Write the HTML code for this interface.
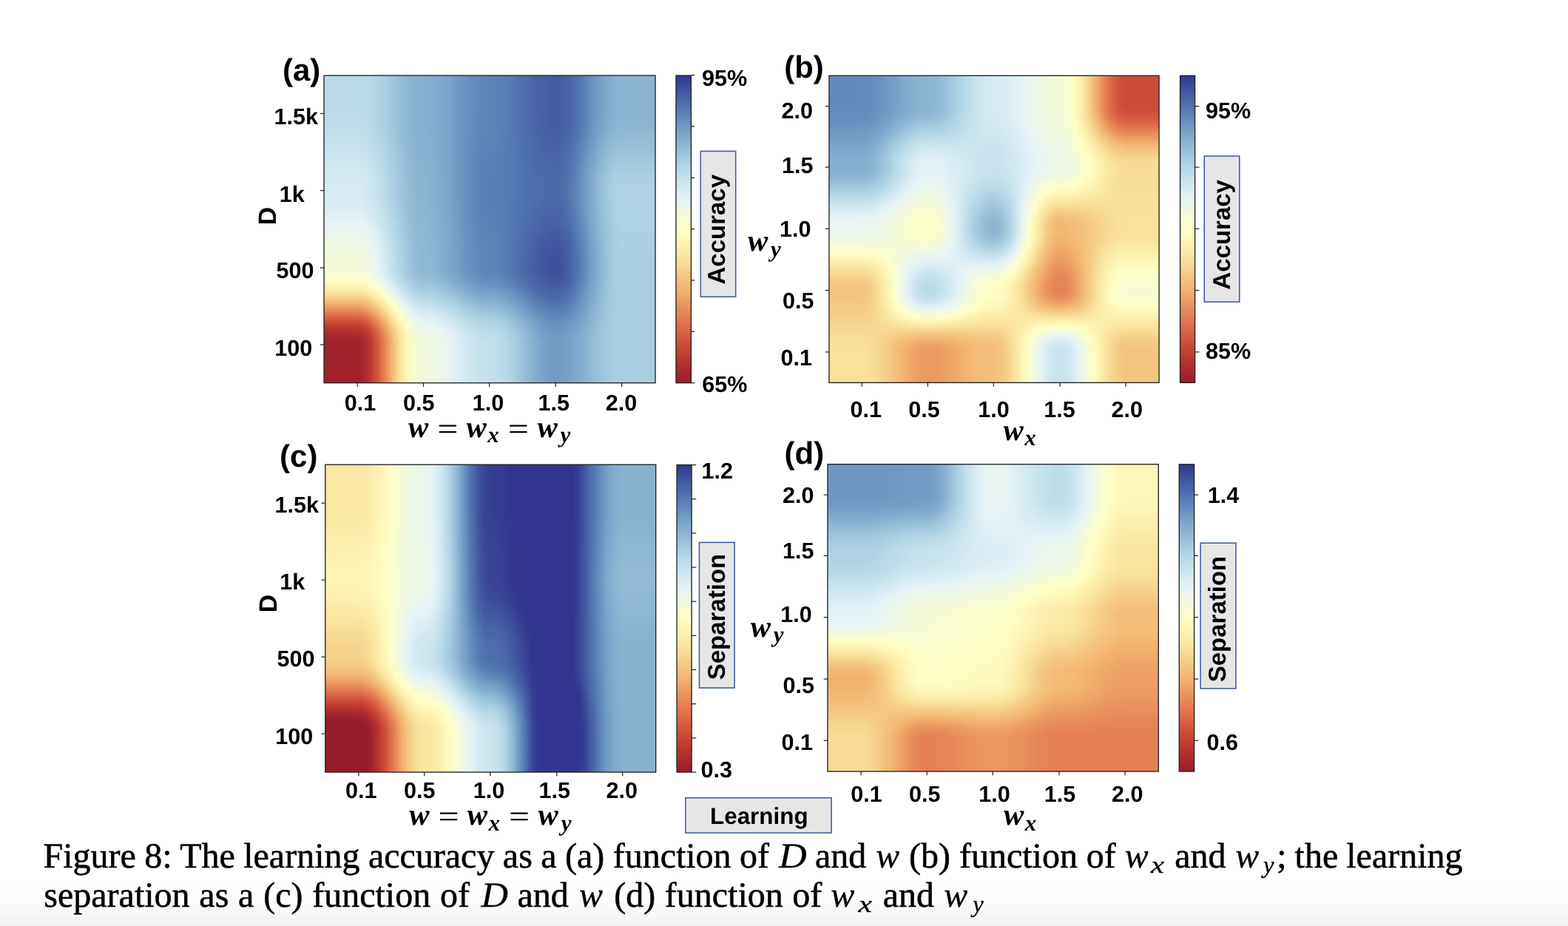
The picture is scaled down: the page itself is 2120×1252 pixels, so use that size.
<!DOCTYPE html>
<html lang="en"><head><meta charset="utf-8"><title>Figure 8</title>
<style>
html,body{margin:0;padding:0;background:#fff;overflow:hidden}
body{width:2120px;height:1252px;position:relative;overflow:hidden;font-family:"Liberation Sans",sans-serif}
.hm,.cb{position:absolute}
.hm{overflow:hidden}
.hs{margin-top:-8px;filter:url(#vb)}
.hm i{display:block;height:4px}
svg{position:absolute;left:0;top:0}
text{text-rendering:geometricPrecision}
.sb{font-family:"Liberation Sans",sans-serif;font-weight:700;fill:#000}
.mi{font-family:"Liberation Serif",serif;font-weight:700;font-style:italic;fill:#000}
.eqs{font-family:"Liberation Serif",serif;font-weight:700;fill:#000}
.cp{font-family:"Liberation Serif",serif;fill:#000}
.ci{font-family:"Liberation Serif",serif;font-style:italic;fill:#000}
.cb2{stroke:#000;stroke-width:.55px}
.cb3{stroke:#000;stroke-width:.3px}
.ft{position:absolute;left:0;top:1190px;width:2120px;height:62px;background:linear-gradient(180deg,#fff,#fefefe 25%,#fbfbfb 50%,#f7f7f7 75%,#f1f1f1)}
</style></head>
<body>
<div class="ft"></div>
<div class="hm" style="left:438px;top:102px;width:448px;height:416px"><div class="hs">
<i style="background:linear-gradient(90deg,#bddcea,#bddcea,#bddcea,#bddcea,#bddcea,#bddcea,#bddcea,#bbdbe9,#b7d9e8,#b1d5e6,#abd0e3,#a3c9de,#9bc2da,#95bdd7,#8fb8d4,#89b2d1,#87b1d1,#85afd0,#85afd0,#81abce,#7da7cb,#79a3c9,#739cc5,#6e96c2,#6a91bf,#648bbc,#6289ba,#5e84b8,#5e84b8,#5c82b7,#5b80b6,#597eb4,#5579b2,#5073af,#4d6eac,#4b69aa,#4762a6,#465fa5,#455da3,#435aa2,#455da3,#4762a6,#4b69aa,#5175b0,#5b80b6,#668dbd,#6f98c3,#79a3c9,#81abce,#87b1d1,#8bb4d2,#8bb4d2,#8bb4d2,#8bb4d2,#8bb4d2,#8bb4d2,#8bb4d2)"></i>
<i style="background:linear-gradient(90deg,#bddcea,#bddcea,#bddcea,#bddcea,#bddcea,#bddcea,#bddcea,#bbdbe9,#b7d9e8,#b1d5e6,#abd0e3,#a3c9de,#9bc2da,#95bdd7,#8fb8d4,#89b2d1,#87b1d1,#85afd0,#85afd0,#81abce,#7da7cb,#79a3c9,#739cc5,#6e96c2,#6a91bf,#648bbc,#6289ba,#5e84b8,#5e84b8,#5c82b7,#5b80b6,#597eb4,#5579b2,#5073af,#4d6eac,#4b69aa,#4762a6,#465fa5,#455da3,#435aa2,#455da3,#4762a6,#4b69aa,#5175b0,#5b80b6,#668dbd,#6f98c3,#79a3c9,#81abce,#87b1d1,#8bb4d2,#8bb4d2,#8bb4d2,#8bb4d2,#8bb4d2,#8bb4d2,#8bb4d2)"></i>
<i style="background:linear-gradient(90deg,#bddcea,#bddcea,#bddcea,#bddcea,#bddcea,#bddcea,#bddcea,#bbdbe9,#b7d9e8,#b1d5e6,#abd0e3,#a3c9de,#9bc2da,#95bdd7,#8fb8d4,#89b2d1,#87b1d1,#85afd0,#85afd0,#81abce,#7da7cb,#79a3c9,#739cc5,#6e96c2,#6a91bf,#648bbc,#6289ba,#5e84b8,#5e84b8,#5c82b7,#5b80b6,#597eb4,#5579b2,#5073af,#4d6eac,#4b69aa,#4762a6,#465fa5,#455da3,#435aa2,#455da3,#4762a6,#4b69aa,#5175b0,#5b80b6,#668dbd,#6f98c3,#79a3c9,#81abce,#87b1d1,#8bb4d2,#8bb4d2,#8bb4d2,#8bb4d2,#8bb4d2,#8bb4d2,#8bb4d2)"></i>
<i style="background:linear-gradient(90deg,#bddcea,#bddcea,#bddcea,#bddcea,#bddcea,#bddcea,#bddcea,#bbdbe9,#b7d9e8,#b1d5e6,#abd0e3,#a3c9de,#9bc2da,#95bdd7,#8fb8d4,#89b2d1,#87b1d1,#85afd0,#85afd0,#81abce,#7da7cb,#79a3c9,#739cc5,#6e96c2,#6a91bf,#648bbc,#6289ba,#5e84b8,#5e84b8,#5c82b7,#5b80b6,#597eb4,#5579b2,#5073af,#4d6eac,#4b69aa,#4762a6,#465fa5,#455da3,#435aa2,#455da3,#4762a6,#4b69aa,#5175b0,#5b80b6,#668dbd,#6f98c3,#79a3c9,#81abce,#87b1d1,#8bb4d2,#8bb4d2,#8bb4d2,#8bb4d2,#8bb4d2,#8bb4d2,#8bb4d2)"></i>
<i style="background:linear-gradient(90deg,#bddcea,#bddcea,#bddcea,#bddcea,#bddcea,#bddcea,#bddcea,#bbdbe9,#b7d9e8,#b1d5e6,#abd0e3,#a3c9de,#9bc2da,#95bdd7,#8fb8d4,#89b2d1,#87b1d1,#85afd0,#85afd0,#81abce,#7da7cb,#79a3c9,#739cc5,#6e96c2,#6a91bf,#648bbc,#6289ba,#5e84b8,#5e84b8,#5c82b7,#5b80b6,#597eb4,#5579b2,#5073af,#4d6eac,#4b69aa,#4762a6,#465fa5,#455da3,#435aa2,#455da3,#4762a6,#4b69aa,#5175b0,#5b80b6,#668dbd,#6f98c3,#79a3c9,#81abce,#87b1d1,#8bb4d2,#8bb4d2,#8bb4d2,#8bb4d2,#8bb4d2,#8bb4d2,#8bb4d2)"></i>
<i style="background:linear-gradient(90deg,#bddcea,#bddcea,#bddcea,#bddcea,#bddcea,#bddcea,#bddcea,#bbdbe9,#b7d9e8,#b1d5e6,#abd0e3,#a3c9de,#9bc2da,#95bdd7,#8fb8d4,#89b2d1,#87b1d1,#85afd0,#85afd0,#81abce,#7da7cb,#79a3c9,#739cc5,#6e96c2,#6a91bf,#648bbc,#6289ba,#5e84b8,#5e84b8,#5c82b7,#5b80b6,#597eb4,#5579b2,#5073af,#4d6eac,#4b69aa,#4762a6,#465fa5,#455da3,#435aa2,#455da3,#4762a6,#4b69aa,#5175b0,#5b80b6,#668dbd,#6f98c3,#79a3c9,#81abce,#87b1d1,#8bb4d2,#8bb4d2,#8bb4d2,#8bb4d2,#8bb4d2,#8bb4d2,#8bb4d2)"></i>
<i style="background:linear-gradient(90deg,#bddcea,#bddcea,#bddcea,#bddcea,#bddcea,#bddcea,#bddcea,#bbdbe9,#b7d9e8,#b1d5e6,#abd0e3,#a3c9de,#9bc2da,#95bdd7,#8fb8d4,#89b2d1,#87b1d1,#85afd0,#85afd0,#81abce,#7da7cb,#79a3c9,#739cc5,#6e96c2,#6a91bf,#648bbc,#6289ba,#5e84b8,#5e84b8,#5c82b7,#5b80b6,#597eb4,#5579b2,#5073af,#4d6eac,#4b69aa,#4762a6,#465fa5,#455da3,#435aa2,#455da3,#4762a6,#4b69aa,#5175b0,#5b80b6,#668dbd,#6f98c3,#79a3c9,#81abce,#87b1d1,#8bb4d2,#8bb4d2,#8bb4d2,#8bb4d2,#8bb4d2,#8bb4d2,#8bb4d2)"></i>
<i style="background:linear-gradient(90deg,#bddcea,#bddcea,#bddcea,#bddcea,#bddcea,#bddcea,#bddcea,#bbdbe9,#b7d9e8,#b1d5e6,#abd0e3,#a3c9de,#9bc2da,#95bdd7,#8fb8d4,#89b2d1,#87b1d1,#85afd0,#85afd0,#81abce,#7da7cb,#79a3c9,#739cc5,#6e96c2,#6a91bf,#648bbc,#6289ba,#5e84b8,#5e84b8,#5c82b7,#5b80b6,#597eb4,#5579b2,#5073af,#4d6eac,#4b69aa,#4762a6,#465fa5,#455da3,#435aa2,#455da3,#4762a6,#4b69aa,#5175b0,#5b80b6,#668dbd,#6f98c3,#79a3c9,#81abce,#87b1d1,#8bb4d2,#8bb4d2,#8bb4d2,#8bb4d2,#8bb4d2,#8bb4d2,#8bb4d2)"></i>
<i style="background:linear-gradient(90deg,#bddcea,#bddcea,#bddcea,#bddcea,#bddcea,#bddcea,#bddcea,#bbdbe9,#b7d9e8,#b1d5e6,#abd0e3,#a3c9de,#9bc2da,#95bdd7,#8fb8d4,#89b2d1,#87b1d1,#85afd0,#85afd0,#81abce,#7da7cb,#79a3c9,#739cc5,#6e96c2,#6a91bf,#648bbc,#6289ba,#5e84b8,#5e84b8,#5c82b7,#5b80b6,#597eb4,#5579b2,#5073af,#4d6eac,#4b69aa,#4762a6,#465fa5,#455da3,#435aa2,#455da3,#4762a6,#4b69aa,#5175b0,#5b80b6,#668dbd,#6f98c3,#79a3c9,#81abce,#87b1d1,#8bb4d2,#8bb4d2,#8bb4d2,#8bb4d2,#8bb4d2,#8bb4d2,#8bb4d2)"></i>
<i style="background:linear-gradient(90deg,#bddcea,#bddcea,#bddcea,#bddcea,#bddcea,#bddcea,#bddcea,#bbdbe9,#b7d9e8,#b1d5e6,#abd0e3,#a3c9de,#9bc2da,#95bdd7,#8fb8d4,#89b2d1,#87b1d1,#85afd0,#85afd0,#81abce,#7da7cb,#79a3c9,#739cc5,#6e96c2,#6a91bf,#648bbc,#6289ba,#5e84b8,#5e84b8,#5c82b7,#5b80b6,#597eb4,#5579b2,#5073af,#4d6eac,#4b69aa,#4762a6,#465fa5,#455da3,#435aa2,#455da3,#4762a6,#4b69aa,#5175b0,#5b80b6,#668dbd,#6f98c3,#79a3c9,#81abce,#87b1d1,#8bb4d2,#8bb4d2,#8bb4d2,#8bb4d2,#8bb4d2,#8bb4d2,#8bb4d2)"></i>
<i style="background:linear-gradient(90deg,#bddcea,#bddcea,#bddcea,#bddcea,#bddcea,#bddcea,#bddcea,#bbdbe9,#b7d9e8,#b1d5e6,#abd0e3,#a3c9de,#9bc2da,#95bdd7,#8fb8d4,#89b2d1,#87b1d1,#85afd0,#85afd0,#81abce,#7da7cb,#79a3c9,#739cc5,#6e96c2,#6a91bf,#648bbc,#6289ba,#5e84b8,#5e84b8,#5c82b7,#5b80b6,#597eb4,#5579b2,#5073af,#4d6eac,#4b69aa,#4762a6,#465fa5,#455da3,#435aa2,#455da3,#4762a6,#4b69aa,#5175b0,#5b80b6,#668dbd,#6f98c3,#79a3c9,#81abce,#87b1d1,#8bb4d2,#8bb4d2,#8bb4d2,#8bb4d2,#8bb4d2,#8bb4d2,#8bb4d2)"></i>
<i style="background:linear-gradient(90deg,#bddcea,#bddcea,#bddcea,#bddcea,#bddcea,#bddcea,#bddcea,#bbdbe9,#b7d9e8,#b1d5e6,#abd0e3,#a3c9de,#9bc2da,#95bdd7,#8fb8d4,#89b2d1,#87b1d1,#85afd0,#85afd0,#81abce,#7da7cb,#79a3c9,#739cc5,#6e96c2,#6a91bf,#648bbc,#6289ba,#5e84b8,#5e84b8,#5c82b7,#5b80b6,#597eb4,#5579b2,#5073af,#4d6eac,#4b69aa,#4762a6,#465fa5,#455da3,#435aa2,#455da3,#4762a6,#4b69aa,#5175b0,#5b80b6,#668dbd,#6f98c3,#79a3c9,#81abce,#87b1d1,#8bb4d2,#8bb4d2,#8bb4d2,#8bb4d2,#8bb4d2,#8bb4d2,#8bb4d2)"></i>
<i style="background:linear-gradient(90deg,#bddcea,#bddcea,#bddcea,#bddcea,#bddcea,#bddcea,#bddcea,#bbdbe9,#b7d9e8,#b1d5e6,#abd0e3,#a3c9de,#9bc2da,#95bdd7,#8fb8d4,#89b2d1,#87b1d1,#85afd0,#85afd0,#81abce,#7da7cb,#79a3c9,#739cc5,#6e96c2,#6a91bf,#648bbc,#6289ba,#5e84b8,#5e84b8,#5c82b7,#5b80b6,#597eb4,#5579b2,#5073af,#4d6eac,#4b69aa,#4762a6,#465fa5,#455da3,#435aa2,#455da3,#4762a6,#4b69aa,#5175b0,#5b80b6,#668dbd,#6f98c3,#79a3c9,#81abce,#87b1d1,#8bb4d2,#8bb4d2,#8bb4d2,#8bb4d2,#8bb4d2,#8bb4d2,#8bb4d2)"></i>
<i style="background:linear-gradient(90deg,#bddcea,#bddcea,#bddcea,#bddcea,#bddcea,#bddcea,#bddcea,#bbdbe9,#b7d9e8,#b1d5e6,#abd0e3,#a3c9de,#9bc2da,#95bdd7,#8fb8d4,#89b2d1,#87b1d1,#85afd0,#85afd0,#81abce,#7da7cb,#79a3c9,#739cc5,#6e96c2,#6a91bf,#648bbc,#6289ba,#5e84b8,#5e84b8,#5c82b7,#5b80b6,#597eb4,#5579b2,#5073af,#4d6eac,#4b69aa,#4762a6,#465fa5,#455da3,#435aa2,#455da3,#4762a6,#4b69aa,#5175b0,#5b80b6,#668dbd,#6f98c3,#79a3c9,#81abce,#87b1d1,#8bb4d2,#8bb4d2,#8bb4d2,#8bb4d2,#8bb4d2,#8bb4d2,#8bb4d2)"></i>
<i style="background:linear-gradient(90deg,#bddcea,#bddcea,#bddcea,#bddcea,#bddcea,#bddcea,#bddcea,#bbdbe9,#b7d9e8,#b1d5e6,#abd0e3,#a3c9de,#9bc2da,#95bdd7,#8fb8d4,#89b2d1,#87b1d1,#85afd0,#85afd0,#81abce,#7da7cb,#79a3c9,#739cc5,#6e96c2,#6a91bf,#648bbc,#6289ba,#5e84b8,#5e84b8,#5c82b7,#5b80b6,#597eb4,#5579b2,#5073af,#4d6eac,#4b69aa,#4762a6,#465fa5,#455da3,#435aa2,#455da3,#4762a6,#4b69aa,#5175b0,#5b80b6,#668dbd,#6f98c3,#79a3c9,#81abce,#87b1d1,#8bb4d2,#8bb4d2,#8bb4d2,#8bb4d2,#8bb4d2,#8bb4d2,#8bb4d2)"></i>
<i style="background:linear-gradient(90deg,#bddcea,#bddcea,#bddcea,#bddcea,#bddcea,#bddcea,#bddcea,#bbdbe9,#b7d9e8,#b1d5e6,#abd0e3,#a3c9de,#9bc2da,#95bdd7,#8fb8d4,#89b2d1,#87b1d1,#85afd0,#85afd0,#81abce,#7da7cb,#79a3c9,#739cc5,#6e96c2,#6a91bf,#648bbc,#6289ba,#5e84b8,#5e84b8,#5c82b7,#5b80b6,#597eb4,#5579b2,#5073af,#4d6eac,#4b69aa,#4762a6,#465fa5,#455da3,#435aa2,#455da3,#4762a6,#4b69aa,#5175b0,#5b80b6,#668dbd,#6f98c3,#79a3c9,#81abce,#87b1d1,#8bb4d2,#8bb4d2,#8bb4d2,#8bb4d2,#8bb4d2,#8bb4d2,#8bb4d2)"></i>
<i style="background:linear-gradient(90deg,#beddeb,#beddeb,#beddeb,#beddeb,#beddeb,#beddeb,#bddcea,#bbdbe9,#b7d9e8,#b1d5e6,#abd0e3,#a3c9de,#9bc2da,#95bdd7,#8fb8d4,#89b2d1,#87b1d1,#85afd0,#85afd0,#81abce,#7da7cb,#79a3c9,#739cc5,#6e96c2,#6a91bf,#648bbc,#6086b9,#5e84b8,#5e84b8,#5c82b7,#5b80b6,#597eb4,#5579b2,#5073af,#4d6eac,#4b69aa,#4864a7,#465fa5,#455da3,#435aa2,#455da3,#4762a6,#4c6bab,#5175b0,#5b80b6,#668dbd,#6f98c3,#79a3c9,#81abce,#87b1d1,#8bb4d2,#8bb4d2,#8bb4d2,#8bb4d2,#8bb4d2,#8bb4d2,#8bb4d2)"></i>
<i style="background:linear-gradient(90deg,#beddeb,#beddeb,#beddeb,#beddeb,#beddeb,#beddeb,#beddeb,#bddcea,#b7d9e8,#b1d5e6,#abd0e3,#a3c9de,#9bc2da,#95bdd7,#8fb8d4,#89b2d1,#87b1d1,#85afd0,#85afd0,#81abce,#7da7cb,#79a3c9,#739cc5,#6e96c2,#6a91bf,#648bbc,#6086b9,#5e84b8,#5e84b8,#5c82b7,#5b80b6,#597eb4,#5579b2,#5073af,#4d6eac,#4b69aa,#4864a7,#465fa5,#455da3,#435aa2,#455da3,#4762a6,#4c6bab,#5175b0,#5c82b7,#668dbd,#719ac4,#7ba5ca,#83adcf,#89b2d1,#8bb4d2,#8bb4d2,#8bb4d2,#8bb4d2,#8bb4d2,#8bb4d2,#8bb4d2)"></i>
<i style="background:linear-gradient(90deg,#beddeb,#beddeb,#beddeb,#beddeb,#beddeb,#beddeb,#beddeb,#bddcea,#b9dae9,#b3d7e7,#abd0e3,#a3c9de,#9dc4db,#95bdd7,#8fb8d4,#89b2d1,#87b1d1,#85afd0,#85afd0,#81abce,#7da7cb,#79a3c9,#739cc5,#6e96c2,#6a91bf,#648bbc,#6086b9,#5e84b8,#5e84b8,#5c82b7,#5b80b6,#597eb4,#5579b2,#5073af,#4d6eac,#4b69aa,#4864a7,#465fa5,#455da3,#435aa2,#455da3,#4762a6,#4c6bab,#5377b1,#5c82b7,#668dbd,#719ac4,#7ba5ca,#83adcf,#89b2d1,#8db6d3,#8db6d3,#8db6d3,#8db6d3,#8db6d3,#8db6d3,#8db6d3)"></i>
<i style="background:linear-gradient(90deg,#c0deeb,#c0deeb,#c0deeb,#c0deeb,#c0deeb,#c0deeb,#beddeb,#bddcea,#b9dae9,#b3d7e7,#abd0e3,#a5cbdf,#9dc4db,#95bdd7,#8fb8d4,#89b2d1,#87b1d1,#87b1d1,#85afd0,#81abce,#7da7cb,#79a3c9,#739cc5,#6e96c2,#6a91bf,#648bbc,#6086b9,#5e84b8,#5e84b8,#5c82b7,#5b80b6,#597eb4,#5579b2,#5073af,#4d6eac,#4b69aa,#4864a7,#465fa5,#455da3,#455da3,#455da3,#4864a7,#4c6bab,#5377b1,#5c82b7,#688fbe,#719ac4,#7ba5ca,#85afd0,#8bb4d2,#8db6d3,#8db6d3,#8db6d3,#8db6d3,#8db6d3,#8db6d3,#8db6d3)"></i>
<i style="background:linear-gradient(90deg,#c0deeb,#c0deeb,#c0deeb,#c0deeb,#c0deeb,#c0deeb,#c0deeb,#beddeb,#b9dae9,#b3d7e7,#add2e4,#a5cbdf,#9dc4db,#95bdd7,#8fb8d4,#8bb4d2,#87b1d1,#87b1d1,#85afd0,#81abce,#7da7cb,#79a3c9,#739cc5,#6e96c2,#6a91bf,#648bbc,#6086b9,#5e84b8,#5e84b8,#5c82b7,#5b80b6,#597eb4,#5579b2,#5073af,#4d6eac,#4b69aa,#4864a7,#465fa5,#455da3,#455da3,#455da3,#4864a7,#4c6bab,#5377b1,#5e84b8,#688fbe,#739cc5,#7da7cb,#85afd0,#8bb4d2,#8fb8d4,#8fb8d4,#8fb8d4,#8fb8d4,#8fb8d4,#8fb8d4,#8fb8d4)"></i>
<i style="background:linear-gradient(90deg,#c2e0ec,#c2e0ec,#c2e0ec,#c2e0ec,#c2e0ec,#c2e0ec,#c0deeb,#beddeb,#bbdbe9,#b5d8e7,#add2e4,#a5cbdf,#9dc4db,#97bfd8,#8fb8d4,#8bb4d2,#87b1d1,#87b1d1,#85afd0,#83adcf,#7da7cb,#79a3c9,#739cc5,#6e96c2,#6a91bf,#648bbc,#6086b9,#5e84b8,#5c82b7,#5c82b7,#5b80b6,#577bb3,#5579b2,#5073af,#4d6eac,#4b69aa,#4864a7,#4762a6,#455da3,#455da3,#465fa5,#4864a7,#4d6eac,#5579b2,#5e84b8,#6a91bf,#739cc5,#7fa9cc,#87b1d1,#8db6d3,#91b9d5,#91b9d5,#91b9d5,#91b9d5,#91b9d5,#91b9d5,#91b9d5)"></i>
<i style="background:linear-gradient(90deg,#c2e0ec,#c2e0ec,#c2e0ec,#c2e0ec,#c2e0ec,#c2e0ec,#c2e0ec,#c0deeb,#bbdbe9,#b5d8e7,#afd3e5,#a7cce0,#9fc5dc,#97bfd8,#91b9d5,#8bb4d2,#87b1d1,#87b1d1,#85afd0,#83adcf,#7fa9cc,#79a3c9,#739cc5,#6e96c2,#6a91bf,#648bbc,#6086b9,#5e84b8,#5c82b7,#5c82b7,#5b80b6,#577bb3,#5579b2,#5073af,#4d6eac,#4b69aa,#4864a7,#4762a6,#465fa5,#455da3,#465fa5,#4864a7,#4d6eac,#5579b2,#6086b9,#6a91bf,#759ec6,#7fa9cc,#89b2d1,#8fb8d4,#91b9d5,#93bbd6,#93bbd6,#93bbd6,#93bbd6,#93bbd6,#93bbd6)"></i>
<i style="background:linear-gradient(90deg,#c4e1ec,#c4e1ec,#c4e1ec,#c4e1ec,#c4e1ec,#c4e1ec,#c4e1ec,#c0deeb,#bddcea,#b7d9e8,#afd3e5,#a7cce0,#9fc5dc,#97bfd8,#91b9d5,#8bb4d2,#87b1d1,#87b1d1,#85afd0,#83adcf,#7fa9cc,#79a3c9,#739cc5,#6e96c2,#688fbe,#648bbc,#6086b9,#5e84b8,#5c82b7,#5c82b7,#5b80b6,#577bb3,#5579b2,#5175b0,#4d6eac,#4c6bab,#4966a8,#4762a6,#465fa5,#465fa5,#465fa5,#4966a8,#4e70ad,#5579b2,#6086b9,#6c93c0,#77a1c8,#81abce,#89b2d1,#91b9d5,#93bbd6,#93bbd6,#93bbd6,#93bbd6,#93bbd6,#93bbd6,#93bbd6)"></i>
<i style="background:linear-gradient(90deg,#c4e1ec,#c4e1ec,#c4e1ec,#c4e1ec,#c4e1ec,#c4e1ec,#c4e1ec,#c2e0ec,#beddeb,#b7d9e8,#b1d5e6,#a7cce0,#9fc5dc,#97bfd8,#91b9d5,#8bb4d2,#89b2d1,#87b1d1,#85afd0,#83adcf,#7fa9cc,#79a3c9,#739cc5,#6e96c2,#688fbe,#648bbc,#6086b9,#5e84b8,#5c82b7,#5c82b7,#5b80b6,#577bb3,#5579b2,#5175b0,#4e70ad,#4c6bab,#4966a8,#4762a6,#465fa5,#465fa5,#4762a6,#4966a8,#4e70ad,#577bb3,#6289ba,#6e96c2,#77a1c8,#83adcf,#8bb4d2,#93bbd6,#95bdd7,#95bdd7,#95bdd7,#95bdd7,#95bdd7,#95bdd7,#95bdd7)"></i>
<i style="background:linear-gradient(90deg,#c6e2ed,#c6e2ed,#c6e2ed,#c6e2ed,#c6e2ed,#c6e2ed,#c6e2ed,#c4e1ec,#beddeb,#b9dae9,#b1d5e6,#a9cee2,#a1c7dd,#99c0d9,#91b9d5,#8bb4d2,#89b2d1,#87b1d1,#85afd0,#83adcf,#7fa9cc,#79a3c9,#739cc5,#6e96c2,#688fbe,#648bbc,#6086b9,#5c82b7,#5c82b7,#5c82b7,#5b80b6,#577bb3,#5579b2,#5175b0,#4e70ad,#4c6bab,#4966a8,#4864a7,#4762a6,#465fa5,#4762a6,#4b69aa,#4e70ad,#597eb4,#6289ba,#6e96c2,#79a3c9,#85afd0,#8db6d3,#95bdd7,#97bfd8,#97bfd8,#97bfd8,#97bfd8,#97bfd8,#97bfd8,#97bfd8)"></i>
<i style="background:linear-gradient(90deg,#c8e3ee,#c8e3ee,#c8e3ee,#c8e3ee,#c8e3ee,#c8e3ee,#c8e3ee,#c4e1ec,#c0deeb,#bbdbe9,#b3d7e7,#a9cee2,#a1c7dd,#99c0d9,#91b9d5,#8db6d3,#89b2d1,#87b1d1,#87b1d1,#83adcf,#7fa9cc,#79a3c9,#739cc5,#6e96c2,#688fbe,#648bbc,#6086b9,#5c82b7,#5c82b7,#5b80b6,#5b80b6,#577bb3,#5579b2,#5175b0,#4e70ad,#4c6bab,#4966a8,#4864a7,#4762a6,#4762a6,#4762a6,#4b69aa,#5073af,#597eb4,#648bbc,#6f98c3,#7ba5ca,#87b1d1,#8fb8d4,#95bdd7,#99c0d9,#99c0d9,#99c0d9,#99c0d9,#99c0d9,#99c0d9,#99c0d9)"></i>
<i style="background:linear-gradient(90deg,#c9e4ee,#c9e4ee,#c9e4ee,#c9e4ee,#c9e4ee,#c9e4ee,#c8e3ee,#c6e2ed,#c2e0ec,#bbdbe9,#b3d7e7,#abd0e3,#a1c7dd,#99c0d9,#93bbd6,#8db6d3,#89b2d1,#89b2d1,#87b1d1,#83adcf,#7fa9cc,#79a3c9,#739cc5,#6e96c2,#688fbe,#648bbc,#5e84b8,#5c82b7,#5c82b7,#5b80b6,#597eb4,#577bb3,#5579b2,#5175b0,#4e70ad,#4c6bab,#4b69aa,#4864a7,#4762a6,#4762a6,#4864a7,#4b69aa,#5073af,#5b80b6,#648bbc,#719ac4,#7da7cb,#87b1d1,#91b9d5,#97bfd8,#9bc2da,#9bc2da,#9bc2da,#9bc2da,#9bc2da,#9bc2da,#9bc2da)"></i>
<i style="background:linear-gradient(90deg,#c9e4ee,#c9e4ee,#c9e4ee,#c9e4ee,#c9e4ee,#c9e4ee,#c9e4ee,#c8e3ee,#c2e0ec,#bddcea,#b5d8e7,#abd0e3,#a3c9de,#9bc2da,#93bbd6,#8db6d3,#89b2d1,#89b2d1,#87b1d1,#83adcf,#7fa9cc,#79a3c9,#739cc5,#6e96c2,#688fbe,#6289ba,#5e84b8,#5c82b7,#5c82b7,#5b80b6,#597eb4,#577bb3,#5579b2,#5175b0,#4e70ad,#4d6eac,#4b69aa,#4966a8,#4864a7,#4762a6,#4864a7,#4c6bab,#5175b0,#5b80b6,#668dbd,#719ac4,#7fa9cc,#89b2d1,#93bbd6,#9bc2da,#9dc4db,#9dc4db,#9dc4db,#9dc4db,#9dc4db,#9dc4db,#9dc4db)"></i>
<i style="background:linear-gradient(90deg,#cbe5ef,#cbe5ef,#cbe5ef,#cbe5ef,#cbe5ef,#cbe5ef,#cbe5ef,#c9e4ee,#c4e1ec,#bddcea,#b5d8e7,#add2e4,#a3c9de,#9bc2da,#93bbd6,#8db6d3,#89b2d1,#89b2d1,#87b1d1,#83adcf,#7fa9cc,#79a3c9,#739cc5,#6e96c2,#688fbe,#6289ba,#5e84b8,#5c82b7,#5b80b6,#5b80b6,#597eb4,#577bb3,#5579b2,#5175b0,#4e70ad,#4d6eac,#4b69aa,#4966a8,#4864a7,#4864a7,#4966a8,#4c6bab,#5175b0,#5c82b7,#688fbe,#739cc5,#7fa9cc,#8bb4d2,#95bdd7,#9bc2da,#9fc5dc,#9fc5dc,#9fc5dc,#9fc5dc,#9fc5dc,#9fc5dc,#9fc5dc)"></i>
<i style="background:linear-gradient(90deg,#cde6f0,#cde6f0,#cde6f0,#cde6f0,#cde6f0,#cde6f0,#cde6f0,#c9e4ee,#c6e2ed,#beddeb,#b7d9e8,#add2e4,#a3c9de,#9bc2da,#93bbd6,#8db6d3,#89b2d1,#89b2d1,#87b1d1,#83adcf,#7fa9cc,#79a3c9,#739cc5,#6e96c2,#688fbe,#6289ba,#5e84b8,#5c82b7,#5b80b6,#5b80b6,#597eb4,#577bb3,#5579b2,#5175b0,#4e70ad,#4d6eac,#4b69aa,#4966a8,#4864a7,#4864a7,#4966a8,#4d6eac,#5377b1,#5c82b7,#688fbe,#759ec6,#81abce,#8db6d3,#97bfd8,#9dc4db,#a1c7dd,#a1c7dd,#a1c7dd,#a1c7dd,#a1c7dd,#a1c7dd,#a1c7dd)"></i>
<i style="background:linear-gradient(90deg,#cde6f0,#cde6f0,#cde6f0,#cde6f0,#cde6f0,#cde6f0,#cde6f0,#cbe5ef,#c6e2ed,#c0deeb,#b7d9e8,#afd3e5,#a5cbdf,#9bc2da,#95bdd7,#8fb8d4,#8bb4d2,#89b2d1,#87b1d1,#85afd0,#7fa9cc,#79a3c9,#739cc5,#6e96c2,#688fbe,#6289ba,#5e84b8,#5c82b7,#5b80b6,#5b80b6,#597eb4,#577bb3,#5579b2,#5175b0,#5073af,#4d6eac,#4c6bab,#4b69aa,#4966a8,#4864a7,#4966a8,#4d6eac,#5377b1,#5e84b8,#6a91bf,#77a1c8,#83adcf,#8fb8d4,#99c0d9,#9fc5dc,#a3c9de,#a3c9de,#a3c9de,#a3c9de,#a3c9de,#a3c9de,#a3c9de)"></i>
<i style="background:linear-gradient(90deg,#cfe7f0,#cfe7f0,#cfe7f0,#cfe7f0,#cfe7f0,#cfe7f0,#cfe7f0,#cde6f0,#c8e3ee,#c0deeb,#b9dae9,#afd3e5,#a5cbdf,#9dc4db,#95bdd7,#8fb8d4,#8bb4d2,#89b2d1,#87b1d1,#85afd0,#7fa9cc,#7ba5ca,#739cc5,#6e96c2,#688fbe,#6289ba,#5e84b8,#5b80b6,#5b80b6,#5b80b6,#597eb4,#577bb3,#5579b2,#5175b0,#5073af,#4d6eac,#4c6bab,#4b69aa,#4966a8,#4966a8,#4b69aa,#4d6eac,#5579b2,#5e84b8,#6c93c0,#77a1c8,#85afd0,#91b9d5,#9bc2da,#a1c7dd,#a5cbdf,#a5cbdf,#a5cbdf,#a5cbdf,#a5cbdf,#a5cbdf,#a5cbdf)"></i>
<i style="background:linear-gradient(90deg,#d1e8f1,#d1e8f1,#d1e8f1,#d1e8f1,#d1e8f1,#d1e8f1,#d1e8f1,#cde6f0,#c8e3ee,#c2e0ec,#b9dae9,#afd3e5,#a5cbdf,#9dc4db,#95bdd7,#8fb8d4,#8bb4d2,#89b2d1,#89b2d1,#85afd0,#7fa9cc,#7ba5ca,#739cc5,#6e96c2,#688fbe,#6289ba,#5e84b8,#5b80b6,#5b80b6,#5b80b6,#597eb4,#577bb3,#5579b2,#5175b0,#5073af,#4d6eac,#4c6bab,#4b69aa,#4966a8,#4966a8,#4b69aa,#4e70ad,#5579b2,#6086b9,#6c93c0,#79a3c9,#85afd0,#91b9d5,#9bc2da,#a3c9de,#a7cce0,#a7cce0,#a7cce0,#a7cce0,#a7cce0,#a7cce0,#a7cce0)"></i>
<i style="background:linear-gradient(90deg,#d1e8f1,#d1e8f1,#d1e8f1,#d1e8f1,#d1e8f1,#d1e8f1,#d1e8f1,#cfe7f0,#c9e4ee,#c2e0ec,#bbdbe9,#b1d5e6,#a7cce0,#9dc4db,#95bdd7,#8fb8d4,#8bb4d2,#89b2d1,#89b2d1,#85afd0,#7fa9cc,#7ba5ca,#739cc5,#6e96c2,#688fbe,#6289ba,#5e84b8,#5b80b6,#5b80b6,#597eb4,#597eb4,#577bb3,#5579b2,#5175b0,#5073af,#4e70ad,#4c6bab,#4b69aa,#4b69aa,#4966a8,#4b69aa,#4e70ad,#5579b2,#6086b9,#6e96c2,#79a3c9,#87b1d1,#93bbd6,#9dc4db,#a5cbdf,#a9cee2,#a9cee2,#a9cee2,#a9cee2,#a9cee2,#a9cee2,#a9cee2)"></i>
<i style="background:linear-gradient(90deg,#d3e9f2,#d3e9f2,#d3e9f2,#d3e9f2,#d3e9f2,#d3e9f2,#d3e9f2,#cfe7f0,#c9e4ee,#c2e0ec,#bbdbe9,#b1d5e6,#a7cce0,#9dc4db,#95bdd7,#8fb8d4,#8bb4d2,#8bb4d2,#89b2d1,#85afd0,#81abce,#7ba5ca,#739cc5,#6e96c2,#688fbe,#6289ba,#5e84b8,#5b80b6,#5b80b6,#597eb4,#597eb4,#577bb3,#5579b2,#5175b0,#5073af,#4e70ad,#4d6eac,#4c6bab,#4b69aa,#4b69aa,#4c6bab,#4e70ad,#577bb3,#6086b9,#6e96c2,#7ba5ca,#89b2d1,#95bdd7,#9fc5dc,#a7cce0,#abd0e3,#abd0e3,#abd0e3,#abd0e3,#abd0e3,#abd0e3,#abd0e3)"></i>
<i style="background:linear-gradient(90deg,#d3e9f2,#d3e9f2,#d3e9f2,#d3e9f2,#d3e9f2,#d3e9f2,#d3e9f2,#d1e8f1,#cbe5ef,#c4e1ec,#bbdbe9,#b1d5e6,#a7cce0,#9fc5dc,#95bdd7,#8fb8d4,#8bb4d2,#8bb4d2,#89b2d1,#85afd0,#81abce,#7ba5ca,#739cc5,#6e96c2,#688fbe,#6289ba,#5e84b8,#5b80b6,#5b80b6,#597eb4,#597eb4,#577bb3,#5579b2,#5175b0,#5073af,#4e70ad,#4d6eac,#4c6bab,#4b69aa,#4b69aa,#4c6bab,#5073af,#577bb3,#6289ba,#6e96c2,#7ba5ca,#89b2d1,#95bdd7,#9fc5dc,#a7cce0,#abd0e3,#abd0e3,#abd0e3,#abd0e3,#abd0e3,#abd0e3,#abd0e3)"></i>
<i style="background:linear-gradient(90deg,#d5eaf2,#d5eaf2,#d5eaf2,#d5eaf2,#d5eaf2,#d5eaf2,#d3e9f2,#d1e8f1,#cbe5ef,#c4e1ec,#bddcea,#b1d5e6,#a7cce0,#9fc5dc,#97bfd8,#8fb8d4,#8bb4d2,#8bb4d2,#89b2d1,#85afd0,#81abce,#7ba5ca,#739cc5,#6e96c2,#688fbe,#6289ba,#5c82b7,#5b80b6,#597eb4,#597eb4,#597eb4,#577bb3,#5579b2,#5175b0,#5073af,#4e70ad,#4d6eac,#4c6bab,#4b69aa,#4b69aa,#4c6bab,#5073af,#577bb3,#6289ba,#6f98c3,#7da7cb,#8bb4d2,#97bfd8,#a1c7dd,#a9cee2,#add2e4,#add2e4,#add2e4,#add2e4,#add2e4,#add2e4,#add2e4)"></i>
<i style="background:linear-gradient(90deg,#d5eaf2,#d5eaf2,#d5eaf2,#d5eaf2,#d5eaf2,#d5eaf2,#d5eaf2,#d1e8f1,#cbe5ef,#c4e1ec,#bddcea,#b3d7e7,#a9cee2,#9fc5dc,#97bfd8,#8fb8d4,#8bb4d2,#8bb4d2,#89b2d1,#85afd0,#81abce,#7ba5ca,#739cc5,#6e96c2,#688fbe,#6289ba,#5c82b7,#5b80b6,#597eb4,#597eb4,#597eb4,#577bb3,#5579b2,#5175b0,#5073af,#4e70ad,#4d6eac,#4c6bab,#4b69aa,#4b69aa,#4c6bab,#5073af,#577bb3,#6289ba,#6f98c3,#7da7cb,#8bb4d2,#97bfd8,#a1c7dd,#a9cee2,#add2e4,#add2e4,#add2e4,#add2e4,#add2e4,#add2e4,#add2e4)"></i>
<i style="background:linear-gradient(90deg,#d5eaf2,#d5eaf2,#d5eaf2,#d5eaf2,#d5eaf2,#d5eaf2,#d5eaf2,#d1e8f1,#cde6f0,#c6e2ed,#bddcea,#b3d7e7,#a9cee2,#9fc5dc,#97bfd8,#8fb8d4,#8bb4d2,#8bb4d2,#89b2d1,#85afd0,#81abce,#7ba5ca,#739cc5,#6e96c2,#688fbe,#6289ba,#5c82b7,#5b80b6,#597eb4,#597eb4,#597eb4,#577bb3,#5579b2,#5175b0,#5073af,#4e70ad,#4d6eac,#4c6bab,#4c6bab,#4b69aa,#4c6bab,#5073af,#597eb4,#6289ba,#6f98c3,#7da7cb,#8bb4d2,#97bfd8,#a3c9de,#a9cee2,#add2e4,#afd3e5,#afd3e5,#afd3e5,#afd3e5,#afd3e5,#afd3e5)"></i>
<i style="background:linear-gradient(90deg,#d5eaf2,#d5eaf2,#d5eaf2,#d5eaf2,#d5eaf2,#d5eaf2,#d5eaf2,#d3e9f2,#cde6f0,#c6e2ed,#bddcea,#b3d7e7,#a9cee2,#9fc5dc,#97bfd8,#8fb8d4,#8bb4d2,#8bb4d2,#89b2d1,#85afd0,#81abce,#7ba5ca,#739cc5,#6e96c2,#688fbe,#6289ba,#5c82b7,#5b80b6,#597eb4,#597eb4,#597eb4,#577bb3,#5579b2,#5175b0,#5073af,#4e70ad,#4d6eac,#4c6bab,#4c6bab,#4b69aa,#4c6bab,#5073af,#597eb4,#648bbc,#6f98c3,#7da7cb,#8bb4d2,#99c0d9,#a3c9de,#abd0e3,#afd3e5,#afd3e5,#afd3e5,#afd3e5,#afd3e5,#afd3e5,#afd3e5)"></i>
<i style="background:linear-gradient(90deg,#d5eaf2,#d5eaf2,#d5eaf2,#d5eaf2,#d5eaf2,#d5eaf2,#d5eaf2,#d3e9f2,#cde6f0,#c6e2ed,#bddcea,#b3d7e7,#a9cee2,#9fc5dc,#97bfd8,#8fb8d4,#8bb4d2,#8bb4d2,#89b2d1,#85afd0,#81abce,#7ba5ca,#739cc5,#6e96c2,#688fbe,#6289ba,#5c82b7,#5b80b6,#597eb4,#597eb4,#597eb4,#577bb3,#5579b2,#5175b0,#5073af,#4e70ad,#4d6eac,#4c6bab,#4c6bab,#4b69aa,#4c6bab,#5073af,#597eb4,#648bbc,#6f98c3,#7da7cb,#8bb4d2,#99c0d9,#a3c9de,#abd0e3,#afd3e5,#afd3e5,#afd3e5,#afd3e5,#afd3e5,#afd3e5,#afd3e5)"></i>
<i style="background:linear-gradient(90deg,#d6ebf3,#d6ebf3,#d6ebf3,#d6ebf3,#d6ebf3,#d6ebf3,#d5eaf2,#d3e9f2,#cde6f0,#c6e2ed,#bddcea,#b3d7e7,#a9cee2,#9fc5dc,#97bfd8,#91b9d5,#8bb4d2,#8bb4d2,#89b2d1,#85afd0,#81abce,#7ba5ca,#739cc5,#6e96c2,#688fbe,#6289ba,#5c82b7,#5b80b6,#597eb4,#597eb4,#597eb4,#577bb3,#5579b2,#5175b0,#5073af,#4e70ad,#4d6eac,#4c6bab,#4c6bab,#4b69aa,#4c6bab,#5073af,#597eb4,#6289ba,#6f98c3,#7da7cb,#8bb4d2,#97bfd8,#a3c9de,#abd0e3,#afd3e5,#afd3e5,#afd3e5,#afd3e5,#afd3e5,#afd3e5,#afd3e5)"></i>
<i style="background:linear-gradient(90deg,#d6ebf3,#d6ebf3,#d6ebf3,#d6ebf3,#d6ebf3,#d6ebf3,#d6ebf3,#d3e9f2,#cde6f0,#c6e2ed,#bddcea,#b3d7e7,#a9cee2,#9fc5dc,#97bfd8,#91b9d5,#8bb4d2,#8bb4d2,#89b2d1,#85afd0,#81abce,#7ba5ca,#739cc5,#6e96c2,#688fbe,#6289ba,#5c82b7,#5b80b6,#597eb4,#597eb4,#597eb4,#577bb3,#5579b2,#5175b0,#5073af,#4e70ad,#4d6eac,#4c6bab,#4b69aa,#4b69aa,#4c6bab,#5073af,#577bb3,#6289ba,#6f98c3,#7da7cb,#8bb4d2,#97bfd8,#a3c9de,#abd0e3,#afd3e5,#afd3e5,#afd3e5,#afd3e5,#afd3e5,#afd3e5,#afd3e5)"></i>
<i style="background:linear-gradient(90deg,#d6ebf3,#d6ebf3,#d6ebf3,#d6ebf3,#d6ebf3,#d6ebf3,#d6ebf3,#d5eaf2,#cfe7f0,#c8e3ee,#beddeb,#b5d8e7,#a9cee2,#9fc5dc,#97bfd8,#91b9d5,#8db6d3,#8bb4d2,#89b2d1,#85afd0,#81abce,#7ba5ca,#759ec6,#6e96c2,#688fbe,#6289ba,#5e84b8,#5b80b6,#597eb4,#597eb4,#597eb4,#577bb3,#5579b2,#5175b0,#5073af,#4e70ad,#4d6eac,#4c6bab,#4b69aa,#4b69aa,#4c6bab,#5073af,#577bb3,#6289ba,#6f98c3,#7da7cb,#8bb4d2,#97bfd8,#a3c9de,#a9cee2,#add2e4,#afd3e5,#afd3e5,#afd3e5,#afd3e5,#afd3e5,#afd3e5)"></i>
<i style="background:linear-gradient(90deg,#d8ecf3,#d8ecf3,#d8ecf3,#d8ecf3,#d8ecf3,#d8ecf3,#d8ecf3,#d5eaf2,#cfe7f0,#c8e3ee,#beddeb,#b5d8e7,#abd0e3,#a1c7dd,#97bfd8,#91b9d5,#8db6d3,#8bb4d2,#89b2d1,#85afd0,#81abce,#7ba5ca,#759ec6,#6e96c2,#688fbe,#6289ba,#5e84b8,#5b80b6,#5b80b6,#597eb4,#597eb4,#577bb3,#5579b2,#5175b0,#5073af,#4e70ad,#4c6bab,#4b69aa,#4b69aa,#4966a8,#4b69aa,#4e70ad,#577bb3,#6289ba,#6f98c3,#7da7cb,#8bb4d2,#97bfd8,#a1c7dd,#a9cee2,#add2e4,#afd3e5,#afd3e5,#afd3e5,#afd3e5,#afd3e5,#afd3e5)"></i>
<i style="background:linear-gradient(90deg,#daedf4,#daedf4,#daedf4,#daedf4,#daedf4,#daedf4,#daedf4,#d6ebf3,#d1e8f1,#c9e4ee,#c0deeb,#b5d8e7,#abd0e3,#a1c7dd,#97bfd8,#91b9d5,#8db6d3,#8bb4d2,#89b2d1,#87b1d1,#81abce,#7ba5ca,#759ec6,#6e96c2,#688fbe,#6289ba,#5e84b8,#5b80b6,#5b80b6,#597eb4,#597eb4,#577bb3,#5377b1,#5175b0,#5073af,#4d6eac,#4c6bab,#4b69aa,#4966a8,#4966a8,#4b69aa,#4e70ad,#577bb3,#6289ba,#6e96c2,#7ba5ca,#8bb4d2,#97bfd8,#a1c7dd,#a9cee2,#add2e4,#add2e4,#add2e4,#add2e4,#add2e4,#add2e4,#add2e4)"></i>
<i style="background:linear-gradient(90deg,#dceef5,#dceef5,#dceef5,#dceef5,#dceef5,#dceef5,#dceef5,#d8ecf3,#d3e9f2,#cbe5ef,#c2e0ec,#b7d9e8,#abd0e3,#a1c7dd,#99c0d9,#91b9d5,#8db6d3,#8bb4d2,#89b2d1,#87b1d1,#81abce,#7ba5ca,#759ec6,#6e96c2,#688fbe,#6289ba,#5e84b8,#5b80b6,#5b80b6,#597eb4,#597eb4,#577bb3,#5377b1,#5175b0,#5073af,#4d6eac,#4c6bab,#4b69aa,#4966a8,#4966a8,#4966a8,#4d6eac,#5579b2,#6086b9,#6e96c2,#7ba5ca,#89b2d1,#97bfd8,#a1c7dd,#a9cee2,#add2e4,#add2e4,#add2e4,#add2e4,#add2e4,#add2e4,#add2e4)"></i>
<i style="background:linear-gradient(90deg,#deeff5,#deeff5,#deeff5,#deeff5,#deeff5,#deeff5,#deeff5,#daedf4,#d5eaf2,#cbe5ef,#c2e0ec,#b9dae9,#add2e4,#a3c9de,#99c0d9,#91b9d5,#8db6d3,#8bb4d2,#8bb4d2,#87b1d1,#81abce,#7ba5ca,#759ec6,#6e96c2,#688fbe,#6289ba,#5e84b8,#5b80b6,#5b80b6,#5b80b6,#597eb4,#577bb3,#5377b1,#5175b0,#4e70ad,#4d6eac,#4b69aa,#4966a8,#4864a7,#4864a7,#4966a8,#4d6eac,#5579b2,#6086b9,#6e96c2,#7ba5ca,#89b2d1,#97bfd8,#a1c7dd,#a9cee2,#add2e4,#add2e4,#add2e4,#add2e4,#add2e4,#add2e4,#add2e4)"></i>
<i style="background:linear-gradient(90deg,#e0f0f6,#e0f0f6,#e0f0f6,#e0f0f6,#e0f0f6,#e0f0f6,#e0f0f6,#dceef5,#d6ebf3,#cde6f0,#c4e1ec,#b9dae9,#add2e4,#a3c9de,#99c0d9,#91b9d5,#8db6d3,#8db6d3,#8bb4d2,#87b1d1,#81abce,#7ba5ca,#759ec6,#6f98c3,#688fbe,#6289ba,#5e84b8,#5c82b7,#5b80b6,#5b80b6,#597eb4,#577bb3,#5377b1,#5175b0,#4e70ad,#4c6bab,#4b69aa,#4966a8,#4864a7,#4864a7,#4864a7,#4c6bab,#5377b1,#5e84b8,#6c93c0,#7ba5ca,#89b2d1,#95bdd7,#a1c7dd,#a9cee2,#add2e4,#add2e4,#add2e4,#add2e4,#add2e4,#add2e4,#add2e4)"></i>
<i style="background:linear-gradient(90deg,#e2f1f7,#e2f1f7,#e2f1f7,#e2f1f7,#e2f1f7,#e2f1f7,#e2f1f7,#deeff5,#d8ecf3,#cfe7f0,#c6e2ed,#bbdbe9,#afd3e5,#a3c9de,#9bc2da,#93bbd6,#8db6d3,#8db6d3,#8bb4d2,#87b1d1,#83adcf,#7da7cb,#759ec6,#6f98c3,#688fbe,#648bbc,#5e84b8,#5c82b7,#5b80b6,#5b80b6,#597eb4,#577bb3,#5377b1,#5073af,#4e70ad,#4c6bab,#4b69aa,#4864a7,#4762a6,#4762a6,#4864a7,#4c6bab,#5377b1,#5e84b8,#6c93c0,#79a3c9,#89b2d1,#95bdd7,#a1c7dd,#a9cee2,#add2e4,#add2e4,#add2e4,#add2e4,#add2e4,#add2e4,#add2e4)"></i>
<i style="background:linear-gradient(90deg,#e5f3f5,#e5f3f5,#e5f3f5,#e5f3f5,#e5f3f5,#e5f3f5,#e4f2f7,#e2f1f7,#daedf4,#d1e8f1,#c8e3ee,#bddcea,#b1d5e6,#a5cbdf,#9bc2da,#93bbd6,#8db6d3,#8db6d3,#8bb4d2,#87b1d1,#83adcf,#7da7cb,#759ec6,#6f98c3,#6a91bf,#648bbc,#5e84b8,#5c82b7,#5b80b6,#5b80b6,#597eb4,#577bb3,#5377b1,#5073af,#4d6eac,#4c6bab,#4966a8,#4864a7,#4762a6,#465fa5,#4762a6,#4b69aa,#5175b0,#5c82b7,#6a91bf,#79a3c9,#87b1d1,#95bdd7,#9fc5dc,#a9cee2,#add2e4,#add2e4,#add2e4,#add2e4,#add2e4,#add2e4,#add2e4)"></i>
<i style="background:linear-gradient(90deg,#e6f3f3,#e6f3f3,#e6f3f3,#e6f3f3,#e6f3f3,#e6f3f3,#e6f3f3,#e4f2f7,#dceef5,#d3e9f2,#c9e4ee,#bddcea,#b1d5e6,#a5cbdf,#9bc2da,#93bbd6,#8fb8d4,#8db6d3,#8bb4d2,#87b1d1,#83adcf,#7da7cb,#759ec6,#6f98c3,#6a91bf,#648bbc,#5e84b8,#5c82b7,#5b80b6,#5b80b6,#597eb4,#577bb3,#5377b1,#5073af,#4d6eac,#4b69aa,#4966a8,#4762a6,#465fa5,#465fa5,#4762a6,#4b69aa,#5175b0,#5c82b7,#6a91bf,#79a3c9,#87b1d1,#95bdd7,#9fc5dc,#a7cce0,#add2e4,#add2e4,#add2e4,#add2e4,#add2e4,#add2e4,#add2e4)"></i>
<i style="background:linear-gradient(90deg,#e7f4f1,#e7f4f1,#e7f4f1,#e7f4f1,#e7f4f1,#e7f4f1,#e7f4f1,#e5f3f5,#deeff5,#d5eaf2,#cbe5ef,#beddeb,#b3d7e7,#a7cce0,#9dc4db,#93bbd6,#8fb8d4,#8db6d3,#8bb4d2,#87b1d1,#83adcf,#7da7cb,#77a1c8,#6f98c3,#6a91bf,#648bbc,#6086b9,#5c82b7,#5c82b7,#5b80b6,#597eb4,#577bb3,#5377b1,#5073af,#4d6eac,#4b69aa,#4864a7,#4762a6,#465fa5,#455da3,#465fa5,#4966a8,#5073af,#5b80b6,#6a91bf,#77a1c8,#87b1d1,#93bbd6,#9fc5dc,#a7cce0,#abd0e3,#add2e4,#add2e4,#add2e4,#add2e4,#add2e4,#add2e4)"></i>
<i style="background:linear-gradient(90deg,#e9f5ed,#e9f5ed,#e9f5ed,#e9f5ed,#e9f5ed,#e9f5ed,#e8f4ef,#e6f3f3,#e2f1f7,#d8ecf3,#cbe5ef,#c0deeb,#b3d7e7,#a7cce0,#9dc4db,#95bdd7,#8fb8d4,#8db6d3,#8bb4d2,#89b2d1,#83adcf,#7da7cb,#77a1c8,#6f98c3,#6a91bf,#648bbc,#6086b9,#5c82b7,#5c82b7,#5b80b6,#597eb4,#577bb3,#5377b1,#5073af,#4d6eac,#4b69aa,#4864a7,#465fa5,#455da3,#435aa2,#455da3,#4966a8,#5073af,#5b80b6,#688fbe,#77a1c8,#85afd0,#93bbd6,#9fc5dc,#a7cce0,#abd0e3,#abd0e3,#abd0e3,#abd0e3,#abd0e3,#abd0e3,#abd0e3)"></i>
<i style="background:linear-gradient(90deg,#eaf5eb,#eaf5eb,#eaf5eb,#eaf5eb,#eaf5eb,#eaf5eb,#eaf5eb,#e8f4ef,#e4f2f7,#daedf4,#cde6f0,#c2e0ec,#b5d8e7,#a9cee2,#9dc4db,#95bdd7,#8fb8d4,#8db6d3,#8db6d3,#89b2d1,#83adcf,#7da7cb,#77a1c8,#6f98c3,#6a91bf,#648bbc,#6086b9,#5c82b7,#5c82b7,#5b80b6,#597eb4,#577bb3,#5377b1,#5073af,#4c6bab,#4966a8,#4762a6,#465fa5,#435aa2,#435aa2,#455da3,#4864a7,#4e70ad,#597eb4,#688fbe,#759ec6,#85afd0,#93bbd6,#9fc5dc,#a7cce0,#abd0e3,#abd0e3,#abd0e3,#abd0e3,#abd0e3,#abd0e3,#abd0e3)"></i>
<i style="background:linear-gradient(90deg,#ebf6e9,#ebf6e9,#ebf6e9,#ebf6e9,#ebf6e9,#ebf6e9,#ebf6e9,#e9f5ed,#e5f3f5,#dceef5,#cfe7f0,#c2e0ec,#b5d8e7,#a9cee2,#9dc4db,#95bdd7,#8fb8d4,#8fb8d4,#8db6d3,#89b2d1,#83adcf,#7da7cb,#77a1c8,#719ac4,#6a91bf,#648bbc,#6086b9,#5e84b8,#5c82b7,#5c82b7,#597eb4,#577bb3,#5377b1,#4e70ad,#4c6bab,#4966a8,#4762a6,#455da3,#435aa2,#4258a1,#435aa2,#4762a6,#4d6eac,#597eb4,#668dbd,#759ec6,#85afd0,#93bbd6,#9dc4db,#a7cce0,#abd0e3,#abd0e3,#abd0e3,#abd0e3,#abd0e3,#abd0e3,#abd0e3)"></i>
<i style="background:linear-gradient(90deg,#ecf6e7,#ecf6e7,#ecf6e7,#ecf6e7,#ecf6e7,#ecf6e7,#ecf6e7,#eaf5eb,#e6f3f3,#deeff5,#d1e8f1,#c4e1ec,#b7d9e8,#abd0e3,#9fc5dc,#95bdd7,#8fb8d4,#8fb8d4,#8db6d3,#89b2d1,#85afd0,#7fa9cc,#77a1c8,#719ac4,#6a91bf,#668dbd,#6086b9,#5e84b8,#5c82b7,#5c82b7,#5b80b6,#577bb3,#5377b1,#4e70ad,#4c6bab,#4864a7,#465fa5,#435aa2,#4258a1,#4258a1,#435aa2,#4762a6,#4d6eac,#577bb3,#668dbd,#759ec6,#83adcf,#91b9d5,#9dc4db,#a7cce0,#abd0e3,#abd0e3,#abd0e3,#abd0e3,#abd0e3,#abd0e3,#abd0e3)"></i>
<i style="background:linear-gradient(90deg,#eef7e4,#eef7e4,#eef7e4,#eef7e4,#eef7e4,#eef7e4,#edf7e6,#ebf6e9,#e7f4f1,#e0f0f6,#d3e9f2,#c6e2ed,#b9dae9,#abd0e3,#9fc5dc,#95bdd7,#91b9d5,#8fb8d4,#8db6d3,#89b2d1,#85afd0,#7fa9cc,#77a1c8,#719ac4,#6c93c0,#668dbd,#6086b9,#5e84b8,#5c82b7,#5c82b7,#5b80b6,#577bb3,#5377b1,#4e70ad,#4c6bab,#4864a7,#465fa5,#435aa2,#4258a1,#4155a0,#4258a1,#465fa5,#4c6bab,#577bb3,#648bbc,#739cc5,#83adcf,#91b9d5,#9dc4db,#a5cbdf,#abd0e3,#abd0e3,#abd0e3,#abd0e3,#abd0e3,#abd0e3,#abd0e3)"></i>
<i style="background:linear-gradient(90deg,#eff8e2,#eff8e2,#eff8e2,#eff8e2,#eff8e2,#eff8e2,#eef7e4,#ecf6e7,#e8f4ef,#e0f0f6,#d5eaf2,#c6e2ed,#b9dae9,#abd0e3,#9fc5dc,#97bfd8,#91b9d5,#8fb8d4,#8db6d3,#89b2d1,#85afd0,#7fa9cc,#77a1c8,#719ac4,#6c93c0,#668dbd,#6086b9,#5e84b8,#5c82b7,#5c82b7,#5b80b6,#577bb3,#5175b0,#4e70ad,#4b69aa,#4864a7,#455da3,#4258a1,#4155a0,#4155a0,#4258a1,#465fa5,#4c6bab,#577bb3,#648bbc,#739cc5,#83adcf,#91b9d5,#9dc4db,#a5cbdf,#abd0e3,#abd0e3,#abd0e3,#abd0e3,#abd0e3,#abd0e3,#abd0e3)"></i>
<i style="background:linear-gradient(90deg,#f0f8e0,#f0f8e0,#f0f8e0,#f0f8e0,#f0f8e0,#f0f8e0,#f0f8e0,#edf7e6,#e9f5ed,#e2f1f7,#d5eaf2,#c8e3ee,#bbdbe9,#add2e4,#a1c7dd,#97bfd8,#91b9d5,#8fb8d4,#8db6d3,#89b2d1,#85afd0,#7fa9cc,#79a3c9,#719ac4,#6c93c0,#668dbd,#6289ba,#5e84b8,#5c82b7,#5c82b7,#5b80b6,#577bb3,#5175b0,#4e70ad,#4b69aa,#4762a6,#455da3,#4258a1,#4155a0,#40539e,#4155a0,#455da3,#4b69aa,#5579b2,#648bbc,#739cc5,#83adcf,#91b9d5,#9dc4db,#a5cbdf,#a9cee2,#abd0e3,#abd0e3,#abd0e3,#abd0e3,#abd0e3,#abd0e3)"></i>
<i style="background:linear-gradient(90deg,#f1f9de,#f1f9de,#f1f9de,#f1f9de,#f1f9de,#f1f9de,#f0f8e0,#eef7e4,#eaf5eb,#e4f2f7,#d6ebf3,#c9e4ee,#bbdbe9,#add2e4,#a1c7dd,#97bfd8,#91b9d5,#8fb8d4,#8db6d3,#89b2d1,#85afd0,#7fa9cc,#79a3c9,#719ac4,#6c93c0,#668dbd,#6289ba,#5e84b8,#5e84b8,#5c82b7,#5b80b6,#577bb3,#5175b0,#4e70ad,#4b69aa,#4762a6,#455da3,#4258a1,#40539e,#40539e,#4155a0,#455da3,#4b69aa,#5579b2,#6289ba,#719ac4,#81abce,#91b9d5,#9dc4db,#a5cbdf,#a9cee2,#abd0e3,#abd0e3,#abd0e3,#abd0e3,#abd0e3,#abd0e3)"></i>
<i style="background:linear-gradient(90deg,#f1f9de,#f1f9de,#f1f9de,#f1f9de,#f1f9de,#f1f9de,#f1f9de,#eff8e2,#ebf6e9,#e5f3f5,#d8ecf3,#c9e4ee,#bbdbe9,#add2e4,#a1c7dd,#97bfd8,#91b9d5,#8fb8d4,#8db6d3,#8bb4d2,#85afd0,#7fa9cc,#79a3c9,#719ac4,#6c93c0,#668dbd,#6289ba,#5e84b8,#5e84b8,#5c82b7,#5b80b6,#577bb3,#5175b0,#4e70ad,#4b69aa,#4762a6,#435aa2,#4155a0,#40539e,#3f519d,#40539e,#455da3,#4b69aa,#5579b2,#6289ba,#719ac4,#81abce,#91b9d5,#9dc4db,#a5cbdf,#a9cee2,#a9cee2,#a9cee2,#a9cee2,#a9cee2,#a9cee2,#a9cee2)"></i>
<i style="background:linear-gradient(90deg,#f3f9dc,#f3f9dc,#f3f9dc,#f3f9dc,#f3f9dc,#f3f9dc,#f3f9dc,#f0f8e0,#ebf6e9,#e5f3f5,#d8ecf3,#c9e4ee,#bddcea,#afd3e5,#a1c7dd,#97bfd8,#91b9d5,#8fb8d4,#8db6d3,#8bb4d2,#85afd0,#7fa9cc,#79a3c9,#719ac4,#6c93c0,#668dbd,#6289ba,#5e84b8,#5e84b8,#5c82b7,#5b80b6,#577bb3,#5175b0,#4d6eac,#4b69aa,#4762a6,#435aa2,#4155a0,#40539e,#3f519d,#40539e,#435aa2,#4966a8,#5377b1,#6289ba,#719ac4,#81abce,#8fb8d4,#9bc2da,#a5cbdf,#a9cee2,#a9cee2,#a9cee2,#a9cee2,#a9cee2,#a9cee2,#a9cee2)"></i>
<i style="background:linear-gradient(90deg,#f4fada,#f4fada,#f4fada,#f4fada,#f4fada,#f4fada,#f3f9dc,#f0f8e0,#ecf6e7,#e6f3f3,#d8ecf3,#cbe5ef,#bddcea,#afd3e5,#a1c7dd,#97bfd8,#91b9d5,#8fb8d4,#8fb8d4,#8bb4d2,#85afd0,#7fa9cc,#79a3c9,#719ac4,#6c93c0,#668dbd,#6289ba,#5e84b8,#5e84b8,#5c82b7,#5b80b6,#577bb3,#5175b0,#4d6eac,#4966a8,#4762a6,#435aa2,#4155a0,#3f519d,#3f519d,#40539e,#435aa2,#4966a8,#5377b1,#6289ba,#719ac4,#81abce,#8fb8d4,#9bc2da,#a5cbdf,#a9cee2,#a9cee2,#a9cee2,#a9cee2,#a9cee2,#a9cee2,#a9cee2)"></i>
<i style="background:linear-gradient(90deg,#f4fada,#f4fada,#f4fada,#f4fada,#f4fada,#f4fada,#f4fada,#f0f8e0,#ecf6e7,#e6f3f3,#daedf4,#cbe5ef,#bddcea,#afd3e5,#a1c7dd,#97bfd8,#91b9d5,#8fb8d4,#8fb8d4,#8bb4d2,#85afd0,#7fa9cc,#79a3c9,#719ac4,#6c93c0,#668dbd,#6289ba,#5e84b8,#5e84b8,#5c82b7,#5b80b6,#577bb3,#5175b0,#4d6eac,#4966a8,#465fa5,#435aa2,#4155a0,#3f519d,#3d4e9c,#3f519d,#435aa2,#4966a8,#5377b1,#6289ba,#719ac4,#81abce,#8fb8d4,#9bc2da,#a5cbdf,#a9cee2,#a9cee2,#a9cee2,#a9cee2,#a9cee2,#a9cee2,#a9cee2)"></i>
<i style="background:linear-gradient(90deg,#f4fada,#f4fada,#f4fada,#f4fada,#f4fada,#f4fada,#f4fada,#f1f9de,#ecf6e7,#e6f3f3,#daedf4,#cbe5ef,#bddcea,#afd3e5,#a3c9de,#97bfd8,#91b9d5,#8fb8d4,#8fb8d4,#8bb4d2,#85afd0,#7fa9cc,#79a3c9,#719ac4,#6c93c0,#668dbd,#6289ba,#5e84b8,#5e84b8,#5c82b7,#5b80b6,#577bb3,#5175b0,#4d6eac,#4966a8,#465fa5,#435aa2,#4155a0,#3f519d,#3d4e9c,#3f519d,#435aa2,#4966a8,#5377b1,#6289ba,#719ac4,#81abce,#8fb8d4,#9bc2da,#a5cbdf,#a9cee2,#a9cee2,#a9cee2,#a9cee2,#a9cee2,#a9cee2,#a9cee2)"></i>
<i style="background:linear-gradient(90deg,#f5fad8,#f5fad8,#f5fad8,#f5fad8,#f5fad8,#f5fad8,#f4fada,#f1f9de,#ecf6e7,#e6f3f3,#daedf4,#cbe5ef,#bddcea,#afd3e5,#a3c9de,#99c0d9,#91b9d5,#91b9d5,#8fb8d4,#8bb4d2,#85afd0,#7fa9cc,#79a3c9,#739cc5,#6c93c0,#668dbd,#6289ba,#6086b9,#5e84b8,#5c82b7,#5b80b6,#577bb3,#5175b0,#4d6eac,#4966a8,#4762a6,#435aa2,#4155a0,#3f519d,#3d4e9c,#3f519d,#435aa2,#4966a8,#5377b1,#6289ba,#719ac4,#81abce,#8fb8d4,#9bc2da,#a5cbdf,#a9cee2,#a9cee2,#a9cee2,#a9cee2,#a9cee2,#a9cee2,#a9cee2)"></i>
<i style="background:linear-gradient(90deg,#f6fbd6,#f6fbd6,#f6fbd6,#f6fbd6,#f6fbd6,#f6fbd6,#f5fad8,#f3f9dc,#eef7e4,#e7f4f1,#dceef5,#cde6f0,#beddeb,#b1d5e6,#a3c9de,#99c0d9,#93bbd6,#91b9d5,#8fb8d4,#8bb4d2,#87b1d1,#81abce,#7ba5ca,#739cc5,#6e96c2,#688fbe,#6289ba,#6086b9,#5e84b8,#5e84b8,#5b80b6,#577bb3,#5377b1,#4e70ad,#4b69aa,#4762a6,#435aa2,#4155a0,#3f519d,#3f519d,#40539e,#435aa2,#4966a8,#5377b1,#6289ba,#719ac4,#81abce,#8fb8d4,#9bc2da,#a5cbdf,#a9cee2,#a9cee2,#a9cee2,#a9cee2,#a9cee2,#a9cee2,#a9cee2)"></i>
<i style="background:linear-gradient(90deg,#f8fcd2,#f8fcd2,#f8fcd2,#f8fcd2,#f8fcd2,#f8fcd2,#f8fcd2,#f5fad8,#f0f8e0,#e9f5ed,#e0f0f6,#d1e8f1,#c2e0ec,#b3d7e7,#a5cbdf,#9bc2da,#95bdd7,#93bbd6,#91b9d5,#8db6d3,#89b2d1,#83adcf,#7ba5ca,#759ec6,#6f98c3,#6a91bf,#648bbc,#6289ba,#6086b9,#6086b9,#5c82b7,#597eb4,#5377b1,#4e70ad,#4b69aa,#4864a7,#455da3,#4258a1,#40539e,#3f519d,#40539e,#455da3,#4b69aa,#5579b2,#6289ba,#719ac4,#81abce,#8fb8d4,#9bc2da,#a5cbdf,#a9cee2,#a9cee2,#a9cee2,#a9cee2,#a9cee2,#a9cee2,#a9cee2)"></i>
<i style="background:linear-gradient(90deg,#fbfdcc,#fbfdcc,#fbfdcc,#fbfdcc,#fbfdcc,#fbfdcc,#fbfdcc,#f8fcd2,#f4fada,#ecf6e7,#e4f2f7,#d5eaf2,#c6e2ed,#b7d9e8,#a9cee2,#9fc5dc,#97bfd8,#95bdd7,#95bdd7,#91b9d5,#8bb4d2,#85afd0,#7fa9cc,#77a1c8,#719ac4,#6c93c0,#688fbe,#648bbc,#648bbc,#6289ba,#6086b9,#5b80b6,#577bb3,#5175b0,#4c6bab,#4864a7,#465fa5,#4258a1,#4155a0,#40539e,#4155a0,#455da3,#4b69aa,#5579b2,#648bbc,#739cc5,#81abce,#91b9d5,#9bc2da,#a5cbdf,#a9cee2,#a9cee2,#a9cee2,#a9cee2,#a9cee2,#a9cee2,#a9cee2)"></i>
<i style="background:linear-gradient(90deg,#fffec5,#fffec5,#fffec5,#fffec5,#fffec5,#fffec5,#fffec5,#fdfec9,#f8fcd2,#f0f8e0,#e8f4ef,#daedf4,#c9e4ee,#bbdbe9,#add2e4,#a3c9de,#9bc2da,#99c0d9,#97bfd8,#93bbd6,#8fb8d4,#89b2d1,#81abce,#7ba5ca,#759ec6,#6f98c3,#6a91bf,#688fbe,#668dbd,#668dbd,#6289ba,#5e84b8,#597eb4,#5377b1,#4e70ad,#4b69aa,#4762a6,#435aa2,#4258a1,#4155a0,#4258a1,#465fa5,#4c6bab,#577bb3,#648bbc,#739cc5,#83adcf,#91b9d5,#9dc4db,#a5cbdf,#a9cee2,#a9cee2,#a9cee2,#a9cee2,#a9cee2,#a9cee2,#a9cee2)"></i>
<i style="background:linear-gradient(90deg,#fef9bc,#fef9bc,#fef9bc,#fef9bc,#fef9bc,#fef9bc,#fef9bc,#fefcc2,#fcfecb,#f5fad8,#ecf6e7,#e2f1f7,#cfe7f0,#c0deeb,#b3d7e7,#a7cce0,#9fc5dc,#9dc4db,#9bc2da,#97bfd8,#93bbd6,#8db6d3,#85afd0,#7fa9cc,#77a1c8,#719ac4,#6e96c2,#6c93c0,#6a91bf,#688fbe,#668dbd,#6086b9,#5c82b7,#5579b2,#5073af,#4c6bab,#4864a7,#465fa5,#435aa2,#4258a1,#435aa2,#4762a6,#4d6eac,#597eb4,#668dbd,#759ec6,#83adcf,#91b9d5,#9dc4db,#a5cbdf,#a9cee2,#a9cee2,#a9cee2,#a9cee2,#a9cee2,#a9cee2,#a9cee2)"></i>
<i style="background:linear-gradient(90deg,#fcf1b2,#fcf1b2,#fcf1b2,#fcf1b2,#fcf1b2,#fcf1b2,#fcf3b4,#fdf5b7,#fefcc2,#fafdce,#f0f8e0,#e7f4f1,#d6ebf3,#c6e2ed,#b7d9e8,#abd0e3,#a3c9de,#a1c7dd,#a1c7dd,#9dc4db,#97bfd8,#91b9d5,#8bb4d2,#83adcf,#7da7cb,#77a1c8,#719ac4,#6f98c3,#6e96c2,#6c93c0,#6a91bf,#648bbc,#6086b9,#597eb4,#5377b1,#4e70ad,#4b69aa,#4762a6,#455da3,#455da3,#465fa5,#4966a8,#4e70ad,#5b80b6,#688fbe,#759ec6,#85afd0,#91b9d5,#9dc4db,#a5cbdf,#a9cee2,#a9cee2,#a9cee2,#a9cee2,#a9cee2,#a9cee2,#a9cee2)"></i>
<i style="background:linear-gradient(90deg,#fbeaa8,#fbeaa8,#fbeaa8,#fbeaa8,#fbeaa8,#fbeaa8,#fbeaa8,#fceead,#fdf5b7,#fffec5,#f6fbd6,#ebf6e9,#deeff5,#cde6f0,#beddeb,#b1d5e6,#a9cee2,#a7cce0,#a5cbdf,#a1c7dd,#9dc4db,#97bfd8,#8fb8d4,#89b2d1,#81abce,#7ba5ca,#77a1c8,#739cc5,#719ac4,#719ac4,#6e96c2,#6a91bf,#648bbc,#5c82b7,#577bb3,#5073af,#4c6bab,#4966a8,#4762a6,#465fa5,#4762a6,#4b69aa,#5175b0,#5c82b7,#6a91bf,#77a1c8,#85afd0,#93bbd6,#9dc4db,#a5cbdf,#a9cee2,#a9cee2,#a9cee2,#a9cee2,#a9cee2,#a9cee2,#a9cee2)"></i>
<i style="background:linear-gradient(90deg,#f9e39e,#f9e39e,#f9e39e,#f9e39e,#f9e39e,#f9e39e,#f9e39e,#fae7a3,#fceead,#fdf7bb,#fbfdcc,#f0f8e0,#e5f3f5,#d3e9f2,#c4e1ec,#b7d9e8,#afd3e5,#add2e4,#abd0e3,#a7cce0,#a1c7dd,#9bc2da,#95bdd7,#8db6d3,#87b1d1,#81abce,#7ba5ca,#77a1c8,#77a1c8,#759ec6,#739cc5,#6e96c2,#688fbe,#6086b9,#5b80b6,#5377b1,#4e70ad,#4b69aa,#4966a8,#4864a7,#4966a8,#4c6bab,#5377b1,#5e84b8,#6c93c0,#79a3c9,#87b1d1,#93bbd6,#9dc4db,#a5cbdf,#a9cee2,#a9cee2,#a9cee2,#a9cee2,#a9cee2,#a9cee2,#a9cee2)"></i>
<i style="background:linear-gradient(90deg,#f7d892,#f7d892,#f7d892,#f7d892,#f7d892,#f7d892,#f7d892,#f8dd97,#fae7a3,#fcf0b0,#fefcc2,#f6fbd6,#eaf5eb,#daedf4,#cbe5ef,#bddcea,#b5d8e7,#b3d7e7,#b1d5e6,#add2e4,#a7cce0,#a1c7dd,#9bc2da,#93bbd6,#8bb4d2,#85afd0,#81abce,#7da7cb,#7da7cb,#7ba5ca,#77a1c8,#739cc5,#6c93c0,#668dbd,#5e84b8,#577bb3,#5175b0,#4d6eac,#4b69aa,#4966a8,#4b69aa,#4e70ad,#577bb3,#6086b9,#6e96c2,#79a3c9,#87b1d1,#93bbd6,#9dc4db,#a5cbdf,#a9cee2,#a9cee2,#a9cee2,#a9cee2,#a9cee2,#a9cee2,#a9cee2)"></i>
<i style="background:linear-gradient(90deg,#f5c984,#f5c984,#f5c984,#f5c984,#f5c984,#f5c984,#f5cb85,#f6d08b,#f8dd97,#fbe9a6,#fdf5b7,#fbfdcc,#eef7e4,#e4f2f7,#d1e8f1,#c4e1ec,#bbdbe9,#b9dae9,#b7d9e8,#b3d7e7,#add2e4,#a7cce0,#a1c7dd,#99c0d9,#91b9d5,#8bb4d2,#87b1d1,#83adcf,#81abce,#81abce,#7da7cb,#77a1c8,#719ac4,#6a91bf,#6289ba,#5b80b6,#5579b2,#5073af,#4d6eac,#4c6bab,#4d6eac,#5175b0,#597eb4,#648bbc,#6f98c3,#7ba5ca,#89b2d1,#95bdd7,#9fc5dc,#a5cbdf,#a9cee2,#a9cee2,#a9cee2,#a9cee2,#a9cee2,#a9cee2,#a9cee2)"></i>
<i style="background:linear-gradient(90deg,#f3bc77,#f3bc77,#f3bc77,#f3bc77,#f3bc77,#f3bc77,#f3bc77,#f4c37e,#f6d08b,#f9e19a,#fceead,#fffdc3,#f4fada,#e8f4ef,#d8ecf3,#c9e4ee,#c0deeb,#beddeb,#bddcea,#b9dae9,#b3d7e7,#add2e4,#a7cce0,#9fc5dc,#97bfd8,#91b9d5,#8db6d3,#89b2d1,#87b1d1,#87b1d1,#83adcf,#7da7cb,#759ec6,#6e96c2,#668dbd,#6086b9,#597eb4,#5377b1,#5073af,#4e70ad,#5073af,#5377b1,#5c82b7,#668dbd,#719ac4,#7da7cb,#89b2d1,#95bdd7,#9fc5dc,#a5cbdf,#a9cee2,#a9cee2,#a9cee2,#a9cee2,#a9cee2,#a9cee2,#a9cee2)"></i>
<i style="background:linear-gradient(90deg,#f0ab6b,#f0ab6b,#f0ab6b,#f0ab6b,#f0ab6b,#f0ab6b,#f1ae6c,#f2b672,#f4c37e,#f7d690,#fae7a3,#fdf6b9,#f9fcd0,#ecf6e7,#e0f0f6,#d1e8f1,#c8e3ee,#c4e1ec,#c2e0ec,#beddeb,#bbdbe9,#b3d7e7,#add2e4,#a5cbdf,#9dc4db,#97bfd8,#91b9d5,#8fb8d4,#8db6d3,#8db6d3,#89b2d1,#83adcf,#7ba5ca,#739cc5,#6c93c0,#648bbc,#5c82b7,#577bb3,#5377b1,#5175b0,#5377b1,#577bb3,#5e84b8,#688fbe,#739cc5,#7fa9cc,#8bb4d2,#97bfd8,#9fc5dc,#a5cbdf,#a9cee2,#a9cee2,#a9cee2,#a9cee2,#a9cee2,#a9cee2,#a9cee2)"></i>
<i style="background:linear-gradient(90deg,#ec9b62,#ec9b62,#ec9b62,#ec9b62,#ec9b62,#ec9b62,#ec9b62,#eea467,#f2b672,#f5c984,#f9df99,#fcefaf,#feffc7,#f1f9de,#e6f3f3,#d6ebf3,#cde6f0,#cbe5ef,#c9e4ee,#c6e2ed,#c0deeb,#bbdbe9,#b3d7e7,#abd0e3,#a3c9de,#9dc4db,#99c0d9,#95bdd7,#93bbd6,#91b9d5,#8db6d3,#87b1d1,#81abce,#77a1c8,#6f98c3,#688fbe,#6086b9,#5b80b6,#577bb3,#5579b2,#577bb3,#5b80b6,#6289ba,#6c93c0,#759ec6,#81abce,#8db6d3,#97bfd8,#9fc5dc,#a5cbdf,#a9cee2,#a9cee2,#a9cee2,#a9cee2,#a9cee2,#a9cee2,#a9cee2)"></i>
<i style="background:linear-gradient(90deg,#e78858,#e78858,#e78858,#e78858,#e78858,#e78858,#e78858,#ea935e,#efa768,#f3bc77,#f7d48e,#fbe9a6,#fefabe,#f6fbd6,#eaf5eb,#deeff5,#d3e9f2,#d1e8f1,#cfe7f0,#cbe5ef,#c6e2ed,#c0deeb,#b9dae9,#b1d5e6,#a9cee2,#a3c9de,#9dc4db,#9bc2da,#99c0d9,#97bfd8,#93bbd6,#8db6d3,#85afd0,#7da7cb,#739cc5,#6c93c0,#648bbc,#5e84b8,#5b80b6,#597eb4,#597eb4,#5e84b8,#648bbc,#6e96c2,#77a1c8,#83adcf,#8db6d3,#97bfd8,#9fc5dc,#a7cce0,#a9cee2,#a9cee2,#a9cee2,#a9cee2,#a9cee2,#a9cee2,#a9cee2)"></i>
<i style="background:linear-gradient(90deg,#e47750,#e47750,#e47750,#e47750,#e47750,#e47750,#e47750,#e68155,#eb9660,#f1b06d,#f5c984,#f9e39e,#fdf4b6,#fafdce,#eef7e4,#e4f2f7,#d8ecf3,#d6ebf3,#d5eaf2,#d1e8f1,#cbe5ef,#c6e2ed,#beddeb,#b7d9e8,#afd3e5,#a9cee2,#a3c9de,#a1c7dd,#9fc5dc,#9dc4db,#99c0d9,#93bbd6,#8bb4d2,#81abce,#79a3c9,#6f98c3,#688fbe,#6289ba,#5e84b8,#5c82b7,#5c82b7,#6086b9,#688fbe,#6f98c3,#79a3c9,#85afd0,#8fb8d4,#99c0d9,#a1c7dd,#a7cce0,#a9cee2,#a9cee2,#a9cee2,#a9cee2,#a9cee2,#a9cee2,#a9cee2)"></i>
<i style="background:linear-gradient(90deg,#db6647,#db6647,#db6647,#db6647,#db6647,#db6647,#dc6848,#e1714c,#e78557,#eea266,#f3bd79,#f8da93,#fceead,#fffec5,#f1f9de,#e8f4ef,#deeff5,#dceef5,#daedf4,#d6ebf3,#d1e8f1,#cbe5ef,#c4e1ec,#bddcea,#b5d8e7,#afd3e5,#a9cee2,#a5cbdf,#a5cbdf,#a3c9de,#9fc5dc,#97bfd8,#8fb8d4,#87b1d1,#7da7cb,#739cc5,#6c93c0,#668dbd,#6086b9,#5e84b8,#6086b9,#648bbc,#6a91bf,#739cc5,#7ba5ca,#87b1d1,#91b9d5,#99c0d9,#a1c7dd,#a7cce0,#a9cee2,#a9cee2,#a9cee2,#a9cee2,#a9cee2,#a9cee2,#a9cee2)"></i>
<i style="background:linear-gradient(90deg,#d3573f,#d3573f,#d3573f,#d3573f,#d3573f,#d3573f,#d45940,#d96144,#e3754f,#ea915d,#f2b471,#f6d08b,#fbe9a6,#fefabe,#f6fbd6,#ebf6e9,#e5f3f5,#e2f1f7,#e0f0f6,#dceef5,#d6ebf3,#d1e8f1,#c9e4ee,#c2e0ec,#bbdbe9,#b5d8e7,#afd3e5,#abd0e3,#abd0e3,#a9cee2,#a3c9de,#9dc4db,#95bdd7,#8bb4d2,#81abce,#79a3c9,#6f98c3,#6a91bf,#648bbc,#6289ba,#648bbc,#688fbe,#6e96c2,#759ec6,#7da7cb,#87b1d1,#91b9d5,#99c0d9,#a1c7dd,#a7cce0,#a9cee2,#a9cee2,#a9cee2,#a9cee2,#a9cee2,#a9cee2,#a9cee2)"></i>
<i style="background:linear-gradient(90deg,#cc4a38,#cc4a38,#cc4a38,#cc4a38,#cc4a38,#cc4a38,#cd4c39,#d2553e,#dd6a49,#e78557,#efa96a,#f5c984,#fae59f,#fdf6b9,#f9fcd0,#eef7e4,#e7f4f1,#e6f3f3,#e5f3f5,#e0f0f6,#dceef5,#d5eaf2,#cde6f0,#c6e2ed,#beddeb,#b9dae9,#b3d7e7,#b1d5e6,#afd3e5,#add2e4,#a9cee2,#a1c7dd,#99c0d9,#8fb8d4,#85afd0,#7ba5ca,#739cc5,#6c93c0,#688fbe,#668dbd,#668dbd,#6a91bf,#6f98c3,#77a1c8,#7fa9cc,#89b2d1,#93bbd6,#9bc2da,#a1c7dd,#a7cce0,#a9cee2,#a9cee2,#a9cee2,#a9cee2,#a9cee2,#a9cee2,#a9cee2)"></i>
<i style="background:linear-gradient(90deg,#c53f32,#c53f32,#c53f32,#c53f32,#c53f32,#c53f32,#c64133,#cb4937,#d65d42,#e47a51,#ec9d63,#f3bf7b,#f9df99,#fcf1b2,#fcfecb,#f0f8e0,#eaf5eb,#e8f4ef,#e7f4f1,#e5f3f5,#e0f0f6,#daedf4,#d3e9f2,#cbe5ef,#c4e1ec,#bddcea,#b9dae9,#b5d8e7,#b3d7e7,#b1d5e6,#add2e4,#a5cbdf,#9dc4db,#93bbd6,#89b2d1,#7fa9cc,#77a1c8,#6f98c3,#6a91bf,#688fbe,#6a91bf,#6e96c2,#719ac4,#79a3c9,#81abce,#8bb4d2,#93bbd6,#9bc2da,#a1c7dd,#a7cce0,#a9cee2,#a9cee2,#a9cee2,#a9cee2,#a9cee2,#a9cee2,#a9cee2)"></i>
<i style="background:linear-gradient(90deg,#bc3730,#bc3730,#bc3730,#bc3730,#bc3730,#bc3730,#bc3730,#c53f32,#d1533d,#e06e4b,#ea935e,#f2b874,#f7d892,#fceead,#fffec5,#f4fada,#ecf6e7,#eaf5eb,#e9f5ed,#e7f4f1,#e4f2f7,#deeff5,#d6ebf3,#cfe7f0,#c8e3ee,#c2e0ec,#bddcea,#b9dae9,#b7d9e8,#b5d8e7,#b1d5e6,#a9cee2,#a1c7dd,#97bfd8,#8db6d3,#83adcf,#79a3c9,#719ac4,#6e96c2,#6a91bf,#6c93c0,#6f98c3,#759ec6,#7ba5ca,#83adcf,#8bb4d2,#95bdd7,#9bc2da,#a3c9de,#a7cce0,#a9cee2,#a9cee2,#a9cee2,#a9cee2,#a9cee2,#a9cee2,#a9cee2)"></i>
<i style="background:linear-gradient(90deg,#b2302f,#b2302f,#b2302f,#b2302f,#b2302f,#b2302f,#b4312f,#be3931,#cc4a38,#db6647,#e88a5a,#f2b26f,#f7d48e,#fbecaa,#fefcc2,#f6fbd6,#eef7e4,#ecf6e7,#ebf6e9,#e9f5ed,#e6f3f3,#e2f1f7,#daedf4,#d3e9f2,#cbe5ef,#c4e1ec,#c0deeb,#bddcea,#bbdbe9,#b9dae9,#b5d8e7,#add2e4,#a3c9de,#99c0d9,#8fb8d4,#85afd0,#7ba5ca,#739cc5,#6f98c3,#6e96c2,#6e96c2,#719ac4,#759ec6,#7da7cb,#85afd0,#8db6d3,#95bdd7,#9dc4db,#a3c9de,#a7cce0,#a9cee2,#a9cee2,#a9cee2,#a9cee2,#a9cee2,#a9cee2,#a9cee2)"></i>
<i style="background:linear-gradient(90deg,#ab2a2e,#ab2a2e,#ab2a2e,#ab2a2e,#ab2a2e,#ab2a2e,#ad2c2e,#b6332f,#c84334,#d85f43,#e68356,#f0ab6b,#f6ce89,#fae8a5,#fefabe,#f8fcd2,#f0f8e0,#eef7e4,#edf7e6,#ebf6e9,#e8f4ef,#e4f2f7,#dceef5,#d5eaf2,#cde6f0,#c8e3ee,#c2e0ec,#beddeb,#beddeb,#bddcea,#b7d9e8,#afd3e5,#a7cce0,#9dc4db,#91b9d5,#87b1d1,#7da7cb,#759ec6,#719ac4,#6f98c3,#6f98c3,#739cc5,#77a1c8,#7fa9cc,#85afd0,#8db6d3,#95bdd7,#9dc4db,#a3c9de,#a7cce0,#a9cee2,#a9cee2,#a9cee2,#a9cee2,#a9cee2,#a9cee2,#a9cee2)"></i>
<i style="background:linear-gradient(90deg,#a6272d,#a6272d,#a6272d,#a6272d,#a6272d,#a6272d,#a7282d,#b12e2f,#c33e32,#d45940,#e57c52,#efa768,#f5cb85,#fae7a3,#fdf7bb,#f9fcd0,#f1f9de,#eff8e2,#eef7e4,#ecf6e7,#e9f5ed,#e6f3f3,#e0f0f6,#d6ebf3,#d1e8f1,#c9e4ee,#c4e1ec,#c0deeb,#c0deeb,#beddeb,#b9dae9,#b1d5e6,#a9cee2,#9fc5dc,#93bbd6,#89b2d1,#7fa9cc,#77a1c8,#739cc5,#6f98c3,#719ac4,#739cc5,#79a3c9,#7fa9cc,#87b1d1,#8fb8d4,#97bfd8,#9dc4db,#a3c9de,#a7cce0,#a9cee2,#a9cee2,#a9cee2,#a9cee2,#a9cee2,#a9cee2,#a9cee2)"></i>
<i style="background:linear-gradient(90deg,#a2242c,#a2242c,#a2242c,#a2242c,#a2242c,#a2242c,#a2242c,#ad2c2e,#bf3a31,#d2553e,#e47a51,#eea467,#f5c984,#fae59f,#fdf6b9,#fafdce,#f3f9dc,#f0f8e0,#eff8e2,#edf7e6,#eaf5eb,#e6f3f3,#e0f0f6,#d8ecf3,#d1e8f1,#cbe5ef,#c6e2ed,#c2e0ec,#c2e0ec,#c0deeb,#bbdbe9,#b3d7e7,#a9cee2,#9fc5dc,#95bdd7,#8bb4d2,#81abce,#79a3c9,#739cc5,#719ac4,#719ac4,#759ec6,#79a3c9,#81abce,#87b1d1,#8fb8d4,#97bfd8,#9dc4db,#a3c9de,#a7cce0,#a9cee2,#a9cee2,#a9cee2,#a9cee2,#a9cee2,#a9cee2,#a9cee2)"></i>
<i style="background:linear-gradient(90deg,#a0232c,#a0232c,#a0232c,#a0232c,#a0232c,#a0232c,#a0232c,#ab2a2e,#be3931,#d1533d,#e47750,#eea266,#f5c782,#fae59f,#fdf5b7,#fbfdcc,#f3f9dc,#f1f9de,#f0f8e0,#edf7e6,#eaf5eb,#e7f4f1,#e2f1f7,#daedf4,#d3e9f2,#cbe5ef,#c6e2ed,#c4e1ec,#c2e0ec,#c0deeb,#bbdbe9,#b5d8e7,#abd0e3,#a1c7dd,#95bdd7,#8bb4d2,#81abce,#79a3c9,#739cc5,#719ac4,#739cc5,#759ec6,#7ba5ca,#81abce,#87b1d1,#8fb8d4,#97bfd8,#9dc4db,#a3c9de,#a7cce0,#a9cee2,#a9cee2,#a9cee2,#a9cee2,#a9cee2,#a9cee2,#a9cee2)"></i>
<i style="background:linear-gradient(90deg,#a0232c,#a0232c,#a0232c,#a0232c,#a0232c,#a0232c,#a0232c,#ab2a2e,#be3931,#d1533d,#e47750,#eea266,#f5c782,#fae59f,#fdf5b7,#fbfdcc,#f4fada,#f1f9de,#f0f8e0,#edf7e6,#ebf6e9,#e7f4f1,#e2f1f7,#daedf4,#d3e9f2,#cbe5ef,#c6e2ed,#c4e1ec,#c2e0ec,#c0deeb,#bbdbe9,#b5d8e7,#abd0e3,#a1c7dd,#95bdd7,#8bb4d2,#81abce,#79a3c9,#739cc5,#719ac4,#739cc5,#759ec6,#7ba5ca,#81abce,#87b1d1,#8fb8d4,#97bfd8,#9dc4db,#a3c9de,#a7cce0,#a9cee2,#a9cee2,#a9cee2,#a9cee2,#a9cee2,#a9cee2,#a9cee2)"></i>
<i style="background:linear-gradient(90deg,#a0232c,#a0232c,#a0232c,#a0232c,#a0232c,#a0232c,#a0232c,#ab2a2e,#be3931,#d1533d,#e47750,#eea266,#f5c782,#fae59f,#fdf5b7,#fbfdcc,#f4fada,#f1f9de,#f0f8e0,#edf7e6,#ebf6e9,#e7f4f1,#e2f1f7,#daedf4,#d3e9f2,#cbe5ef,#c6e2ed,#c4e1ec,#c2e0ec,#c0deeb,#bbdbe9,#b5d8e7,#abd0e3,#a1c7dd,#95bdd7,#8bb4d2,#81abce,#79a3c9,#739cc5,#719ac4,#739cc5,#759ec6,#7ba5ca,#81abce,#87b1d1,#8fb8d4,#97bfd8,#9dc4db,#a3c9de,#a7cce0,#a9cee2,#a9cee2,#a9cee2,#a9cee2,#a9cee2,#a9cee2,#a9cee2)"></i>
<i style="background:linear-gradient(90deg,#a0232c,#a0232c,#a0232c,#a0232c,#a0232c,#a0232c,#a0232c,#ab2a2e,#be3931,#d1533d,#e47750,#eea266,#f5c782,#fae59f,#fdf5b7,#fbfdcc,#f4fada,#f1f9de,#f0f8e0,#edf7e6,#ebf6e9,#e7f4f1,#e2f1f7,#daedf4,#d3e9f2,#cbe5ef,#c6e2ed,#c4e1ec,#c2e0ec,#c0deeb,#bbdbe9,#b5d8e7,#abd0e3,#a1c7dd,#95bdd7,#8bb4d2,#81abce,#79a3c9,#739cc5,#719ac4,#739cc5,#759ec6,#7ba5ca,#81abce,#87b1d1,#8fb8d4,#97bfd8,#9dc4db,#a3c9de,#a7cce0,#a9cee2,#a9cee2,#a9cee2,#a9cee2,#a9cee2,#a9cee2,#a9cee2)"></i>
<i style="background:linear-gradient(90deg,#a0232c,#a0232c,#a0232c,#a0232c,#a0232c,#a0232c,#a0232c,#ab2a2e,#be3931,#d1533d,#e47750,#eea266,#f5c782,#fae59f,#fdf5b7,#fbfdcc,#f4fada,#f1f9de,#f0f8e0,#edf7e6,#ebf6e9,#e7f4f1,#e2f1f7,#daedf4,#d3e9f2,#cbe5ef,#c6e2ed,#c4e1ec,#c2e0ec,#c0deeb,#bbdbe9,#b5d8e7,#abd0e3,#a1c7dd,#95bdd7,#8bb4d2,#81abce,#79a3c9,#739cc5,#719ac4,#739cc5,#759ec6,#7ba5ca,#81abce,#87b1d1,#8fb8d4,#97bfd8,#9dc4db,#a3c9de,#a7cce0,#a9cee2,#a9cee2,#a9cee2,#a9cee2,#a9cee2,#a9cee2,#a9cee2)"></i>
<i style="background:linear-gradient(90deg,#a0232c,#a0232c,#a0232c,#a0232c,#a0232c,#a0232c,#a0232c,#ab2a2e,#be3931,#d1533d,#e47750,#eea266,#f5c782,#fae59f,#fdf5b7,#fbfdcc,#f4fada,#f1f9de,#f0f8e0,#edf7e6,#ebf6e9,#e7f4f1,#e2f1f7,#daedf4,#d3e9f2,#cbe5ef,#c6e2ed,#c4e1ec,#c2e0ec,#c0deeb,#bbdbe9,#b5d8e7,#abd0e3,#a1c7dd,#95bdd7,#8bb4d2,#81abce,#79a3c9,#739cc5,#719ac4,#739cc5,#759ec6,#7ba5ca,#81abce,#87b1d1,#8fb8d4,#97bfd8,#9dc4db,#a3c9de,#a7cce0,#a9cee2,#a9cee2,#a9cee2,#a9cee2,#a9cee2,#a9cee2,#a9cee2)"></i>
<i style="background:linear-gradient(90deg,#a0232c,#a0232c,#a0232c,#a0232c,#a0232c,#a0232c,#a0232c,#ab2a2e,#be3931,#d1533d,#e47750,#eea266,#f5c782,#fae59f,#fdf5b7,#fbfdcc,#f4fada,#f1f9de,#f0f8e0,#edf7e6,#ebf6e9,#e7f4f1,#e2f1f7,#daedf4,#d3e9f2,#cbe5ef,#c6e2ed,#c4e1ec,#c2e0ec,#c0deeb,#bbdbe9,#b5d8e7,#abd0e3,#a1c7dd,#95bdd7,#8bb4d2,#81abce,#79a3c9,#739cc5,#719ac4,#739cc5,#759ec6,#7ba5ca,#81abce,#87b1d1,#8fb8d4,#97bfd8,#9dc4db,#a3c9de,#a7cce0,#a9cee2,#a9cee2,#a9cee2,#a9cee2,#a9cee2,#a9cee2,#a9cee2)"></i>
<i style="background:linear-gradient(90deg,#a0232c,#a0232c,#a0232c,#a0232c,#a0232c,#a0232c,#a0232c,#ab2a2e,#be3931,#d1533d,#e47750,#eea266,#f5c782,#fae59f,#fdf5b7,#fbfdcc,#f4fada,#f1f9de,#f0f8e0,#edf7e6,#ebf6e9,#e7f4f1,#e2f1f7,#daedf4,#d3e9f2,#cbe5ef,#c6e2ed,#c4e1ec,#c2e0ec,#c0deeb,#bbdbe9,#b5d8e7,#abd0e3,#a1c7dd,#95bdd7,#8bb4d2,#81abce,#79a3c9,#739cc5,#719ac4,#739cc5,#759ec6,#7ba5ca,#81abce,#87b1d1,#8fb8d4,#97bfd8,#9dc4db,#a3c9de,#a7cce0,#a9cee2,#a9cee2,#a9cee2,#a9cee2,#a9cee2,#a9cee2,#a9cee2)"></i>
<i style="background:linear-gradient(90deg,#a0232c,#a0232c,#a0232c,#a0232c,#a0232c,#a0232c,#a0232c,#ab2a2e,#be3931,#d1533d,#e47750,#eea266,#f5c782,#fae59f,#fdf5b7,#fbfdcc,#f4fada,#f1f9de,#f0f8e0,#edf7e6,#ebf6e9,#e7f4f1,#e2f1f7,#daedf4,#d3e9f2,#cbe5ef,#c6e2ed,#c4e1ec,#c2e0ec,#c0deeb,#bbdbe9,#b5d8e7,#abd0e3,#a1c7dd,#95bdd7,#8bb4d2,#81abce,#79a3c9,#739cc5,#719ac4,#739cc5,#759ec6,#7ba5ca,#81abce,#87b1d1,#8fb8d4,#97bfd8,#9dc4db,#a3c9de,#a7cce0,#a9cee2,#a9cee2,#a9cee2,#a9cee2,#a9cee2,#a9cee2,#a9cee2)"></i>
<i style="background:linear-gradient(90deg,#a0232c,#a0232c,#a0232c,#a0232c,#a0232c,#a0232c,#a0232c,#ab2a2e,#be3931,#d1533d,#e47750,#eea266,#f5c782,#fae59f,#fdf5b7,#fbfdcc,#f4fada,#f1f9de,#f0f8e0,#edf7e6,#ebf6e9,#e7f4f1,#e2f1f7,#daedf4,#d3e9f2,#cbe5ef,#c6e2ed,#c4e1ec,#c2e0ec,#c0deeb,#bbdbe9,#b5d8e7,#abd0e3,#a1c7dd,#95bdd7,#8bb4d2,#81abce,#79a3c9,#739cc5,#719ac4,#739cc5,#759ec6,#7ba5ca,#81abce,#87b1d1,#8fb8d4,#97bfd8,#9dc4db,#a3c9de,#a7cce0,#a9cee2,#a9cee2,#a9cee2,#a9cee2,#a9cee2,#a9cee2,#a9cee2)"></i>
<i style="background:linear-gradient(90deg,#a0232c,#a0232c,#a0232c,#a0232c,#a0232c,#a0232c,#a0232c,#ab2a2e,#be3931,#d1533d,#e47750,#eea266,#f5c782,#fae59f,#fdf5b7,#fbfdcc,#f4fada,#f1f9de,#f0f8e0,#edf7e6,#ebf6e9,#e7f4f1,#e2f1f7,#daedf4,#d3e9f2,#cbe5ef,#c6e2ed,#c4e1ec,#c2e0ec,#c0deeb,#bbdbe9,#b5d8e7,#abd0e3,#a1c7dd,#95bdd7,#8bb4d2,#81abce,#79a3c9,#739cc5,#719ac4,#739cc5,#759ec6,#7ba5ca,#81abce,#87b1d1,#8fb8d4,#97bfd8,#9dc4db,#a3c9de,#a7cce0,#a9cee2,#a9cee2,#a9cee2,#a9cee2,#a9cee2,#a9cee2,#a9cee2)"></i>
<i style="background:linear-gradient(90deg,#a0232c,#a0232c,#a0232c,#a0232c,#a0232c,#a0232c,#a0232c,#ab2a2e,#be3931,#d1533d,#e47750,#eea266,#f5c782,#fae59f,#fdf5b7,#fbfdcc,#f4fada,#f1f9de,#f0f8e0,#edf7e6,#ebf6e9,#e7f4f1,#e2f1f7,#daedf4,#d3e9f2,#cbe5ef,#c6e2ed,#c4e1ec,#c2e0ec,#c0deeb,#bbdbe9,#b5d8e7,#abd0e3,#a1c7dd,#95bdd7,#8bb4d2,#81abce,#79a3c9,#739cc5,#719ac4,#739cc5,#759ec6,#7ba5ca,#81abce,#87b1d1,#8fb8d4,#97bfd8,#9dc4db,#a3c9de,#a7cce0,#a9cee2,#a9cee2,#a9cee2,#a9cee2,#a9cee2,#a9cee2,#a9cee2)"></i>
<i style="background:linear-gradient(90deg,#a0232c,#a0232c,#a0232c,#a0232c,#a0232c,#a0232c,#a0232c,#ab2a2e,#be3931,#d1533d,#e47750,#eea266,#f5c782,#fae59f,#fdf5b7,#fbfdcc,#f4fada,#f1f9de,#f0f8e0,#edf7e6,#ebf6e9,#e7f4f1,#e2f1f7,#daedf4,#d3e9f2,#cbe5ef,#c6e2ed,#c4e1ec,#c2e0ec,#c0deeb,#bbdbe9,#b5d8e7,#abd0e3,#a1c7dd,#95bdd7,#8bb4d2,#81abce,#79a3c9,#739cc5,#719ac4,#739cc5,#759ec6,#7ba5ca,#81abce,#87b1d1,#8fb8d4,#97bfd8,#9dc4db,#a3c9de,#a7cce0,#a9cee2,#a9cee2,#a9cee2,#a9cee2,#a9cee2,#a9cee2,#a9cee2)"></i>
<i style="background:linear-gradient(90deg,#a0232c,#a0232c,#a0232c,#a0232c,#a0232c,#a0232c,#a0232c,#ab2a2e,#be3931,#d1533d,#e47750,#eea266,#f5c782,#fae59f,#fdf5b7,#fbfdcc,#f4fada,#f1f9de,#f0f8e0,#edf7e6,#ebf6e9,#e7f4f1,#e2f1f7,#daedf4,#d3e9f2,#cbe5ef,#c6e2ed,#c4e1ec,#c2e0ec,#c0deeb,#bbdbe9,#b5d8e7,#abd0e3,#a1c7dd,#95bdd7,#8bb4d2,#81abce,#79a3c9,#739cc5,#719ac4,#739cc5,#759ec6,#7ba5ca,#81abce,#87b1d1,#8fb8d4,#97bfd8,#9dc4db,#a3c9de,#a7cce0,#a9cee2,#a9cee2,#a9cee2,#a9cee2,#a9cee2,#a9cee2,#a9cee2)"></i>
<i style="background:linear-gradient(90deg,#a0232c,#a0232c,#a0232c,#a0232c,#a0232c,#a0232c,#a0232c,#ab2a2e,#be3931,#d1533d,#e47750,#eea266,#f5c782,#fae59f,#fdf5b7,#fbfdcc,#f4fada,#f1f9de,#f0f8e0,#edf7e6,#ebf6e9,#e7f4f1,#e2f1f7,#daedf4,#d3e9f2,#cbe5ef,#c6e2ed,#c4e1ec,#c2e0ec,#c0deeb,#bbdbe9,#b5d8e7,#abd0e3,#a1c7dd,#95bdd7,#8bb4d2,#81abce,#79a3c9,#739cc5,#719ac4,#739cc5,#759ec6,#7ba5ca,#81abce,#87b1d1,#8fb8d4,#97bfd8,#9dc4db,#a3c9de,#a7cce0,#a9cee2,#a9cee2,#a9cee2,#a9cee2,#a9cee2,#a9cee2,#a9cee2)"></i>
<i style="background:linear-gradient(90deg,#a0232c,#a0232c,#a0232c,#a0232c,#a0232c,#a0232c,#a0232c,#ab2a2e,#be3931,#d1533d,#e47750,#eea266,#f5c782,#fae59f,#fdf5b7,#fbfdcc,#f4fada,#f1f9de,#f0f8e0,#edf7e6,#ebf6e9,#e7f4f1,#e2f1f7,#daedf4,#d3e9f2,#cbe5ef,#c6e2ed,#c4e1ec,#c2e0ec,#c0deeb,#bbdbe9,#b5d8e7,#abd0e3,#a1c7dd,#95bdd7,#8bb4d2,#81abce,#79a3c9,#739cc5,#719ac4,#739cc5,#759ec6,#7ba5ca,#81abce,#87b1d1,#8fb8d4,#97bfd8,#9dc4db,#a3c9de,#a7cce0,#a9cee2,#a9cee2,#a9cee2,#a9cee2,#a9cee2,#a9cee2,#a9cee2)"></i>
</div></div>
<div class="cb" style="left:914px;top:102px;width:20px;height:416px;background:linear-gradient(180deg,#323690,#364094,#3b4999,#40539e,#455da3,#4966a8,#4e70ad,#5579b2,#5c82b7,#648bbc,#6c93c0,#739cc5,#7ba5ca,#83adcf,#8bb4d2,#93bbd6,#9bc2da,#a3c9de,#abd0e3,#b3d7e7,#bbdbe9,#c2e0ec,#c9e4ee,#d1e8f1,#d8ecf3,#e0f0f6,#e6f3f3,#eaf5eb,#eef7e4,#f3f9dc,#f7fbd4,#fbfdcc,#feffc7,#fefbc0,#fdf6b9,#fcf1b2,#fbedab,#fae8a5,#f9e39e,#f8dd97,#f7d690,#f6ce89,#f5c782,#f3bf7b,#f2b874,#f1b06d,#efa768,#ec9d63,#ea935e,#e88a5a,#e68155,#e47750,#e06e4b,#db6647,#d65d42,#d2553e,#cd4c39,#c94535,#c33e32,#bc3730,#b4312f,#ad2c2e,#a6272d,#9e222c,#971d2b)"></div>
<div class="hm" style="left:1121px;top:102px;width:446px;height:415px"><div class="hs">
<i style="background:linear-gradient(90deg,#6289ba,#6289ba,#6289ba,#6289ba,#6289ba,#6289ba,#648bbc,#648bbc,#688fbe,#6c93c0,#719ac4,#759ec6,#7ba5ca,#81abce,#85afd0,#89b2d1,#8bb4d2,#8bb4d2,#8db6d3,#93bbd6,#9bc2da,#a3c9de,#add2e4,#b7d9e8,#c0deeb,#c9e4ee,#cfe7f0,#d3e9f2,#d5eaf2,#d6ebf3,#d8ecf3,#dceef5,#e2f1f7,#e6f3f3,#e9f5ed,#ecf6e7,#eff8e2,#f1f9de,#f4fada,#f4fada,#f6fbd6,#fcfecb,#fdf7bb,#fbe9a6,#f7d48e,#f3ba76,#ec9b62,#e57c52,#db6647,#d2553e,#cd4c39,#cd4c39,#cd4c39,#cd4c39,#cd4c39,#cd4c39,#cd4c39)"></i>
<i style="background:linear-gradient(90deg,#6289ba,#6289ba,#6289ba,#6289ba,#6289ba,#6289ba,#648bbc,#648bbc,#688fbe,#6c93c0,#719ac4,#759ec6,#7ba5ca,#81abce,#85afd0,#89b2d1,#8bb4d2,#8bb4d2,#8db6d3,#93bbd6,#9bc2da,#a3c9de,#add2e4,#b7d9e8,#c0deeb,#c9e4ee,#cfe7f0,#d3e9f2,#d5eaf2,#d6ebf3,#d8ecf3,#dceef5,#e2f1f7,#e6f3f3,#e9f5ed,#ecf6e7,#eff8e2,#f1f9de,#f4fada,#f4fada,#f6fbd6,#fcfecb,#fdf7bb,#fbe9a6,#f7d48e,#f3ba76,#ec9b62,#e57c52,#db6647,#d2553e,#cd4c39,#cd4c39,#cd4c39,#cd4c39,#cd4c39,#cd4c39,#cd4c39)"></i>
<i style="background:linear-gradient(90deg,#6289ba,#6289ba,#6289ba,#6289ba,#6289ba,#6289ba,#648bbc,#648bbc,#688fbe,#6c93c0,#719ac4,#759ec6,#7ba5ca,#81abce,#85afd0,#89b2d1,#8bb4d2,#8bb4d2,#8db6d3,#93bbd6,#9bc2da,#a3c9de,#add2e4,#b7d9e8,#c0deeb,#c9e4ee,#cfe7f0,#d3e9f2,#d5eaf2,#d6ebf3,#d8ecf3,#dceef5,#e2f1f7,#e6f3f3,#e9f5ed,#ecf6e7,#eff8e2,#f1f9de,#f4fada,#f4fada,#f6fbd6,#fcfecb,#fdf7bb,#fbe9a6,#f7d48e,#f3ba76,#ec9b62,#e57c52,#db6647,#d2553e,#cd4c39,#cd4c39,#cd4c39,#cd4c39,#cd4c39,#cd4c39,#cd4c39)"></i>
<i style="background:linear-gradient(90deg,#6289ba,#6289ba,#6289ba,#6289ba,#6289ba,#6289ba,#648bbc,#648bbc,#688fbe,#6c93c0,#719ac4,#759ec6,#7ba5ca,#81abce,#85afd0,#89b2d1,#8bb4d2,#8bb4d2,#8db6d3,#93bbd6,#9bc2da,#a3c9de,#add2e4,#b7d9e8,#c0deeb,#c9e4ee,#cfe7f0,#d3e9f2,#d5eaf2,#d6ebf3,#d8ecf3,#dceef5,#e2f1f7,#e6f3f3,#e9f5ed,#ecf6e7,#eff8e2,#f1f9de,#f4fada,#f4fada,#f6fbd6,#fcfecb,#fdf7bb,#fbe9a6,#f7d48e,#f3ba76,#ec9b62,#e57c52,#db6647,#d2553e,#cd4c39,#cd4c39,#cd4c39,#cd4c39,#cd4c39,#cd4c39,#cd4c39)"></i>
<i style="background:linear-gradient(90deg,#6289ba,#6289ba,#6289ba,#6289ba,#6289ba,#6289ba,#648bbc,#648bbc,#688fbe,#6c93c0,#719ac4,#759ec6,#7ba5ca,#81abce,#85afd0,#89b2d1,#8bb4d2,#8bb4d2,#8db6d3,#93bbd6,#9bc2da,#a3c9de,#add2e4,#b7d9e8,#c0deeb,#c9e4ee,#cfe7f0,#d3e9f2,#d5eaf2,#d6ebf3,#d8ecf3,#dceef5,#e2f1f7,#e6f3f3,#e9f5ed,#ecf6e7,#eff8e2,#f1f9de,#f4fada,#f4fada,#f6fbd6,#fcfecb,#fdf7bb,#fbe9a6,#f7d48e,#f3ba76,#ec9b62,#e57c52,#db6647,#d2553e,#cd4c39,#cd4c39,#cd4c39,#cd4c39,#cd4c39,#cd4c39,#cd4c39)"></i>
<i style="background:linear-gradient(90deg,#6289ba,#6289ba,#6289ba,#6289ba,#6289ba,#6289ba,#648bbc,#648bbc,#688fbe,#6c93c0,#719ac4,#759ec6,#7ba5ca,#81abce,#85afd0,#89b2d1,#8bb4d2,#8bb4d2,#8db6d3,#93bbd6,#9bc2da,#a3c9de,#add2e4,#b7d9e8,#c0deeb,#c9e4ee,#cfe7f0,#d3e9f2,#d5eaf2,#d6ebf3,#d8ecf3,#dceef5,#e2f1f7,#e6f3f3,#e9f5ed,#ecf6e7,#eff8e2,#f1f9de,#f4fada,#f4fada,#f6fbd6,#fcfecb,#fdf7bb,#fbe9a6,#f7d48e,#f3ba76,#ec9b62,#e57c52,#db6647,#d2553e,#cd4c39,#cd4c39,#cd4c39,#cd4c39,#cd4c39,#cd4c39,#cd4c39)"></i>
<i style="background:linear-gradient(90deg,#6289ba,#6289ba,#6289ba,#6289ba,#6289ba,#6289ba,#648bbc,#648bbc,#688fbe,#6c93c0,#719ac4,#759ec6,#7ba5ca,#81abce,#85afd0,#89b2d1,#8bb4d2,#8bb4d2,#8db6d3,#93bbd6,#9bc2da,#a3c9de,#add2e4,#b7d9e8,#c0deeb,#c9e4ee,#cfe7f0,#d3e9f2,#d5eaf2,#d6ebf3,#d8ecf3,#dceef5,#e2f1f7,#e6f3f3,#e9f5ed,#ecf6e7,#eff8e2,#f1f9de,#f4fada,#f4fada,#f6fbd6,#fcfecb,#fdf7bb,#fbe9a6,#f7d48e,#f3ba76,#ec9b62,#e57c52,#db6647,#d2553e,#cd4c39,#cd4c39,#cd4c39,#cd4c39,#cd4c39,#cd4c39,#cd4c39)"></i>
<i style="background:linear-gradient(90deg,#6289ba,#6289ba,#6289ba,#6289ba,#6289ba,#6289ba,#648bbc,#648bbc,#688fbe,#6c93c0,#719ac4,#759ec6,#7ba5ca,#81abce,#85afd0,#89b2d1,#8bb4d2,#8bb4d2,#8db6d3,#93bbd6,#9bc2da,#a3c9de,#add2e4,#b7d9e8,#c0deeb,#c9e4ee,#cfe7f0,#d3e9f2,#d5eaf2,#d6ebf3,#d8ecf3,#dceef5,#e2f1f7,#e6f3f3,#e9f5ed,#ecf6e7,#eff8e2,#f1f9de,#f4fada,#f4fada,#f6fbd6,#fcfecb,#fdf7bb,#fbe9a6,#f7d48e,#f3ba76,#ec9b62,#e57c52,#db6647,#d2553e,#cd4c39,#cd4c39,#cd4c39,#cd4c39,#cd4c39,#cd4c39,#cd4c39)"></i>
<i style="background:linear-gradient(90deg,#6289ba,#6289ba,#6289ba,#6289ba,#6289ba,#6289ba,#648bbc,#648bbc,#688fbe,#6c93c0,#719ac4,#759ec6,#7ba5ca,#81abce,#85afd0,#89b2d1,#8bb4d2,#8bb4d2,#8db6d3,#93bbd6,#9bc2da,#a3c9de,#add2e4,#b7d9e8,#c0deeb,#c9e4ee,#cfe7f0,#d3e9f2,#d5eaf2,#d6ebf3,#d8ecf3,#dceef5,#e2f1f7,#e6f3f3,#e9f5ed,#ecf6e7,#eff8e2,#f1f9de,#f4fada,#f4fada,#f6fbd6,#fcfecb,#fdf7bb,#fbe9a6,#f7d48e,#f3ba76,#ec9b62,#e57c52,#db6647,#d2553e,#cd4c39,#cd4c39,#cd4c39,#cd4c39,#cd4c39,#cd4c39,#cd4c39)"></i>
<i style="background:linear-gradient(90deg,#6289ba,#6289ba,#6289ba,#6289ba,#6289ba,#6289ba,#648bbc,#648bbc,#688fbe,#6c93c0,#719ac4,#759ec6,#7ba5ca,#81abce,#85afd0,#89b2d1,#8bb4d2,#8bb4d2,#8db6d3,#93bbd6,#9bc2da,#a3c9de,#add2e4,#b7d9e8,#c0deeb,#c9e4ee,#cfe7f0,#d3e9f2,#d5eaf2,#d6ebf3,#d8ecf3,#dceef5,#e2f1f7,#e6f3f3,#e9f5ed,#ecf6e7,#eff8e2,#f1f9de,#f4fada,#f4fada,#f6fbd6,#fcfecb,#fdf7bb,#fbe9a6,#f7d48e,#f3ba76,#ec9b62,#e57c52,#db6647,#d2553e,#cd4c39,#cd4c39,#cd4c39,#cd4c39,#cd4c39,#cd4c39,#cd4c39)"></i>
<i style="background:linear-gradient(90deg,#6289ba,#6289ba,#6289ba,#6289ba,#6289ba,#6289ba,#648bbc,#648bbc,#688fbe,#6c93c0,#719ac4,#759ec6,#7ba5ca,#81abce,#85afd0,#89b2d1,#8bb4d2,#8bb4d2,#8db6d3,#93bbd6,#9bc2da,#a3c9de,#add2e4,#b7d9e8,#c0deeb,#c9e4ee,#cfe7f0,#d3e9f2,#d5eaf2,#d6ebf3,#d8ecf3,#dceef5,#e2f1f7,#e6f3f3,#e9f5ed,#ecf6e7,#eff8e2,#f1f9de,#f4fada,#f4fada,#f6fbd6,#fcfecb,#fdf7bb,#fbe9a6,#f7d48e,#f3ba76,#ec9b62,#e57c52,#db6647,#d2553e,#cd4c39,#cd4c39,#cd4c39,#cd4c39,#cd4c39,#cd4c39,#cd4c39)"></i>
<i style="background:linear-gradient(90deg,#6289ba,#6289ba,#6289ba,#6289ba,#6289ba,#6289ba,#648bbc,#648bbc,#688fbe,#6c93c0,#719ac4,#759ec6,#7ba5ca,#81abce,#85afd0,#89b2d1,#8bb4d2,#8bb4d2,#8db6d3,#93bbd6,#9bc2da,#a3c9de,#add2e4,#b7d9e8,#c0deeb,#c9e4ee,#cfe7f0,#d3e9f2,#d5eaf2,#d6ebf3,#d8ecf3,#dceef5,#e2f1f7,#e6f3f3,#e9f5ed,#ecf6e7,#eff8e2,#f1f9de,#f4fada,#f4fada,#f6fbd6,#fcfecb,#fdf7bb,#fbe9a6,#f7d48e,#f3ba76,#ec9b62,#e57c52,#db6647,#d2553e,#cd4c39,#cd4c39,#cd4c39,#cd4c39,#cd4c39,#cd4c39,#cd4c39)"></i>
<i style="background:linear-gradient(90deg,#6289ba,#6289ba,#6289ba,#6289ba,#6289ba,#6289ba,#648bbc,#648bbc,#688fbe,#6c93c0,#719ac4,#759ec6,#7ba5ca,#81abce,#85afd0,#89b2d1,#8bb4d2,#8bb4d2,#8db6d3,#93bbd6,#9bc2da,#a3c9de,#add2e4,#b7d9e8,#c0deeb,#c9e4ee,#cfe7f0,#d3e9f2,#d5eaf2,#d6ebf3,#d8ecf3,#dceef5,#e2f1f7,#e6f3f3,#e9f5ed,#ecf6e7,#eff8e2,#f1f9de,#f4fada,#f4fada,#f6fbd6,#fcfecb,#fdf7bb,#fbe9a6,#f7d48e,#f3ba76,#ec9b62,#e57c52,#db6647,#d2553e,#cd4c39,#cd4c39,#cd4c39,#cd4c39,#cd4c39,#cd4c39,#cd4c39)"></i>
<i style="background:linear-gradient(90deg,#648bbc,#648bbc,#648bbc,#648bbc,#648bbc,#648bbc,#648bbc,#668dbd,#688fbe,#6c93c0,#719ac4,#77a1c8,#7ba5ca,#81abce,#85afd0,#89b2d1,#8bb4d2,#8bb4d2,#8fb8d4,#93bbd6,#9bc2da,#a5cbdf,#afd3e5,#b9dae9,#c0deeb,#c9e4ee,#cfe7f0,#d3e9f2,#d5eaf2,#d6ebf3,#d8ecf3,#dceef5,#e2f1f7,#e6f3f3,#e9f5ed,#ecf6e7,#eff8e2,#f1f9de,#f3f9dc,#f4fada,#f6fbd6,#fcfecb,#fdf7bb,#fbe9a6,#f7d690,#f3bc77,#ec9d63,#e57e54,#db6647,#d2553e,#ce4f3a,#cd4c39,#cd4c39,#cd4c39,#cd4c39,#cd4c39,#cd4c39)"></i>
<i style="background:linear-gradient(90deg,#648bbc,#648bbc,#648bbc,#648bbc,#648bbc,#648bbc,#648bbc,#668dbd,#6a91bf,#6e96c2,#719ac4,#77a1c8,#7da7cb,#83adcf,#87b1d1,#8bb4d2,#8db6d3,#8db6d3,#91b9d5,#95bdd7,#9dc4db,#a5cbdf,#afd3e5,#b9dae9,#c2e0ec,#c9e4ee,#cfe7f0,#d3e9f2,#d5eaf2,#d6ebf3,#d8ecf3,#dceef5,#e2f1f7,#e6f3f3,#e9f5ed,#ecf6e7,#eff8e2,#f1f9de,#f3f9dc,#f4fada,#f6fbd6,#fcfecb,#fdf7bb,#fbeaa8,#f7d690,#f3bc77,#ed9f65,#e68155,#dd6a49,#d45940,#d0513b,#d0513b,#d0513b,#d0513b,#d0513b,#d0513b,#d0513b)"></i>
<i style="background:linear-gradient(90deg,#668dbd,#668dbd,#668dbd,#668dbd,#668dbd,#668dbd,#668dbd,#688fbe,#6a91bf,#6f98c3,#739cc5,#79a3c9,#7fa9cc,#85afd0,#89b2d1,#8db6d3,#91b9d5,#91b9d5,#93bbd6,#99c0d9,#9fc5dc,#a7cce0,#b1d5e6,#b9dae9,#c2e0ec,#c9e4ee,#cfe7f0,#d3e9f2,#d5eaf2,#d5eaf2,#d8ecf3,#dceef5,#e2f1f7,#e6f3f3,#e9f5ed,#ecf6e7,#eef7e4,#f1f9de,#f3f9dc,#f4fada,#f5fad8,#fbfdcc,#fef9bc,#fbeaa8,#f7d892,#f3bf7b,#eea266,#e78557,#e06e4b,#d65d42,#d2553e,#d2553e,#d2553e,#d2553e,#d2553e,#d2553e,#d2553e)"></i>
<i style="background:linear-gradient(90deg,#668dbd,#668dbd,#668dbd,#668dbd,#668dbd,#668dbd,#668dbd,#688fbe,#6c93c0,#719ac4,#759ec6,#7da7cb,#83adcf,#89b2d1,#8db6d3,#91b9d5,#93bbd6,#95bdd7,#97bfd8,#9bc2da,#a1c7dd,#a9cee2,#b3d7e7,#bbdbe9,#c2e0ec,#c9e4ee,#cfe7f0,#d3e9f2,#d3e9f2,#d5eaf2,#d6ebf3,#dceef5,#e0f0f6,#e5f3f5,#e8f4ef,#ebf6e9,#eef7e4,#f0f8e0,#f3f9dc,#f3f9dc,#f5fad8,#fbfdcc,#fefabe,#fbecaa,#f8db95,#f4c17d,#efa768,#e88a5a,#e2734e,#da6346,#d55b41,#d55b41,#d55b41,#d55b41,#d55b41,#d55b41,#d55b41)"></i>
<i style="background:linear-gradient(90deg,#688fbe,#688fbe,#688fbe,#688fbe,#688fbe,#688fbe,#688fbe,#6a91bf,#6e96c2,#739cc5,#79a3c9,#7fa9cc,#87b1d1,#8db6d3,#91b9d5,#97bfd8,#99c0d9,#99c0d9,#9bc2da,#9fc5dc,#a5cbdf,#add2e4,#b5d8e7,#bddcea,#c4e1ec,#c9e4ee,#cfe7f0,#d1e8f1,#d3e9f2,#d5eaf2,#d6ebf3,#daedf4,#e0f0f6,#e5f3f5,#e8f4ef,#ebf6e9,#eef7e4,#f0f8e0,#f1f9de,#f3f9dc,#f5fad8,#fafdce,#fefabe,#fceead,#f8dd97,#f4c580,#f1ae6c,#ea915d,#e47a51,#dd6a49,#da6346,#d96144,#d96144,#d96144,#d96144,#d96144,#d96144)"></i>
<i style="background:linear-gradient(90deg,#6a91bf,#6a91bf,#6a91bf,#6a91bf,#6a91bf,#6a91bf,#6a91bf,#6c93c0,#6f98c3,#759ec6,#7ba5ca,#83adcf,#89b2d1,#91b9d5,#97bfd8,#9bc2da,#9dc4db,#9fc5dc,#a1c7dd,#a5cbdf,#a9cee2,#afd3e5,#b7d9e8,#beddeb,#c4e1ec,#c9e4ee,#cde6f0,#d1e8f1,#d3e9f2,#d3e9f2,#d6ebf3,#daedf4,#deeff5,#e4f2f7,#e7f4f1,#eaf5eb,#edf7e6,#eff8e2,#f1f9de,#f3f9dc,#f4fada,#f9fcd0,#fefbc0,#fcefaf,#f9e19a,#f5cb85,#f2b26f,#eb9861,#e68356,#e2734e,#dd6a49,#dd6a49,#dd6a49,#dd6a49,#dd6a49,#dd6a49,#dd6a49)"></i>
<i style="background:linear-gradient(90deg,#6c93c0,#6c93c0,#6c93c0,#6c93c0,#6c93c0,#6c93c0,#6e96c2,#6f98c3,#739cc5,#79a3c9,#7fa9cc,#87b1d1,#8fb8d4,#95bdd7,#9bc2da,#a1c7dd,#a3c9de,#a5cbdf,#a5cbdf,#a9cee2,#add2e4,#b3d7e7,#b9dae9,#beddeb,#c4e1ec,#c9e4ee,#cde6f0,#d1e8f1,#d1e8f1,#d3e9f2,#d5eaf2,#d8ecf3,#deeff5,#e4f2f7,#e7f4f1,#eaf5eb,#edf7e6,#eff8e2,#f0f8e0,#f1f9de,#f4fada,#f9fcd0,#fefcc2,#fcf0b0,#f9e39e,#f6ce89,#f2b874,#eea266,#e98c5b,#e57c52,#e3754f,#e2734e,#e2734e,#e2734e,#e2734e,#e2734e,#e2734e)"></i>
<i style="background:linear-gradient(90deg,#6f98c3,#6f98c3,#6f98c3,#6f98c3,#6f98c3,#6f98c3,#6f98c3,#719ac4,#759ec6,#7ba5ca,#83adcf,#8bb4d2,#93bbd6,#9bc2da,#a1c7dd,#a7cce0,#a9cee2,#abd0e3,#add2e4,#afd3e5,#b3d7e7,#b7d9e8,#bddcea,#c0deeb,#c6e2ed,#c9e4ee,#cde6f0,#cfe7f0,#d1e8f1,#d1e8f1,#d5eaf2,#d8ecf3,#dceef5,#e2f1f7,#e6f3f3,#e9f5ed,#ecf6e7,#eef7e4,#f0f8e0,#f1f9de,#f3f9dc,#f8fcd2,#fffec5,#fcf3b4,#fae6a1,#f7d48e,#f3bf7b,#efa96a,#eb9660,#e78858,#e57e54,#e57e54,#e57e54,#e57e54,#e57e54,#e57e54,#e57e54)"></i>
<i style="background:linear-gradient(90deg,#719ac4,#719ac4,#719ac4,#719ac4,#719ac4,#719ac4,#719ac4,#739cc5,#79a3c9,#7fa9cc,#87b1d1,#8fb8d4,#99c0d9,#a1c7dd,#a7cce0,#add2e4,#b1d5e6,#b1d5e6,#b3d7e7,#b5d8e7,#b7d9e8,#bbdbe9,#beddeb,#c2e0ec,#c8e3ee,#c9e4ee,#cde6f0,#cfe7f0,#cfe7f0,#d1e8f1,#d3e9f2,#d6ebf3,#dceef5,#e2f1f7,#e6f3f3,#e9f5ed,#ecf6e7,#eef7e4,#eff8e2,#f0f8e0,#f1f9de,#f7fbd4,#feffc7,#fdf5b7,#fae8a5,#f8da93,#f4c580,#f2b26f,#ed9f65,#ea915d,#e88a5a,#e88a5a,#e88a5a,#e88a5a,#e88a5a,#e88a5a,#e88a5a)"></i>
<i style="background:linear-gradient(90deg,#739cc5,#739cc5,#739cc5,#739cc5,#739cc5,#739cc5,#739cc5,#77a1c8,#7ba5ca,#83adcf,#8bb4d2,#93bbd6,#9dc4db,#a5cbdf,#add2e4,#b3d7e7,#b7d9e8,#b7d9e8,#b9dae9,#bbdbe9,#bddcea,#beddeb,#c2e0ec,#c4e1ec,#c8e3ee,#c9e4ee,#cde6f0,#cde6f0,#cfe7f0,#cfe7f0,#d3e9f2,#d6ebf3,#daedf4,#e0f0f6,#e5f3f5,#e8f4ef,#ebf6e9,#edf7e6,#eff8e2,#f0f8e0,#f1f9de,#f6fbd6,#fdfec9,#fdf7bb,#fbecaa,#f8dd97,#f5cb85,#f3ba76,#efa96a,#ec9d63,#eb9660,#eb9660,#eb9660,#eb9660,#eb9660,#eb9660,#eb9660)"></i>
<i style="background:linear-gradient(90deg,#759ec6,#759ec6,#759ec6,#759ec6,#759ec6,#759ec6,#77a1c8,#79a3c9,#7fa9cc,#87b1d1,#8fb8d4,#99c0d9,#a3c9de,#abd0e3,#b3d7e7,#b9dae9,#bddcea,#beddeb,#beddeb,#c0deeb,#c0deeb,#c2e0ec,#c4e1ec,#c8e3ee,#c9e4ee,#cbe5ef,#cbe5ef,#cde6f0,#cde6f0,#cde6f0,#d1e8f1,#d5eaf2,#daedf4,#e0f0f6,#e5f3f5,#e8f4ef,#eaf5eb,#edf7e6,#eef7e4,#eff8e2,#f0f8e0,#f5fad8,#fcfecb,#fef9bc,#fceead,#f9e29c,#f6d28c,#f4c17d,#f2b471,#efa96a,#eea266,#eea266,#eea266,#eea266,#eea266,#eea266,#eea266)"></i>
<i style="background:linear-gradient(90deg,#79a3c9,#79a3c9,#79a3c9,#79a3c9,#79a3c9,#79a3c9,#79a3c9,#7ba5ca,#81abce,#89b2d1,#93bbd6,#9dc4db,#a7cce0,#b1d5e6,#b9dae9,#beddeb,#c2e0ec,#c4e1ec,#c4e1ec,#c4e1ec,#c6e2ed,#c6e2ed,#c8e3ee,#c9e4ee,#c9e4ee,#cbe5ef,#cbe5ef,#cbe5ef,#cbe5ef,#cde6f0,#cfe7f0,#d5eaf2,#d8ecf3,#deeff5,#e4f2f7,#e7f4f1,#eaf5eb,#ecf6e7,#eef7e4,#eef7e4,#f0f8e0,#f4fada,#fafdce,#fefbc0,#fcf0b0,#fae6a1,#f7d892,#f5c984,#f3bc77,#f2b26f,#f1ae6c,#f0ab6b,#f0ab6b,#f0ab6b,#f0ab6b,#f0ab6b,#f0ab6b)"></i>
<i style="background:linear-gradient(90deg,#7ba5ca,#7ba5ca,#7ba5ca,#7ba5ca,#7ba5ca,#7ba5ca,#7ba5ca,#7fa9cc,#85afd0,#8db6d3,#97bfd8,#a1c7dd,#abd0e3,#b7d9e8,#beddeb,#c4e1ec,#c9e4ee,#c9e4ee,#c9e4ee,#c9e4ee,#c9e4ee,#c9e4ee,#c9e4ee,#cbe5ef,#cbe5ef,#cbe5ef,#cbe5ef,#cbe5ef,#cbe5ef,#cbe5ef,#cfe7f0,#d3e9f2,#d8ecf3,#deeff5,#e4f2f7,#e7f4f1,#e9f5ed,#ecf6e7,#edf7e6,#eef7e4,#eff8e2,#f4fada,#f9fcd0,#fffdc3,#fcf3b4,#fbe9a6,#f8dd97,#f6d08b,#f4c37e,#f3ba76,#f2b672,#f2b672,#f2b672,#f2b672,#f2b672,#f2b672,#f2b672)"></i>
<i style="background:linear-gradient(90deg,#7da7cb,#7da7cb,#7da7cb,#7da7cb,#7da7cb,#7da7cb,#7da7cb,#81abce,#87b1d1,#91b9d5,#9bc2da,#a5cbdf,#b1d5e6,#bbdbe9,#c4e1ec,#c9e4ee,#cfe7f0,#cfe7f0,#cfe7f0,#cfe7f0,#cfe7f0,#cde6f0,#cde6f0,#cde6f0,#cbe5ef,#cbe5ef,#cbe5ef,#c9e4ee,#c9e4ee,#cbe5ef,#cde6f0,#d3e9f2,#d6ebf3,#dceef5,#e2f1f7,#e6f3f3,#e9f5ed,#ebf6e9,#edf7e6,#edf7e6,#eef7e4,#f3f9dc,#f8fcd2,#fffec5,#fdf6b9,#fbedab,#f9e39e,#f7d690,#f5cb85,#f4c37e,#f3bf7b,#f3bd79,#f3bd79,#f3bd79,#f3bd79,#f3bd79,#f3bd79)"></i>
<i style="background:linear-gradient(90deg,#7fa9cc,#7fa9cc,#7fa9cc,#7fa9cc,#7fa9cc,#7fa9cc,#7fa9cc,#83adcf,#89b2d1,#93bbd6,#9dc4db,#a9cee2,#b5d8e7,#beddeb,#c8e3ee,#cfe7f0,#d3e9f2,#d5eaf2,#d5eaf2,#d3e9f2,#d3e9f2,#d1e8f1,#cfe7f0,#cde6f0,#cde6f0,#cbe5ef,#c9e4ee,#c9e4ee,#c9e4ee,#c9e4ee,#cde6f0,#d1e8f1,#d6ebf3,#dceef5,#e2f1f7,#e6f3f3,#e8f4ef,#ebf6e9,#ecf6e7,#edf7e6,#eef7e4,#f1f9de,#f7fbd4,#fdfec9,#fdf7bb,#fcefaf,#fae6a1,#f8dd97,#f6d28c,#f5cb85,#f5c782,#f4c580,#f4c580,#f4c580,#f4c580,#f4c580,#f4c580)"></i>
<i style="background:linear-gradient(90deg,#81abce,#81abce,#81abce,#81abce,#81abce,#81abce,#81abce,#85afd0,#8db6d3,#95bdd7,#a1c7dd,#add2e4,#b9dae9,#c2e0ec,#cbe5ef,#d3e9f2,#d8ecf3,#d8ecf3,#d8ecf3,#d6ebf3,#d5eaf2,#d3e9f2,#d1e8f1,#cfe7f0,#cde6f0,#cbe5ef,#c9e4ee,#c9e4ee,#c9e4ee,#c9e4ee,#cde6f0,#d1e8f1,#d5eaf2,#daedf4,#e0f0f6,#e5f3f5,#e8f4ef,#eaf5eb,#ecf6e7,#edf7e6,#edf7e6,#f0f8e0,#f6fbd6,#fcfecb,#fefabe,#fcf1b2,#fbe9a6,#f9e19a,#f7d892,#f6d08b,#f5cc87,#f5cc87,#f5cc87,#f5cc87,#f5cc87,#f5cc87,#f5cc87)"></i>
<i style="background:linear-gradient(90deg,#83adcf,#83adcf,#83adcf,#83adcf,#83adcf,#83adcf,#83adcf,#87b1d1,#8fb8d4,#97bfd8,#a3c9de,#afd3e5,#bbdbe9,#c6e2ed,#cfe7f0,#d6ebf3,#dceef5,#dceef5,#dceef5,#daedf4,#d8ecf3,#d6ebf3,#d3e9f2,#d1e8f1,#cde6f0,#cbe5ef,#c9e4ee,#c8e3ee,#c8e3ee,#c9e4ee,#cbe5ef,#cfe7f0,#d5eaf2,#daedf4,#e0f0f6,#e5f3f5,#e8f4ef,#eaf5eb,#ebf6e9,#ecf6e7,#edf7e6,#f0f8e0,#f5fad8,#fbfdcc,#fefcc2,#fdf4b6,#fbecaa,#fae59f,#f8dd97,#f7d690,#f6d28c,#f6d28c,#f6d28c,#f6d28c,#f6d28c,#f6d28c,#f6d28c)"></i>
<i style="background:linear-gradient(90deg,#85afd0,#85afd0,#85afd0,#85afd0,#85afd0,#85afd0,#85afd0,#89b2d1,#8fb8d4,#99c0d9,#a5cbdf,#b1d5e6,#beddeb,#c9e4ee,#d3e9f2,#daedf4,#deeff5,#e0f0f6,#e0f0f6,#deeff5,#daedf4,#d8ecf3,#d5eaf2,#d1e8f1,#cfe7f0,#cbe5ef,#c9e4ee,#c8e3ee,#c8e3ee,#c8e3ee,#cbe5ef,#cfe7f0,#d5eaf2,#daedf4,#e0f0f6,#e5f3f5,#e7f4f1,#eaf5eb,#ebf6e9,#ecf6e7,#edf7e6,#eff8e2,#f5fad8,#fafdce,#fffdc3,#fdf5b7,#fceead,#fae7a3,#f9e19a,#f8da93,#f7d892,#f7d892,#f7d892,#f7d892,#f7d892,#f7d892,#f7d892)"></i>
<i style="background:linear-gradient(90deg,#85afd0,#85afd0,#85afd0,#85afd0,#85afd0,#85afd0,#85afd0,#89b2d1,#91b9d5,#9bc2da,#a7cce0,#b3d7e7,#beddeb,#cbe5ef,#d5eaf2,#dceef5,#e2f1f7,#e2f1f7,#e2f1f7,#e0f0f6,#dceef5,#d8ecf3,#d6ebf3,#d3e9f2,#cfe7f0,#cbe5ef,#c9e4ee,#c8e3ee,#c8e3ee,#c8e3ee,#cbe5ef,#cfe7f0,#d3e9f2,#d8ecf3,#e0f0f6,#e5f3f5,#e7f4f1,#e9f5ed,#ebf6e9,#ecf6e7,#ecf6e7,#eff8e2,#f4fada,#fafdce,#fffdc3,#fdf6b9,#fcefaf,#fae8a5,#f9e39e,#f8dd97,#f8da93,#f8da93,#f8da93,#f8da93,#f8da93,#f8da93,#f8da93)"></i>
<i style="background:linear-gradient(90deg,#85afd0,#85afd0,#85afd0,#85afd0,#85afd0,#85afd0,#87b1d1,#89b2d1,#91b9d5,#9bc2da,#a7cce0,#b5d8e7,#c0deeb,#cbe5ef,#d5eaf2,#deeff5,#e2f1f7,#e4f2f7,#e2f1f7,#e0f0f6,#deeff5,#daedf4,#d6ebf3,#d3e9f2,#cfe7f0,#cbe5ef,#c9e4ee,#c8e3ee,#c8e3ee,#c8e3ee,#cbe5ef,#cfe7f0,#d3e9f2,#d8ecf3,#deeff5,#e4f2f7,#e7f4f1,#e9f5ed,#ebf6e9,#ecf6e7,#ecf6e7,#eff8e2,#f4fada,#f9fcd0,#fffec5,#fdf7bb,#fcf0b0,#fbe9a6,#f9e39e,#f9df99,#f8db95,#f8db95,#f8db95,#f8db95,#f8db95,#f8db95,#f8db95)"></i>
<i style="background:linear-gradient(90deg,#85afd0,#85afd0,#85afd0,#85afd0,#85afd0,#85afd0,#87b1d1,#8bb4d2,#91b9d5,#9bc2da,#a7cce0,#b5d8e7,#c0deeb,#cbe5ef,#d6ebf3,#deeff5,#e2f1f7,#e4f2f7,#e2f1f7,#e0f0f6,#deeff5,#daedf4,#d6ebf3,#d3e9f2,#cfe7f0,#cbe5ef,#c9e4ee,#c8e3ee,#c8e3ee,#c8e3ee,#cbe5ef,#cfe7f0,#d3e9f2,#d8ecf3,#deeff5,#e4f2f7,#e7f4f1,#e9f5ed,#ebf6e9,#ecf6e7,#ecf6e7,#eff8e2,#f4fada,#f9fcd0,#fffec5,#fdf7bb,#fcf0b0,#fbe9a6,#fae59f,#f9df99,#f8dd97,#f8db95,#f8db95,#f8db95,#f8db95,#f8db95,#f8db95)"></i>
<i style="background:linear-gradient(90deg,#87b1d1,#87b1d1,#87b1d1,#87b1d1,#87b1d1,#87b1d1,#87b1d1,#8bb4d2,#93bbd6,#9dc4db,#a9cee2,#b5d8e7,#c2e0ec,#cde6f0,#d6ebf3,#deeff5,#e4f2f7,#e4f2f7,#e4f2f7,#e2f1f7,#deeff5,#daedf4,#d6ebf3,#d3e9f2,#cfe7f0,#cbe5ef,#c8e3ee,#c6e2ed,#c6e2ed,#c8e3ee,#c9e4ee,#cfe7f0,#d3e9f2,#d8ecf3,#e0f0f6,#e5f3f5,#e8f4ef,#eaf5eb,#ecf6e7,#edf7e6,#edf7e6,#f0f8e0,#f5fad8,#fafdce,#fffdc3,#fdf6b9,#fcf0b0,#fbe9a6,#fae59f,#f9df99,#f8dd97,#f8db95,#f8db95,#f8db95,#f8db95,#f8db95,#f8db95)"></i>
<i style="background:linear-gradient(90deg,#89b2d1,#89b2d1,#89b2d1,#89b2d1,#89b2d1,#89b2d1,#8bb4d2,#8fb8d4,#95bdd7,#9fc5dc,#abd0e3,#b7d9e8,#c4e1ec,#cde6f0,#d8ecf3,#e0f0f6,#e4f2f7,#e5f3f5,#e4f2f7,#e2f1f7,#deeff5,#daedf4,#d6ebf3,#d3e9f2,#cde6f0,#c9e4ee,#c8e3ee,#c6e2ed,#c4e1ec,#c6e2ed,#c9e4ee,#cde6f0,#d3e9f2,#daedf4,#e0f0f6,#e6f3f3,#e9f5ed,#ecf6e7,#edf7e6,#eef7e4,#eff8e2,#f1f9de,#f6fbd6,#fbfdcc,#fefcc2,#fdf6b9,#fcefaf,#fbe9a6,#f9e39e,#f9df99,#f8dd97,#f8db95,#f8db95,#f8db95,#f8db95,#f8db95,#f8db95)"></i>
<i style="background:linear-gradient(90deg,#8db6d3,#8db6d3,#8db6d3,#8db6d3,#8db6d3,#8db6d3,#8fb8d4,#91b9d5,#99c0d9,#a3c9de,#add2e4,#bbdbe9,#c6e2ed,#d1e8f1,#daedf4,#e2f1f7,#e5f3f5,#e6f3f3,#e5f3f5,#e4f2f7,#e0f0f6,#dceef5,#d6ebf3,#d1e8f1,#cde6f0,#c9e4ee,#c6e2ed,#c4e1ec,#c2e0ec,#c4e1ec,#c8e3ee,#cde6f0,#d3e9f2,#daedf4,#e2f1f7,#e7f4f1,#ebf6e9,#eef7e4,#f0f8e0,#f0f8e0,#f1f9de,#f4fada,#f8fcd2,#fdfec9,#fefbc0,#fdf5b7,#fceead,#fae8a5,#f9e39e,#f9df99,#f8dd97,#f8dd97,#f8dd97,#f8dd97,#f8dd97,#f8dd97,#f8dd97)"></i>
<i style="background:linear-gradient(90deg,#93bbd6,#93bbd6,#93bbd6,#93bbd6,#93bbd6,#93bbd6,#93bbd6,#97bfd8,#9dc4db,#a7cce0,#b1d5e6,#bddcea,#c8e3ee,#d3e9f2,#dceef5,#e4f2f7,#e6f3f3,#e7f4f1,#e6f3f3,#e5f3f5,#e0f0f6,#dceef5,#d6ebf3,#d1e8f1,#cbe5ef,#c8e3ee,#c4e1ec,#c0deeb,#c0deeb,#c2e0ec,#c6e2ed,#cbe5ef,#d3e9f2,#dceef5,#e4f2f7,#e9f5ed,#edf7e6,#f0f8e0,#f3f9dc,#f4fada,#f5fad8,#f7fbd4,#fbfdcc,#fffec5,#fef9bc,#fcf3b4,#fbedab,#fae8a5,#f9e39e,#f9df99,#f8dd97,#f8dd97,#f8dd97,#f8dd97,#f8dd97,#f8dd97,#f8dd97)"></i>
<i style="background:linear-gradient(90deg,#99c0d9,#99c0d9,#99c0d9,#99c0d9,#99c0d9,#99c0d9,#99c0d9,#9dc4db,#a3c9de,#abd0e3,#b7d9e8,#c2e0ec,#cbe5ef,#d6ebf3,#e0f0f6,#e5f3f5,#e8f4ef,#e8f4ef,#e7f4f1,#e6f3f3,#e2f1f7,#dceef5,#d6ebf3,#d1e8f1,#c9e4ee,#c6e2ed,#c0deeb,#beddeb,#bddcea,#beddeb,#c4e1ec,#c9e4ee,#d3e9f2,#dceef5,#e5f3f5,#ebf6e9,#eff8e2,#f4fada,#f7fbd4,#f8fcd2,#f9fcd0,#fbfdcc,#feffc7,#fefcc2,#fdf6b9,#fcf1b2,#fbecaa,#fae7a3,#f9e39e,#f9df99,#f8dd97,#f8dd97,#f8dd97,#f8dd97,#f8dd97,#f8dd97,#f8dd97)"></i>
<i style="background:linear-gradient(90deg,#9fc5dc,#9fc5dc,#9fc5dc,#9fc5dc,#9fc5dc,#9fc5dc,#9fc5dc,#a3c9de,#a9cee2,#b1d5e6,#bbdbe9,#c6e2ed,#cfe7f0,#daedf4,#e2f1f7,#e7f4f1,#e9f5ed,#eaf5eb,#e9f5ed,#e7f4f1,#e4f2f7,#deeff5,#d6ebf3,#cfe7f0,#c9e4ee,#c2e0ec,#beddeb,#bbdbe9,#bbdbe9,#bddcea,#c0deeb,#c9e4ee,#d3e9f2,#deeff5,#e7f4f1,#edf7e6,#f3f9dc,#f7fbd4,#fbfdcc,#fcfecb,#fcfecb,#feffc7,#fefcc2,#fef9bc,#fdf4b6,#fcefaf,#fbeaa8,#fae6a1,#f9e29c,#f9df99,#f8dd97,#f8dd97,#f8dd97,#f8dd97,#f8dd97,#f8dd97,#f8dd97)"></i>
<i style="background:linear-gradient(90deg,#a5cbdf,#a5cbdf,#a5cbdf,#a5cbdf,#a5cbdf,#a5cbdf,#a5cbdf,#a9cee2,#afd3e5,#b7d9e8,#c0deeb,#c9e4ee,#d5eaf2,#deeff5,#e5f3f5,#e9f5ed,#ebf6e9,#ebf6e9,#eaf5eb,#e8f4ef,#e5f3f5,#deeff5,#d6ebf3,#cfe7f0,#c8e3ee,#c0deeb,#bbdbe9,#b7d9e8,#b7d9e8,#b9dae9,#beddeb,#c8e3ee,#d3e9f2,#deeff5,#e8f4ef,#eff8e2,#f6fbd6,#fbfdcc,#fffec5,#fffdc3,#fefcc2,#fefbc0,#fef9bc,#fdf5b7,#fcf1b2,#fbedab,#fbe9a6,#fae6a1,#f9e29c,#f9df99,#f8dd97,#f8dd97,#f8dd97,#f8dd97,#f8dd97,#f8dd97,#f8dd97)"></i>
<i style="background:linear-gradient(90deg,#add2e4,#add2e4,#add2e4,#add2e4,#add2e4,#add2e4,#add2e4,#b1d5e6,#b7d9e8,#bddcea,#c6e2ed,#cfe7f0,#d8ecf3,#e2f1f7,#e7f4f1,#ebf6e9,#edf7e6,#edf7e6,#ecf6e7,#e9f5ed,#e6f3f3,#e0f0f6,#d6ebf3,#cde6f0,#c6e2ed,#beddeb,#b7d9e8,#b3d7e7,#b1d5e6,#b5d8e7,#bbdbe9,#c6e2ed,#d3e9f2,#e0f0f6,#eaf5eb,#f3f9dc,#f9fcd0,#fffec5,#fefabe,#fdf7bb,#fdf7bb,#fdf6b9,#fdf4b6,#fcf1b2,#fceead,#fbeaa8,#fae7a3,#fae59f,#f9e29c,#f9df99,#f8dd97,#f8dd97,#f8dd97,#f8dd97,#f8dd97,#f8dd97,#f8dd97)"></i>
<i style="background:linear-gradient(90deg,#b5d8e7,#b5d8e7,#b5d8e7,#b5d8e7,#b5d8e7,#b5d8e7,#b5d8e7,#b7d9e8,#bddcea,#c4e1ec,#cbe5ef,#d5eaf2,#deeff5,#e5f3f5,#e9f5ed,#edf7e6,#eff8e2,#eff8e2,#eef7e4,#ebf6e9,#e7f4f1,#e0f0f6,#d6ebf3,#cde6f0,#c4e1ec,#bbdbe9,#b5d8e7,#afd3e5,#add2e4,#b1d5e6,#b9dae9,#c4e1ec,#d1e8f1,#e2f1f7,#ecf6e7,#f5fad8,#fdfec9,#fefabe,#fdf5b7,#fcf3b4,#fcf1b2,#fcf0b0,#fcefaf,#fbedab,#fbeaa8,#fae8a5,#fae6a1,#f9e39e,#f9e19a,#f9df99,#f9df99,#f8dd97,#f8dd97,#f8dd97,#f8dd97,#f8dd97,#f8dd97)"></i>
<i style="background:linear-gradient(90deg,#bddcea,#bddcea,#bddcea,#bddcea,#bddcea,#bddcea,#bddcea,#beddeb,#c4e1ec,#c9e4ee,#d1e8f1,#daedf4,#e4f2f7,#e8f4ef,#ecf6e7,#eff8e2,#f0f8e0,#f1f9de,#eff8e2,#ecf6e7,#e8f4ef,#e2f1f7,#d6ebf3,#cbe5ef,#c2e0ec,#b9dae9,#b1d5e6,#abd0e3,#a9cee2,#add2e4,#b5d8e7,#c2e0ec,#d1e8f1,#e4f2f7,#edf7e6,#f8fcd2,#fffdc3,#fdf5b7,#fcefaf,#fbedab,#fbedab,#fbecaa,#fbeaa8,#fbe9a6,#fae7a3,#fae6a1,#f9e39e,#f9e29c,#f9e19a,#f9df99,#f9df99,#f9df99,#f9df99,#f9df99,#f9df99,#f9df99,#f9df99)"></i>
<i style="background:linear-gradient(90deg,#c2e0ec,#c2e0ec,#c2e0ec,#c2e0ec,#c2e0ec,#c2e0ec,#c4e1ec,#c6e2ed,#c9e4ee,#d1e8f1,#d8ecf3,#e0f0f6,#e6f3f3,#eaf5eb,#eef7e4,#f1f9de,#f3f9dc,#f4fada,#f1f9de,#eef7e4,#e9f5ed,#e2f1f7,#d6ebf3,#cbe5ef,#beddeb,#b5d8e7,#add2e4,#a7cce0,#a5cbdf,#a9cee2,#b3d7e7,#c0deeb,#d1e8f1,#e4f2f7,#eff8e2,#fafdce,#fef9bc,#fcf0b0,#fbe9a6,#fae7a3,#fae7a3,#fae6a1,#fae6a1,#fae59f,#f9e39e,#f9e39e,#f9e29c,#f9e19a,#f9e19a,#f9df99,#f9df99,#f9df99,#f9df99,#f9df99,#f9df99,#f9df99,#f9df99)"></i>
<i style="background:linear-gradient(90deg,#c9e4ee,#c9e4ee,#c9e4ee,#c9e4ee,#c9e4ee,#c9e4ee,#c9e4ee,#cbe5ef,#d1e8f1,#d6ebf3,#deeff5,#e5f3f5,#e9f5ed,#edf7e6,#f0f8e0,#f3f9dc,#f5fad8,#f5fad8,#f4fada,#eff8e2,#eaf5eb,#e4f2f7,#d6ebf3,#c9e4ee,#bddcea,#b3d7e7,#a9cee2,#a3c9de,#a1c7dd,#a5cbdf,#afd3e5,#beddeb,#d1e8f1,#e5f3f5,#f1f9de,#fdfec9,#fdf5b7,#fbecaa,#fae59f,#f9e19a,#f9e19a,#f9e19a,#f9e19a,#f9e19a,#f9e19a,#f9e19a,#f9df99,#f9df99,#f9df99,#f9df99,#f9df99,#f9df99,#f9df99,#f9df99,#f9df99,#f9df99,#f9df99)"></i>
<i style="background:linear-gradient(90deg,#d1e8f1,#d1e8f1,#d1e8f1,#d1e8f1,#d1e8f1,#d1e8f1,#d1e8f1,#d3e9f2,#d6ebf3,#dceef5,#e4f2f7,#e7f4f1,#ebf6e9,#eff8e2,#f3f9dc,#f5fad8,#f7fbd4,#f7fbd4,#f5fad8,#f0f8e0,#ebf6e9,#e4f2f7,#d6ebf3,#c9e4ee,#bbdbe9,#afd3e5,#a5cbdf,#9fc5dc,#9dc4db,#a1c7dd,#add2e4,#bddcea,#d1e8f1,#e6f3f3,#f3f9dc,#fffec5,#fcf1b2,#fae7a3,#f9df99,#f8da93,#f8da93,#f8da93,#f8da93,#f8db95,#f8db95,#f8dd97,#f8dd97,#f8dd97,#f9df99,#f9df99,#f9df99,#f9df99,#f9df99,#f9df99,#f9df99,#f9df99,#f9df99)"></i>
<i style="background:linear-gradient(90deg,#d6ebf3,#d6ebf3,#d6ebf3,#d6ebf3,#d6ebf3,#d6ebf3,#d6ebf3,#d8ecf3,#dceef5,#e2f1f7,#e6f3f3,#eaf5eb,#eef7e4,#f1f9de,#f5fad8,#f7fbd4,#f9fcd0,#f9fcd0,#f7fbd4,#f3f9dc,#ecf6e7,#e5f3f5,#d6ebf3,#c8e3ee,#b9dae9,#add2e4,#a1c7dd,#9bc2da,#99c0d9,#9dc4db,#a9cee2,#bbdbe9,#d1e8f1,#e7f4f1,#f5fad8,#fefbc0,#fceead,#f9e29c,#f7d690,#f6d28c,#f6d28c,#f6d28c,#f7d48e,#f7d690,#f7d892,#f8da93,#f8db95,#f8dd97,#f8dd97,#f9df99,#f9df99,#f9df99,#f9df99,#f9df99,#f9df99,#f9df99,#f9df99)"></i>
<i style="background:linear-gradient(90deg,#dceef5,#dceef5,#dceef5,#dceef5,#dceef5,#dceef5,#dceef5,#deeff5,#e2f1f7,#e6f3f3,#e9f5ed,#ecf6e7,#f0f8e0,#f4fada,#f7fbd4,#f9fcd0,#fafdce,#fafdce,#f8fcd2,#f4fada,#edf7e6,#e5f3f5,#d6ebf3,#c8e3ee,#b9dae9,#abd0e3,#9fc5dc,#97bfd8,#95bdd7,#99c0d9,#a7cce0,#bbdbe9,#d1e8f1,#e7f4f1,#f6fbd6,#fef9bc,#fbeaa8,#f8dd97,#f6d08b,#f5cb85,#f5cb85,#f5cc87,#f6ce89,#f6d08b,#f6d28c,#f7d690,#f8da93,#f8db95,#f8dd97,#f9df99,#f9df99,#f9e19a,#f9e19a,#f9e19a,#f9e19a,#f9e19a,#f9e19a)"></i>
<i style="background:linear-gradient(90deg,#e2f1f7,#e2f1f7,#e2f1f7,#e2f1f7,#e2f1f7,#e2f1f7,#e2f1f7,#e4f2f7,#e6f3f3,#e8f4ef,#ebf6e9,#eef7e4,#f1f9de,#f5fad8,#f8fcd2,#fafdce,#fbfdcc,#fcfecb,#f9fcd0,#f5fad8,#edf7e6,#e6f3f3,#d6ebf3,#c6e2ed,#b7d9e8,#a9cee2,#9dc4db,#95bdd7,#91b9d5,#97bfd8,#a5cbdf,#b9dae9,#d1e8f1,#e8f4ef,#f7fbd4,#fdf6b9,#fae8a5,#f7d892,#f5cb85,#f4c37e,#f4c580,#f4c580,#f5c984,#f5cb85,#f6ce89,#f6d28c,#f7d690,#f8da93,#f8dd97,#f9df99,#f9e19a,#f9e19a,#f9e19a,#f9e19a,#f9e19a,#f9e19a,#f9e19a)"></i>
<i style="background:linear-gradient(90deg,#e5f3f5,#e5f3f5,#e5f3f5,#e5f3f5,#e5f3f5,#e5f3f5,#e6f3f3,#e6f3f3,#e8f4ef,#eaf5eb,#edf7e6,#f0f8e0,#f4fada,#f7fbd4,#f9fcd0,#fbfdcc,#fcfecb,#fdfec9,#fafdce,#f6fbd6,#eef7e4,#e6f3f3,#d6ebf3,#c6e2ed,#b5d8e7,#a7cce0,#99c0d9,#91b9d5,#8fb8d4,#95bdd7,#a3c9de,#b7d9e8,#cfe7f0,#e8f4ef,#f8fcd2,#fdf5b7,#fae6a1,#f6d28c,#f4c580,#f3bd79,#f3bf7b,#f4c17d,#f4c37e,#f5c782,#f5cc87,#f6d08b,#f7d690,#f8da93,#f8dd97,#f9df99,#f9e19a,#f9e19a,#f9e19a,#f9e19a,#f9e19a,#f9e19a,#f9e19a)"></i>
<i style="background:linear-gradient(90deg,#e7f4f1,#e7f4f1,#e7f4f1,#e7f4f1,#e7f4f1,#e7f4f1,#e7f4f1,#e8f4ef,#eaf5eb,#ecf6e7,#eff8e2,#f1f9de,#f5fad8,#f8fcd2,#fafdce,#fcfecb,#fdfec9,#feffc7,#fbfdcc,#f6fbd6,#eef7e4,#e6f3f3,#d6ebf3,#c6e2ed,#b5d8e7,#a5cbdf,#99c0d9,#8fb8d4,#8db6d3,#93bbd6,#a1c7dd,#b7d9e8,#cfe7f0,#e8f4ef,#f9fcd0,#fdf4b6,#f9e39e,#f6d08b,#f4c17d,#f3ba76,#f3bc77,#f3bd79,#f4c17d,#f4c580,#f5c984,#f6ce89,#f7d48e,#f7d892,#f8db95,#f9df99,#f9e19a,#f9e19a,#f9e19a,#f9e19a,#f9e19a,#f9e19a,#f9e19a)"></i>
<i style="background:linear-gradient(90deg,#e8f4ef,#e8f4ef,#e8f4ef,#e8f4ef,#e8f4ef,#e8f4ef,#e8f4ef,#e9f5ed,#ebf6e9,#edf7e6,#f0f8e0,#f3f9dc,#f6fbd6,#f9fcd0,#fbfdcc,#fdfec9,#feffc7,#feffc7,#fcfecb,#f7fbd4,#eff8e2,#e6f3f3,#d6ebf3,#c6e2ed,#b3d7e7,#a5cbdf,#97bfd8,#8fb8d4,#8bb4d2,#91b9d5,#a1c7dd,#b7d9e8,#cfe7f0,#e9f5ed,#fafdce,#fcf3b4,#f9e29c,#f5cc87,#f3bd79,#f2b874,#f2b874,#f3ba76,#f3bd79,#f4c37e,#f5c984,#f6ce89,#f6d28c,#f7d892,#f8db95,#f9df99,#f9e19a,#f9e19a,#f9e19a,#f9e19a,#f9e19a,#f9e19a,#f9e19a)"></i>
<i style="background:linear-gradient(90deg,#e9f5ed,#e9f5ed,#e9f5ed,#e9f5ed,#e9f5ed,#e9f5ed,#e9f5ed,#eaf5eb,#ebf6e9,#eef7e4,#f0f8e0,#f4fada,#f7fbd4,#f9fcd0,#fbfdcc,#fdfec9,#feffc7,#feffc7,#fcfecb,#f7fbd4,#eff8e2,#e6f3f3,#d6ebf3,#c4e1ec,#b3d7e7,#a3c9de,#97bfd8,#8db6d3,#8bb4d2,#91b9d5,#9fc5dc,#b7d9e8,#cfe7f0,#e9f5ed,#fafdce,#fcf1b2,#f9e19a,#f5cc87,#f3bd79,#f2b672,#f2b672,#f3ba76,#f3bd79,#f4c17d,#f5c782,#f5cc87,#f6d28c,#f7d892,#f8db95,#f9df99,#f9e19a,#f9e19a,#f9e19a,#f9e19a,#f9e19a,#f9e19a,#f9e19a)"></i>
<i style="background:linear-gradient(90deg,#e9f5ed,#e9f5ed,#e9f5ed,#e9f5ed,#e9f5ed,#e9f5ed,#e9f5ed,#eaf5eb,#ecf6e7,#eef7e4,#f0f8e0,#f4fada,#f7fbd4,#f9fcd0,#fbfdcc,#fdfec9,#feffc7,#feffc7,#fcfecb,#f7fbd4,#eff8e2,#e6f3f3,#d6ebf3,#c4e1ec,#b3d7e7,#a3c9de,#97bfd8,#8fb8d4,#8bb4d2,#91b9d5,#a1c7dd,#b7d9e8,#d1e8f1,#e9f5ed,#fafdce,#fcf1b2,#f9e19a,#f5cc87,#f3bc77,#f2b672,#f2b672,#f3ba76,#f3bd79,#f4c17d,#f5c782,#f5cc87,#f6d28c,#f7d892,#f8db95,#f9df99,#f9e19a,#f9e19a,#f9e19a,#f9e19a,#f9e19a,#f9e19a,#f9e19a)"></i>
<i style="background:linear-gradient(90deg,#eaf5eb,#eaf5eb,#eaf5eb,#eaf5eb,#eaf5eb,#eaf5eb,#eaf5eb,#ebf6e9,#ecf6e7,#eef7e4,#f1f9de,#f4fada,#f6fbd6,#f9fcd0,#fbfdcc,#fcfecb,#fdfec9,#fdfec9,#fbfdcc,#f6fbd6,#eef7e4,#e6f3f3,#d6ebf3,#c6e2ed,#b5d8e7,#a5cbdf,#99c0d9,#91b9d5,#8db6d3,#93bbd6,#a3c9de,#b9dae9,#d3e9f2,#eaf5eb,#fbfdcc,#fcf1b2,#f9e19a,#f5cb85,#f3bc77,#f2b672,#f2b672,#f2b874,#f3bc77,#f4c17d,#f5c782,#f5cc87,#f6d28c,#f7d892,#f8dd97,#f9e19a,#f9e29c,#f9e29c,#f9e29c,#f9e29c,#f9e29c,#f9e29c,#f9e29c)"></i>
<i style="background:linear-gradient(90deg,#ecf6e7,#ecf6e7,#ecf6e7,#ecf6e7,#ecf6e7,#ecf6e7,#ecf6e7,#edf7e6,#eef7e4,#eff8e2,#f1f9de,#f4fada,#f6fbd6,#f8fcd2,#fafdce,#fbfdcc,#fcfecb,#fcfecb,#fafdce,#f5fad8,#eef7e4,#e6f3f3,#d6ebf3,#c6e2ed,#b7d9e8,#a9cee2,#9dc4db,#95bdd7,#91b9d5,#97bfd8,#a5cbdf,#bbdbe9,#d5eaf2,#ebf6e9,#fcfecb,#fcf0b0,#f9df99,#f5c984,#f3ba76,#f2b471,#f2b471,#f2b874,#f3bc77,#f4c17d,#f5c782,#f6ce89,#f7d48e,#f8da93,#f9df99,#f9e19a,#f9e29c,#f9e29c,#f9e29c,#f9e29c,#f9e29c,#f9e29c,#f9e29c)"></i>
<i style="background:linear-gradient(90deg,#eef7e4,#eef7e4,#eef7e4,#eef7e4,#eef7e4,#eef7e4,#eef7e4,#eff8e2,#f0f8e0,#f1f9de,#f3f9dc,#f5fad8,#f6fbd6,#f7fbd4,#f9fcd0,#fafdce,#fafdce,#fafdce,#f8fcd2,#f4fada,#edf7e6,#e6f3f3,#d6ebf3,#c8e3ee,#b9dae9,#add2e4,#a1c7dd,#99c0d9,#97bfd8,#9dc4db,#abd0e3,#c0deeb,#d8ecf3,#edf7e6,#feffc7,#fceead,#f8dd97,#f5c782,#f2b874,#f2b26f,#f2b26f,#f2b672,#f3ba76,#f4c17d,#f5c782,#f6ce89,#f7d48e,#f8db95,#f9e19a,#f9e39e,#fae59f,#fae59f,#fae59f,#fae59f,#fae59f,#fae59f,#fae59f)"></i>
<i style="background:linear-gradient(90deg,#f1f9de,#f1f9de,#f1f9de,#f1f9de,#f1f9de,#f1f9de,#f1f9de,#f1f9de,#f3f9dc,#f3f9dc,#f4fada,#f5fad8,#f6fbd6,#f7fbd4,#f7fbd4,#f8fcd2,#f8fcd2,#f8fcd2,#f6fbd6,#f1f9de,#ecf6e7,#e5f3f5,#d8ecf3,#c9e4ee,#bddcea,#b1d5e6,#a7cce0,#a1c7dd,#9dc4db,#a3c9de,#b1d5e6,#c6e2ed,#deeff5,#f0f8e0,#fffdc3,#fbecaa,#f8da93,#f4c580,#f2b672,#f1b06d,#f1b06d,#f2b471,#f3ba76,#f3bf7b,#f5c782,#f6ce89,#f7d690,#f8dd97,#f9e29c,#fae59f,#fae6a1,#fae6a1,#fae6a1,#fae6a1,#fae6a1,#fae6a1,#fae6a1)"></i>
<i style="background:linear-gradient(90deg,#f5fad8,#f5fad8,#f5fad8,#f5fad8,#f5fad8,#f5fad8,#f5fad8,#f5fad8,#f5fad8,#f5fad8,#f5fad8,#f5fad8,#f5fad8,#f5fad8,#f5fad8,#f5fad8,#f5fad8,#f5fad8,#f4fada,#eff8e2,#eaf5eb,#e5f3f5,#d8ecf3,#cde6f0,#c0deeb,#b7d9e8,#add2e4,#a7cce0,#a5cbdf,#abd0e3,#b9dae9,#cbe5ef,#e4f2f7,#f3f9dc,#fefbc0,#fbe9a6,#f7d690,#f4c17d,#f2b471,#f1ae6c,#f1ae6c,#f2b26f,#f2b874,#f3bf7b,#f5c782,#f6ce89,#f7d892,#f9df99,#f9e39e,#fae7a3,#fae8a5,#fae8a5,#fae8a5,#fae8a5,#fae8a5,#fae8a5,#fae8a5)"></i>
<i style="background:linear-gradient(90deg,#f9fcd0,#f9fcd0,#f9fcd0,#f9fcd0,#f9fcd0,#f9fcd0,#f9fcd0,#f9fcd0,#f8fcd2,#f8fcd2,#f7fbd4,#f6fbd6,#f5fad8,#f4fada,#f4fada,#f3f9dc,#f3f9dc,#f3f9dc,#f0f8e0,#edf7e6,#e9f5ed,#e4f2f7,#d8ecf3,#cfe7f0,#c4e1ec,#bddcea,#b5d8e7,#afd3e5,#add2e4,#b3d7e7,#c0deeb,#d3e9f2,#e7f4f1,#f6fbd6,#fdf7bb,#fae7a3,#f6d28c,#f3bf7b,#f2b26f,#efa96a,#f0ab6b,#f1b06d,#f2b672,#f3bd79,#f5c782,#f6d08b,#f8da93,#f9e19a,#fae6a1,#fbe9a6,#fbeaa8,#fbeaa8,#fbeaa8,#fbeaa8,#fbeaa8,#fbeaa8,#fbeaa8)"></i>
<i style="background:linear-gradient(90deg,#fdfec9,#fdfec9,#fdfec9,#fdfec9,#fdfec9,#fdfec9,#fdfec9,#fdfec9,#fcfecb,#fafdce,#f8fcd2,#f7fbd4,#f5fad8,#f3f9dc,#f0f8e0,#eff8e2,#eef7e4,#eef7e4,#edf7e6,#ebf6e9,#e7f4f1,#e2f1f7,#daedf4,#d1e8f1,#c9e4ee,#c2e0ec,#bddcea,#b9dae9,#b7d9e8,#bddcea,#c8e3ee,#daedf4,#ebf6e9,#fafdce,#fdf4b6,#fae59f,#f6ce89,#f3bc77,#f1ae6c,#efa768,#efa768,#f1ae6c,#f2b471,#f3bd79,#f5c782,#f6d08b,#f8db95,#f9e39e,#fae8a5,#fbecaa,#fbedab,#fbedab,#fbedab,#fbedab,#fbedab,#fbedab,#fbedab)"></i>
<i style="background:linear-gradient(90deg,#fefcc2,#fefcc2,#fefcc2,#fefcc2,#fefcc2,#fefcc2,#fefcc2,#fffdc3,#fffec5,#fdfec9,#fafdce,#f7fbd4,#f4fada,#f1f9de,#eef7e4,#ecf6e7,#ebf6e9,#ebf6e9,#eaf5eb,#e8f4ef,#e6f3f3,#e2f1f7,#daedf4,#d5eaf2,#cfe7f0,#c9e4ee,#c4e1ec,#c2e0ec,#c0deeb,#c6e2ed,#d1e8f1,#e2f1f7,#eff8e2,#fdfec9,#fcf0b0,#f9e19a,#f5cb85,#f2b874,#efa96a,#eea266,#eea467,#efa96a,#f2b26f,#f3bc77,#f5c782,#f6d28c,#f8dd97,#fae59f,#fbeaa8,#fceead,#fcefaf,#fcf0b0,#fcf0b0,#fcf0b0,#fcf0b0,#fcf0b0,#fcf0b0)"></i>
<i style="background:linear-gradient(90deg,#fdf6b9,#fdf6b9,#fdf6b9,#fdf6b9,#fdf6b9,#fdf6b9,#fdf6b9,#fef9bc,#fefbc0,#fffec5,#fcfecb,#f8fcd2,#f4fada,#eff8e2,#ecf6e7,#eaf5eb,#e8f4ef,#e8f4ef,#e7f4f1,#e6f3f3,#e4f2f7,#e0f0f6,#dceef5,#d6ebf3,#d3e9f2,#cfe7f0,#cde6f0,#c9e4ee,#c9e4ee,#cde6f0,#daedf4,#e8f4ef,#f4fada,#fefcc2,#fbedab,#f8db95,#f5c782,#f2b471,#efa768,#ed9f65,#ed9f65,#efa768,#f1b06d,#f3bc77,#f5c782,#f6d28c,#f9df99,#fae7a3,#fbecaa,#fcf0b0,#fcf3b4,#fcf3b4,#fcf3b4,#fcf3b4,#fcf3b4,#fcf3b4,#fcf3b4)"></i>
<i style="background:linear-gradient(90deg,#fcf1b2,#fcf1b2,#fcf1b2,#fcf1b2,#fcf1b2,#fcf1b2,#fcf1b2,#fcf3b4,#fdf6b9,#fefbc0,#fdfec9,#f8fcd2,#f3f9dc,#eef7e4,#eaf5eb,#e6f3f3,#e4f2f7,#e4f2f7,#e4f2f7,#e2f1f7,#e0f0f6,#deeff5,#dceef5,#daedf4,#d8ecf3,#d6ebf3,#d5eaf2,#d5eaf2,#d3e9f2,#d8ecf3,#e4f2f7,#ecf6e7,#f8fcd2,#fdf7bb,#fbe9a6,#f7d690,#f4c17d,#f1b06d,#eea266,#ec9b62,#ec9d63,#eea467,#f1ae6c,#f3ba76,#f5c782,#f7d48e,#f9e19a,#fae8a5,#fceead,#fcf3b4,#fdf5b7,#fdf5b7,#fdf5b7,#fdf5b7,#fdf5b7,#fdf5b7,#fdf5b7)"></i>
<i style="background:linear-gradient(90deg,#fbecaa,#fbecaa,#fbecaa,#fbecaa,#fbecaa,#fbecaa,#fbedab,#fceead,#fcf3b4,#fef9bc,#fffec5,#f9fcd0,#f3f9dc,#ecf6e7,#e7f4f1,#e4f2f7,#deeff5,#deeff5,#deeff5,#deeff5,#deeff5,#deeff5,#deeff5,#deeff5,#deeff5,#deeff5,#deeff5,#deeff5,#deeff5,#e2f1f7,#e8f4ef,#f1f9de,#fcfecb,#fdf4b6,#fae6a1,#f6d28c,#f3bd79,#f0ab6b,#ec9d63,#eb9660,#eb9861,#ed9f65,#f0ab6b,#f3ba76,#f5c782,#f7d48e,#f9e29c,#fbeaa8,#fcf0b0,#fdf5b7,#fef9bc,#fef9bc,#fef9bc,#fef9bc,#fef9bc,#fef9bc,#fef9bc)"></i>
<i style="background:linear-gradient(90deg,#fae7a3,#fae7a3,#fae7a3,#fae7a3,#fae7a3,#fae7a3,#fae7a3,#fbeaa8,#fcefaf,#fdf5b7,#fefcc2,#fafdce,#f3f9dc,#ebf6e9,#e5f3f5,#deeff5,#d8ecf3,#d6ebf3,#d8ecf3,#d8ecf3,#daedf4,#dceef5,#deeff5,#e0f0f6,#e2f1f7,#e4f2f7,#e5f3f5,#e5f3f5,#e5f3f5,#e8f4ef,#edf7e6,#f6fbd6,#fffdc3,#fcefaf,#f9e29c,#f5cc87,#f3ba76,#efa768,#eb9861,#ea935e,#eb9660,#ec9d63,#efa96a,#f2b874,#f5c782,#f7d690,#f9e39e,#fbecaa,#fcf3b4,#fef9bc,#fefbc0,#fefbc0,#fefbc0,#fefbc0,#fefbc0,#fefbc0,#fefbc0)"></i>
<i style="background:linear-gradient(90deg,#f9e29c,#f9e29c,#f9e29c,#f9e29c,#f9e29c,#f9e29c,#f9e29c,#fae6a1,#fbeaa8,#fcf1b2,#fefbc0,#fafdce,#f1f9de,#eaf5eb,#e2f1f7,#d8ecf3,#d3e9f2,#d1e8f1,#d1e8f1,#d5eaf2,#d6ebf3,#daedf4,#deeff5,#e4f2f7,#e6f3f3,#e8f4ef,#e9f5ed,#eaf5eb,#eaf5eb,#ecf6e7,#f3f9dc,#fbfdcc,#fef9bc,#fbecaa,#f8db95,#f5c782,#f2b471,#eea266,#eb9660,#e98f5c,#ea915d,#ec9b62,#efa768,#f2b874,#f5c782,#f7d690,#fae59f,#fbedab,#fdf5b7,#fefbc0,#fffdc3,#fffdc3,#fffdc3,#fffdc3,#fffdc3,#fffdc3,#fffdc3)"></i>
<i style="background:linear-gradient(90deg,#f8db95,#f8db95,#f8db95,#f8db95,#f8db95,#f8db95,#f8db95,#f9e19a,#fae7a3,#fcefaf,#fef9bc,#fbfdcc,#f1f9de,#e8f4ef,#deeff5,#d3e9f2,#cde6f0,#cbe5ef,#cde6f0,#cfe7f0,#d5eaf2,#daedf4,#e0f0f6,#e5f3f5,#e8f4ef,#ebf6e9,#edf7e6,#eef7e4,#eff8e2,#f1f9de,#f7fbd4,#feffc7,#fdf4b6,#fae8a5,#f7d892,#f4c37e,#f1b06d,#ed9f65,#ea915d,#e98c5b,#e98f5c,#eb9861,#eea467,#f2b672,#f5c782,#f7d892,#fae6a1,#fcefaf,#fdf7bb,#fffdc3,#feffc7,#feffc7,#feffc7,#feffc7,#feffc7,#feffc7,#feffc7)"></i>
<i style="background:linear-gradient(90deg,#f7d690,#f7d690,#f7d690,#f7d690,#f7d690,#f7d690,#f7d690,#f8db95,#fae59f,#fbedab,#fdf7bb,#fbfdcc,#f1f9de,#e7f4f1,#daedf4,#cfe7f0,#c8e3ee,#c6e2ed,#c8e3ee,#cbe5ef,#d1e8f1,#d8ecf3,#e0f0f6,#e6f3f3,#eaf5eb,#edf7e6,#f0f8e0,#f3f9dc,#f4fada,#f6fbd6,#fbfdcc,#fefbc0,#fcf0b0,#fae59f,#f6d28c,#f3bf7b,#f1ae6c,#ec9b62,#e98f5c,#e78858,#e88a5a,#ea935e,#eea467,#f2b672,#f5c782,#f7d892,#fae6a1,#fcf0b0,#fef9bc,#fffec5,#fcfecb,#fcfecb,#fcfecb,#fcfecb,#fcfecb,#fcfecb,#fcfecb)"></i>
<i style="background:linear-gradient(90deg,#f6d08b,#f6d08b,#f6d08b,#f6d08b,#f6d08b,#f6d08b,#f6d08b,#f7d690,#f9e19a,#fbeaa8,#fdf6b9,#fcfecb,#f0f8e0,#e6f3f3,#d8ecf3,#cbe5ef,#c4e1ec,#c2e0ec,#c4e1ec,#c9e4ee,#cfe7f0,#d8ecf3,#e0f0f6,#e7f4f1,#ecf6e7,#f0f8e0,#f4fada,#f7fbd4,#f7fbd4,#f9fcd0,#feffc7,#fdf7bb,#fbedab,#f9e19a,#f6ce89,#f3bc77,#efa96a,#eb9861,#e88a5a,#e78557,#e78858,#ea915d,#eea266,#f2b471,#f5c782,#f7d892,#fae7a3,#fcf1b2,#fefbc0,#fdfec9,#fafdce,#fafdce,#fafdce,#fafdce,#fafdce,#fafdce,#fafdce)"></i>
<i style="background:linear-gradient(90deg,#f5cb85,#f5cb85,#f5cb85,#f5cb85,#f5cb85,#f5cb85,#f5cc87,#f6d28c,#f8dd97,#fbe9a6,#fdf5b7,#fcfecb,#f0f8e0,#e6f3f3,#d5eaf2,#c8e3ee,#c0deeb,#beddeb,#c0deeb,#c6e2ed,#cde6f0,#d6ebf3,#e2f1f7,#e8f4ef,#edf7e6,#f3f9dc,#f7fbd4,#f9fcd0,#fafdce,#fcfecb,#fefcc2,#fdf4b6,#fbeaa8,#f8dd97,#f5cb85,#f2b874,#efa768,#eb9660,#e78858,#e68356,#e78557,#ea915d,#ed9f65,#f2b471,#f5c782,#f8da93,#fae8a5,#fcf3b4,#fefcc2,#fcfecb,#f9fcd0,#f9fcd0,#f9fcd0,#f9fcd0,#f9fcd0,#f9fcd0,#f9fcd0)"></i>
<i style="background:linear-gradient(90deg,#f5c782,#f5c782,#f5c782,#f5c782,#f5c782,#f5c782,#f5c984,#f6ce89,#f8db95,#fae8a5,#fdf4b6,#fcfecb,#f0f8e0,#e5f3f5,#d3e9f2,#c6e2ed,#bddcea,#bbdbe9,#beddeb,#c4e1ec,#cde6f0,#d6ebf3,#e2f1f7,#e9f5ed,#eff8e2,#f5fad8,#f9fcd0,#fcfecb,#fcfecb,#feffc7,#fefabe,#fcf1b2,#fae8a5,#f8db95,#f5c984,#f2b672,#eea467,#ea935e,#e78858,#e68356,#e78557,#e98f5c,#ed9f65,#f2b471,#f5c782,#f8da93,#fae8a5,#fdf4b6,#fefcc2,#fbfdcc,#f8fcd2,#f8fcd2,#f8fcd2,#f8fcd2,#f8fcd2,#f8fcd2,#f8fcd2)"></i>
<i style="background:linear-gradient(90deg,#f4c580,#f4c580,#f4c580,#f4c580,#f4c580,#f4c580,#f4c580,#f5cc87,#f8da93,#fae7a3,#fdf4b6,#fdfec9,#f0f8e0,#e5f3f5,#d3e9f2,#c4e1ec,#bbdbe9,#b9dae9,#bddcea,#c2e0ec,#cbe5ef,#d6ebf3,#e2f1f7,#e9f5ed,#eff8e2,#f6fbd6,#fafdce,#fdfec9,#feffc7,#fffdc3,#fef9bc,#fcf0b0,#fae7a3,#f8da93,#f5c782,#f2b672,#eea266,#ea915d,#e78557,#e68155,#e68356,#e98f5c,#ed9f65,#f2b471,#f5c782,#f8da93,#fae8a5,#fdf4b6,#fffdc3,#fafdce,#f7fbd4,#f7fbd4,#f7fbd4,#f7fbd4,#f7fbd4,#f7fbd4,#f7fbd4)"></i>
<i style="background:linear-gradient(90deg,#f4c580,#f4c580,#f4c580,#f4c580,#f4c580,#f4c580,#f4c580,#f5cc87,#f7d892,#fae7a3,#fdf4b6,#fdfec9,#f0f8e0,#e4f2f7,#d3e9f2,#c4e1ec,#bbdbe9,#b9dae9,#bddcea,#c2e0ec,#cbe5ef,#d6ebf3,#e2f1f7,#e9f5ed,#f0f8e0,#f6fbd6,#fbfdcc,#fdfec9,#feffc7,#fffdc3,#fdf7bb,#fcf0b0,#fae6a1,#f7d892,#f5c782,#f2b471,#eea266,#ea915d,#e78557,#e68155,#e68356,#e98f5c,#ed9f65,#f2b471,#f5c782,#f8da93,#fbe9a6,#fdf4b6,#fffdc3,#fafdce,#f7fbd4,#f7fbd4,#f7fbd4,#f7fbd4,#f7fbd4,#f7fbd4,#f7fbd4)"></i>
<i style="background:linear-gradient(90deg,#f4c580,#f4c580,#f4c580,#f4c580,#f4c580,#f4c580,#f4c580,#f5cc87,#f7d892,#fae7a3,#fcf3b4,#fdfec9,#f0f8e0,#e5f3f5,#d3e9f2,#c4e1ec,#bddcea,#bbdbe9,#bddcea,#c4e1ec,#cbe5ef,#d6ebf3,#e2f1f7,#eaf5eb,#f0f8e0,#f6fbd6,#fbfdcc,#feffc7,#fffec5,#fffdc3,#fdf7bb,#fcf0b0,#fae6a1,#f7d892,#f5c782,#f2b672,#eea266,#ea915d,#e78858,#e68356,#e78557,#e98f5c,#ed9f65,#f2b471,#f5c782,#f8da93,#fbe9a6,#fdf4b6,#fffdc3,#fafdce,#f7fbd4,#f7fbd4,#f7fbd4,#f7fbd4,#f7fbd4,#f7fbd4,#f7fbd4)"></i>
<i style="background:linear-gradient(90deg,#f4c580,#f4c580,#f4c580,#f4c580,#f4c580,#f4c580,#f4c580,#f5cc87,#f7d892,#fae6a1,#fcf3b4,#feffc7,#f1f9de,#e6f3f3,#d6ebf3,#c8e3ee,#c0deeb,#beddeb,#c0deeb,#c8e3ee,#cfe7f0,#daedf4,#e5f3f5,#ebf6e9,#f1f9de,#f8fcd2,#fcfecb,#fffec5,#fffdc3,#fefcc2,#fdf7bb,#fcefaf,#fae6a1,#f8da93,#f5c984,#f2b874,#efa768,#eb9660,#e98c5b,#e78858,#e88a5a,#ea935e,#eea467,#f2b672,#f5c984,#f8db95,#fbe9a6,#fdf4b6,#fefcc2,#fbfdcc,#f8fcd2,#f8fcd2,#f8fcd2,#f8fcd2,#f8fcd2,#f8fcd2,#f8fcd2)"></i>
<i style="background:linear-gradient(90deg,#f4c580,#f4c580,#f4c580,#f4c580,#f4c580,#f4c580,#f5c782,#f5cc87,#f7d892,#fae6a1,#fcf1b2,#fffec5,#f4fada,#e9f5ed,#dceef5,#cde6f0,#c6e2ed,#c4e1ec,#c8e3ee,#cde6f0,#d5eaf2,#e0f0f6,#e7f4f1,#edf7e6,#f4fada,#f9fcd0,#fdfec9,#fffdc3,#fefcc2,#fefbc0,#fdf6b9,#fcefaf,#fae7a3,#f8da93,#f5cb85,#f3bc77,#f0ab6b,#ec9d63,#ea935e,#e98f5c,#ea915d,#ec9b62,#efa96a,#f3ba76,#f5cb85,#f8dd97,#fbe9a6,#fcf3b4,#fefcc2,#fcfecb,#fafdce,#fafdce,#fafdce,#fafdce,#fafdce,#fafdce,#fafdce)"></i>
<i style="background:linear-gradient(90deg,#f5c782,#f5c782,#f5c782,#f5c782,#f5c782,#f5c782,#f5c782,#f6ce89,#f7d892,#fae59f,#fcf0b0,#fefcc2,#f6fbd6,#ecf6e7,#e2f1f7,#d5eaf2,#cde6f0,#cbe5ef,#cfe7f0,#d5eaf2,#dceef5,#e5f3f5,#ebf6e9,#f0f8e0,#f7fbd4,#fbfdcc,#fffec5,#fefbc0,#fefabe,#fef9bc,#fdf4b6,#fceead,#fae7a3,#f8db95,#f6ce89,#f3bf7b,#f2b471,#efa768,#ec9d63,#ec9b62,#ec9d63,#eea467,#f2b26f,#f3bf7b,#f6ce89,#f9df99,#fbe9a6,#fcf3b4,#fefabe,#feffc7,#fcfecb,#fbfdcc,#fbfdcc,#fbfdcc,#fbfdcc,#fbfdcc,#fbfdcc)"></i>
<i style="background:linear-gradient(90deg,#f5c984,#f5c984,#f5c984,#f5c984,#f5c984,#f5c984,#f5c984,#f6ce89,#f7d892,#fae59f,#fcefaf,#fefabe,#fafdce,#f0f8e0,#e8f4ef,#e0f0f6,#d8ecf3,#d6ebf3,#d8ecf3,#deeff5,#e5f3f5,#eaf5eb,#eff8e2,#f5fad8,#fafdce,#feffc7,#fefbc0,#fef9bc,#fdf7bb,#fdf6b9,#fcf3b4,#fbedab,#fae7a3,#f8dd97,#f6d28c,#f5c782,#f3bc77,#f2b26f,#f0ab6b,#efa768,#efa96a,#f1b06d,#f3ba76,#f5c782,#f7d48e,#f9e19a,#fbe9a6,#fcf1b2,#fef9bc,#fffdc3,#feffc7,#feffc7,#feffc7,#feffc7,#feffc7,#feffc7,#feffc7)"></i>
<i style="background:linear-gradient(90deg,#f5cb85,#f5cb85,#f5cb85,#f5cb85,#f5cb85,#f5cb85,#f5cb85,#f6d08b,#f7d892,#f9e39e,#fbedab,#fdf6b9,#fdfec9,#f5fad8,#edf7e6,#e7f4f1,#e4f2f7,#e2f1f7,#e4f2f7,#e7f4f1,#eaf5eb,#eef7e4,#f4fada,#f9fcd0,#fdfec9,#fefcc2,#fef9bc,#fdf6b9,#fdf5b7,#fdf4b6,#fcf0b0,#fbedab,#fae7a3,#f9e19a,#f7d690,#f5cc87,#f4c37e,#f3bc77,#f2b874,#f2b471,#f2b672,#f3bc77,#f4c37e,#f5cc87,#f7d892,#f9e29c,#fbeaa8,#fcf0b0,#fdf6b9,#fefbc0,#fefcc2,#fefcc2,#fefcc2,#fefcc2,#fefcc2,#fefcc2,#fefcc2)"></i>
<i style="background:linear-gradient(90deg,#f5cc87,#f5cc87,#f5cc87,#f5cc87,#f5cc87,#f5cc87,#f5cc87,#f6d08b,#f7d892,#f9e29c,#fbeaa8,#fdf4b6,#fefcc2,#f9fcd0,#f3f9dc,#edf7e6,#eaf5eb,#eaf5eb,#ebf6e9,#edf7e6,#f0f8e0,#f5fad8,#f9fcd0,#fdfec9,#fefcc2,#fef9bc,#fdf5b7,#fcf3b4,#fcf1b2,#fcf0b0,#fcefaf,#fbecaa,#fae7a3,#f9e29c,#f8db95,#f7d48e,#f5cc87,#f5c782,#f4c37e,#f4c17d,#f4c37e,#f5c782,#f5cc87,#f7d48e,#f8dd97,#fae59f,#fbeaa8,#fcf0b0,#fdf4b6,#fdf7bb,#fef9bc,#fefabe,#fefabe,#fefabe,#fefabe,#fefabe,#fefabe)"></i>
<i style="background:linear-gradient(90deg,#f6ce89,#f6ce89,#f6ce89,#f6ce89,#f6ce89,#f6ce89,#f6ce89,#f6d28c,#f7d892,#f9e19a,#fae8a5,#fcf0b0,#fdf7bb,#fffec5,#fafdce,#f5fad8,#f3f9dc,#f1f9de,#f3f9dc,#f5fad8,#f8fcd2,#fbfdcc,#feffc7,#fefbc0,#fdf7bb,#fdf4b6,#fcf0b0,#fcefaf,#fceead,#fceead,#fbecaa,#fbeaa8,#fae7a3,#fae59f,#f9e19a,#f8db95,#f7d892,#f7d48e,#f6d28c,#f6d08b,#f6d08b,#f7d48e,#f7d892,#f8dd97,#f9e29c,#fae7a3,#fbeaa8,#fcefaf,#fcf1b2,#fdf4b6,#fdf5b7,#fdf5b7,#fdf5b7,#fdf5b7,#fdf5b7,#fdf5b7,#fdf5b7)"></i>
<i style="background:linear-gradient(90deg,#f6d08b,#f6d08b,#f6d08b,#f6d08b,#f6d08b,#f6d08b,#f6d08b,#f6d28c,#f7d892,#f9e19a,#fae6a1,#fbedab,#fcf3b4,#fef9bc,#fffdc3,#fcfecb,#fafdce,#fafdce,#fafdce,#fcfecb,#feffc7,#fefcc2,#fef9bc,#fdf5b7,#fcf1b2,#fcefaf,#fbedab,#fbecaa,#fbeaa8,#fbeaa8,#fbe9a6,#fae8a5,#fae7a3,#fae6a1,#fae59f,#f9e39e,#f9e29c,#f9e19a,#f9df99,#f9df99,#f9df99,#f9e19a,#f9e29c,#fae59f,#fae7a3,#fbe9a6,#fbecaa,#fceead,#fcefaf,#fcf0b0,#fcf1b2,#fcf1b2,#fcf1b2,#fcf1b2,#fcf1b2,#fcf1b2,#fcf1b2)"></i>
<i style="background:linear-gradient(90deg,#f6d28c,#f6d28c,#f6d28c,#f6d28c,#f6d28c,#f6d28c,#f6d28c,#f7d48e,#f8da93,#f9df99,#f9e39e,#fbe9a6,#fceead,#fcf3b4,#fdf6b9,#fefabe,#fefbc0,#fefcc2,#fefbc0,#fefabe,#fdf7bb,#fdf5b7,#fcf3b4,#fcefaf,#fbedab,#fbeaa8,#fbe9a6,#fae8a5,#fae7a3,#fae7a3,#fae7a3,#fae7a3,#fae8a5,#fae8a5,#fae8a5,#fae8a5,#fae8a5,#fae8a5,#fae8a5,#fbe9a6,#fbe9a6,#fbe9a6,#fbe9a6,#fbeaa8,#fbeaa8,#fbecaa,#fbecaa,#fbedab,#fbedab,#fbedab,#fbedab,#fbedab,#fbedab,#fbedab,#fbedab,#fbedab,#fbedab)"></i>
<i style="background:linear-gradient(90deg,#f7d48e,#f7d48e,#f7d48e,#f7d48e,#f7d48e,#f7d48e,#f7d48e,#f7d690,#f8da93,#f8dd97,#f9e19a,#fae59f,#fae8a5,#fbecaa,#fceead,#fcf0b0,#fcf1b2,#fcf1b2,#fcf1b2,#fcf0b0,#fcefaf,#fbedab,#fbecaa,#fbe9a6,#fae7a3,#fae6a1,#fae59f,#f9e39e,#f9e39e,#f9e39e,#fae59f,#fae6a1,#fae8a5,#fbe9a6,#fbecaa,#fceead,#fcf0b0,#fcf1b2,#fcf3b4,#fcf3b4,#fcf3b4,#fcf1b2,#fcf1b2,#fcf0b0,#fcefaf,#fceead,#fbedab,#fbecaa,#fbeaa8,#fbe9a6,#fbe9a6,#fbe9a6,#fbe9a6,#fbe9a6,#fbe9a6,#fbe9a6,#fbe9a6)"></i>
<i style="background:linear-gradient(90deg,#f7d690,#f7d690,#f7d690,#f7d690,#f7d690,#f7d690,#f7d690,#f7d892,#f8da93,#f8db95,#f8dd97,#f9e19a,#f9e39e,#fae59f,#fae7a3,#fae8a5,#fae8a5,#fbe9a6,#fae8a5,#fae8a5,#fae7a3,#fae6a1,#fae59f,#f9e39e,#f9e29c,#f9e19a,#f9df99,#f9df99,#f9df99,#f9df99,#f9e29c,#fae59f,#fae8a5,#fbecaa,#fcefaf,#fcf3b4,#fdf6b9,#fefabe,#fefbc0,#fefcc2,#fefcc2,#fefabe,#fef9bc,#fdf6b9,#fcf3b4,#fcefaf,#fbedab,#fbeaa8,#fae8a5,#fae6a1,#fae59f,#fae59f,#fae59f,#fae59f,#fae59f,#fae59f,#fae59f)"></i>
<i style="background:linear-gradient(90deg,#f7d892,#f7d892,#f7d892,#f7d892,#f7d892,#f7d892,#f7d892,#f7d892,#f8da93,#f8da93,#f8da93,#f8db95,#f8dd97,#f8dd97,#f9df99,#f9df99,#f9df99,#f9df99,#f9df99,#f9df99,#f9df99,#f8dd97,#f8dd97,#f8db95,#f8db95,#f8da93,#f8da93,#f8da93,#f8da93,#f8db95,#f9df99,#f9e39e,#fae8a5,#fceead,#fcf3b4,#fef9bc,#fffdc3,#fdfec9,#fbfdcc,#fafdce,#fafdce,#fcfecb,#feffc7,#fefbc0,#fdf6b9,#fcf1b2,#fbedab,#fbe9a6,#fae6a1,#f9e29c,#f9e19a,#f9e19a,#f9e19a,#f9e19a,#f9e19a,#f9e19a,#f9e19a)"></i>
<i style="background:linear-gradient(90deg,#f8da93,#f8da93,#f8da93,#f8da93,#f8da93,#f8da93,#f8da93,#f8da93,#f8da93,#f7d892,#f7d892,#f7d690,#f7d48e,#f7d48e,#f6d28c,#f6d28c,#f6d28c,#f6d28c,#f6d28c,#f6d28c,#f6d28c,#f6d28c,#f6d28c,#f6d28c,#f7d48e,#f7d48e,#f7d48e,#f7d48e,#f7d48e,#f7d690,#f8db95,#f9e29c,#fae8a5,#fcefaf,#fdf6b9,#fffdc3,#fbfdcc,#f6fbd6,#f3f9dc,#f1f9de,#f1f9de,#f5fad8,#f8fcd2,#fdfec9,#fefbc0,#fdf4b6,#fceead,#fae8a5,#f9e29c,#f8dd97,#f8db95,#f8db95,#f8db95,#f8db95,#f8db95,#f8db95,#f8db95)"></i>
<i style="background:linear-gradient(90deg,#f8db95,#f8db95,#f8db95,#f8db95,#f8db95,#f8db95,#f8db95,#f8da93,#f8da93,#f7d690,#f7d48e,#f6d08b,#f6ce89,#f5cb85,#f5c984,#f5c782,#f4c580,#f4c580,#f4c580,#f5c782,#f5c782,#f5c984,#f5c984,#f5cb85,#f5cc87,#f5cc87,#f6ce89,#f6ce89,#f6ce89,#f6d28c,#f7d892,#f9e19a,#fae8a5,#fcf0b0,#fefabe,#fcfecb,#f6fbd6,#eff8e2,#ecf6e7,#eaf5eb,#ebf6e9,#eef7e4,#f3f9dc,#f9fcd0,#fffec5,#fdf6b9,#fceead,#fae7a3,#f9e19a,#f8da93,#f7d690,#f7d690,#f7d690,#f7d690,#f7d690,#f7d690,#f7d690)"></i>
<i style="background:linear-gradient(90deg,#f8dd97,#f8dd97,#f8dd97,#f8dd97,#f8dd97,#f8dd97,#f8dd97,#f8db95,#f8da93,#f7d690,#f6d08b,#f5cc87,#f5c782,#f4c37e,#f3bf7b,#f3bc77,#f3ba76,#f3ba76,#f3bc77,#f3bc77,#f3bd79,#f3bf7b,#f4c17d,#f4c37e,#f4c580,#f5c782,#f5c984,#f5cb85,#f5cb85,#f5cc87,#f7d48e,#f9df99,#fbe9a6,#fcf3b4,#fefcc2,#f9fcd0,#f0f8e0,#eaf5eb,#e6f3f3,#e4f2f7,#e5f3f5,#e8f4ef,#eef7e4,#f5fad8,#fdfec9,#fdf7bb,#fceead,#fae6a1,#f8dd97,#f7d690,#f6d08b,#f6d08b,#f6d08b,#f6d08b,#f6d08b,#f6d08b,#f6d08b)"></i>
<i style="background:linear-gradient(90deg,#f9df99,#f9df99,#f9df99,#f9df99,#f9df99,#f9df99,#f8dd97,#f8db95,#f8da93,#f7d48e,#f6ce89,#f5c984,#f4c17d,#f3bc77,#f2b672,#f2b26f,#f1b06d,#f1b06d,#f1b06d,#f2b26f,#f2b471,#f2b874,#f3ba76,#f3bd79,#f3bf7b,#f4c37e,#f4c580,#f5c782,#f5c782,#f5c984,#f6d28c,#f9df99,#fbe9a6,#fdf4b6,#fffec5,#f6fbd6,#ecf6e7,#e5f3f5,#deeff5,#d8ecf3,#daedf4,#e2f1f7,#e9f5ed,#f1f9de,#fbfdcc,#fef9bc,#fcefaf,#fae59f,#f8db95,#f6d28c,#f5cc87,#f5cc87,#f5cc87,#f5cc87,#f5cc87,#f5cc87,#f5cc87)"></i>
<i style="background:linear-gradient(90deg,#f9df99,#f9df99,#f9df99,#f9df99,#f9df99,#f9df99,#f9df99,#f8dd97,#f8da93,#f7d48e,#f5cc87,#f4c580,#f3bd79,#f2b672,#f1b06d,#f0ab6b,#efa768,#efa768,#efa768,#efa96a,#f1ae6c,#f1b06d,#f2b471,#f2b874,#f3bc77,#f3bf7b,#f4c17d,#f4c37e,#f4c37e,#f5c782,#f6d08b,#f8dd97,#fbe9a6,#fdf5b7,#fdfec9,#f3f9dc,#e9f5ed,#e0f0f6,#d6ebf3,#d1e8f1,#d3e9f2,#dceef5,#e6f3f3,#eef7e4,#f9fcd0,#fefabe,#fcefaf,#fae59f,#f7d892,#f6ce89,#f5c984,#f5c984,#f5c984,#f5c984,#f5c984,#f5c984,#f5c984)"></i>
<i style="background:linear-gradient(90deg,#f9e19a,#f9e19a,#f9e19a,#f9e19a,#f9e19a,#f9e19a,#f9df99,#f8dd97,#f8da93,#f6d28c,#f5cb85,#f4c37e,#f3ba76,#f2b26f,#f0ab6b,#eea467,#ed9f65,#ed9f65,#ed9f65,#eea266,#efa768,#f0ab6b,#f1b06d,#f2b471,#f2b874,#f3bc77,#f3bf7b,#f4c17d,#f4c17d,#f4c580,#f6ce89,#f8dd97,#fbe9a6,#fdf5b7,#fcfecb,#f0f8e0,#e7f4f1,#daedf4,#d1e8f1,#cbe5ef,#cde6f0,#d6ebf3,#e4f2f7,#ecf6e7,#f7fbd4,#fefbc0,#fcefaf,#f9e39e,#f7d892,#f5cc87,#f5c782,#f5c782,#f5c782,#f5c782,#f5c782,#f5c782,#f5c782)"></i>
<i style="background:linear-gradient(90deg,#f9e19a,#f9e19a,#f9e19a,#f9e19a,#f9e19a,#f9e19a,#f9e19a,#f8dd97,#f8da93,#f6d28c,#f5cb85,#f4c17d,#f2b874,#f1b06d,#efa768,#ed9f65,#ec9b62,#ec9b62,#ec9b62,#ec9d63,#eea266,#efa768,#f1ae6c,#f2b26f,#f2b672,#f3ba76,#f3bd79,#f3bf7b,#f3bf7b,#f4c37e,#f5cc87,#f8db95,#fbe9a6,#fdf6b9,#fbfdcc,#eff8e2,#e5f3f5,#d6ebf3,#cde6f0,#c8e3ee,#c9e4ee,#d3e9f2,#e0f0f6,#ebf6e9,#f7fbd4,#fefcc2,#fcefaf,#f9e39e,#f7d690,#f5cb85,#f4c580,#f4c580,#f4c580,#f4c580,#f4c580,#f4c580,#f4c580)"></i>
<i style="background:linear-gradient(90deg,#f9e19a,#f9e19a,#f9e19a,#f9e19a,#f9e19a,#f9e19a,#f9e19a,#f8dd97,#f8da93,#f6d28c,#f5cb85,#f4c17d,#f2b874,#f1b06d,#efa768,#ec9d63,#ec9b62,#eb9861,#ec9b62,#ec9d63,#eea266,#efa768,#f0ab6b,#f2b26f,#f2b672,#f3ba76,#f3bd79,#f3bf7b,#f3bf7b,#f4c37e,#f5cc87,#f8db95,#fbe9a6,#fdf6b9,#fbfdcc,#eff8e2,#e5f3f5,#d6ebf3,#cbe5ef,#c8e3ee,#c9e4ee,#d1e8f1,#e0f0f6,#ebf6e9,#f6fbd6,#fefcc2,#fcefaf,#f9e39e,#f7d690,#f5cb85,#f4c580,#f4c580,#f4c580,#f4c580,#f4c580,#f4c580,#f4c580)"></i>
<i style="background:linear-gradient(90deg,#f9e19a,#f9e19a,#f9e19a,#f9e19a,#f9e19a,#f9e19a,#f9e19a,#f8dd97,#f8da93,#f6d28c,#f5cb85,#f4c17d,#f2b874,#f1b06d,#efa768,#ec9d63,#ec9b62,#eb9861,#ec9b62,#ec9d63,#eea266,#efa768,#f0ab6b,#f2b26f,#f2b672,#f3ba76,#f3bd79,#f3bf7b,#f3bf7b,#f4c37e,#f5cc87,#f8db95,#fbe9a6,#fdf6b9,#fbfdcc,#eff8e2,#e5f3f5,#d6ebf3,#cbe5ef,#c8e3ee,#c9e4ee,#d1e8f1,#e0f0f6,#ebf6e9,#f6fbd6,#fefcc2,#fcefaf,#f9e39e,#f7d690,#f5cb85,#f4c580,#f4c580,#f4c580,#f4c580,#f4c580,#f4c580,#f4c580)"></i>
<i style="background:linear-gradient(90deg,#f9e19a,#f9e19a,#f9e19a,#f9e19a,#f9e19a,#f9e19a,#f9e19a,#f8dd97,#f8da93,#f6d28c,#f5cb85,#f4c17d,#f2b874,#f1b06d,#efa768,#ec9d63,#ec9b62,#eb9861,#ec9b62,#ec9d63,#eea266,#efa768,#f0ab6b,#f2b26f,#f2b672,#f3ba76,#f3bd79,#f3bf7b,#f3bf7b,#f4c37e,#f5cc87,#f8db95,#fbe9a6,#fdf6b9,#fbfdcc,#eff8e2,#e5f3f5,#d6ebf3,#cbe5ef,#c8e3ee,#c9e4ee,#d1e8f1,#e0f0f6,#ebf6e9,#f6fbd6,#fefcc2,#fcefaf,#f9e39e,#f7d690,#f5cb85,#f4c580,#f4c580,#f4c580,#f4c580,#f4c580,#f4c580,#f4c580)"></i>
<i style="background:linear-gradient(90deg,#f9e19a,#f9e19a,#f9e19a,#f9e19a,#f9e19a,#f9e19a,#f9e19a,#f8dd97,#f8da93,#f6d28c,#f5cb85,#f4c17d,#f2b874,#f1b06d,#efa768,#ec9d63,#ec9b62,#eb9861,#ec9b62,#ec9d63,#eea266,#efa768,#f0ab6b,#f2b26f,#f2b672,#f3ba76,#f3bd79,#f3bf7b,#f3bf7b,#f4c37e,#f5cc87,#f8db95,#fbe9a6,#fdf6b9,#fbfdcc,#eff8e2,#e5f3f5,#d6ebf3,#cbe5ef,#c8e3ee,#c9e4ee,#d1e8f1,#e0f0f6,#ebf6e9,#f6fbd6,#fefcc2,#fcefaf,#f9e39e,#f7d690,#f5cb85,#f4c580,#f4c580,#f4c580,#f4c580,#f4c580,#f4c580,#f4c580)"></i>
<i style="background:linear-gradient(90deg,#f9e19a,#f9e19a,#f9e19a,#f9e19a,#f9e19a,#f9e19a,#f9e19a,#f8dd97,#f8da93,#f6d28c,#f5cb85,#f4c17d,#f2b874,#f1b06d,#efa768,#ec9d63,#ec9b62,#eb9861,#ec9b62,#ec9d63,#eea266,#efa768,#f0ab6b,#f2b26f,#f2b672,#f3ba76,#f3bd79,#f3bf7b,#f3bf7b,#f4c37e,#f5cc87,#f8db95,#fbe9a6,#fdf6b9,#fbfdcc,#eff8e2,#e5f3f5,#d6ebf3,#cbe5ef,#c8e3ee,#c9e4ee,#d1e8f1,#e0f0f6,#ebf6e9,#f6fbd6,#fefcc2,#fcefaf,#f9e39e,#f7d690,#f5cb85,#f4c580,#f4c580,#f4c580,#f4c580,#f4c580,#f4c580,#f4c580)"></i>
<i style="background:linear-gradient(90deg,#f9e19a,#f9e19a,#f9e19a,#f9e19a,#f9e19a,#f9e19a,#f9e19a,#f8dd97,#f8da93,#f6d28c,#f5cb85,#f4c17d,#f2b874,#f1b06d,#efa768,#ec9d63,#ec9b62,#eb9861,#ec9b62,#ec9d63,#eea266,#efa768,#f0ab6b,#f2b26f,#f2b672,#f3ba76,#f3bd79,#f3bf7b,#f3bf7b,#f4c37e,#f5cc87,#f8db95,#fbe9a6,#fdf6b9,#fbfdcc,#eff8e2,#e5f3f5,#d6ebf3,#cbe5ef,#c8e3ee,#c9e4ee,#d1e8f1,#e0f0f6,#ebf6e9,#f6fbd6,#fefcc2,#fcefaf,#f9e39e,#f7d690,#f5cb85,#f4c580,#f4c580,#f4c580,#f4c580,#f4c580,#f4c580,#f4c580)"></i>
<i style="background:linear-gradient(90deg,#f9e19a,#f9e19a,#f9e19a,#f9e19a,#f9e19a,#f9e19a,#f9e19a,#f8dd97,#f8da93,#f6d28c,#f5cb85,#f4c17d,#f2b874,#f1b06d,#efa768,#ec9d63,#ec9b62,#eb9861,#ec9b62,#ec9d63,#eea266,#efa768,#f0ab6b,#f2b26f,#f2b672,#f3ba76,#f3bd79,#f3bf7b,#f3bf7b,#f4c37e,#f5cc87,#f8db95,#fbe9a6,#fdf6b9,#fbfdcc,#eff8e2,#e5f3f5,#d6ebf3,#cbe5ef,#c8e3ee,#c9e4ee,#d1e8f1,#e0f0f6,#ebf6e9,#f6fbd6,#fefcc2,#fcefaf,#f9e39e,#f7d690,#f5cb85,#f4c580,#f4c580,#f4c580,#f4c580,#f4c580,#f4c580,#f4c580)"></i>
<i style="background:linear-gradient(90deg,#f9e19a,#f9e19a,#f9e19a,#f9e19a,#f9e19a,#f9e19a,#f9e19a,#f8dd97,#f8da93,#f6d28c,#f5cb85,#f4c17d,#f2b874,#f1b06d,#efa768,#ec9d63,#ec9b62,#eb9861,#ec9b62,#ec9d63,#eea266,#efa768,#f0ab6b,#f2b26f,#f2b672,#f3ba76,#f3bd79,#f3bf7b,#f3bf7b,#f4c37e,#f5cc87,#f8db95,#fbe9a6,#fdf6b9,#fbfdcc,#eff8e2,#e5f3f5,#d6ebf3,#cbe5ef,#c8e3ee,#c9e4ee,#d1e8f1,#e0f0f6,#ebf6e9,#f6fbd6,#fefcc2,#fcefaf,#f9e39e,#f7d690,#f5cb85,#f4c580,#f4c580,#f4c580,#f4c580,#f4c580,#f4c580,#f4c580)"></i>
<i style="background:linear-gradient(90deg,#f9e19a,#f9e19a,#f9e19a,#f9e19a,#f9e19a,#f9e19a,#f9e19a,#f8dd97,#f8da93,#f6d28c,#f5cb85,#f4c17d,#f2b874,#f1b06d,#efa768,#ec9d63,#ec9b62,#eb9861,#ec9b62,#ec9d63,#eea266,#efa768,#f0ab6b,#f2b26f,#f2b672,#f3ba76,#f3bd79,#f3bf7b,#f3bf7b,#f4c37e,#f5cc87,#f8db95,#fbe9a6,#fdf6b9,#fbfdcc,#eff8e2,#e5f3f5,#d6ebf3,#cbe5ef,#c8e3ee,#c9e4ee,#d1e8f1,#e0f0f6,#ebf6e9,#f6fbd6,#fefcc2,#fcefaf,#f9e39e,#f7d690,#f5cb85,#f4c580,#f4c580,#f4c580,#f4c580,#f4c580,#f4c580,#f4c580)"></i>
<i style="background:linear-gradient(90deg,#f9e19a,#f9e19a,#f9e19a,#f9e19a,#f9e19a,#f9e19a,#f9e19a,#f8dd97,#f8da93,#f6d28c,#f5cb85,#f4c17d,#f2b874,#f1b06d,#efa768,#ec9d63,#ec9b62,#eb9861,#ec9b62,#ec9d63,#eea266,#efa768,#f0ab6b,#f2b26f,#f2b672,#f3ba76,#f3bd79,#f3bf7b,#f3bf7b,#f4c37e,#f5cc87,#f8db95,#fbe9a6,#fdf6b9,#fbfdcc,#eff8e2,#e5f3f5,#d6ebf3,#cbe5ef,#c8e3ee,#c9e4ee,#d1e8f1,#e0f0f6,#ebf6e9,#f6fbd6,#fefcc2,#fcefaf,#f9e39e,#f7d690,#f5cb85,#f4c580,#f4c580,#f4c580,#f4c580,#f4c580,#f4c580,#f4c580)"></i>
<i style="background:linear-gradient(90deg,#f9e19a,#f9e19a,#f9e19a,#f9e19a,#f9e19a,#f9e19a,#f9e19a,#f8dd97,#f8da93,#f6d28c,#f5cb85,#f4c17d,#f2b874,#f1b06d,#efa768,#ec9d63,#ec9b62,#eb9861,#ec9b62,#ec9d63,#eea266,#efa768,#f0ab6b,#f2b26f,#f2b672,#f3ba76,#f3bd79,#f3bf7b,#f3bf7b,#f4c37e,#f5cc87,#f8db95,#fbe9a6,#fdf6b9,#fbfdcc,#eff8e2,#e5f3f5,#d6ebf3,#cbe5ef,#c8e3ee,#c9e4ee,#d1e8f1,#e0f0f6,#ebf6e9,#f6fbd6,#fefcc2,#fcefaf,#f9e39e,#f7d690,#f5cb85,#f4c580,#f4c580,#f4c580,#f4c580,#f4c580,#f4c580,#f4c580)"></i>
<i style="background:linear-gradient(90deg,#f9e19a,#f9e19a,#f9e19a,#f9e19a,#f9e19a,#f9e19a,#f9e19a,#f8dd97,#f8da93,#f6d28c,#f5cb85,#f4c17d,#f2b874,#f1b06d,#efa768,#ec9d63,#ec9b62,#eb9861,#ec9b62,#ec9d63,#eea266,#efa768,#f0ab6b,#f2b26f,#f2b672,#f3ba76,#f3bd79,#f3bf7b,#f3bf7b,#f4c37e,#f5cc87,#f8db95,#fbe9a6,#fdf6b9,#fbfdcc,#eff8e2,#e5f3f5,#d6ebf3,#cbe5ef,#c8e3ee,#c9e4ee,#d1e8f1,#e0f0f6,#ebf6e9,#f6fbd6,#fefcc2,#fcefaf,#f9e39e,#f7d690,#f5cb85,#f4c580,#f4c580,#f4c580,#f4c580,#f4c580,#f4c580,#f4c580)"></i>
<i style="background:linear-gradient(90deg,#f9e19a,#f9e19a,#f9e19a,#f9e19a,#f9e19a,#f9e19a,#f9e19a,#f8dd97,#f8da93,#f6d28c,#f5cb85,#f4c17d,#f2b874,#f1b06d,#efa768,#ec9d63,#ec9b62,#eb9861,#ec9b62,#ec9d63,#eea266,#efa768,#f0ab6b,#f2b26f,#f2b672,#f3ba76,#f3bd79,#f3bf7b,#f3bf7b,#f4c37e,#f5cc87,#f8db95,#fbe9a6,#fdf6b9,#fbfdcc,#eff8e2,#e5f3f5,#d6ebf3,#cbe5ef,#c8e3ee,#c9e4ee,#d1e8f1,#e0f0f6,#ebf6e9,#f6fbd6,#fefcc2,#fcefaf,#f9e39e,#f7d690,#f5cb85,#f4c580,#f4c580,#f4c580,#f4c580,#f4c580,#f4c580,#f4c580)"></i>
</div></div>
<div class="cb" style="left:1596px;top:102px;width:20px;height:415px;background:linear-gradient(180deg,#323690,#364094,#3b4999,#40539e,#455da3,#4966a8,#4e70ad,#5579b2,#5c82b7,#648bbc,#6c93c0,#739cc5,#7ba5ca,#83adcf,#8bb4d2,#93bbd6,#9bc2da,#a3c9de,#abd0e3,#b3d7e7,#bbdbe9,#c2e0ec,#c9e4ee,#d1e8f1,#d8ecf3,#e0f0f6,#e6f3f3,#eaf5eb,#eef7e4,#f3f9dc,#f7fbd4,#fbfdcc,#feffc7,#fefbc0,#fdf6b9,#fcf1b2,#fbedab,#fae8a5,#f9e39e,#f8dd97,#f7d690,#f6ce89,#f5c782,#f3bf7b,#f2b874,#f1b06d,#efa768,#ec9d63,#ea935e,#e88a5a,#e68155,#e47750,#e06e4b,#db6647,#d65d42,#d2553e,#cd4c39,#c94535,#c33e32,#bc3730,#b4312f,#ad2c2e,#a6272d,#9e222c,#971d2b)"></div>
<div class="hm" style="left:440px;top:628px;width:447px;height:416px"><div class="hs">
<i style="background:linear-gradient(90deg,#fae7a3,#fae7a3,#fae7a3,#fae7a3,#fae7a3,#fae7a3,#fae7a3,#fbe9a6,#fbedab,#fcf1b2,#fdf7bb,#fffec5,#fafdce,#f5fad8,#eff8e2,#ecf6e7,#eaf5eb,#e9f5ed,#e5f3f5,#d8ecf3,#c6e2ed,#afd3e5,#95bdd7,#79a3c9,#5e84b8,#4b69aa,#40539e,#394497,#353d93,#353d93,#343b92,#323690,#323690,#323690,#323690,#323690,#323690,#323690,#323690,#323690,#323690,#323690,#323690,#384296,#4258a1,#4d6eac,#5c82b7,#6c93c0,#79a3c9,#83adcf,#87b1d1,#89b2d1,#89b2d1,#89b2d1,#89b2d1,#89b2d1,#89b2d1)"></i>
<i style="background:linear-gradient(90deg,#fae7a3,#fae7a3,#fae7a3,#fae7a3,#fae7a3,#fae7a3,#fae7a3,#fbe9a6,#fbedab,#fcf1b2,#fdf7bb,#fffec5,#fafdce,#f5fad8,#eff8e2,#ecf6e7,#eaf5eb,#e9f5ed,#e5f3f5,#d8ecf3,#c6e2ed,#afd3e5,#95bdd7,#79a3c9,#5e84b8,#4b69aa,#40539e,#394497,#353d93,#353d93,#343b92,#323690,#323690,#323690,#323690,#323690,#323690,#323690,#323690,#323690,#323690,#323690,#323690,#384296,#4258a1,#4d6eac,#5c82b7,#6c93c0,#79a3c9,#83adcf,#87b1d1,#89b2d1,#89b2d1,#89b2d1,#89b2d1,#89b2d1,#89b2d1)"></i>
<i style="background:linear-gradient(90deg,#fae7a3,#fae7a3,#fae7a3,#fae7a3,#fae7a3,#fae7a3,#fae7a3,#fbe9a6,#fbedab,#fcf1b2,#fdf7bb,#fffec5,#fafdce,#f5fad8,#eff8e2,#ecf6e7,#eaf5eb,#e9f5ed,#e5f3f5,#d8ecf3,#c6e2ed,#afd3e5,#95bdd7,#79a3c9,#5e84b8,#4b69aa,#40539e,#394497,#353d93,#353d93,#343b92,#323690,#323690,#323690,#323690,#323690,#323690,#323690,#323690,#323690,#323690,#323690,#323690,#384296,#4258a1,#4d6eac,#5c82b7,#6c93c0,#79a3c9,#83adcf,#87b1d1,#89b2d1,#89b2d1,#89b2d1,#89b2d1,#89b2d1,#89b2d1)"></i>
<i style="background:linear-gradient(90deg,#fae7a3,#fae7a3,#fae7a3,#fae7a3,#fae7a3,#fae7a3,#fae7a3,#fbe9a6,#fbedab,#fcf1b2,#fdf7bb,#fffec5,#fafdce,#f5fad8,#eff8e2,#ecf6e7,#eaf5eb,#e9f5ed,#e5f3f5,#d8ecf3,#c6e2ed,#afd3e5,#95bdd7,#79a3c9,#5e84b8,#4b69aa,#40539e,#394497,#353d93,#353d93,#343b92,#323690,#323690,#323690,#323690,#323690,#323690,#323690,#323690,#323690,#323690,#323690,#323690,#384296,#4258a1,#4d6eac,#5c82b7,#6c93c0,#79a3c9,#83adcf,#87b1d1,#89b2d1,#89b2d1,#89b2d1,#89b2d1,#89b2d1,#89b2d1)"></i>
<i style="background:linear-gradient(90deg,#fae7a3,#fae7a3,#fae7a3,#fae7a3,#fae7a3,#fae7a3,#fae7a3,#fbe9a6,#fbedab,#fcf1b2,#fdf7bb,#fffec5,#fafdce,#f5fad8,#eff8e2,#ecf6e7,#eaf5eb,#e9f5ed,#e5f3f5,#d8ecf3,#c6e2ed,#afd3e5,#95bdd7,#79a3c9,#5e84b8,#4b69aa,#40539e,#394497,#353d93,#353d93,#343b92,#323690,#323690,#323690,#323690,#323690,#323690,#323690,#323690,#323690,#323690,#323690,#323690,#384296,#4258a1,#4d6eac,#5c82b7,#6c93c0,#79a3c9,#83adcf,#87b1d1,#89b2d1,#89b2d1,#89b2d1,#89b2d1,#89b2d1,#89b2d1)"></i>
<i style="background:linear-gradient(90deg,#fae7a3,#fae7a3,#fae7a3,#fae7a3,#fae7a3,#fae7a3,#fae7a3,#fbe9a6,#fbedab,#fcf1b2,#fdf7bb,#fffec5,#fafdce,#f5fad8,#eff8e2,#ecf6e7,#eaf5eb,#e9f5ed,#e5f3f5,#d8ecf3,#c6e2ed,#afd3e5,#95bdd7,#79a3c9,#5e84b8,#4b69aa,#40539e,#394497,#353d93,#353d93,#343b92,#323690,#323690,#323690,#323690,#323690,#323690,#323690,#323690,#323690,#323690,#323690,#323690,#384296,#4258a1,#4d6eac,#5c82b7,#6c93c0,#79a3c9,#83adcf,#87b1d1,#89b2d1,#89b2d1,#89b2d1,#89b2d1,#89b2d1,#89b2d1)"></i>
<i style="background:linear-gradient(90deg,#fae7a3,#fae7a3,#fae7a3,#fae7a3,#fae7a3,#fae7a3,#fae7a3,#fbe9a6,#fbedab,#fcf1b2,#fdf7bb,#fffec5,#fafdce,#f5fad8,#eff8e2,#ecf6e7,#eaf5eb,#e9f5ed,#e5f3f5,#d8ecf3,#c6e2ed,#afd3e5,#95bdd7,#79a3c9,#5e84b8,#4b69aa,#40539e,#394497,#353d93,#353d93,#343b92,#323690,#323690,#323690,#323690,#323690,#323690,#323690,#323690,#323690,#323690,#323690,#323690,#384296,#4258a1,#4d6eac,#5c82b7,#6c93c0,#79a3c9,#83adcf,#87b1d1,#89b2d1,#89b2d1,#89b2d1,#89b2d1,#89b2d1,#89b2d1)"></i>
<i style="background:linear-gradient(90deg,#fae7a3,#fae7a3,#fae7a3,#fae7a3,#fae7a3,#fae7a3,#fae7a3,#fbe9a6,#fbedab,#fcf1b2,#fdf7bb,#fffec5,#fafdce,#f5fad8,#eff8e2,#ecf6e7,#eaf5eb,#e9f5ed,#e5f3f5,#d8ecf3,#c6e2ed,#afd3e5,#95bdd7,#79a3c9,#5e84b8,#4b69aa,#40539e,#394497,#353d93,#353d93,#343b92,#323690,#323690,#323690,#323690,#323690,#323690,#323690,#323690,#323690,#323690,#323690,#323690,#384296,#4258a1,#4d6eac,#5c82b7,#6c93c0,#79a3c9,#83adcf,#87b1d1,#89b2d1,#89b2d1,#89b2d1,#89b2d1,#89b2d1,#89b2d1)"></i>
<i style="background:linear-gradient(90deg,#fae7a3,#fae7a3,#fae7a3,#fae7a3,#fae7a3,#fae7a3,#fae7a3,#fbe9a6,#fbedab,#fcf1b2,#fdf7bb,#fffec5,#fafdce,#f5fad8,#eff8e2,#ecf6e7,#eaf5eb,#e9f5ed,#e5f3f5,#d8ecf3,#c6e2ed,#afd3e5,#95bdd7,#79a3c9,#5e84b8,#4b69aa,#40539e,#394497,#353d93,#353d93,#343b92,#323690,#323690,#323690,#323690,#323690,#323690,#323690,#323690,#323690,#323690,#323690,#323690,#384296,#4258a1,#4d6eac,#5c82b7,#6c93c0,#79a3c9,#83adcf,#87b1d1,#89b2d1,#89b2d1,#89b2d1,#89b2d1,#89b2d1,#89b2d1)"></i>
<i style="background:linear-gradient(90deg,#fae7a3,#fae7a3,#fae7a3,#fae7a3,#fae7a3,#fae7a3,#fae7a3,#fbe9a6,#fbedab,#fcf1b2,#fdf7bb,#fffec5,#fafdce,#f5fad8,#eff8e2,#ecf6e7,#eaf5eb,#e9f5ed,#e5f3f5,#d8ecf3,#c6e2ed,#afd3e5,#95bdd7,#79a3c9,#5e84b8,#4b69aa,#40539e,#394497,#353d93,#353d93,#343b92,#323690,#323690,#323690,#323690,#323690,#323690,#323690,#323690,#323690,#323690,#323690,#323690,#384296,#4258a1,#4d6eac,#5c82b7,#6c93c0,#79a3c9,#83adcf,#87b1d1,#89b2d1,#89b2d1,#89b2d1,#89b2d1,#89b2d1,#89b2d1)"></i>
<i style="background:linear-gradient(90deg,#fae7a3,#fae7a3,#fae7a3,#fae7a3,#fae7a3,#fae7a3,#fae7a3,#fbe9a6,#fbedab,#fcf1b2,#fdf7bb,#fffec5,#fafdce,#f5fad8,#eff8e2,#ecf6e7,#eaf5eb,#e9f5ed,#e5f3f5,#d8ecf3,#c6e2ed,#afd3e5,#95bdd7,#79a3c9,#5e84b8,#4b69aa,#40539e,#394497,#353d93,#353d93,#343b92,#323690,#323690,#323690,#323690,#323690,#323690,#323690,#323690,#323690,#323690,#323690,#323690,#384296,#4258a1,#4d6eac,#5c82b7,#6c93c0,#79a3c9,#83adcf,#87b1d1,#89b2d1,#89b2d1,#89b2d1,#89b2d1,#89b2d1,#89b2d1)"></i>
<i style="background:linear-gradient(90deg,#fae7a3,#fae7a3,#fae7a3,#fae7a3,#fae7a3,#fae7a3,#fae7a3,#fbe9a6,#fbedab,#fcf1b2,#fdf7bb,#fffec5,#fafdce,#f5fad8,#eff8e2,#ecf6e7,#eaf5eb,#e9f5ed,#e5f3f5,#d8ecf3,#c6e2ed,#afd3e5,#95bdd7,#79a3c9,#5e84b8,#4b69aa,#40539e,#394497,#353d93,#353d93,#343b92,#323690,#323690,#323690,#323690,#323690,#323690,#323690,#323690,#323690,#323690,#323690,#323690,#384296,#4258a1,#4d6eac,#5c82b7,#6c93c0,#79a3c9,#83adcf,#87b1d1,#89b2d1,#89b2d1,#89b2d1,#89b2d1,#89b2d1,#89b2d1)"></i>
<i style="background:linear-gradient(90deg,#fae7a3,#fae7a3,#fae7a3,#fae7a3,#fae7a3,#fae7a3,#fae7a3,#fbe9a6,#fbedab,#fcf1b2,#fdf7bb,#fffec5,#fafdce,#f5fad8,#eff8e2,#ecf6e7,#eaf5eb,#e9f5ed,#e5f3f5,#d8ecf3,#c6e2ed,#afd3e5,#95bdd7,#79a3c9,#5e84b8,#4b69aa,#40539e,#394497,#353d93,#353d93,#343b92,#323690,#323690,#323690,#323690,#323690,#323690,#323690,#323690,#323690,#323690,#323690,#323690,#384296,#4258a1,#4d6eac,#5c82b7,#6c93c0,#79a3c9,#83adcf,#87b1d1,#89b2d1,#89b2d1,#89b2d1,#89b2d1,#89b2d1,#89b2d1)"></i>
<i style="background:linear-gradient(90deg,#fae7a3,#fae7a3,#fae7a3,#fae7a3,#fae7a3,#fae7a3,#fae7a3,#fbe9a6,#fbedab,#fcf1b2,#fdf7bb,#fffec5,#fafdce,#f5fad8,#eff8e2,#ecf6e7,#eaf5eb,#e9f5ed,#e5f3f5,#d8ecf3,#c6e2ed,#afd3e5,#95bdd7,#79a3c9,#5e84b8,#4b69aa,#40539e,#394497,#353d93,#353d93,#343b92,#323690,#323690,#323690,#323690,#323690,#323690,#323690,#323690,#323690,#323690,#323690,#323690,#384296,#4258a1,#4d6eac,#5c82b7,#6c93c0,#79a3c9,#83adcf,#87b1d1,#89b2d1,#89b2d1,#89b2d1,#89b2d1,#89b2d1,#89b2d1)"></i>
<i style="background:linear-gradient(90deg,#fae7a3,#fae7a3,#fae7a3,#fae7a3,#fae7a3,#fae7a3,#fae7a3,#fbe9a6,#fbedab,#fcf1b2,#fdf7bb,#fffec5,#fafdce,#f5fad8,#eff8e2,#ecf6e7,#eaf5eb,#e9f5ed,#e5f3f5,#d8ecf3,#c6e2ed,#afd3e5,#95bdd7,#79a3c9,#5e84b8,#4b69aa,#40539e,#394497,#353d93,#353d93,#343b92,#323690,#323690,#323690,#323690,#323690,#323690,#323690,#323690,#323690,#323690,#323690,#323690,#384296,#4258a1,#4d6eac,#5c82b7,#6c93c0,#79a3c9,#83adcf,#87b1d1,#89b2d1,#89b2d1,#89b2d1,#89b2d1,#89b2d1,#89b2d1)"></i>
<i style="background:linear-gradient(90deg,#fae7a3,#fae7a3,#fae7a3,#fae7a3,#fae7a3,#fae7a3,#fae7a3,#fbe9a6,#fbedab,#fcf1b2,#fdf7bb,#fffec5,#fafdce,#f5fad8,#eff8e2,#ecf6e7,#eaf5eb,#e9f5ed,#e5f3f5,#d8ecf3,#c6e2ed,#afd3e5,#95bdd7,#79a3c9,#5e84b8,#4b69aa,#40539e,#394497,#353d93,#353d93,#343b92,#323690,#323690,#323690,#323690,#323690,#323690,#323690,#323690,#323690,#323690,#323690,#323690,#384296,#4258a1,#4d6eac,#5c82b7,#6c93c0,#79a3c9,#83adcf,#87b1d1,#89b2d1,#89b2d1,#89b2d1,#89b2d1,#89b2d1,#89b2d1)"></i>
<i style="background:linear-gradient(90deg,#fae7a3,#fae7a3,#fae7a3,#fae7a3,#fae7a3,#fae7a3,#fae7a3,#fbe9a6,#fbedab,#fcf1b2,#fdf7bb,#fffec5,#fafdce,#f5fad8,#eff8e2,#ecf6e7,#eaf5eb,#e9f5ed,#e5f3f5,#d8ecf3,#c6e2ed,#afd3e5,#95bdd7,#79a3c9,#5e84b8,#4b69aa,#40539e,#394497,#353d93,#353d93,#343b92,#323690,#323690,#323690,#323690,#323690,#323690,#323690,#323690,#323690,#323690,#323690,#323690,#384296,#4258a1,#4d6eac,#5c82b7,#6c93c0,#79a3c9,#83adcf,#87b1d1,#89b2d1,#89b2d1,#89b2d1,#89b2d1,#89b2d1,#89b2d1)"></i>
<i style="background:linear-gradient(90deg,#fae7a3,#fae7a3,#fae7a3,#fae7a3,#fae7a3,#fae7a3,#fae8a5,#fbe9a6,#fbedab,#fcf3b4,#fdf7bb,#fffec5,#fafdce,#f5fad8,#eff8e2,#ecf6e7,#eaf5eb,#e9f5ed,#e6f3f3,#d8ecf3,#c6e2ed,#afd3e5,#95bdd7,#79a3c9,#5e84b8,#4c6bab,#40539e,#394497,#364094,#353d93,#343b92,#323690,#323690,#323690,#323690,#323690,#323690,#323690,#323690,#323690,#323690,#323690,#323690,#384296,#4258a1,#4d6eac,#5c82b7,#6c93c0,#79a3c9,#83adcf,#89b2d1,#89b2d1,#89b2d1,#89b2d1,#89b2d1,#89b2d1,#89b2d1)"></i>
<i style="background:linear-gradient(90deg,#fae8a5,#fae8a5,#fae8a5,#fae8a5,#fae8a5,#fae8a5,#fae8a5,#fbe9a6,#fceead,#fcf3b4,#fef9bc,#fffec5,#fafdce,#f5fad8,#eff8e2,#ecf6e7,#eaf5eb,#e9f5ed,#e6f3f3,#d8ecf3,#c6e2ed,#afd3e5,#95bdd7,#79a3c9,#5e84b8,#4c6bab,#40539e,#394497,#364094,#353d93,#343b92,#333891,#323690,#323690,#323690,#323690,#323690,#323690,#323690,#323690,#323690,#323690,#323690,#384296,#4258a1,#4d6eac,#5c82b7,#6c93c0,#79a3c9,#83adcf,#89b2d1,#89b2d1,#89b2d1,#89b2d1,#89b2d1,#89b2d1,#89b2d1)"></i>
<i style="background:linear-gradient(90deg,#fae8a5,#fae8a5,#fae8a5,#fae8a5,#fae8a5,#fae8a5,#fae8a5,#fbeaa8,#fceead,#fcf3b4,#fef9bc,#fffec5,#fafdce,#f5fad8,#eff8e2,#ecf6e7,#eaf5eb,#e9f5ed,#e6f3f3,#d8ecf3,#c6e2ed,#afd3e5,#95bdd7,#79a3c9,#6086b9,#4c6bab,#40539e,#394497,#364094,#353d93,#343b92,#333891,#323690,#323690,#323690,#323690,#323690,#323690,#323690,#323690,#323690,#323690,#323690,#384296,#4258a1,#4d6eac,#5c82b7,#6c93c0,#79a3c9,#83adcf,#89b2d1,#89b2d1,#89b2d1,#89b2d1,#89b2d1,#89b2d1,#89b2d1)"></i>
<i style="background:linear-gradient(90deg,#fae8a5,#fae8a5,#fae8a5,#fae8a5,#fae8a5,#fae8a5,#fae8a5,#fbeaa8,#fceead,#fcf3b4,#fef9bc,#fffec5,#fafdce,#f5fad8,#eff8e2,#ecf6e7,#eaf5eb,#e9f5ed,#e6f3f3,#d8ecf3,#c6e2ed,#afd3e5,#95bdd7,#79a3c9,#6086b9,#4c6bab,#40539e,#394497,#364094,#353d93,#343b92,#333891,#323690,#323690,#323690,#323690,#323690,#323690,#323690,#323690,#323690,#323690,#323690,#384296,#4258a1,#4d6eac,#5c82b7,#6c93c0,#79a3c9,#83adcf,#89b2d1,#89b2d1,#89b2d1,#89b2d1,#89b2d1,#89b2d1,#89b2d1)"></i>
<i style="background:linear-gradient(90deg,#fbe9a6,#fbe9a6,#fbe9a6,#fbe9a6,#fbe9a6,#fbe9a6,#fbe9a6,#fbeaa8,#fceead,#fdf4b6,#fef9bc,#fffec5,#fafdce,#f5fad8,#eff8e2,#ecf6e7,#eaf5eb,#e9f5ed,#e6f3f3,#daedf4,#c6e2ed,#afd3e5,#95bdd7,#79a3c9,#6086b9,#4c6bab,#40539e,#394497,#364094,#353d93,#343b92,#333891,#323690,#323690,#323690,#323690,#323690,#323690,#323690,#323690,#323690,#323690,#323690,#394497,#4258a1,#4d6eac,#5c82b7,#6c93c0,#7ba5ca,#85afd0,#89b2d1,#89b2d1,#89b2d1,#89b2d1,#89b2d1,#89b2d1,#89b2d1)"></i>
<i style="background:linear-gradient(90deg,#fbe9a6,#fbe9a6,#fbe9a6,#fbe9a6,#fbe9a6,#fbe9a6,#fbe9a6,#fbecaa,#fcefaf,#fdf4b6,#fef9bc,#fffec5,#fafdce,#f5fad8,#eff8e2,#ecf6e7,#eaf5eb,#e9f5ed,#e6f3f3,#daedf4,#c6e2ed,#afd3e5,#95bdd7,#79a3c9,#6086b9,#4c6bab,#40539e,#394497,#364094,#364094,#343b92,#333891,#323690,#323690,#323690,#323690,#323690,#323690,#323690,#323690,#323690,#323690,#323690,#394497,#4258a1,#4d6eac,#5c82b7,#6e96c2,#7ba5ca,#85afd0,#89b2d1,#8bb4d2,#8bb4d2,#8bb4d2,#8bb4d2,#8bb4d2,#8bb4d2)"></i>
<i style="background:linear-gradient(90deg,#fbeaa8,#fbeaa8,#fbeaa8,#fbeaa8,#fbeaa8,#fbeaa8,#fbeaa8,#fbecaa,#fcefaf,#fdf4b6,#fefabe,#feffc7,#f9fcd0,#f5fad8,#eff8e2,#ecf6e7,#eaf5eb,#eaf5eb,#e6f3f3,#daedf4,#c8e3ee,#afd3e5,#95bdd7,#79a3c9,#6086b9,#4c6bab,#4155a0,#394497,#364094,#364094,#353d93,#333891,#323690,#323690,#323690,#323690,#323690,#323690,#323690,#323690,#323690,#323690,#323690,#394497,#4258a1,#4d6eac,#5c82b7,#6e96c2,#7ba5ca,#85afd0,#8bb4d2,#8bb4d2,#8bb4d2,#8bb4d2,#8bb4d2,#8bb4d2,#8bb4d2)"></i>
<i style="background:linear-gradient(90deg,#fbeaa8,#fbeaa8,#fbeaa8,#fbeaa8,#fbeaa8,#fbeaa8,#fbeaa8,#fbedab,#fcf0b0,#fdf5b7,#fefabe,#feffc7,#f9fcd0,#f5fad8,#eff8e2,#ecf6e7,#eaf5eb,#eaf5eb,#e6f3f3,#daedf4,#c8e3ee,#afd3e5,#95bdd7,#79a3c9,#6086b9,#4c6bab,#4155a0,#394497,#364094,#364094,#353d93,#333891,#323690,#323690,#323690,#323690,#323690,#323690,#323690,#323690,#323690,#323690,#323690,#394497,#4258a1,#4e70ad,#5e84b8,#6e96c2,#7ba5ca,#85afd0,#8bb4d2,#8bb4d2,#8bb4d2,#8bb4d2,#8bb4d2,#8bb4d2,#8bb4d2)"></i>
<i style="background:linear-gradient(90deg,#fbecaa,#fbecaa,#fbecaa,#fbecaa,#fbecaa,#fbecaa,#fbecaa,#fbedab,#fcf0b0,#fdf5b7,#fefabe,#feffc7,#f9fcd0,#f5fad8,#f0f8e0,#ecf6e7,#eaf5eb,#eaf5eb,#e6f3f3,#daedf4,#c8e3ee,#afd3e5,#95bdd7,#7ba5ca,#6086b9,#4c6bab,#4155a0,#3a4798,#364094,#364094,#353d93,#333891,#323690,#323690,#323690,#323690,#323690,#323690,#323690,#323690,#323690,#323690,#323690,#394497,#4258a1,#4e70ad,#5e84b8,#6e96c2,#7ba5ca,#87b1d1,#8bb4d2,#8bb4d2,#8bb4d2,#8bb4d2,#8bb4d2,#8bb4d2,#8bb4d2)"></i>
<i style="background:linear-gradient(90deg,#fbecaa,#fbecaa,#fbecaa,#fbecaa,#fbecaa,#fbecaa,#fbedab,#fceead,#fcf1b2,#fdf5b7,#fefbc0,#feffc7,#f9fcd0,#f4fada,#f0f8e0,#ecf6e7,#ebf6e9,#eaf5eb,#e7f4f1,#daedf4,#c8e3ee,#b1d5e6,#97bfd8,#7ba5ca,#6086b9,#4d6eac,#4155a0,#3a4798,#384296,#364094,#353d93,#333891,#323690,#323690,#323690,#323690,#323690,#323690,#323690,#323690,#323690,#323690,#323690,#394497,#4258a1,#4e70ad,#5e84b8,#6e96c2,#7da7cb,#87b1d1,#8db6d3,#8db6d3,#8db6d3,#8db6d3,#8db6d3,#8db6d3,#8db6d3)"></i>
<i style="background:linear-gradient(90deg,#fbedab,#fbedab,#fbedab,#fbedab,#fbedab,#fbedab,#fbedab,#fcefaf,#fcf1b2,#fdf6b9,#fefbc0,#feffc7,#f9fcd0,#f4fada,#f0f8e0,#edf7e6,#ebf6e9,#eaf5eb,#e7f4f1,#daedf4,#c8e3ee,#b1d5e6,#97bfd8,#7ba5ca,#6289ba,#4d6eac,#4155a0,#3a4798,#384296,#364094,#353d93,#333891,#323690,#323690,#323690,#323690,#323690,#323690,#323690,#323690,#323690,#323690,#323690,#394497,#4258a1,#4e70ad,#5e84b8,#6f98c3,#7da7cb,#87b1d1,#8db6d3,#8db6d3,#8db6d3,#8db6d3,#8db6d3,#8db6d3,#8db6d3)"></i>
<i style="background:linear-gradient(90deg,#fceead,#fceead,#fceead,#fceead,#fceead,#fceead,#fceead,#fcefaf,#fcf3b4,#fdf6b9,#fefbc0,#fdfec9,#f9fcd0,#f4fada,#f0f8e0,#edf7e6,#ebf6e9,#eaf5eb,#e7f4f1,#dceef5,#c8e3ee,#b1d5e6,#97bfd8,#7ba5ca,#6289ba,#4d6eac,#4155a0,#3a4798,#384296,#364094,#353d93,#333891,#323690,#323690,#323690,#323690,#323690,#323690,#323690,#323690,#323690,#323690,#323690,#394497,#4258a1,#4e70ad,#5e84b8,#6f98c3,#7da7cb,#87b1d1,#8db6d3,#8db6d3,#8db6d3,#8db6d3,#8db6d3,#8db6d3,#8db6d3)"></i>
<i style="background:linear-gradient(90deg,#fceead,#fceead,#fceead,#fceead,#fceead,#fceead,#fceead,#fcf0b0,#fcf3b4,#fdf7bb,#fefcc2,#fdfec9,#f9fcd0,#f4fada,#f0f8e0,#edf7e6,#ebf6e9,#eaf5eb,#e7f4f1,#dceef5,#c8e3ee,#b1d5e6,#97bfd8,#7ba5ca,#6289ba,#4d6eac,#4155a0,#3a4798,#384296,#384296,#353d93,#343b92,#323690,#323690,#323690,#323690,#323690,#323690,#323690,#323690,#323690,#323690,#323690,#394497,#435aa2,#4e70ad,#5e84b8,#6f98c3,#7da7cb,#89b2d1,#8db6d3,#8fb8d4,#8fb8d4,#8fb8d4,#8fb8d4,#8fb8d4,#8fb8d4)"></i>
<i style="background:linear-gradient(90deg,#fcefaf,#fcefaf,#fcefaf,#fcefaf,#fcefaf,#fcefaf,#fcefaf,#fcf0b0,#fdf4b6,#fdf7bb,#fefcc2,#fdfec9,#f8fcd2,#f4fada,#f0f8e0,#edf7e6,#ebf6e9,#ebf6e9,#e7f4f1,#dceef5,#c9e4ee,#b1d5e6,#97bfd8,#7ba5ca,#6289ba,#4d6eac,#4258a1,#3a4798,#384296,#384296,#353d93,#343b92,#323690,#323690,#323690,#323690,#323690,#323690,#323690,#323690,#323690,#323690,#323690,#394497,#435aa2,#4e70ad,#6086b9,#6f98c3,#7fa9cc,#89b2d1,#8fb8d4,#8fb8d4,#8fb8d4,#8fb8d4,#8fb8d4,#8fb8d4,#8fb8d4)"></i>
<i style="background:linear-gradient(90deg,#fcefaf,#fcefaf,#fcefaf,#fcefaf,#fcefaf,#fcefaf,#fcefaf,#fcf1b2,#fdf4b6,#fdf7bb,#fefcc2,#fdfec9,#f8fcd2,#f4fada,#f0f8e0,#edf7e6,#ebf6e9,#ebf6e9,#e7f4f1,#dceef5,#c9e4ee,#b1d5e6,#97bfd8,#7ba5ca,#6289ba,#4d6eac,#4258a1,#3a4798,#384296,#384296,#364094,#343b92,#323690,#323690,#323690,#323690,#323690,#323690,#323690,#323690,#323690,#323690,#323690,#394497,#435aa2,#4e70ad,#6086b9,#719ac4,#7fa9cc,#89b2d1,#8fb8d4,#8fb8d4,#8fb8d4,#8fb8d4,#8fb8d4,#8fb8d4,#8fb8d4)"></i>
<i style="background:linear-gradient(90deg,#fcf0b0,#fcf0b0,#fcf0b0,#fcf0b0,#fcf0b0,#fcf0b0,#fcf0b0,#fcf1b2,#fdf5b7,#fef9bc,#fffdc3,#fcfecb,#f8fcd2,#f4fada,#f0f8e0,#edf7e6,#ebf6e9,#ebf6e9,#e7f4f1,#dceef5,#c9e4ee,#b1d5e6,#97bfd8,#7da7cb,#6289ba,#4d6eac,#4258a1,#3b4999,#384296,#384296,#364094,#343b92,#323690,#323690,#323690,#323690,#323690,#323690,#323690,#323690,#323690,#323690,#323690,#394497,#435aa2,#4e70ad,#6086b9,#719ac4,#7fa9cc,#8bb4d2,#8fb8d4,#8fb8d4,#8fb8d4,#8fb8d4,#8fb8d4,#8fb8d4,#8fb8d4)"></i>
<i style="background:linear-gradient(90deg,#fcf0b0,#fcf0b0,#fcf0b0,#fcf0b0,#fcf0b0,#fcf0b0,#fcf0b0,#fcf3b4,#fdf5b7,#fef9bc,#fffdc3,#fcfecb,#f8fcd2,#f4fada,#f0f8e0,#edf7e6,#ebf6e9,#ebf6e9,#e8f4ef,#dceef5,#c9e4ee,#b3d7e7,#99c0d9,#7da7cb,#6289ba,#4d6eac,#4258a1,#3b4999,#394497,#384296,#364094,#343b92,#323690,#323690,#323690,#323690,#323690,#323690,#323690,#323690,#323690,#323690,#323690,#394497,#435aa2,#5073af,#6086b9,#719ac4,#7fa9cc,#8bb4d2,#8fb8d4,#91b9d5,#91b9d5,#91b9d5,#91b9d5,#91b9d5,#91b9d5)"></i>
<i style="background:linear-gradient(90deg,#fcf1b2,#fcf1b2,#fcf1b2,#fcf1b2,#fcf1b2,#fcf1b2,#fcf1b2,#fcf3b4,#fdf5b7,#fefabe,#fffdc3,#fcfecb,#f8fcd2,#f4fada,#f0f8e0,#edf7e6,#ecf6e7,#ebf6e9,#e8f4ef,#dceef5,#c9e4ee,#b3d7e7,#99c0d9,#7da7cb,#6289ba,#4e70ad,#4258a1,#3b4999,#394497,#384296,#364094,#343b92,#323690,#323690,#323690,#323690,#323690,#323690,#323690,#323690,#323690,#323690,#323690,#394497,#435aa2,#5073af,#6086b9,#719ac4,#81abce,#8bb4d2,#91b9d5,#91b9d5,#91b9d5,#91b9d5,#91b9d5,#91b9d5,#91b9d5)"></i>
<i style="background:linear-gradient(90deg,#fcf1b2,#fcf1b2,#fcf1b2,#fcf1b2,#fcf1b2,#fcf1b2,#fcf1b2,#fcf3b4,#fdf6b9,#fefabe,#fffdc3,#fcfecb,#f8fcd2,#f4fada,#f0f8e0,#edf7e6,#ecf6e7,#ebf6e9,#e8f4ef,#dceef5,#c9e4ee,#b3d7e7,#99c0d9,#7da7cb,#648bbc,#4e70ad,#4258a1,#3b4999,#394497,#384296,#364094,#343b92,#323690,#323690,#323690,#323690,#323690,#323690,#323690,#323690,#323690,#323690,#323690,#394497,#435aa2,#5073af,#6086b9,#719ac4,#81abce,#8bb4d2,#91b9d5,#91b9d5,#91b9d5,#91b9d5,#91b9d5,#91b9d5,#91b9d5)"></i>
<i style="background:linear-gradient(90deg,#fcf1b2,#fcf1b2,#fcf1b2,#fcf1b2,#fcf1b2,#fcf1b2,#fcf3b4,#fdf4b6,#fdf6b9,#fefabe,#fffec5,#fcfecb,#f8fcd2,#f4fada,#f0f8e0,#edf7e6,#ecf6e7,#ebf6e9,#e8f4ef,#deeff5,#c9e4ee,#b3d7e7,#99c0d9,#7da7cb,#648bbc,#4e70ad,#4258a1,#3b4999,#394497,#384296,#364094,#343b92,#323690,#323690,#323690,#323690,#323690,#323690,#323690,#323690,#323690,#323690,#323690,#394497,#435aa2,#5073af,#6086b9,#719ac4,#81abce,#8bb4d2,#91b9d5,#91b9d5,#91b9d5,#91b9d5,#91b9d5,#91b9d5,#91b9d5)"></i>
<i style="background:linear-gradient(90deg,#fcf3b4,#fcf3b4,#fcf3b4,#fcf3b4,#fcf3b4,#fcf3b4,#fcf3b4,#fdf4b6,#fdf6b9,#fefabe,#fffec5,#fcfecb,#f8fcd2,#f4fada,#f0f8e0,#edf7e6,#ecf6e7,#ebf6e9,#e8f4ef,#deeff5,#c9e4ee,#b3d7e7,#99c0d9,#7da7cb,#648bbc,#4e70ad,#4258a1,#3b4999,#394497,#384296,#364094,#343b92,#323690,#323690,#323690,#323690,#323690,#323690,#323690,#323690,#323690,#323690,#323690,#394497,#435aa2,#5073af,#6086b9,#719ac4,#81abce,#8bb4d2,#91b9d5,#91b9d5,#91b9d5,#91b9d5,#91b9d5,#91b9d5,#91b9d5)"></i>
<i style="background:linear-gradient(90deg,#fcf3b4,#fcf3b4,#fcf3b4,#fcf3b4,#fcf3b4,#fcf3b4,#fcf3b4,#fdf4b6,#fdf7bb,#fefabe,#fffec5,#fbfdcc,#f8fcd2,#f4fada,#f0f8e0,#edf7e6,#ecf6e7,#ebf6e9,#e8f4ef,#deeff5,#c9e4ee,#b3d7e7,#99c0d9,#7da7cb,#648bbc,#4e70ad,#4258a1,#3b4999,#394497,#384296,#364094,#343b92,#323690,#323690,#323690,#323690,#323690,#323690,#323690,#323690,#323690,#323690,#323690,#394497,#435aa2,#5073af,#6289ba,#739cc5,#81abce,#8db6d3,#91b9d5,#93bbd6,#93bbd6,#93bbd6,#93bbd6,#93bbd6,#93bbd6)"></i>
<i style="background:linear-gradient(90deg,#fcf3b4,#fcf3b4,#fcf3b4,#fcf3b4,#fcf3b4,#fcf3b4,#fcf3b4,#fdf4b6,#fdf7bb,#fefbc0,#fffec5,#fbfdcc,#f8fcd2,#f4fada,#f0f8e0,#edf7e6,#ecf6e7,#ebf6e9,#e8f4ef,#deeff5,#c9e4ee,#b3d7e7,#99c0d9,#7da7cb,#648bbc,#4e70ad,#4258a1,#3b4999,#394497,#384296,#364094,#343b92,#323690,#323690,#323690,#323690,#323690,#323690,#323690,#323690,#323690,#323690,#323690,#394497,#435aa2,#5073af,#6289ba,#739cc5,#81abce,#8db6d3,#91b9d5,#93bbd6,#93bbd6,#93bbd6,#93bbd6,#93bbd6,#93bbd6)"></i>
<i style="background:linear-gradient(90deg,#fcf3b4,#fcf3b4,#fcf3b4,#fcf3b4,#fcf3b4,#fcf3b4,#fcf3b4,#fdf5b7,#fdf7bb,#fefbc0,#fffec5,#fbfdcc,#f8fcd2,#f4fada,#f0f8e0,#edf7e6,#ecf6e7,#ebf6e9,#e8f4ef,#deeff5,#c9e4ee,#b3d7e7,#99c0d9,#7da7cb,#648bbc,#4e70ad,#4258a1,#3b4999,#394497,#394497,#364094,#343b92,#323690,#323690,#323690,#323690,#323690,#323690,#323690,#323690,#323690,#323690,#323690,#394497,#435aa2,#5073af,#6289ba,#739cc5,#81abce,#8db6d3,#91b9d5,#93bbd6,#93bbd6,#93bbd6,#93bbd6,#93bbd6,#93bbd6)"></i>
<i style="background:linear-gradient(90deg,#fcf3b4,#fcf3b4,#fcf3b4,#fcf3b4,#fcf3b4,#fcf3b4,#fcf3b4,#fdf5b7,#fdf7bb,#fefbc0,#fffec5,#fbfdcc,#f8fcd2,#f4fada,#f0f8e0,#edf7e6,#ecf6e7,#ebf6e9,#e8f4ef,#deeff5,#c9e4ee,#b3d7e7,#99c0d9,#7da7cb,#648bbc,#4e70ad,#4258a1,#3b4999,#394497,#394497,#364094,#343b92,#323690,#323690,#323690,#323690,#323690,#323690,#323690,#323690,#323690,#323690,#323690,#394497,#435aa2,#5073af,#6289ba,#739cc5,#81abce,#8db6d3,#91b9d5,#93bbd6,#93bbd6,#93bbd6,#93bbd6,#93bbd6,#93bbd6)"></i>
<i style="background:linear-gradient(90deg,#fcf3b4,#fcf3b4,#fcf3b4,#fcf3b4,#fcf3b4,#fcf3b4,#fcf3b4,#fdf4b6,#fdf7bb,#fefbc0,#fffec5,#fbfdcc,#f8fcd2,#f4fada,#f0f8e0,#edf7e6,#ecf6e7,#ebf6e9,#e8f4ef,#deeff5,#c9e4ee,#b3d7e7,#99c0d9,#7da7cb,#648bbc,#4e70ad,#435aa2,#3b4999,#394497,#394497,#364094,#343b92,#323690,#323690,#323690,#323690,#323690,#323690,#323690,#323690,#323690,#323690,#323690,#394497,#435aa2,#5073af,#6289ba,#739cc5,#81abce,#8db6d3,#91b9d5,#93bbd6,#93bbd6,#93bbd6,#93bbd6,#93bbd6,#93bbd6)"></i>
<i style="background:linear-gradient(90deg,#fcf3b4,#fcf3b4,#fcf3b4,#fcf3b4,#fcf3b4,#fcf3b4,#fcf3b4,#fdf4b6,#fdf6b9,#fefabe,#fffec5,#fbfdcc,#f7fbd4,#f4fada,#f0f8e0,#edf7e6,#ebf6e9,#ebf6e9,#e7f4f1,#dceef5,#c9e4ee,#b3d7e7,#99c0d9,#7da7cb,#648bbc,#4e70ad,#435aa2,#3c4c9b,#3a4798,#394497,#384296,#353d93,#323690,#323690,#323690,#323690,#323690,#323690,#323690,#323690,#323690,#323690,#323690,#394497,#435aa2,#5073af,#6289ba,#739cc5,#81abce,#8db6d3,#91b9d5,#93bbd6,#93bbd6,#93bbd6,#93bbd6,#93bbd6,#93bbd6)"></i>
<i style="background:linear-gradient(90deg,#fcf1b2,#fcf1b2,#fcf1b2,#fcf1b2,#fcf1b2,#fcf1b2,#fcf1b2,#fcf3b4,#fdf6b9,#fefabe,#fffec5,#fbfdcc,#f7fbd4,#f4fada,#eff8e2,#edf7e6,#ebf6e9,#eaf5eb,#e7f4f1,#dceef5,#c9e4ee,#b3d7e7,#99c0d9,#7da7cb,#648bbc,#5073af,#435aa2,#3c4c9b,#3a4798,#394497,#384296,#353d93,#333891,#323690,#323690,#323690,#323690,#323690,#323690,#323690,#323690,#323690,#323690,#394497,#435aa2,#5073af,#6289ba,#719ac4,#81abce,#8bb4d2,#91b9d5,#91b9d5,#91b9d5,#91b9d5,#91b9d5,#91b9d5,#91b9d5)"></i>
<i style="background:linear-gradient(90deg,#fcf0b0,#fcf0b0,#fcf0b0,#fcf0b0,#fcf0b0,#fcf0b0,#fcf0b0,#fcf3b4,#fdf5b7,#fefabe,#fffdc3,#fcfecb,#f7fbd4,#f3f9dc,#eff8e2,#ecf6e7,#eaf5eb,#eaf5eb,#e6f3f3,#daedf4,#c8e3ee,#b1d5e6,#99c0d9,#7da7cb,#648bbc,#5073af,#455da3,#3d4e9c,#3b4999,#3a4798,#394497,#364094,#333891,#323690,#323690,#323690,#323690,#323690,#323690,#323690,#323690,#323690,#323690,#394497,#435aa2,#5073af,#6086b9,#719ac4,#81abce,#8bb4d2,#91b9d5,#91b9d5,#91b9d5,#91b9d5,#91b9d5,#91b9d5,#91b9d5)"></i>
<i style="background:linear-gradient(90deg,#fcf0b0,#fcf0b0,#fcf0b0,#fcf0b0,#fcf0b0,#fcf0b0,#fcf0b0,#fcf1b2,#fdf5b7,#fef9bc,#fffdc3,#fcfecb,#f7fbd4,#f3f9dc,#eef7e4,#ebf6e9,#eaf5eb,#e9f5ed,#e6f3f3,#daedf4,#c8e3ee,#b1d5e6,#99c0d9,#7da7cb,#668dbd,#5073af,#455da3,#3d4e9c,#3b4999,#3b4999,#394497,#364094,#343b92,#323690,#323690,#323690,#323690,#323690,#323690,#323690,#323690,#323690,#323690,#394497,#435aa2,#5073af,#6086b9,#719ac4,#81abce,#8bb4d2,#91b9d5,#91b9d5,#91b9d5,#91b9d5,#91b9d5,#91b9d5,#91b9d5)"></i>
<i style="background:linear-gradient(90deg,#fcefaf,#fcefaf,#fcefaf,#fcefaf,#fcefaf,#fcefaf,#fcefaf,#fcf0b0,#fdf4b6,#fef9bc,#fffdc3,#fcfecb,#f7fbd4,#f3f9dc,#eef7e4,#ebf6e9,#e9f5ed,#e8f4ef,#e5f3f5,#d8ecf3,#c6e2ed,#b1d5e6,#99c0d9,#7da7cb,#668dbd,#5175b0,#465fa5,#3f519d,#3c4c9b,#3b4999,#3a4798,#384296,#343b92,#323690,#323690,#323690,#323690,#323690,#323690,#323690,#323690,#323690,#323690,#394497,#435aa2,#5073af,#6086b9,#719ac4,#81abce,#8bb4d2,#91b9d5,#91b9d5,#91b9d5,#91b9d5,#91b9d5,#91b9d5,#91b9d5)"></i>
<i style="background:linear-gradient(90deg,#fbedab,#fbedab,#fbedab,#fbedab,#fbedab,#fbedab,#fceead,#fcefaf,#fcf3b4,#fdf7bb,#fefcc2,#fcfecb,#f7fbd4,#f1f9de,#edf7e6,#eaf5eb,#e8f4ef,#e7f4f1,#e4f2f7,#d6ebf3,#c6e2ed,#afd3e5,#97bfd8,#7fa9cc,#668dbd,#5175b0,#4762a6,#40539e,#3d4e9c,#3c4c9b,#3b4999,#384296,#353d93,#323690,#323690,#323690,#323690,#323690,#323690,#323690,#323690,#323690,#323690,#394497,#435aa2,#5073af,#6086b9,#719ac4,#7fa9cc,#8bb4d2,#8fb8d4,#91b9d5,#91b9d5,#91b9d5,#91b9d5,#91b9d5,#91b9d5)"></i>
<i style="background:linear-gradient(90deg,#fbecaa,#fbecaa,#fbecaa,#fbecaa,#fbecaa,#fbecaa,#fbedab,#fceead,#fcf1b2,#fdf6b9,#fefcc2,#fcfecb,#f7fbd4,#f1f9de,#ecf6e7,#e9f5ed,#e7f4f1,#e6f3f3,#e2f1f7,#d6ebf3,#c4e1ec,#afd3e5,#97bfd8,#7fa9cc,#688fbe,#5377b1,#4762a6,#4155a0,#3f519d,#3d4e9c,#3b4999,#394497,#353d93,#323690,#323690,#323690,#323690,#323690,#323690,#323690,#323690,#323690,#323690,#394497,#435aa2,#5073af,#6086b9,#719ac4,#7fa9cc,#89b2d1,#8fb8d4,#8fb8d4,#8fb8d4,#8fb8d4,#8fb8d4,#8fb8d4,#8fb8d4)"></i>
<i style="background:linear-gradient(90deg,#fbeaa8,#fbeaa8,#fbeaa8,#fbeaa8,#fbeaa8,#fbeaa8,#fbeaa8,#fbedab,#fcf0b0,#fdf6b9,#fefcc2,#fcfecb,#f7fbd4,#f0f8e0,#ecf6e7,#e8f4ef,#e6f3f3,#e5f3f5,#e0f0f6,#d5eaf2,#c4e1ec,#afd3e5,#97bfd8,#7fa9cc,#688fbe,#5377b1,#4864a7,#4155a0,#40539e,#3f519d,#3c4c9b,#3a4798,#364094,#333891,#323690,#323690,#323690,#323690,#323690,#323690,#323690,#323690,#323690,#394497,#435aa2,#5073af,#6086b9,#719ac4,#7fa9cc,#89b2d1,#8fb8d4,#8fb8d4,#8fb8d4,#8fb8d4,#8fb8d4,#8fb8d4,#8fb8d4)"></i>
<i style="background:linear-gradient(90deg,#fbe9a6,#fbe9a6,#fbe9a6,#fbe9a6,#fbe9a6,#fbe9a6,#fbe9a6,#fbecaa,#fcefaf,#fdf5b7,#fefbc0,#fcfecb,#f6fbd6,#f0f8e0,#ebf6e9,#e7f4f1,#e5f3f5,#e4f2f7,#deeff5,#d3e9f2,#c2e0ec,#add2e4,#97bfd8,#7fa9cc,#688fbe,#5579b2,#4966a8,#4258a1,#4155a0,#40539e,#3d4e9c,#3b4999,#384296,#343b92,#323690,#323690,#323690,#323690,#323690,#323690,#323690,#323690,#323690,#394497,#435aa2,#5073af,#6086b9,#6f98c3,#7fa9cc,#89b2d1,#8fb8d4,#8fb8d4,#8fb8d4,#8fb8d4,#8fb8d4,#8fb8d4,#8fb8d4)"></i>
<i style="background:linear-gradient(90deg,#fae8a5,#fae8a5,#fae8a5,#fae8a5,#fae8a5,#fae8a5,#fae8a5,#fbeaa8,#fceead,#fdf4b6,#fefbc0,#fcfecb,#f6fbd6,#eff8e2,#eaf5eb,#e6f3f3,#e4f2f7,#e2f1f7,#dceef5,#d1e8f1,#c0deeb,#add2e4,#97bfd8,#7fa9cc,#6a91bf,#577bb3,#4b69aa,#435aa2,#4258a1,#4155a0,#3f519d,#3c4c9b,#394497,#343b92,#323690,#323690,#323690,#323690,#323690,#323690,#323690,#323690,#323690,#394497,#435aa2,#5073af,#6086b9,#6f98c3,#7da7cb,#89b2d1,#8db6d3,#8fb8d4,#8fb8d4,#8fb8d4,#8fb8d4,#8fb8d4,#8fb8d4)"></i>
<i style="background:linear-gradient(90deg,#fae6a1,#fae6a1,#fae6a1,#fae6a1,#fae6a1,#fae6a1,#fae7a3,#fbe9a6,#fbedab,#fcf3b4,#fefabe,#fcfecb,#f6fbd6,#eff8e2,#e9f5ed,#e5f3f5,#e0f0f6,#e0f0f6,#daedf4,#cfe7f0,#beddeb,#abd0e3,#97bfd8,#7fa9cc,#6a91bf,#577bb3,#4c6bab,#455da3,#435aa2,#4258a1,#40539e,#3d4e9c,#394497,#353d93,#323690,#323690,#323690,#323690,#323690,#323690,#323690,#323690,#323690,#3a4798,#435aa2,#5073af,#6086b9,#6f98c3,#7da7cb,#87b1d1,#8db6d3,#8db6d3,#8db6d3,#8db6d3,#8db6d3,#8db6d3,#8db6d3)"></i>
<i style="background:linear-gradient(90deg,#fae59f,#fae59f,#fae59f,#fae59f,#fae59f,#fae59f,#fae59f,#fae7a3,#fbecaa,#fcf3b4,#fefabe,#fdfec9,#f6fbd6,#eef7e4,#e9f5ed,#e4f2f7,#deeff5,#deeff5,#d8ecf3,#cde6f0,#beddeb,#abd0e3,#95bdd7,#7fa9cc,#6c93c0,#597eb4,#4c6bab,#465fa5,#455da3,#435aa2,#4155a0,#3d4e9c,#3a4798,#364094,#323690,#323690,#323690,#323690,#323690,#323690,#323690,#323690,#323690,#3a4798,#435aa2,#4e70ad,#6086b9,#6f98c3,#7da7cb,#87b1d1,#8db6d3,#8db6d3,#8db6d3,#8db6d3,#8db6d3,#8db6d3,#8db6d3)"></i>
<i style="background:linear-gradient(90deg,#f9e39e,#f9e39e,#f9e39e,#f9e39e,#f9e39e,#f9e39e,#f9e39e,#fae6a1,#fbeaa8,#fcf1b2,#fef9bc,#fdfec9,#f6fbd6,#eef7e4,#e8f4ef,#e2f1f7,#dceef5,#daedf4,#d6ebf3,#cbe5ef,#bddcea,#a9cee2,#95bdd7,#7fa9cc,#6c93c0,#5b80b6,#4d6eac,#4762a6,#465fa5,#455da3,#4258a1,#3f519d,#3b4999,#364094,#333891,#323690,#323690,#323690,#323690,#323690,#323690,#323690,#323690,#3a4798,#435aa2,#4e70ad,#5e84b8,#6f98c3,#7da7cb,#87b1d1,#8bb4d2,#8db6d3,#8db6d3,#8db6d3,#8db6d3,#8db6d3,#8db6d3)"></i>
<i style="background:linear-gradient(90deg,#f9e19a,#f9e19a,#f9e19a,#f9e19a,#f9e19a,#f9e19a,#f9e29c,#fae59f,#fbe9a6,#fcf0b0,#fef9bc,#fdfec9,#f5fad8,#edf7e6,#e7f4f1,#e0f0f6,#daedf4,#d8ecf3,#d5eaf2,#c9e4ee,#bbdbe9,#a9cee2,#95bdd7,#7fa9cc,#6c93c0,#5b80b6,#4e70ad,#4864a7,#4762a6,#465fa5,#435aa2,#40539e,#3c4c9b,#384296,#333891,#323690,#323690,#323690,#323690,#323690,#323690,#323690,#323690,#3a4798,#435aa2,#4e70ad,#5e84b8,#6f98c3,#7da7cb,#87b1d1,#8bb4d2,#8bb4d2,#8bb4d2,#8bb4d2,#8bb4d2,#8bb4d2,#8bb4d2)"></i>
<i style="background:linear-gradient(90deg,#f9df99,#f9df99,#f9df99,#f9df99,#f9df99,#f9df99,#f9df99,#f9e39e,#fae8a5,#fcefaf,#fef9bc,#fdfec9,#f5fad8,#edf7e6,#e6f3f3,#deeff5,#d8ecf3,#d6ebf3,#d3e9f2,#c8e3ee,#bbdbe9,#a7cce0,#95bdd7,#81abce,#6e96c2,#5c82b7,#5073af,#4966a8,#4864a7,#4762a6,#455da3,#4155a0,#3d4e9c,#394497,#343b92,#323690,#323690,#323690,#323690,#323690,#323690,#323690,#323690,#3a4798,#435aa2,#4e70ad,#5e84b8,#6e96c2,#7ba5ca,#85afd0,#8bb4d2,#8bb4d2,#8bb4d2,#8bb4d2,#8bb4d2,#8bb4d2,#8bb4d2)"></i>
<i style="background:linear-gradient(90deg,#f8dd97,#f8dd97,#f8dd97,#f8dd97,#f8dd97,#f8dd97,#f8dd97,#f9e29c,#fae7a3,#fcefaf,#fdf7bb,#fdfec9,#f5fad8,#ecf6e7,#e5f3f5,#dceef5,#d6ebf3,#d5eaf2,#d1e8f1,#c6e2ed,#b9dae9,#a7cce0,#95bdd7,#81abce,#6e96c2,#5c82b7,#5175b0,#4b69aa,#4966a8,#4864a7,#465fa5,#4258a1,#3d4e9c,#394497,#343b92,#323690,#323690,#323690,#323690,#323690,#323690,#323690,#323690,#3a4798,#435aa2,#4e70ad,#5e84b8,#6e96c2,#7ba5ca,#85afd0,#8bb4d2,#8bb4d2,#8bb4d2,#8bb4d2,#8bb4d2,#8bb4d2,#8bb4d2)"></i>
<i style="background:linear-gradient(90deg,#f8db95,#f8db95,#f8db95,#f8db95,#f8db95,#f8db95,#f8db95,#f9e19a,#fae7a3,#fceead,#fdf7bb,#fdfec9,#f5fad8,#ecf6e7,#e5f3f5,#daedf4,#d5eaf2,#d3e9f2,#cfe7f0,#c6e2ed,#b7d9e8,#a7cce0,#93bbd6,#81abce,#6e96c2,#5e84b8,#5175b0,#4c6bab,#4966a8,#4966a8,#4762a6,#435aa2,#3f519d,#3a4798,#353d93,#323690,#323690,#323690,#323690,#323690,#323690,#323690,#323690,#3a4798,#435aa2,#4e70ad,#5e84b8,#6e96c2,#7ba5ca,#85afd0,#89b2d1,#8bb4d2,#8bb4d2,#8bb4d2,#8bb4d2,#8bb4d2,#8bb4d2)"></i>
<i style="background:linear-gradient(90deg,#f8da93,#f8da93,#f8da93,#f8da93,#f8da93,#f8da93,#f8da93,#f9df99,#fae6a1,#fceead,#fdf6b9,#fdfec9,#f5fad8,#ebf6e9,#e4f2f7,#daedf4,#d3e9f2,#d1e8f1,#cde6f0,#c4e1ec,#b7d9e8,#a5cbdf,#93bbd6,#81abce,#6f98c3,#6086b9,#5377b1,#4d6eac,#4b69aa,#4966a8,#4762a6,#435aa2,#40539e,#3a4798,#353d93,#323690,#323690,#323690,#323690,#323690,#323690,#323690,#323690,#3a4798,#435aa2,#4e70ad,#5e84b8,#6e96c2,#7ba5ca,#85afd0,#89b2d1,#89b2d1,#89b2d1,#89b2d1,#89b2d1,#89b2d1,#89b2d1)"></i>
<i style="background:linear-gradient(90deg,#f7d892,#f7d892,#f7d892,#f7d892,#f7d892,#f7d892,#f7d892,#f8dd97,#fae59f,#fbedab,#fdf6b9,#fdfec9,#f4fada,#ebf6e9,#e4f2f7,#d8ecf3,#d1e8f1,#cfe7f0,#cbe5ef,#c2e0ec,#b5d8e7,#a5cbdf,#93bbd6,#81abce,#6f98c3,#6086b9,#5579b2,#4d6eac,#4c6bab,#4b69aa,#4864a7,#455da3,#40539e,#3b4999,#364094,#323690,#323690,#323690,#323690,#323690,#323690,#323690,#323690,#3a4798,#435aa2,#4e70ad,#5e84b8,#6e96c2,#7ba5ca,#83adcf,#89b2d1,#89b2d1,#89b2d1,#89b2d1,#89b2d1,#89b2d1,#89b2d1)"></i>
<i style="background:linear-gradient(90deg,#f7d690,#f7d690,#f7d690,#f7d690,#f7d690,#f7d690,#f7d690,#f8db95,#f9e39e,#fbedab,#fdf6b9,#fdfec9,#f4fada,#ebf6e9,#e2f1f7,#d6ebf3,#d1e8f1,#cfe7f0,#c9e4ee,#c2e0ec,#b5d8e7,#a5cbdf,#93bbd6,#81abce,#6f98c3,#6086b9,#5579b2,#4e70ad,#4d6eac,#4c6bab,#4966a8,#455da3,#4155a0,#3b4999,#364094,#323690,#323690,#323690,#323690,#323690,#323690,#323690,#323690,#3a4798,#435aa2,#4e70ad,#5e84b8,#6e96c2,#79a3c9,#83adcf,#89b2d1,#89b2d1,#89b2d1,#89b2d1,#89b2d1,#89b2d1,#89b2d1)"></i>
<i style="background:linear-gradient(90deg,#f7d48e,#f7d48e,#f7d48e,#f7d48e,#f7d48e,#f7d48e,#f7d690,#f8db95,#f9e39e,#fbecaa,#fdf6b9,#feffc7,#f4fada,#eaf5eb,#e2f1f7,#d6ebf3,#cfe7f0,#cde6f0,#c9e4ee,#c0deeb,#b3d7e7,#a3c9de,#93bbd6,#81abce,#6f98c3,#6289ba,#577bb3,#4e70ad,#4d6eac,#4c6bab,#4966a8,#465fa5,#4155a0,#3c4c9b,#364094,#323690,#323690,#323690,#323690,#323690,#323690,#323690,#323690,#3a4798,#435aa2,#4e70ad,#5e84b8,#6e96c2,#79a3c9,#83adcf,#89b2d1,#89b2d1,#89b2d1,#89b2d1,#89b2d1,#89b2d1,#89b2d1)"></i>
<i style="background:linear-gradient(90deg,#f7d48e,#f7d48e,#f7d48e,#f7d48e,#f7d48e,#f7d48e,#f7d48e,#f8da93,#f9e29c,#fbecaa,#fdf5b7,#feffc7,#f4fada,#eaf5eb,#e0f0f6,#d5eaf2,#cfe7f0,#cde6f0,#c8e3ee,#c0deeb,#b3d7e7,#a3c9de,#93bbd6,#81abce,#719ac4,#6289ba,#577bb3,#5073af,#4d6eac,#4d6eac,#4966a8,#465fa5,#4155a0,#3c4c9b,#364094,#323690,#323690,#323690,#323690,#323690,#323690,#323690,#323690,#3a4798,#435aa2,#4e70ad,#5e84b8,#6e96c2,#79a3c9,#83adcf,#89b2d1,#89b2d1,#89b2d1,#89b2d1,#89b2d1,#89b2d1,#89b2d1)"></i>
<i style="background:linear-gradient(90deg,#f6d28c,#f6d28c,#f6d28c,#f6d28c,#f6d28c,#f6d28c,#f7d48e,#f8da93,#f9e29c,#fbecaa,#fdf5b7,#feffc7,#f4fada,#eaf5eb,#e0f0f6,#d5eaf2,#cde6f0,#cbe5ef,#c8e3ee,#beddeb,#b3d7e7,#a3c9de,#93bbd6,#81abce,#719ac4,#6289ba,#577bb3,#5073af,#4e70ad,#4d6eac,#4b69aa,#465fa5,#4155a0,#3c4c9b,#384296,#323690,#323690,#323690,#323690,#323690,#323690,#323690,#323690,#3a4798,#435aa2,#4e70ad,#5e84b8,#6c93c0,#79a3c9,#83adcf,#87b1d1,#89b2d1,#89b2d1,#89b2d1,#89b2d1,#89b2d1,#89b2d1)"></i>
<i style="background:linear-gradient(90deg,#f6d28c,#f6d28c,#f6d28c,#f6d28c,#f6d28c,#f6d28c,#f7d48e,#f8da93,#f9e29c,#fbecaa,#fdf5b7,#feffc7,#f4fada,#eaf5eb,#e0f0f6,#d5eaf2,#cde6f0,#cbe5ef,#c8e3ee,#beddeb,#b3d7e7,#a3c9de,#93bbd6,#81abce,#719ac4,#6289ba,#577bb3,#5073af,#4e70ad,#4d6eac,#4b69aa,#4762a6,#4258a1,#3c4c9b,#384296,#323690,#323690,#323690,#323690,#323690,#323690,#323690,#323690,#3a4798,#435aa2,#4e70ad,#5e84b8,#6c93c0,#79a3c9,#83adcf,#87b1d1,#89b2d1,#89b2d1,#89b2d1,#89b2d1,#89b2d1,#89b2d1)"></i>
<i style="background:linear-gradient(90deg,#f6d28c,#f6d28c,#f6d28c,#f6d28c,#f6d28c,#f6d28c,#f6d28c,#f7d892,#f9e29c,#fbeaa8,#fdf5b7,#feffc7,#f4fada,#eaf5eb,#e0f0f6,#d5eaf2,#cde6f0,#cbe5ef,#c8e3ee,#beddeb,#b3d7e7,#a3c9de,#93bbd6,#81abce,#719ac4,#6289ba,#577bb3,#5073af,#4e70ad,#4d6eac,#4b69aa,#4762a6,#4258a1,#3c4c9b,#384296,#323690,#323690,#323690,#323690,#323690,#323690,#323690,#323690,#3a4798,#435aa2,#4e70ad,#5e84b8,#6c93c0,#79a3c9,#83adcf,#87b1d1,#89b2d1,#89b2d1,#89b2d1,#89b2d1,#89b2d1,#89b2d1)"></i>
<i style="background:linear-gradient(90deg,#f6d08b,#f6d08b,#f6d08b,#f6d08b,#f6d08b,#f6d08b,#f6d08b,#f7d690,#f9e19a,#fbe9a6,#fdf4b6,#fffec5,#f5fad8,#ebf6e9,#e2f1f7,#d6ebf3,#cfe7f0,#cde6f0,#c9e4ee,#c0deeb,#b3d7e7,#a5cbdf,#95bdd7,#83adcf,#719ac4,#648bbc,#597eb4,#5175b0,#5073af,#4e70ad,#4c6bab,#4762a6,#4258a1,#3d4e9c,#384296,#323690,#323690,#323690,#323690,#323690,#323690,#323690,#323690,#3a4798,#435aa2,#4e70ad,#5c82b7,#6c93c0,#79a3c9,#83adcf,#87b1d1,#89b2d1,#89b2d1,#89b2d1,#89b2d1,#89b2d1,#89b2d1)"></i>
<i style="background:linear-gradient(90deg,#f5cc87,#f5cc87,#f5cc87,#f5cc87,#f5cc87,#f5cc87,#f6ce89,#f7d48e,#f8dd97,#fae8a5,#fcf3b4,#fffdc3,#f6fbd6,#ecf6e7,#e4f2f7,#d8ecf3,#d1e8f1,#cfe7f0,#cbe5ef,#c2e0ec,#b7d9e8,#a7cce0,#97bfd8,#85afd0,#759ec6,#668dbd,#5b80b6,#5377b1,#5175b0,#5073af,#4c6bab,#4864a7,#435aa2,#3d4e9c,#384296,#323690,#323690,#323690,#323690,#323690,#323690,#323690,#323690,#3a4798,#435aa2,#4e70ad,#5c82b7,#6c93c0,#79a3c9,#83adcf,#87b1d1,#89b2d1,#89b2d1,#89b2d1,#89b2d1,#89b2d1,#89b2d1)"></i>
<i style="background:linear-gradient(90deg,#f5c984,#f5c984,#f5c984,#f5c984,#f5c984,#f5c984,#f5c984,#f6ce89,#f8da93,#fae6a1,#fcf0b0,#fefbc0,#f8fcd2,#eef7e4,#e6f3f3,#daedf4,#d3e9f2,#d1e8f1,#cde6f0,#c6e2ed,#b9dae9,#a9cee2,#99c0d9,#87b1d1,#77a1c8,#6a91bf,#5e84b8,#577bb3,#5377b1,#5175b0,#4e70ad,#4966a8,#455da3,#3f519d,#394497,#333891,#323690,#323690,#323690,#323690,#323690,#323690,#323690,#3a4798,#435aa2,#4e70ad,#5c82b7,#6c93c0,#79a3c9,#83adcf,#87b1d1,#89b2d1,#89b2d1,#89b2d1,#89b2d1,#89b2d1,#89b2d1)"></i>
<i style="background:linear-gradient(90deg,#f4c37e,#f4c37e,#f4c37e,#f4c37e,#f4c37e,#f4c37e,#f4c37e,#f5c984,#f7d48e,#f9e29c,#fbedab,#fdf7bb,#fbfdcc,#f0f8e0,#e8f4ef,#deeff5,#d6ebf3,#d5eaf2,#d1e8f1,#c8e3ee,#bddcea,#add2e4,#9dc4db,#8bb4d2,#7ba5ca,#6e96c2,#6289ba,#5b80b6,#577bb3,#5579b2,#5175b0,#4c6bab,#465fa5,#40539e,#394497,#333891,#323690,#323690,#323690,#323690,#323690,#323690,#323690,#394497,#4258a1,#4d6eac,#5c82b7,#6c93c0,#79a3c9,#83adcf,#87b1d1,#89b2d1,#89b2d1,#89b2d1,#89b2d1,#89b2d1,#89b2d1)"></i>
<i style="background:linear-gradient(90deg,#f3bc77,#f3bc77,#f3bc77,#f3bc77,#f3bc77,#f3bc77,#f3bc77,#f4c37e,#f5cc87,#f8db95,#fbe9a6,#fdf4b6,#fdfec9,#f4fada,#eaf5eb,#e4f2f7,#daedf4,#d8ecf3,#d5eaf2,#cde6f0,#c0deeb,#b1d5e6,#a1c7dd,#91b9d5,#7fa9cc,#719ac4,#668dbd,#5e84b8,#5c82b7,#5b80b6,#5579b2,#4e70ad,#4762a6,#4155a0,#3a4798,#333891,#323690,#323690,#323690,#323690,#323690,#323690,#323690,#394497,#4258a1,#4d6eac,#5c82b7,#6c93c0,#79a3c9,#83adcf,#87b1d1,#89b2d1,#89b2d1,#89b2d1,#89b2d1,#89b2d1,#89b2d1)"></i>
<i style="background:linear-gradient(90deg,#f2b471,#f2b471,#f2b471,#f2b471,#f2b471,#f2b471,#f2b471,#f3ba76,#f4c580,#f7d690,#fae59f,#fcf0b0,#fefcc2,#f7fbd4,#edf7e6,#e6f3f3,#e0f0f6,#deeff5,#daedf4,#d1e8f1,#c6e2ed,#b7d9e8,#a7cce0,#95bdd7,#85afd0,#77a1c8,#6c93c0,#648bbc,#6086b9,#5e84b8,#597eb4,#5175b0,#4966a8,#4258a1,#3b4999,#343b92,#323690,#323690,#323690,#323690,#323690,#323690,#323690,#384296,#4258a1,#4d6eac,#5c82b7,#6c93c0,#79a3c9,#83adcf,#87b1d1,#89b2d1,#89b2d1,#89b2d1,#89b2d1,#89b2d1,#89b2d1)"></i>
<i style="background:linear-gradient(90deg,#efa96a,#efa96a,#efa96a,#efa96a,#efa96a,#efa96a,#efa96a,#f2b26f,#f3bd79,#f5cc87,#f9df99,#fbecaa,#fef9bc,#fafdce,#f0f8e0,#e9f5ed,#e5f3f5,#e4f2f7,#e0f0f6,#d6ebf3,#cbe5ef,#bddcea,#add2e4,#9bc2da,#8bb4d2,#7da7cb,#719ac4,#6a91bf,#668dbd,#648bbc,#5e84b8,#5579b2,#4c6bab,#455da3,#3c4c9b,#343b92,#323690,#323690,#323690,#323690,#323690,#323690,#323690,#384296,#4155a0,#4c6bab,#5b80b6,#6c93c0,#79a3c9,#83adcf,#87b1d1,#89b2d1,#89b2d1,#89b2d1,#89b2d1,#89b2d1,#89b2d1)"></i>
<i style="background:linear-gradient(90deg,#ec9d63,#ec9d63,#ec9d63,#ec9d63,#ec9d63,#ec9d63,#ed9f65,#efa768,#f2b471,#f4c580,#f7d892,#fae7a3,#fdf4b6,#fdfec9,#f4fada,#ecf6e7,#e8f4ef,#e7f4f1,#e5f3f5,#dceef5,#d1e8f1,#c2e0ec,#b3d7e7,#a1c7dd,#91b9d5,#83adcf,#77a1c8,#6f98c3,#6e96c2,#6a91bf,#648bbc,#597eb4,#4e70ad,#465fa5,#3d4e9c,#343b92,#323690,#323690,#323690,#323690,#323690,#323690,#323690,#364094,#4155a0,#4c6bab,#5b80b6,#6a91bf,#79a3c9,#83adcf,#87b1d1,#89b2d1,#89b2d1,#89b2d1,#89b2d1,#89b2d1,#89b2d1)"></i>
<i style="background:linear-gradient(90deg,#ea915d,#ea915d,#ea915d,#ea915d,#ea915d,#ea915d,#ea915d,#ec9b62,#efa96a,#f3bc77,#f6ce89,#f9e29c,#fcefaf,#fefcc2,#f8fcd2,#f0f8e0,#ebf6e9,#eaf5eb,#e8f4ef,#e2f1f7,#d6ebf3,#c8e3ee,#b9dae9,#a9cee2,#97bfd8,#89b2d1,#7da7cb,#759ec6,#739cc5,#719ac4,#6a91bf,#5e84b8,#5175b0,#4864a7,#3f519d,#353d93,#323690,#323690,#323690,#323690,#323690,#323690,#323690,#353d93,#40539e,#4b69aa,#5b80b6,#6a91bf,#77a1c8,#83adcf,#87b1d1,#89b2d1,#89b2d1,#89b2d1,#89b2d1,#89b2d1,#89b2d1)"></i>
<i style="background:linear-gradient(90deg,#e68356,#e68356,#e68356,#e68356,#e68356,#e68356,#e68356,#e98c5b,#ec9d63,#f2b26f,#f4c580,#f8da93,#fbeaa8,#fdf7bb,#fcfecb,#f4fada,#eff8e2,#edf7e6,#ebf6e9,#e7f4f1,#dceef5,#cfe7f0,#c0deeb,#afd3e5,#9fc5dc,#91b9d5,#85afd0,#7da7cb,#7ba5ca,#77a1c8,#6f98c3,#648bbc,#5579b2,#4966a8,#40539e,#353d93,#323690,#323690,#323690,#323690,#323690,#323690,#323690,#353d93,#3f519d,#4b69aa,#597eb4,#6a91bf,#77a1c8,#83adcf,#87b1d1,#89b2d1,#89b2d1,#89b2d1,#89b2d1,#89b2d1,#89b2d1)"></i>
<i style="background:linear-gradient(90deg,#e3754f,#e3754f,#e3754f,#e3754f,#e3754f,#e3754f,#e47750,#e57e54,#e98f5c,#eea467,#f3bc77,#f6d28c,#fae59f,#fcf3b4,#fffec5,#f8fcd2,#f3f9dc,#f1f9de,#eff8e2,#eaf5eb,#e4f2f7,#d5eaf2,#c6e2ed,#b7d9e8,#a7cce0,#97bfd8,#8bb4d2,#85afd0,#81abce,#7fa9cc,#759ec6,#6a91bf,#5b80b6,#4c6bab,#4155a0,#364094,#323690,#323690,#323690,#323690,#323690,#323690,#323690,#343b92,#3f519d,#4b69aa,#597eb4,#6a91bf,#77a1c8,#83adcf,#87b1d1,#89b2d1,#89b2d1,#89b2d1,#89b2d1,#89b2d1,#89b2d1)"></i>
<i style="background:linear-gradient(90deg,#dc6848,#dc6848,#dc6848,#dc6848,#dc6848,#dc6848,#dd6a49,#e2734e,#e68356,#eb9861,#f2b26f,#f5c984,#f9df99,#fceead,#fefabe,#fbfdcc,#f7fbd4,#f5fad8,#f3f9dc,#eef7e4,#e7f4f1,#dceef5,#cde6f0,#bddcea,#add2e4,#9fc5dc,#93bbd6,#8bb4d2,#89b2d1,#85afd0,#7ba5ca,#6e96c2,#5e84b8,#4e70ad,#4258a1,#364094,#323690,#323690,#323690,#323690,#323690,#323690,#323690,#333891,#3d4e9c,#4966a8,#597eb4,#6a91bf,#77a1c8,#83adcf,#87b1d1,#89b2d1,#89b2d1,#89b2d1,#89b2d1,#89b2d1,#89b2d1)"></i>
<i style="background:linear-gradient(90deg,#d65d42,#d65d42,#d65d42,#d65d42,#d65d42,#d65d42,#d65d42,#db6647,#e3754f,#e98c5b,#efa768,#f3bf7b,#f7d892,#fae8a5,#fdf5b7,#fffec5,#fafdce,#f9fcd0,#f7fbd4,#f1f9de,#ebf6e9,#e4f2f7,#d5eaf2,#c4e1ec,#b5d8e7,#a7cce0,#9bc2da,#93bbd6,#91b9d5,#8db6d3,#83adcf,#739cc5,#6289ba,#5073af,#435aa2,#384296,#323690,#323690,#323690,#323690,#323690,#323690,#323690,#323690,#3d4e9c,#4966a8,#577bb3,#688fbe,#77a1c8,#83adcf,#87b1d1,#89b2d1,#89b2d1,#89b2d1,#89b2d1,#89b2d1,#89b2d1)"></i>
<i style="background:linear-gradient(90deg,#d0513b,#d0513b,#d0513b,#d0513b,#d0513b,#d0513b,#d0513b,#d45940,#dc6848,#e57e54,#ec9b62,#f2b672,#f6ce89,#f9e39e,#fcf0b0,#fefabe,#feffc7,#fcfecb,#fafdce,#f6fbd6,#eff8e2,#e7f4f1,#daedf4,#cbe5ef,#bddcea,#add2e4,#a3c9de,#9bc2da,#99c0d9,#93bbd6,#89b2d1,#79a3c9,#668dbd,#5377b1,#455da3,#384296,#323690,#323690,#323690,#323690,#323690,#323690,#323690,#323690,#3c4c9b,#4864a7,#577bb3,#688fbe,#77a1c8,#83adcf,#87b1d1,#89b2d1,#89b2d1,#89b2d1,#89b2d1,#89b2d1,#89b2d1)"></i>
<i style="background:linear-gradient(90deg,#c94535,#c94535,#c94535,#c94535,#c94535,#c94535,#c94535,#ce4f3a,#d65d42,#e2734e,#e98f5c,#f1ae6c,#f5c782,#f8dd97,#fbecaa,#fdf6b9,#fefcc2,#fffdc3,#feffc7,#f9fcd0,#f3f9dc,#ebf6e9,#e2f1f7,#d1e8f1,#c2e0ec,#b5d8e7,#a9cee2,#a1c7dd,#9fc5dc,#9bc2da,#8fb8d4,#7fa9cc,#6c93c0,#577bb3,#465fa5,#384296,#323690,#323690,#323690,#323690,#323690,#323690,#323690,#323690,#3b4999,#4864a7,#577bb3,#688fbe,#77a1c8,#81abce,#87b1d1,#89b2d1,#89b2d1,#89b2d1,#89b2d1,#89b2d1,#89b2d1)"></i>
<i style="background:linear-gradient(90deg,#bf3a31,#bf3a31,#bf3a31,#bf3a31,#bf3a31,#bf3a31,#c13c31,#c84334,#d1533d,#dc6848,#e68356,#eea266,#f3bf7b,#f7d690,#fae7a3,#fcf1b2,#fdf7bb,#fefabe,#fefcc2,#fdfec9,#f6fbd6,#eef7e4,#e6f3f3,#d8ecf3,#c9e4ee,#bddcea,#b1d5e6,#a9cee2,#a7cce0,#a1c7dd,#97bfd8,#85afd0,#6f98c3,#597eb4,#4762a6,#394497,#323690,#323690,#323690,#323690,#323690,#323690,#323690,#323690,#3b4999,#4762a6,#5579b2,#688fbe,#77a1c8,#81abce,#87b1d1,#89b2d1,#89b2d1,#89b2d1,#89b2d1,#89b2d1,#89b2d1)"></i>
<i style="background:linear-gradient(90deg,#b6332f,#b6332f,#b6332f,#b6332f,#b6332f,#b6332f,#b6332f,#bf3a31,#cb4937,#d65d42,#e47a51,#eb9861,#f2b672,#f6ce89,#f9e39e,#fceead,#fdf4b6,#fdf6b9,#fef9bc,#fffdc3,#fafdce,#f1f9de,#eaf5eb,#deeff5,#cfe7f0,#c2e0ec,#b7d9e8,#afd3e5,#add2e4,#a9cee2,#9dc4db,#89b2d1,#739cc5,#5c82b7,#4864a7,#394497,#323690,#323690,#323690,#323690,#323690,#323690,#323690,#323690,#3a4798,#4762a6,#5579b2,#688fbe,#77a1c8,#81abce,#87b1d1,#89b2d1,#89b2d1,#89b2d1,#89b2d1,#89b2d1,#89b2d1)"></i>
<i style="background:linear-gradient(90deg,#ad2c2e,#ad2c2e,#ad2c2e,#ad2c2e,#ad2c2e,#ad2c2e,#af2d2e,#b6332f,#c53f32,#d2553e,#e06e4b,#e98f5c,#f1b06d,#f5c984,#f9df99,#fbeaa8,#fcf0b0,#fcf3b4,#fdf5b7,#fefabe,#fdfec9,#f5fad8,#ecf6e7,#e4f2f7,#d5eaf2,#c8e3ee,#bddcea,#b7d9e8,#b3d7e7,#afd3e5,#a1c7dd,#8fb8d4,#77a1c8,#5e84b8,#4966a8,#3a4798,#323690,#323690,#323690,#323690,#323690,#323690,#323690,#323690,#3a4798,#465fa5,#5579b2,#668dbd,#759ec6,#81abce,#87b1d1,#89b2d1,#89b2d1,#89b2d1,#89b2d1,#89b2d1,#89b2d1)"></i>
<i style="background:linear-gradient(90deg,#a6272d,#a6272d,#a6272d,#a6272d,#a6272d,#a6272d,#a6272d,#ad2c2e,#be3931,#cd4c39,#db6647,#e78557,#efa768,#f4c37e,#f8da93,#fae7a3,#fbedab,#fcefaf,#fcf1b2,#fdf6b9,#fffdc3,#f8fcd2,#eff8e2,#e7f4f1,#daedf4,#cde6f0,#c2e0ec,#bddcea,#b9dae9,#b5d8e7,#a7cce0,#93bbd6,#7ba5ca,#6289ba,#4b69aa,#3a4798,#323690,#323690,#323690,#323690,#323690,#323690,#323690,#323690,#394497,#465fa5,#5377b1,#668dbd,#759ec6,#81abce,#87b1d1,#89b2d1,#89b2d1,#89b2d1,#89b2d1,#89b2d1,#89b2d1)"></i>
<i style="background:linear-gradient(90deg,#9c212c,#9c212c,#9c212c,#9c212c,#9c212c,#9c212c,#9e222c,#a6272d,#b6332f,#c94535,#d85f43,#e57e54,#ed9f65,#f3bd79,#f7d48e,#f9e39e,#fbeaa8,#fbecaa,#fceead,#fdf4b6,#fefbc0,#fbfdcc,#f3f9dc,#eaf5eb,#e0f0f6,#d3e9f2,#c8e3ee,#c0deeb,#beddeb,#b9dae9,#abd0e3,#97bfd8,#7da7cb,#648bbc,#4b69aa,#3a4798,#323690,#323690,#323690,#323690,#323690,#323690,#323690,#323690,#394497,#465fa5,#5377b1,#668dbd,#759ec6,#81abce,#87b1d1,#89b2d1,#89b2d1,#89b2d1,#89b2d1,#89b2d1,#89b2d1)"></i>
<i style="background:linear-gradient(90deg,#971d2b,#971d2b,#971d2b,#971d2b,#971d2b,#971d2b,#971d2b,#a0232c,#af2d2e,#c53f32,#d45940,#e47750,#ec9b62,#f2b874,#f6ce89,#f9e19a,#fae8a5,#fbe9a6,#fbecaa,#fcf1b2,#fef9bc,#fdfec9,#f5fad8,#ecf6e7,#e4f2f7,#d6ebf3,#cbe5ef,#c4e1ec,#c2e0ec,#bddcea,#afd3e5,#9bc2da,#81abce,#668dbd,#4c6bab,#3b4999,#323690,#323690,#323690,#323690,#323690,#323690,#323690,#323690,#384296,#455da3,#5377b1,#668dbd,#759ec6,#81abce,#87b1d1,#89b2d1,#89b2d1,#89b2d1,#89b2d1,#89b2d1,#89b2d1)"></i>
<i style="background:linear-gradient(90deg,#971d2b,#971d2b,#971d2b,#971d2b,#971d2b,#971d2b,#971d2b,#9b202b,#a9292d,#bf3a31,#d1533d,#e1714c,#ea935e,#f2b471,#f5cb85,#f8dd97,#fae6a1,#fae7a3,#fbeaa8,#fcefaf,#fdf6b9,#fffec5,#f7fbd4,#eef7e4,#e6f3f3,#daedf4,#cfe7f0,#c8e3ee,#c6e2ed,#c0deeb,#b3d7e7,#9dc4db,#83adcf,#688fbe,#4d6eac,#3b4999,#323690,#323690,#323690,#323690,#323690,#323690,#323690,#323690,#384296,#455da3,#5377b1,#668dbd,#759ec6,#81abce,#87b1d1,#89b2d1,#89b2d1,#89b2d1,#89b2d1,#89b2d1,#89b2d1)"></i>
<i style="background:linear-gradient(90deg,#971d2b,#971d2b,#971d2b,#971d2b,#971d2b,#971d2b,#971d2b,#971d2b,#a6272d,#bc3730,#ce4f3a,#e06e4b,#e98f5c,#f2b26f,#f5c984,#f8db95,#f9e39e,#fae6a1,#fae8a5,#fbedab,#fdf5b7,#fffdc3,#f8fcd2,#eff8e2,#e7f4f1,#dceef5,#d3e9f2,#cbe5ef,#c9e4ee,#c4e1ec,#b5d8e7,#9fc5dc,#85afd0,#6a91bf,#4d6eac,#3b4999,#323690,#323690,#323690,#323690,#323690,#323690,#323690,#323690,#384296,#455da3,#5377b1,#668dbd,#759ec6,#81abce,#87b1d1,#89b2d1,#89b2d1,#89b2d1,#89b2d1,#89b2d1,#89b2d1)"></i>
<i style="background:linear-gradient(90deg,#971d2b,#971d2b,#971d2b,#971d2b,#971d2b,#971d2b,#971d2b,#971d2b,#a4252d,#b83430,#cd4c39,#dd6a49,#e98c5b,#f1ae6c,#f5c782,#f8da93,#f9e39e,#fae59f,#fae7a3,#fbecaa,#fdf4b6,#fefcc2,#f9fcd0,#f0f8e0,#e8f4ef,#deeff5,#d5eaf2,#cde6f0,#cbe5ef,#c6e2ed,#b7d9e8,#a1c7dd,#87b1d1,#6a91bf,#4d6eac,#3b4999,#323690,#323690,#323690,#323690,#323690,#323690,#323690,#323690,#384296,#455da3,#5377b1,#668dbd,#759ec6,#81abce,#87b1d1,#89b2d1,#89b2d1,#89b2d1,#89b2d1,#89b2d1,#89b2d1)"></i>
<i style="background:linear-gradient(90deg,#971d2b,#971d2b,#971d2b,#971d2b,#971d2b,#971d2b,#971d2b,#971d2b,#a2242c,#b83430,#cc4a38,#dd6a49,#e98c5b,#f1ae6c,#f4c580,#f7d892,#f9e29c,#fae59f,#fae7a3,#fbecaa,#fcf3b4,#fefbc0,#fafdce,#f1f9de,#e9f5ed,#e0f0f6,#d5eaf2,#cde6f0,#cbe5ef,#c6e2ed,#b9dae9,#a3c9de,#87b1d1,#6a91bf,#4e70ad,#3b4999,#323690,#323690,#323690,#323690,#323690,#323690,#323690,#323690,#384296,#455da3,#5175b0,#668dbd,#759ec6,#81abce,#87b1d1,#89b2d1,#89b2d1,#89b2d1,#89b2d1,#89b2d1,#89b2d1)"></i>
<i style="background:linear-gradient(90deg,#971d2b,#971d2b,#971d2b,#971d2b,#971d2b,#971d2b,#971d2b,#971d2b,#a2242c,#b83430,#cc4a38,#dd6a49,#e98c5b,#f1ae6c,#f4c580,#f7d892,#f9e29c,#fae59f,#fae7a3,#fbecaa,#fcf3b4,#fefbc0,#fafdce,#f1f9de,#e9f5ed,#e0f0f6,#d5eaf2,#cde6f0,#cbe5ef,#c6e2ed,#b9dae9,#a3c9de,#87b1d1,#6a91bf,#4e70ad,#3b4999,#323690,#323690,#323690,#323690,#323690,#323690,#323690,#323690,#384296,#455da3,#5175b0,#668dbd,#759ec6,#81abce,#87b1d1,#89b2d1,#89b2d1,#89b2d1,#89b2d1,#89b2d1,#89b2d1)"></i>
<i style="background:linear-gradient(90deg,#971d2b,#971d2b,#971d2b,#971d2b,#971d2b,#971d2b,#971d2b,#971d2b,#a2242c,#b83430,#cc4a38,#dd6a49,#e98c5b,#f1ae6c,#f4c580,#f7d892,#f9e29c,#fae59f,#fae7a3,#fbecaa,#fcf3b4,#fefbc0,#fafdce,#f1f9de,#e9f5ed,#e0f0f6,#d5eaf2,#cde6f0,#cbe5ef,#c6e2ed,#b9dae9,#a3c9de,#87b1d1,#6a91bf,#4e70ad,#3b4999,#323690,#323690,#323690,#323690,#323690,#323690,#323690,#323690,#384296,#455da3,#5175b0,#668dbd,#759ec6,#81abce,#87b1d1,#89b2d1,#89b2d1,#89b2d1,#89b2d1,#89b2d1,#89b2d1)"></i>
<i style="background:linear-gradient(90deg,#971d2b,#971d2b,#971d2b,#971d2b,#971d2b,#971d2b,#971d2b,#971d2b,#a2242c,#b83430,#cc4a38,#dd6a49,#e98c5b,#f1ae6c,#f4c580,#f7d892,#f9e29c,#fae59f,#fae7a3,#fbecaa,#fcf3b4,#fefbc0,#fafdce,#f1f9de,#e9f5ed,#e0f0f6,#d5eaf2,#cde6f0,#cbe5ef,#c6e2ed,#b9dae9,#a3c9de,#87b1d1,#6a91bf,#4e70ad,#3b4999,#323690,#323690,#323690,#323690,#323690,#323690,#323690,#323690,#384296,#455da3,#5175b0,#668dbd,#759ec6,#81abce,#87b1d1,#89b2d1,#89b2d1,#89b2d1,#89b2d1,#89b2d1,#89b2d1)"></i>
<i style="background:linear-gradient(90deg,#971d2b,#971d2b,#971d2b,#971d2b,#971d2b,#971d2b,#971d2b,#971d2b,#a2242c,#b83430,#cc4a38,#dd6a49,#e98c5b,#f1ae6c,#f4c580,#f7d892,#f9e29c,#fae59f,#fae7a3,#fbecaa,#fcf3b4,#fefbc0,#fafdce,#f1f9de,#e9f5ed,#e0f0f6,#d5eaf2,#cde6f0,#cbe5ef,#c6e2ed,#b9dae9,#a3c9de,#87b1d1,#6a91bf,#4e70ad,#3b4999,#323690,#323690,#323690,#323690,#323690,#323690,#323690,#323690,#384296,#455da3,#5175b0,#668dbd,#759ec6,#81abce,#87b1d1,#89b2d1,#89b2d1,#89b2d1,#89b2d1,#89b2d1,#89b2d1)"></i>
<i style="background:linear-gradient(90deg,#971d2b,#971d2b,#971d2b,#971d2b,#971d2b,#971d2b,#971d2b,#971d2b,#a2242c,#b83430,#cc4a38,#dd6a49,#e98c5b,#f1ae6c,#f4c580,#f7d892,#f9e29c,#fae59f,#fae7a3,#fbecaa,#fcf3b4,#fefbc0,#fafdce,#f1f9de,#e9f5ed,#e0f0f6,#d5eaf2,#cde6f0,#cbe5ef,#c6e2ed,#b9dae9,#a3c9de,#87b1d1,#6a91bf,#4e70ad,#3b4999,#323690,#323690,#323690,#323690,#323690,#323690,#323690,#323690,#384296,#455da3,#5175b0,#668dbd,#759ec6,#81abce,#87b1d1,#89b2d1,#89b2d1,#89b2d1,#89b2d1,#89b2d1,#89b2d1)"></i>
<i style="background:linear-gradient(90deg,#971d2b,#971d2b,#971d2b,#971d2b,#971d2b,#971d2b,#971d2b,#971d2b,#a2242c,#b83430,#cc4a38,#dd6a49,#e98c5b,#f1ae6c,#f4c580,#f7d892,#f9e29c,#fae59f,#fae7a3,#fbecaa,#fcf3b4,#fefbc0,#fafdce,#f1f9de,#e9f5ed,#e0f0f6,#d5eaf2,#cde6f0,#cbe5ef,#c6e2ed,#b9dae9,#a3c9de,#87b1d1,#6a91bf,#4e70ad,#3b4999,#323690,#323690,#323690,#323690,#323690,#323690,#323690,#323690,#384296,#455da3,#5175b0,#668dbd,#759ec6,#81abce,#87b1d1,#89b2d1,#89b2d1,#89b2d1,#89b2d1,#89b2d1,#89b2d1)"></i>
<i style="background:linear-gradient(90deg,#971d2b,#971d2b,#971d2b,#971d2b,#971d2b,#971d2b,#971d2b,#971d2b,#a2242c,#b83430,#cc4a38,#dd6a49,#e98c5b,#f1ae6c,#f4c580,#f7d892,#f9e29c,#fae59f,#fae7a3,#fbecaa,#fcf3b4,#fefbc0,#fafdce,#f1f9de,#e9f5ed,#e0f0f6,#d5eaf2,#cde6f0,#cbe5ef,#c6e2ed,#b9dae9,#a3c9de,#87b1d1,#6a91bf,#4e70ad,#3b4999,#323690,#323690,#323690,#323690,#323690,#323690,#323690,#323690,#384296,#455da3,#5175b0,#668dbd,#759ec6,#81abce,#87b1d1,#89b2d1,#89b2d1,#89b2d1,#89b2d1,#89b2d1,#89b2d1)"></i>
<i style="background:linear-gradient(90deg,#971d2b,#971d2b,#971d2b,#971d2b,#971d2b,#971d2b,#971d2b,#971d2b,#a2242c,#b83430,#cc4a38,#dd6a49,#e98c5b,#f1ae6c,#f4c580,#f7d892,#f9e29c,#fae59f,#fae7a3,#fbecaa,#fcf3b4,#fefbc0,#fafdce,#f1f9de,#e9f5ed,#e0f0f6,#d5eaf2,#cde6f0,#cbe5ef,#c6e2ed,#b9dae9,#a3c9de,#87b1d1,#6a91bf,#4e70ad,#3b4999,#323690,#323690,#323690,#323690,#323690,#323690,#323690,#323690,#384296,#455da3,#5175b0,#668dbd,#759ec6,#81abce,#87b1d1,#89b2d1,#89b2d1,#89b2d1,#89b2d1,#89b2d1,#89b2d1)"></i>
<i style="background:linear-gradient(90deg,#971d2b,#971d2b,#971d2b,#971d2b,#971d2b,#971d2b,#971d2b,#971d2b,#a2242c,#b83430,#cc4a38,#dd6a49,#e98c5b,#f1ae6c,#f4c580,#f7d892,#f9e29c,#fae59f,#fae7a3,#fbecaa,#fcf3b4,#fefbc0,#fafdce,#f1f9de,#e9f5ed,#e0f0f6,#d5eaf2,#cde6f0,#cbe5ef,#c6e2ed,#b9dae9,#a3c9de,#87b1d1,#6a91bf,#4e70ad,#3b4999,#323690,#323690,#323690,#323690,#323690,#323690,#323690,#323690,#384296,#455da3,#5175b0,#668dbd,#759ec6,#81abce,#87b1d1,#89b2d1,#89b2d1,#89b2d1,#89b2d1,#89b2d1,#89b2d1)"></i>
<i style="background:linear-gradient(90deg,#971d2b,#971d2b,#971d2b,#971d2b,#971d2b,#971d2b,#971d2b,#971d2b,#a2242c,#b83430,#cc4a38,#dd6a49,#e98c5b,#f1ae6c,#f4c580,#f7d892,#f9e29c,#fae59f,#fae7a3,#fbecaa,#fcf3b4,#fefbc0,#fafdce,#f1f9de,#e9f5ed,#e0f0f6,#d5eaf2,#cde6f0,#cbe5ef,#c6e2ed,#b9dae9,#a3c9de,#87b1d1,#6a91bf,#4e70ad,#3b4999,#323690,#323690,#323690,#323690,#323690,#323690,#323690,#323690,#384296,#455da3,#5175b0,#668dbd,#759ec6,#81abce,#87b1d1,#89b2d1,#89b2d1,#89b2d1,#89b2d1,#89b2d1,#89b2d1)"></i>
<i style="background:linear-gradient(90deg,#971d2b,#971d2b,#971d2b,#971d2b,#971d2b,#971d2b,#971d2b,#971d2b,#a2242c,#b83430,#cc4a38,#dd6a49,#e98c5b,#f1ae6c,#f4c580,#f7d892,#f9e29c,#fae59f,#fae7a3,#fbecaa,#fcf3b4,#fefbc0,#fafdce,#f1f9de,#e9f5ed,#e0f0f6,#d5eaf2,#cde6f0,#cbe5ef,#c6e2ed,#b9dae9,#a3c9de,#87b1d1,#6a91bf,#4e70ad,#3b4999,#323690,#323690,#323690,#323690,#323690,#323690,#323690,#323690,#384296,#455da3,#5175b0,#668dbd,#759ec6,#81abce,#87b1d1,#89b2d1,#89b2d1,#89b2d1,#89b2d1,#89b2d1,#89b2d1)"></i>
<i style="background:linear-gradient(90deg,#971d2b,#971d2b,#971d2b,#971d2b,#971d2b,#971d2b,#971d2b,#971d2b,#a2242c,#b83430,#cc4a38,#dd6a49,#e98c5b,#f1ae6c,#f4c580,#f7d892,#f9e29c,#fae59f,#fae7a3,#fbecaa,#fcf3b4,#fefbc0,#fafdce,#f1f9de,#e9f5ed,#e0f0f6,#d5eaf2,#cde6f0,#cbe5ef,#c6e2ed,#b9dae9,#a3c9de,#87b1d1,#6a91bf,#4e70ad,#3b4999,#323690,#323690,#323690,#323690,#323690,#323690,#323690,#323690,#384296,#455da3,#5175b0,#668dbd,#759ec6,#81abce,#87b1d1,#89b2d1,#89b2d1,#89b2d1,#89b2d1,#89b2d1,#89b2d1)"></i>
<i style="background:linear-gradient(90deg,#971d2b,#971d2b,#971d2b,#971d2b,#971d2b,#971d2b,#971d2b,#971d2b,#a2242c,#b83430,#cc4a38,#dd6a49,#e98c5b,#f1ae6c,#f4c580,#f7d892,#f9e29c,#fae59f,#fae7a3,#fbecaa,#fcf3b4,#fefbc0,#fafdce,#f1f9de,#e9f5ed,#e0f0f6,#d5eaf2,#cde6f0,#cbe5ef,#c6e2ed,#b9dae9,#a3c9de,#87b1d1,#6a91bf,#4e70ad,#3b4999,#323690,#323690,#323690,#323690,#323690,#323690,#323690,#323690,#384296,#455da3,#5175b0,#668dbd,#759ec6,#81abce,#87b1d1,#89b2d1,#89b2d1,#89b2d1,#89b2d1,#89b2d1,#89b2d1)"></i>
<i style="background:linear-gradient(90deg,#971d2b,#971d2b,#971d2b,#971d2b,#971d2b,#971d2b,#971d2b,#971d2b,#a2242c,#b83430,#cc4a38,#dd6a49,#e98c5b,#f1ae6c,#f4c580,#f7d892,#f9e29c,#fae59f,#fae7a3,#fbecaa,#fcf3b4,#fefbc0,#fafdce,#f1f9de,#e9f5ed,#e0f0f6,#d5eaf2,#cde6f0,#cbe5ef,#c6e2ed,#b9dae9,#a3c9de,#87b1d1,#6a91bf,#4e70ad,#3b4999,#323690,#323690,#323690,#323690,#323690,#323690,#323690,#323690,#384296,#455da3,#5175b0,#668dbd,#759ec6,#81abce,#87b1d1,#89b2d1,#89b2d1,#89b2d1,#89b2d1,#89b2d1,#89b2d1)"></i>
<i style="background:linear-gradient(90deg,#971d2b,#971d2b,#971d2b,#971d2b,#971d2b,#971d2b,#971d2b,#971d2b,#a2242c,#b83430,#cc4a38,#dd6a49,#e98c5b,#f1ae6c,#f4c580,#f7d892,#f9e29c,#fae59f,#fae7a3,#fbecaa,#fcf3b4,#fefbc0,#fafdce,#f1f9de,#e9f5ed,#e0f0f6,#d5eaf2,#cde6f0,#cbe5ef,#c6e2ed,#b9dae9,#a3c9de,#87b1d1,#6a91bf,#4e70ad,#3b4999,#323690,#323690,#323690,#323690,#323690,#323690,#323690,#323690,#384296,#455da3,#5175b0,#668dbd,#759ec6,#81abce,#87b1d1,#89b2d1,#89b2d1,#89b2d1,#89b2d1,#89b2d1,#89b2d1)"></i>
</div></div>
<div class="cb" style="left:915px;top:628px;width:20px;height:416px;background:linear-gradient(180deg,#323690,#364094,#3b4999,#40539e,#455da3,#4966a8,#4e70ad,#5579b2,#5c82b7,#648bbc,#6c93c0,#739cc5,#7ba5ca,#83adcf,#8bb4d2,#93bbd6,#9bc2da,#a3c9de,#abd0e3,#b3d7e7,#bbdbe9,#c2e0ec,#c9e4ee,#d1e8f1,#d8ecf3,#e0f0f6,#e6f3f3,#eaf5eb,#eef7e4,#f3f9dc,#f7fbd4,#fbfdcc,#feffc7,#fefbc0,#fdf6b9,#fcf1b2,#fbedab,#fae8a5,#f9e39e,#f8dd97,#f7d690,#f6ce89,#f5c782,#f3bf7b,#f2b874,#f1b06d,#efa768,#ec9d63,#ea935e,#e88a5a,#e68155,#e47750,#e06e4b,#db6647,#d65d42,#d2553e,#cd4c39,#c94535,#c33e32,#bc3730,#b4312f,#ad2c2e,#a6272d,#9e222c,#971d2b)"></div>
<div class="hm" style="left:1119px;top:628px;width:447px;height:415px"><div class="hs">
<i style="background:linear-gradient(90deg,#6e96c2,#6e96c2,#6e96c2,#6e96c2,#6e96c2,#6e96c2,#6e96c2,#6e96c2,#6e96c2,#6e96c2,#6e96c2,#6f98c3,#6f98c3,#6f98c3,#719ac4,#719ac4,#719ac4,#719ac4,#759ec6,#7fa9cc,#8bb4d2,#99c0d9,#a9cee2,#bbdbe9,#c9e4ee,#d6ebf3,#e2f1f7,#e6f3f3,#e8f4ef,#e7f4f1,#e6f3f3,#e2f1f7,#dceef5,#d6ebf3,#d1e8f1,#cbe5ef,#c6e2ed,#c2e0ec,#beddeb,#bddcea,#beddeb,#c4e1ec,#cde6f0,#d8ecf3,#e5f3f5,#ecf6e7,#f4fada,#fbfdcc,#fffdc3,#fef9bc,#fdf6b9,#fdf6b9,#fdf6b9,#fdf6b9,#fdf6b9,#fdf6b9,#fdf6b9)"></i>
<i style="background:linear-gradient(90deg,#6e96c2,#6e96c2,#6e96c2,#6e96c2,#6e96c2,#6e96c2,#6e96c2,#6e96c2,#6e96c2,#6e96c2,#6e96c2,#6f98c3,#6f98c3,#6f98c3,#719ac4,#719ac4,#719ac4,#719ac4,#759ec6,#7fa9cc,#8bb4d2,#99c0d9,#a9cee2,#bbdbe9,#c9e4ee,#d6ebf3,#e2f1f7,#e6f3f3,#e8f4ef,#e7f4f1,#e6f3f3,#e2f1f7,#dceef5,#d6ebf3,#d1e8f1,#cbe5ef,#c6e2ed,#c2e0ec,#beddeb,#bddcea,#beddeb,#c4e1ec,#cde6f0,#d8ecf3,#e5f3f5,#ecf6e7,#f4fada,#fbfdcc,#fffdc3,#fef9bc,#fdf6b9,#fdf6b9,#fdf6b9,#fdf6b9,#fdf6b9,#fdf6b9,#fdf6b9)"></i>
<i style="background:linear-gradient(90deg,#6e96c2,#6e96c2,#6e96c2,#6e96c2,#6e96c2,#6e96c2,#6e96c2,#6e96c2,#6e96c2,#6e96c2,#6e96c2,#6f98c3,#6f98c3,#6f98c3,#719ac4,#719ac4,#719ac4,#719ac4,#759ec6,#7fa9cc,#8bb4d2,#99c0d9,#a9cee2,#bbdbe9,#c9e4ee,#d6ebf3,#e2f1f7,#e6f3f3,#e8f4ef,#e7f4f1,#e6f3f3,#e2f1f7,#dceef5,#d6ebf3,#d1e8f1,#cbe5ef,#c6e2ed,#c2e0ec,#beddeb,#bddcea,#beddeb,#c4e1ec,#cde6f0,#d8ecf3,#e5f3f5,#ecf6e7,#f4fada,#fbfdcc,#fffdc3,#fef9bc,#fdf6b9,#fdf6b9,#fdf6b9,#fdf6b9,#fdf6b9,#fdf6b9,#fdf6b9)"></i>
<i style="background:linear-gradient(90deg,#6e96c2,#6e96c2,#6e96c2,#6e96c2,#6e96c2,#6e96c2,#6e96c2,#6e96c2,#6e96c2,#6e96c2,#6e96c2,#6f98c3,#6f98c3,#6f98c3,#719ac4,#719ac4,#719ac4,#719ac4,#759ec6,#7fa9cc,#8bb4d2,#99c0d9,#a9cee2,#bbdbe9,#c9e4ee,#d6ebf3,#e2f1f7,#e6f3f3,#e8f4ef,#e7f4f1,#e6f3f3,#e2f1f7,#dceef5,#d6ebf3,#d1e8f1,#cbe5ef,#c6e2ed,#c2e0ec,#beddeb,#bddcea,#beddeb,#c4e1ec,#cde6f0,#d8ecf3,#e5f3f5,#ecf6e7,#f4fada,#fbfdcc,#fffdc3,#fef9bc,#fdf6b9,#fdf6b9,#fdf6b9,#fdf6b9,#fdf6b9,#fdf6b9,#fdf6b9)"></i>
<i style="background:linear-gradient(90deg,#6e96c2,#6e96c2,#6e96c2,#6e96c2,#6e96c2,#6e96c2,#6e96c2,#6e96c2,#6e96c2,#6e96c2,#6e96c2,#6f98c3,#6f98c3,#6f98c3,#719ac4,#719ac4,#719ac4,#719ac4,#759ec6,#7fa9cc,#8bb4d2,#99c0d9,#a9cee2,#bbdbe9,#c9e4ee,#d6ebf3,#e2f1f7,#e6f3f3,#e8f4ef,#e7f4f1,#e6f3f3,#e2f1f7,#dceef5,#d6ebf3,#d1e8f1,#cbe5ef,#c6e2ed,#c2e0ec,#beddeb,#bddcea,#beddeb,#c4e1ec,#cde6f0,#d8ecf3,#e5f3f5,#ecf6e7,#f4fada,#fbfdcc,#fffdc3,#fef9bc,#fdf6b9,#fdf6b9,#fdf6b9,#fdf6b9,#fdf6b9,#fdf6b9,#fdf6b9)"></i>
<i style="background:linear-gradient(90deg,#6e96c2,#6e96c2,#6e96c2,#6e96c2,#6e96c2,#6e96c2,#6e96c2,#6e96c2,#6e96c2,#6e96c2,#6e96c2,#6f98c3,#6f98c3,#6f98c3,#719ac4,#719ac4,#719ac4,#719ac4,#759ec6,#7fa9cc,#8bb4d2,#99c0d9,#a9cee2,#bbdbe9,#c9e4ee,#d6ebf3,#e2f1f7,#e6f3f3,#e8f4ef,#e7f4f1,#e6f3f3,#e2f1f7,#dceef5,#d6ebf3,#d1e8f1,#cbe5ef,#c6e2ed,#c2e0ec,#beddeb,#bddcea,#beddeb,#c4e1ec,#cde6f0,#d8ecf3,#e5f3f5,#ecf6e7,#f4fada,#fbfdcc,#fffdc3,#fef9bc,#fdf6b9,#fdf6b9,#fdf6b9,#fdf6b9,#fdf6b9,#fdf6b9,#fdf6b9)"></i>
<i style="background:linear-gradient(90deg,#6e96c2,#6e96c2,#6e96c2,#6e96c2,#6e96c2,#6e96c2,#6e96c2,#6e96c2,#6e96c2,#6e96c2,#6e96c2,#6f98c3,#6f98c3,#6f98c3,#719ac4,#719ac4,#719ac4,#719ac4,#759ec6,#7fa9cc,#8bb4d2,#99c0d9,#a9cee2,#bbdbe9,#c9e4ee,#d6ebf3,#e2f1f7,#e6f3f3,#e8f4ef,#e7f4f1,#e6f3f3,#e2f1f7,#dceef5,#d6ebf3,#d1e8f1,#cbe5ef,#c6e2ed,#c2e0ec,#beddeb,#bddcea,#beddeb,#c4e1ec,#cde6f0,#d8ecf3,#e5f3f5,#ecf6e7,#f4fada,#fbfdcc,#fffdc3,#fef9bc,#fdf6b9,#fdf6b9,#fdf6b9,#fdf6b9,#fdf6b9,#fdf6b9,#fdf6b9)"></i>
<i style="background:linear-gradient(90deg,#6e96c2,#6e96c2,#6e96c2,#6e96c2,#6e96c2,#6e96c2,#6e96c2,#6e96c2,#6e96c2,#6e96c2,#6e96c2,#6f98c3,#6f98c3,#6f98c3,#719ac4,#719ac4,#719ac4,#719ac4,#759ec6,#7fa9cc,#8bb4d2,#99c0d9,#a9cee2,#bbdbe9,#c9e4ee,#d6ebf3,#e2f1f7,#e6f3f3,#e8f4ef,#e7f4f1,#e6f3f3,#e2f1f7,#dceef5,#d6ebf3,#d1e8f1,#cbe5ef,#c6e2ed,#c2e0ec,#beddeb,#bddcea,#beddeb,#c4e1ec,#cde6f0,#d8ecf3,#e5f3f5,#ecf6e7,#f4fada,#fbfdcc,#fffdc3,#fef9bc,#fdf6b9,#fdf6b9,#fdf6b9,#fdf6b9,#fdf6b9,#fdf6b9,#fdf6b9)"></i>
<i style="background:linear-gradient(90deg,#6e96c2,#6e96c2,#6e96c2,#6e96c2,#6e96c2,#6e96c2,#6e96c2,#6e96c2,#6e96c2,#6e96c2,#6e96c2,#6f98c3,#6f98c3,#6f98c3,#719ac4,#719ac4,#719ac4,#719ac4,#759ec6,#7fa9cc,#8bb4d2,#99c0d9,#a9cee2,#bbdbe9,#c9e4ee,#d6ebf3,#e2f1f7,#e6f3f3,#e8f4ef,#e7f4f1,#e6f3f3,#e2f1f7,#dceef5,#d6ebf3,#d1e8f1,#cbe5ef,#c6e2ed,#c2e0ec,#beddeb,#bddcea,#beddeb,#c4e1ec,#cde6f0,#d8ecf3,#e5f3f5,#ecf6e7,#f4fada,#fbfdcc,#fffdc3,#fef9bc,#fdf6b9,#fdf6b9,#fdf6b9,#fdf6b9,#fdf6b9,#fdf6b9,#fdf6b9)"></i>
<i style="background:linear-gradient(90deg,#6e96c2,#6e96c2,#6e96c2,#6e96c2,#6e96c2,#6e96c2,#6e96c2,#6e96c2,#6e96c2,#6e96c2,#6e96c2,#6f98c3,#6f98c3,#6f98c3,#719ac4,#719ac4,#719ac4,#719ac4,#759ec6,#7fa9cc,#8bb4d2,#99c0d9,#a9cee2,#bbdbe9,#c9e4ee,#d6ebf3,#e2f1f7,#e6f3f3,#e8f4ef,#e7f4f1,#e6f3f3,#e2f1f7,#dceef5,#d6ebf3,#d1e8f1,#cbe5ef,#c6e2ed,#c2e0ec,#beddeb,#bddcea,#beddeb,#c4e1ec,#cde6f0,#d8ecf3,#e5f3f5,#ecf6e7,#f4fada,#fbfdcc,#fffdc3,#fef9bc,#fdf6b9,#fdf6b9,#fdf6b9,#fdf6b9,#fdf6b9,#fdf6b9,#fdf6b9)"></i>
<i style="background:linear-gradient(90deg,#6e96c2,#6e96c2,#6e96c2,#6e96c2,#6e96c2,#6e96c2,#6e96c2,#6e96c2,#6e96c2,#6e96c2,#6e96c2,#6f98c3,#6f98c3,#6f98c3,#719ac4,#719ac4,#719ac4,#719ac4,#759ec6,#7fa9cc,#8bb4d2,#99c0d9,#a9cee2,#bbdbe9,#c9e4ee,#d6ebf3,#e2f1f7,#e6f3f3,#e8f4ef,#e7f4f1,#e6f3f3,#e2f1f7,#dceef5,#d6ebf3,#d1e8f1,#cbe5ef,#c6e2ed,#c2e0ec,#beddeb,#bddcea,#beddeb,#c4e1ec,#cde6f0,#d8ecf3,#e5f3f5,#ecf6e7,#f4fada,#fbfdcc,#fffdc3,#fef9bc,#fdf6b9,#fdf6b9,#fdf6b9,#fdf6b9,#fdf6b9,#fdf6b9,#fdf6b9)"></i>
<i style="background:linear-gradient(90deg,#6e96c2,#6e96c2,#6e96c2,#6e96c2,#6e96c2,#6e96c2,#6e96c2,#6e96c2,#6e96c2,#6e96c2,#6e96c2,#6f98c3,#6f98c3,#6f98c3,#719ac4,#719ac4,#719ac4,#719ac4,#759ec6,#7fa9cc,#8bb4d2,#99c0d9,#a9cee2,#bbdbe9,#c9e4ee,#d6ebf3,#e2f1f7,#e6f3f3,#e8f4ef,#e7f4f1,#e6f3f3,#e2f1f7,#dceef5,#d6ebf3,#d1e8f1,#cbe5ef,#c6e2ed,#c2e0ec,#beddeb,#bddcea,#beddeb,#c4e1ec,#cde6f0,#d8ecf3,#e5f3f5,#ecf6e7,#f4fada,#fbfdcc,#fffdc3,#fef9bc,#fdf6b9,#fdf6b9,#fdf6b9,#fdf6b9,#fdf6b9,#fdf6b9,#fdf6b9)"></i>
<i style="background:linear-gradient(90deg,#6e96c2,#6e96c2,#6e96c2,#6e96c2,#6e96c2,#6e96c2,#6e96c2,#6e96c2,#6e96c2,#6e96c2,#6e96c2,#6f98c3,#6f98c3,#6f98c3,#719ac4,#719ac4,#719ac4,#719ac4,#759ec6,#7fa9cc,#8bb4d2,#99c0d9,#a9cee2,#bbdbe9,#c9e4ee,#d6ebf3,#e2f1f7,#e6f3f3,#e8f4ef,#e7f4f1,#e6f3f3,#e2f1f7,#deeff5,#d6ebf3,#d1e8f1,#cbe5ef,#c6e2ed,#c2e0ec,#beddeb,#beddeb,#beddeb,#c4e1ec,#cde6f0,#d8ecf3,#e5f3f5,#ecf6e7,#f4fada,#fbfdcc,#fffdc3,#fef9bc,#fdf6b9,#fdf6b9,#fdf6b9,#fdf6b9,#fdf6b9,#fdf6b9,#fdf6b9)"></i>
<i style="background:linear-gradient(90deg,#6e96c2,#6e96c2,#6e96c2,#6e96c2,#6e96c2,#6e96c2,#6e96c2,#6e96c2,#6e96c2,#6e96c2,#6f98c3,#6f98c3,#719ac4,#719ac4,#719ac4,#719ac4,#739cc5,#739cc5,#77a1c8,#7fa9cc,#8bb4d2,#9bc2da,#a9cee2,#bbdbe9,#c9e4ee,#d6ebf3,#e2f1f7,#e6f3f3,#e8f4ef,#e7f4f1,#e6f3f3,#e2f1f7,#deeff5,#d8ecf3,#d1e8f1,#cbe5ef,#c6e2ed,#c2e0ec,#beddeb,#beddeb,#c0deeb,#c6e2ed,#cde6f0,#d8ecf3,#e5f3f5,#ecf6e7,#f4fada,#fbfdcc,#fffdc3,#fef9bc,#fdf6b9,#fdf6b9,#fdf6b9,#fdf6b9,#fdf6b9,#fdf6b9,#fdf6b9)"></i>
<i style="background:linear-gradient(90deg,#6f98c3,#6f98c3,#6f98c3,#6f98c3,#6f98c3,#6f98c3,#6f98c3,#6f98c3,#6f98c3,#6f98c3,#719ac4,#719ac4,#719ac4,#739cc5,#739cc5,#739cc5,#739cc5,#759ec6,#79a3c9,#81abce,#8db6d3,#9bc2da,#abd0e3,#bbdbe9,#c9e4ee,#d6ebf3,#e2f1f7,#e6f3f3,#e7f4f1,#e7f4f1,#e5f3f5,#e2f1f7,#deeff5,#d8ecf3,#d3e9f2,#cde6f0,#c8e3ee,#c4e1ec,#c0deeb,#beddeb,#c0deeb,#c6e2ed,#cfe7f0,#daedf4,#e6f3f3,#edf7e6,#f5fad8,#fbfdcc,#fefcc2,#fef9bc,#fdf6b9,#fdf5b7,#fdf5b7,#fdf5b7,#fdf5b7,#fdf5b7,#fdf5b7)"></i>
<i style="background:linear-gradient(90deg,#719ac4,#719ac4,#719ac4,#719ac4,#719ac4,#719ac4,#719ac4,#719ac4,#719ac4,#719ac4,#739cc5,#739cc5,#759ec6,#759ec6,#759ec6,#77a1c8,#77a1c8,#77a1c8,#7ba5ca,#83adcf,#8fb8d4,#9dc4db,#add2e4,#bbdbe9,#c9e4ee,#d6ebf3,#e0f0f6,#e6f3f3,#e7f4f1,#e7f4f1,#e5f3f5,#e2f1f7,#deeff5,#d8ecf3,#d3e9f2,#cde6f0,#c9e4ee,#c4e1ec,#c2e0ec,#c0deeb,#c2e0ec,#c8e3ee,#d1e8f1,#dceef5,#e6f3f3,#edf7e6,#f5fad8,#fcfecb,#fefcc2,#fdf7bb,#fdf5b7,#fdf5b7,#fdf5b7,#fdf5b7,#fdf5b7,#fdf5b7,#fdf5b7)"></i>
<i style="background:linear-gradient(90deg,#739cc5,#739cc5,#739cc5,#739cc5,#739cc5,#739cc5,#739cc5,#739cc5,#759ec6,#759ec6,#759ec6,#77a1c8,#77a1c8,#79a3c9,#79a3c9,#79a3c9,#7ba5ca,#7ba5ca,#7fa9cc,#87b1d1,#91b9d5,#9fc5dc,#add2e4,#bddcea,#c9e4ee,#d6ebf3,#e0f0f6,#e6f3f3,#e7f4f1,#e6f3f3,#e5f3f5,#e2f1f7,#deeff5,#d8ecf3,#d3e9f2,#cfe7f0,#c9e4ee,#c6e2ed,#c4e1ec,#c2e0ec,#c4e1ec,#c9e4ee,#d3e9f2,#deeff5,#e7f4f1,#eef7e4,#f6fbd6,#fcfecb,#fefbc0,#fdf6b9,#fdf4b6,#fdf4b6,#fdf4b6,#fdf4b6,#fdf4b6,#fdf4b6,#fdf4b6)"></i>
<i style="background:linear-gradient(90deg,#77a1c8,#77a1c8,#77a1c8,#77a1c8,#77a1c8,#77a1c8,#77a1c8,#77a1c8,#77a1c8,#79a3c9,#79a3c9,#7ba5ca,#7ba5ca,#7da7cb,#7da7cb,#7fa9cc,#7fa9cc,#7fa9cc,#83adcf,#8bb4d2,#95bdd7,#a3c9de,#afd3e5,#beddeb,#cbe5ef,#d6ebf3,#e0f0f6,#e5f3f5,#e6f3f3,#e6f3f3,#e5f3f5,#e2f1f7,#deeff5,#daedf4,#d5eaf2,#d1e8f1,#cde6f0,#c9e4ee,#c6e2ed,#c6e2ed,#c8e3ee,#cde6f0,#d5eaf2,#e0f0f6,#e8f4ef,#eff8e2,#f7fbd4,#fdfec9,#fefbc0,#fdf6b9,#fdf4b6,#fdf4b6,#fdf4b6,#fdf4b6,#fdf4b6,#fdf4b6,#fdf4b6)"></i>
<i style="background:linear-gradient(90deg,#7ba5ca,#7ba5ca,#7ba5ca,#7ba5ca,#7ba5ca,#7ba5ca,#7ba5ca,#7ba5ca,#7ba5ca,#7da7cb,#7da7cb,#7fa9cc,#81abce,#81abce,#83adcf,#83adcf,#83adcf,#85afd0,#87b1d1,#8fb8d4,#99c0d9,#a5cbdf,#b3d7e7,#beddeb,#cbe5ef,#d6ebf3,#e0f0f6,#e5f3f5,#e6f3f3,#e5f3f5,#e4f2f7,#e2f1f7,#deeff5,#daedf4,#d6ebf3,#d3e9f2,#cfe7f0,#cbe5ef,#c9e4ee,#c9e4ee,#c9e4ee,#cfe7f0,#d8ecf3,#e2f1f7,#eaf5eb,#f0f8e0,#f8fcd2,#feffc7,#fefabe,#fdf5b7,#fcf3b4,#fcf3b4,#fcf3b4,#fcf3b4,#fcf3b4,#fcf3b4,#fcf3b4)"></i>
<i style="background:linear-gradient(90deg,#7fa9cc,#7fa9cc,#7fa9cc,#7fa9cc,#7fa9cc,#7fa9cc,#7fa9cc,#7fa9cc,#7fa9cc,#81abce,#83adcf,#83adcf,#85afd0,#87b1d1,#87b1d1,#89b2d1,#89b2d1,#89b2d1,#8db6d3,#93bbd6,#9dc4db,#a9cee2,#b5d8e7,#c0deeb,#cbe5ef,#d6ebf3,#deeff5,#e4f2f7,#e5f3f5,#e5f3f5,#e4f2f7,#e2f1f7,#deeff5,#daedf4,#d6ebf3,#d5eaf2,#d1e8f1,#cfe7f0,#cde6f0,#cbe5ef,#cde6f0,#d3e9f2,#daedf4,#e5f3f5,#ebf6e9,#f3f9dc,#f9fcd0,#fffec5,#fef9bc,#fdf4b6,#fcf1b2,#fcf1b2,#fcf1b2,#fcf1b2,#fcf1b2,#fcf1b2,#fcf1b2)"></i>
<i style="background:linear-gradient(90deg,#83adcf,#83adcf,#83adcf,#83adcf,#83adcf,#83adcf,#83adcf,#83adcf,#85afd0,#85afd0,#87b1d1,#89b2d1,#8bb4d2,#8db6d3,#8db6d3,#8fb8d4,#8fb8d4,#8fb8d4,#93bbd6,#99c0d9,#a1c7dd,#add2e4,#b7d9e8,#c2e0ec,#cde6f0,#d6ebf3,#deeff5,#e4f2f7,#e5f3f5,#e4f2f7,#e4f2f7,#e2f1f7,#deeff5,#dceef5,#d8ecf3,#d6ebf3,#d3e9f2,#d1e8f1,#d1e8f1,#cfe7f0,#d1e8f1,#d6ebf3,#deeff5,#e7f4f1,#edf7e6,#f4fada,#fbfdcc,#fffdc3,#fdf7bb,#fcf3b4,#fcf0b0,#fcf0b0,#fcf0b0,#fcf0b0,#fcf0b0,#fcf0b0,#fcf0b0)"></i>
<i style="background:linear-gradient(90deg,#87b1d1,#87b1d1,#87b1d1,#87b1d1,#87b1d1,#87b1d1,#87b1d1,#89b2d1,#89b2d1,#8bb4d2,#8db6d3,#8fb8d4,#91b9d5,#91b9d5,#93bbd6,#95bdd7,#95bdd7,#95bdd7,#99c0d9,#9dc4db,#a7cce0,#afd3e5,#bbdbe9,#c4e1ec,#cde6f0,#d6ebf3,#deeff5,#e2f1f7,#e4f2f7,#e4f2f7,#e2f1f7,#e0f0f6,#deeff5,#dceef5,#daedf4,#d8ecf3,#d6ebf3,#d5eaf2,#d3e9f2,#d3e9f2,#d5eaf2,#daedf4,#e2f1f7,#e8f4ef,#eef7e4,#f6fbd6,#fcfecb,#fefbc0,#fdf5b7,#fcf1b2,#fcefaf,#fcefaf,#fcefaf,#fcefaf,#fcefaf,#fcefaf,#fcefaf)"></i>
<i style="background:linear-gradient(90deg,#8db6d3,#8db6d3,#8db6d3,#8db6d3,#8db6d3,#8db6d3,#8db6d3,#8db6d3,#8fb8d4,#8fb8d4,#91b9d5,#93bbd6,#95bdd7,#97bfd8,#99c0d9,#9bc2da,#9bc2da,#9bc2da,#9fc5dc,#a3c9de,#abd0e3,#b3d7e7,#bddcea,#c6e2ed,#cfe7f0,#d6ebf3,#dceef5,#e2f1f7,#e2f1f7,#e2f1f7,#e2f1f7,#e0f0f6,#e0f0f6,#deeff5,#dceef5,#daedf4,#d8ecf3,#d8ecf3,#d6ebf3,#d6ebf3,#d8ecf3,#deeff5,#e5f3f5,#eaf5eb,#f0f8e0,#f7fbd4,#fdfec9,#fefabe,#fdf4b6,#fcf0b0,#fceead,#fceead,#fceead,#fceead,#fceead,#fceead,#fceead)"></i>
<i style="background:linear-gradient(90deg,#91b9d5,#91b9d5,#91b9d5,#91b9d5,#91b9d5,#91b9d5,#91b9d5,#93bbd6,#93bbd6,#95bdd7,#97bfd8,#99c0d9,#9bc2da,#9dc4db,#9fc5dc,#a1c7dd,#a1c7dd,#a3c9de,#a5cbdf,#a9cee2,#afd3e5,#b7d9e8,#beddeb,#c8e3ee,#cfe7f0,#d6ebf3,#dceef5,#e0f0f6,#e2f1f7,#e2f1f7,#e0f0f6,#e0f0f6,#e0f0f6,#deeff5,#deeff5,#dceef5,#dceef5,#dceef5,#daedf4,#daedf4,#dceef5,#e2f1f7,#e7f4f1,#ecf6e7,#f1f9de,#f9fcd0,#fffec5,#fef9bc,#fcf3b4,#fcefaf,#fbedab,#fbedab,#fbedab,#fbedab,#fbedab,#fbedab,#fbedab)"></i>
<i style="background:linear-gradient(90deg,#97bfd8,#97bfd8,#97bfd8,#97bfd8,#97bfd8,#97bfd8,#97bfd8,#97bfd8,#99c0d9,#9bc2da,#9dc4db,#9fc5dc,#a1c7dd,#a3c9de,#a5cbdf,#a7cce0,#a7cce0,#a9cee2,#abd0e3,#afd3e5,#b5d8e7,#bbdbe9,#c2e0ec,#c9e4ee,#d1e8f1,#d6ebf3,#dceef5,#e0f0f6,#e0f0f6,#e0f0f6,#e0f0f6,#e0f0f6,#e0f0f6,#e0f0f6,#e0f0f6,#deeff5,#deeff5,#deeff5,#deeff5,#deeff5,#e0f0f6,#e4f2f7,#e8f4ef,#eef7e4,#f4fada,#fafdce,#fffdc3,#fdf7bb,#fcf1b2,#fceead,#fbecaa,#fbecaa,#fbecaa,#fbecaa,#fbecaa,#fbecaa,#fbecaa)"></i>
<i style="background:linear-gradient(90deg,#9bc2da,#9bc2da,#9bc2da,#9bc2da,#9bc2da,#9bc2da,#9bc2da,#9bc2da,#9dc4db,#9fc5dc,#a1c7dd,#a3c9de,#a7cce0,#a9cee2,#abd0e3,#add2e4,#add2e4,#afd3e5,#afd3e5,#b3d7e7,#b9dae9,#beddeb,#c4e1ec,#cbe5ef,#d1e8f1,#d6ebf3,#daedf4,#deeff5,#e0f0f6,#e0f0f6,#e0f0f6,#e0f0f6,#e0f0f6,#e0f0f6,#e0f0f6,#e2f1f7,#e2f1f7,#e2f1f7,#e2f1f7,#e2f1f7,#e4f2f7,#e6f3f3,#eaf5eb,#eff8e2,#f6fbd6,#fbfdcc,#fefcc2,#fdf6b9,#fcf0b0,#fbedab,#fbeaa8,#fbeaa8,#fbeaa8,#fbeaa8,#fbeaa8,#fbeaa8,#fbeaa8)"></i>
<i style="background:linear-gradient(90deg,#9fc5dc,#9fc5dc,#9fc5dc,#9fc5dc,#9fc5dc,#9fc5dc,#9fc5dc,#9fc5dc,#a1c7dd,#a3c9de,#a7cce0,#a9cee2,#abd0e3,#afd3e5,#b1d5e6,#b3d7e7,#b3d7e7,#b3d7e7,#b5d8e7,#b9dae9,#bddcea,#c2e0ec,#c6e2ed,#cde6f0,#d1e8f1,#d6ebf3,#daedf4,#dceef5,#deeff5,#deeff5,#deeff5,#e0f0f6,#e0f0f6,#e2f1f7,#e2f1f7,#e4f2f7,#e4f2f7,#e5f3f5,#e5f3f5,#e5f3f5,#e6f3f3,#e8f4ef,#ecf6e7,#f1f9de,#f7fbd4,#fdfec9,#fefbc0,#fdf4b6,#fcefaf,#fbecaa,#fbe9a6,#fbe9a6,#fbe9a6,#fbe9a6,#fbe9a6,#fbe9a6,#fbe9a6)"></i>
<i style="background:linear-gradient(90deg,#a3c9de,#a3c9de,#a3c9de,#a3c9de,#a3c9de,#a3c9de,#a3c9de,#a3c9de,#a5cbdf,#a7cce0,#abd0e3,#add2e4,#b1d5e6,#b3d7e7,#b5d8e7,#b7d9e8,#b9dae9,#b9dae9,#bbdbe9,#bddcea,#c0deeb,#c4e1ec,#c9e4ee,#cde6f0,#d3e9f2,#d6ebf3,#daedf4,#dceef5,#dceef5,#deeff5,#deeff5,#e0f0f6,#e0f0f6,#e2f1f7,#e4f2f7,#e5f3f5,#e5f3f5,#e6f3f3,#e6f3f3,#e7f4f1,#e7f4f1,#eaf5eb,#edf7e6,#f3f9dc,#f8fcd2,#feffc7,#fefabe,#fcf3b4,#fceead,#fbeaa8,#fae8a5,#fae8a5,#fae8a5,#fae8a5,#fae8a5,#fae8a5,#fae8a5)"></i>
<i style="background:linear-gradient(90deg,#a7cce0,#a7cce0,#a7cce0,#a7cce0,#a7cce0,#a7cce0,#a7cce0,#a7cce0,#a9cee2,#abd0e3,#afd3e5,#b1d5e6,#b5d8e7,#b7d9e8,#b9dae9,#bbdbe9,#bddcea,#bddcea,#beddeb,#c0deeb,#c4e1ec,#c8e3ee,#cbe5ef,#cfe7f0,#d3e9f2,#d6ebf3,#daedf4,#dceef5,#dceef5,#dceef5,#deeff5,#deeff5,#e0f0f6,#e2f1f7,#e4f2f7,#e6f3f3,#e7f4f1,#e7f4f1,#e8f4ef,#e8f4ef,#e9f5ed,#ebf6e9,#eff8e2,#f4fada,#fafdce,#fffec5,#fef9bc,#fcf1b2,#fbedab,#fbe9a6,#fae8a5,#fae8a5,#fae8a5,#fae8a5,#fae8a5,#fae8a5,#fae8a5)"></i>
<i style="background:linear-gradient(90deg,#a9cee2,#a9cee2,#a9cee2,#a9cee2,#a9cee2,#a9cee2,#a9cee2,#abd0e3,#add2e4,#afd3e5,#b1d5e6,#b5d8e7,#b9dae9,#bbdbe9,#bddcea,#beddeb,#c0deeb,#c0deeb,#c2e0ec,#c4e1ec,#c6e2ed,#c9e4ee,#cde6f0,#d1e8f1,#d3e9f2,#d6ebf3,#d8ecf3,#daedf4,#dceef5,#dceef5,#dceef5,#deeff5,#e0f0f6,#e4f2f7,#e5f3f5,#e6f3f3,#e7f4f1,#e8f4ef,#e9f5ed,#e9f5ed,#eaf5eb,#ecf6e7,#f0f8e0,#f6fbd6,#fbfdcc,#fffdc3,#fdf7bb,#fcf1b2,#fbedab,#fbe9a6,#fae7a3,#fae7a3,#fae7a3,#fae7a3,#fae7a3,#fae7a3,#fae7a3)"></i>
<i style="background:linear-gradient(90deg,#abd0e3,#abd0e3,#abd0e3,#abd0e3,#abd0e3,#abd0e3,#abd0e3,#add2e4,#afd3e5,#b1d5e6,#b5d8e7,#b7d9e8,#bbdbe9,#bddcea,#c0deeb,#c2e0ec,#c4e1ec,#c4e1ec,#c4e1ec,#c6e2ed,#c8e3ee,#cbe5ef,#cde6f0,#d1e8f1,#d5eaf2,#d6ebf3,#d8ecf3,#daedf4,#daedf4,#daedf4,#dceef5,#deeff5,#e2f1f7,#e4f2f7,#e5f3f5,#e7f4f1,#e8f4ef,#e9f5ed,#eaf5eb,#eaf5eb,#ebf6e9,#edf7e6,#f1f9de,#f6fbd6,#fbfdcc,#fefcc2,#fdf6b9,#fcf0b0,#fbecaa,#fae8a5,#fae6a1,#fae6a1,#fae6a1,#fae6a1,#fae6a1,#fae6a1,#fae6a1)"></i>
<i style="background:linear-gradient(90deg,#add2e4,#add2e4,#add2e4,#add2e4,#add2e4,#add2e4,#add2e4,#afd3e5,#b1d5e6,#b3d7e7,#b7d9e8,#b9dae9,#bddcea,#c0deeb,#c2e0ec,#c4e1ec,#c6e2ed,#c6e2ed,#c6e2ed,#c8e3ee,#c9e4ee,#cbe5ef,#cfe7f0,#d1e8f1,#d5eaf2,#d6ebf3,#d8ecf3,#daedf4,#daedf4,#daedf4,#dceef5,#deeff5,#e2f1f7,#e4f2f7,#e6f3f3,#e7f4f1,#e9f5ed,#eaf5eb,#ebf6e9,#ebf6e9,#ecf6e7,#eef7e4,#f3f9dc,#f7fbd4,#fcfecb,#fefcc2,#fdf5b7,#fcf0b0,#fbecaa,#fae8a5,#fae6a1,#fae6a1,#fae6a1,#fae6a1,#fae6a1,#fae6a1,#fae6a1)"></i>
<i style="background:linear-gradient(90deg,#afd3e5,#afd3e5,#afd3e5,#afd3e5,#afd3e5,#afd3e5,#afd3e5,#afd3e5,#b1d5e6,#b5d8e7,#b7d9e8,#bbdbe9,#bddcea,#c0deeb,#c4e1ec,#c6e2ed,#c6e2ed,#c6e2ed,#c8e3ee,#c9e4ee,#cbe5ef,#cde6f0,#cfe7f0,#d3e9f2,#d5eaf2,#d6ebf3,#d8ecf3,#daedf4,#daedf4,#daedf4,#dceef5,#deeff5,#e2f1f7,#e4f2f7,#e6f3f3,#e8f4ef,#e9f5ed,#eaf5eb,#ebf6e9,#ecf6e7,#ecf6e7,#eef7e4,#f3f9dc,#f7fbd4,#fcfecb,#fefbc0,#fdf5b7,#fcefaf,#fbeaa8,#fae7a3,#fae6a1,#fae6a1,#fae6a1,#fae6a1,#fae6a1,#fae6a1,#fae6a1)"></i>
<i style="background:linear-gradient(90deg,#afd3e5,#afd3e5,#afd3e5,#afd3e5,#afd3e5,#afd3e5,#afd3e5,#afd3e5,#b1d5e6,#b5d8e7,#b7d9e8,#bbdbe9,#beddeb,#c0deeb,#c4e1ec,#c6e2ed,#c6e2ed,#c8e3ee,#c8e3ee,#c9e4ee,#cbe5ef,#cde6f0,#cfe7f0,#d3e9f2,#d5eaf2,#d6ebf3,#d8ecf3,#daedf4,#daedf4,#daedf4,#dceef5,#deeff5,#e2f1f7,#e4f2f7,#e6f3f3,#e8f4ef,#e9f5ed,#eaf5eb,#ebf6e9,#ecf6e7,#ecf6e7,#eff8e2,#f3f9dc,#f8fcd2,#fcfecb,#fefbc0,#fdf5b7,#fcefaf,#fbeaa8,#fae7a3,#fae6a1,#fae6a1,#fae6a1,#fae6a1,#fae6a1,#fae6a1,#fae6a1)"></i>
<i style="background:linear-gradient(90deg,#afd3e5,#afd3e5,#afd3e5,#afd3e5,#afd3e5,#afd3e5,#afd3e5,#b1d5e6,#b3d7e7,#b5d8e7,#b9dae9,#bbdbe9,#beddeb,#c2e0ec,#c4e1ec,#c6e2ed,#c8e3ee,#c8e3ee,#c8e3ee,#c9e4ee,#cbe5ef,#cde6f0,#d1e8f1,#d3e9f2,#d5eaf2,#d6ebf3,#d8ecf3,#daedf4,#daedf4,#dceef5,#dceef5,#e0f0f6,#e2f1f7,#e5f3f5,#e6f3f3,#e8f4ef,#eaf5eb,#ebf6e9,#ecf6e7,#ecf6e7,#edf7e6,#eff8e2,#f4fada,#f8fcd2,#fdfec9,#fefbc0,#fdf5b7,#fcefaf,#fbeaa8,#fae7a3,#fae6a1,#fae59f,#fae59f,#fae59f,#fae59f,#fae59f,#fae59f)"></i>
<i style="background:linear-gradient(90deg,#b1d5e6,#b1d5e6,#b1d5e6,#b1d5e6,#b1d5e6,#b1d5e6,#b1d5e6,#b3d7e7,#b5d8e7,#b7d9e8,#b9dae9,#bddcea,#c0deeb,#c2e0ec,#c6e2ed,#c8e3ee,#c9e4ee,#c9e4ee,#c9e4ee,#cbe5ef,#cde6f0,#cfe7f0,#d1e8f1,#d5eaf2,#d6ebf3,#d8ecf3,#daedf4,#dceef5,#dceef5,#dceef5,#deeff5,#e0f0f6,#e4f2f7,#e5f3f5,#e7f4f1,#e9f5ed,#eaf5eb,#ecf6e7,#edf7e6,#edf7e6,#eef7e4,#f0f8e0,#f4fada,#f9fcd0,#feffc7,#fefabe,#fdf4b6,#fceead,#fbe9a6,#fae6a1,#fae59f,#fae59f,#fae59f,#fae59f,#fae59f,#fae59f,#fae59f)"></i>
<i style="background:linear-gradient(90deg,#b3d7e7,#b3d7e7,#b3d7e7,#b3d7e7,#b3d7e7,#b3d7e7,#b3d7e7,#b3d7e7,#b5d8e7,#b9dae9,#bbdbe9,#beddeb,#c2e0ec,#c6e2ed,#c8e3ee,#c9e4ee,#cbe5ef,#cbe5ef,#cbe5ef,#cde6f0,#cfe7f0,#d1e8f1,#d3e9f2,#d6ebf3,#d8ecf3,#daedf4,#dceef5,#deeff5,#deeff5,#deeff5,#e0f0f6,#e2f1f7,#e5f3f5,#e7f4f1,#e8f4ef,#eaf5eb,#ecf6e7,#edf7e6,#eef7e4,#eef7e4,#eff8e2,#f1f9de,#f5fad8,#fafdce,#fffec5,#fef9bc,#fcf3b4,#fceead,#fbe9a6,#fae6a1,#f9e39e,#f9e39e,#f9e39e,#f9e39e,#f9e39e,#f9e39e,#f9e39e)"></i>
<i style="background:linear-gradient(90deg,#b5d8e7,#b5d8e7,#b5d8e7,#b5d8e7,#b5d8e7,#b5d8e7,#b5d8e7,#b7d9e8,#b9dae9,#bbdbe9,#beddeb,#c2e0ec,#c4e1ec,#c8e3ee,#c9e4ee,#cde6f0,#cde6f0,#cfe7f0,#cfe7f0,#d1e8f1,#d3e9f2,#d5eaf2,#d6ebf3,#d8ecf3,#daedf4,#dceef5,#deeff5,#e0f0f6,#e0f0f6,#e0f0f6,#e2f1f7,#e5f3f5,#e6f3f3,#e8f4ef,#eaf5eb,#ecf6e7,#edf7e6,#eff8e2,#eff8e2,#f0f8e0,#f0f8e0,#f4fada,#f7fbd4,#fbfdcc,#fffdc3,#fdf7bb,#fcf1b2,#fbecaa,#fae8a5,#fae59f,#f9e29c,#f9e29c,#f9e29c,#f9e29c,#f9e29c,#f9e29c,#f9e29c)"></i>
<i style="background:linear-gradient(90deg,#b9dae9,#b9dae9,#b9dae9,#b9dae9,#b9dae9,#b9dae9,#b9dae9,#b9dae9,#bbdbe9,#beddeb,#c0deeb,#c4e1ec,#c8e3ee,#cbe5ef,#cde6f0,#cfe7f0,#d1e8f1,#d1e8f1,#d3e9f2,#d3e9f2,#d5eaf2,#d6ebf3,#daedf4,#dceef5,#deeff5,#e0f0f6,#e2f1f7,#e2f1f7,#e4f2f7,#e4f2f7,#e5f3f5,#e6f3f3,#e8f4ef,#eaf5eb,#ecf6e7,#edf7e6,#eff8e2,#f0f8e0,#f1f9de,#f3f9dc,#f3f9dc,#f5fad8,#f9fcd0,#fdfec9,#fefbc0,#fdf5b7,#fcf0b0,#fbeaa8,#fae6a1,#f9e39e,#f9e19a,#f9e19a,#f9e19a,#f9e19a,#f9e19a,#f9e19a,#f9e19a)"></i>
<i style="background:linear-gradient(90deg,#bbdbe9,#bbdbe9,#bbdbe9,#bbdbe9,#bbdbe9,#bbdbe9,#bbdbe9,#bddcea,#beddeb,#c0deeb,#c4e1ec,#c8e3ee,#cbe5ef,#cfe7f0,#d1e8f1,#d3e9f2,#d5eaf2,#d5eaf2,#d6ebf3,#d6ebf3,#d8ecf3,#daedf4,#dceef5,#deeff5,#e2f1f7,#e4f2f7,#e5f3f5,#e5f3f5,#e5f3f5,#e6f3f3,#e7f4f1,#e8f4ef,#eaf5eb,#ebf6e9,#edf7e6,#eff8e2,#f1f9de,#f3f9dc,#f4fada,#f5fad8,#f5fad8,#f7fbd4,#fbfdcc,#fffec5,#fefabe,#fdf4b6,#fceead,#fbe9a6,#fae59f,#f9e19a,#f9df99,#f9df99,#f9df99,#f9df99,#f9df99,#f9df99,#f9df99)"></i>
<i style="background:linear-gradient(90deg,#beddeb,#beddeb,#beddeb,#beddeb,#beddeb,#beddeb,#beddeb,#c0deeb,#c2e0ec,#c4e1ec,#c8e3ee,#cbe5ef,#cfe7f0,#d3e9f2,#d5eaf2,#d6ebf3,#d8ecf3,#d8ecf3,#daedf4,#daedf4,#dceef5,#deeff5,#e0f0f6,#e2f1f7,#e5f3f5,#e6f3f3,#e6f3f3,#e7f4f1,#e7f4f1,#e7f4f1,#e8f4ef,#eaf5eb,#ecf6e7,#edf7e6,#eff8e2,#f1f9de,#f4fada,#f6fbd6,#f7fbd4,#f7fbd4,#f8fcd2,#fafdce,#fdfec9,#fefcc2,#fdf7bb,#fcf1b2,#fbecaa,#fae7a3,#f9e29c,#f9df99,#f8db95,#f8db95,#f8db95,#f8db95,#f8db95,#f8db95,#f8db95)"></i>
<i style="background:linear-gradient(90deg,#c2e0ec,#c2e0ec,#c2e0ec,#c2e0ec,#c2e0ec,#c2e0ec,#c2e0ec,#c4e1ec,#c6e2ed,#c8e3ee,#cbe5ef,#cfe7f0,#d3e9f2,#d6ebf3,#d8ecf3,#dceef5,#dceef5,#deeff5,#deeff5,#e0f0f6,#e0f0f6,#e2f1f7,#e4f2f7,#e6f3f3,#e7f4f1,#e8f4ef,#e8f4ef,#e9f5ed,#e9f5ed,#e9f5ed,#eaf5eb,#ecf6e7,#eef7e4,#f0f8e0,#f3f9dc,#f5fad8,#f7fbd4,#f8fcd2,#f9fcd0,#fafdce,#fafdce,#fcfecb,#fffec5,#fefabe,#fdf5b7,#fcefaf,#fbeaa8,#fae59f,#f9e19a,#f8db95,#f8da93,#f8da93,#f8da93,#f8da93,#f8da93,#f8da93,#f8da93)"></i>
<i style="background:linear-gradient(90deg,#c6e2ed,#c6e2ed,#c6e2ed,#c6e2ed,#c6e2ed,#c6e2ed,#c6e2ed,#c8e3ee,#c9e4ee,#cbe5ef,#cfe7f0,#d3e9f2,#d6ebf3,#daedf4,#deeff5,#e0f0f6,#e2f1f7,#e2f1f7,#e2f1f7,#e4f2f7,#e5f3f5,#e6f3f3,#e7f4f1,#e8f4ef,#e9f5ed,#eaf5eb,#eaf5eb,#ebf6e9,#ebf6e9,#ebf6e9,#ecf6e7,#eef7e4,#f0f8e0,#f3f9dc,#f5fad8,#f7fbd4,#f9fcd0,#fbfdcc,#fcfecb,#fcfecb,#fdfec9,#fffec5,#fefbc0,#fdf7bb,#fcf3b4,#fbedab,#fae8a5,#f9e39e,#f8dd97,#f8da93,#f7d690,#f7d690,#f7d690,#f7d690,#f7d690,#f7d690,#f7d690)"></i>
<i style="background:linear-gradient(90deg,#c9e4ee,#c9e4ee,#c9e4ee,#c9e4ee,#c9e4ee,#c9e4ee,#c9e4ee,#cbe5ef,#cde6f0,#d1e8f1,#d3e9f2,#d6ebf3,#daedf4,#deeff5,#e2f1f7,#e4f2f7,#e5f3f5,#e5f3f5,#e6f3f3,#e6f3f3,#e7f4f1,#e8f4ef,#e9f5ed,#eaf5eb,#ebf6e9,#ecf6e7,#ecf6e7,#edf7e6,#edf7e6,#edf7e6,#eff8e2,#f0f8e0,#f3f9dc,#f5fad8,#f7fbd4,#f9fcd0,#fbfdcc,#fdfec9,#feffc7,#fffec5,#fffec5,#fefcc2,#fef9bc,#fdf4b6,#fcefaf,#fbeaa8,#fae6a1,#f9e19a,#f8db95,#f7d690,#f7d48e,#f7d48e,#f7d48e,#f7d48e,#f7d48e,#f7d48e,#f7d48e)"></i>
<i style="background:linear-gradient(90deg,#cde6f0,#cde6f0,#cde6f0,#cde6f0,#cde6f0,#cde6f0,#cde6f0,#cfe7f0,#d1e8f1,#d5eaf2,#d8ecf3,#dceef5,#e0f0f6,#e4f2f7,#e5f3f5,#e7f4f1,#e8f4ef,#e8f4ef,#e8f4ef,#e9f5ed,#e9f5ed,#eaf5eb,#ebf6e9,#ecf6e7,#edf7e6,#eef7e4,#eef7e4,#eff8e2,#eff8e2,#f0f8e0,#f1f9de,#f3f9dc,#f5fad8,#f7fbd4,#fafdce,#fcfecb,#feffc7,#fffdc3,#fefcc2,#fefcc2,#fefbc0,#fef9bc,#fdf6b9,#fcf1b2,#fbedab,#fae8a5,#f9e39e,#f8dd97,#f7d892,#f6d28c,#f6d08b,#f6d08b,#f6d08b,#f6d08b,#f6d08b,#f6d08b,#f6d08b)"></i>
<i style="background:linear-gradient(90deg,#d1e8f1,#d1e8f1,#d1e8f1,#d1e8f1,#d1e8f1,#d1e8f1,#d1e8f1,#d3e9f2,#d5eaf2,#d8ecf3,#dceef5,#e0f0f6,#e4f2f7,#e6f3f3,#e8f4ef,#e9f5ed,#eaf5eb,#eaf5eb,#eaf5eb,#ebf6e9,#ecf6e7,#ecf6e7,#edf7e6,#eef7e4,#eff8e2,#f0f8e0,#f0f8e0,#f1f9de,#f1f9de,#f1f9de,#f4fada,#f5fad8,#f7fbd4,#fafdce,#fcfecb,#feffc7,#fffdc3,#fefbc0,#fefabe,#fef9bc,#fef9bc,#fdf6b9,#fcf3b4,#fcefaf,#fbeaa8,#fae6a1,#f9e19a,#f8da93,#f7d48e,#f6d08b,#f6ce89,#f6ce89,#f6ce89,#f6ce89,#f6ce89,#f6ce89,#f6ce89)"></i>
<i style="background:linear-gradient(90deg,#d5eaf2,#d5eaf2,#d5eaf2,#d5eaf2,#d5eaf2,#d5eaf2,#d5eaf2,#d6ebf3,#d8ecf3,#dceef5,#e0f0f6,#e4f2f7,#e6f3f3,#e8f4ef,#eaf5eb,#ebf6e9,#ecf6e7,#ecf6e7,#edf7e6,#edf7e6,#eef7e4,#eff8e2,#eff8e2,#f0f8e0,#f1f9de,#f3f9dc,#f3f9dc,#f4fada,#f4fada,#f4fada,#f6fbd6,#f7fbd4,#f9fcd0,#fcfecb,#feffc7,#fefcc2,#fefabe,#fef9bc,#fdf6b9,#fdf6b9,#fdf5b7,#fdf4b6,#fcf0b0,#fbedab,#fae8a5,#f9e39e,#f8dd97,#f7d892,#f6d28c,#f5cc87,#f5cb85,#f5cb85,#f5cb85,#f5cb85,#f5cb85,#f5cb85,#f5cb85)"></i>
<i style="background:linear-gradient(90deg,#d8ecf3,#d8ecf3,#d8ecf3,#d8ecf3,#d8ecf3,#d8ecf3,#d8ecf3,#daedf4,#dceef5,#e0f0f6,#e4f2f7,#e6f3f3,#e8f4ef,#eaf5eb,#ecf6e7,#edf7e6,#eef7e4,#eff8e2,#eff8e2,#eff8e2,#f0f8e0,#f1f9de,#f1f9de,#f3f9dc,#f4fada,#f5fad8,#f5fad8,#f6fbd6,#f6fbd6,#f6fbd6,#f7fbd4,#f9fcd0,#fbfdcc,#feffc7,#fffdc3,#fefabe,#fdf7bb,#fdf5b7,#fdf4b6,#fcf3b4,#fcf3b4,#fcf0b0,#fceead,#fbeaa8,#fae6a1,#f9e19a,#f8da93,#f7d48e,#f6ce89,#f5cb85,#f5c984,#f5c984,#f5c984,#f5c984,#f5c984,#f5c984,#f5c984)"></i>
<i style="background:linear-gradient(90deg,#daedf4,#daedf4,#daedf4,#daedf4,#daedf4,#daedf4,#daedf4,#dceef5,#deeff5,#e2f1f7,#e5f3f5,#e7f4f1,#eaf5eb,#ecf6e7,#eef7e4,#eff8e2,#f0f8e0,#f0f8e0,#f1f9de,#f1f9de,#f3f9dc,#f3f9dc,#f4fada,#f5fad8,#f6fbd6,#f6fbd6,#f7fbd4,#f7fbd4,#f7fbd4,#f8fcd2,#f9fcd0,#fbfdcc,#fdfec9,#fffec5,#fefbc0,#fdf7bb,#fdf5b7,#fcf3b4,#fcf1b2,#fcf0b0,#fcf0b0,#fceead,#fbecaa,#fae8a5,#f9e39e,#f9df99,#f7d892,#f6d28c,#f5cc87,#f5c984,#f5c782,#f5c782,#f5c782,#f5c782,#f5c782,#f5c782,#f5c782)"></i>
<i style="background:linear-gradient(90deg,#deeff5,#deeff5,#deeff5,#deeff5,#deeff5,#deeff5,#deeff5,#e0f0f6,#e2f1f7,#e5f3f5,#e7f4f1,#e9f5ed,#ebf6e9,#eef7e4,#eff8e2,#f1f9de,#f3f9dc,#f3f9dc,#f3f9dc,#f4fada,#f4fada,#f5fad8,#f6fbd6,#f6fbd6,#f7fbd4,#f8fcd2,#f8fcd2,#f9fcd0,#f9fcd0,#f9fcd0,#fbfdcc,#fcfecb,#fffec5,#fefcc2,#fef9bc,#fdf6b9,#fcf3b4,#fcf0b0,#fcefaf,#fcefaf,#fceead,#fbedab,#fbe9a6,#fae6a1,#f9e29c,#f8db95,#f7d690,#f6ce89,#f5cb85,#f5c782,#f4c580,#f4c37e,#f4c37e,#f4c37e,#f4c37e,#f4c37e,#f4c37e)"></i>
<i style="background:linear-gradient(90deg,#e0f0f6,#e0f0f6,#e0f0f6,#e0f0f6,#e0f0f6,#e0f0f6,#e0f0f6,#e2f1f7,#e4f2f7,#e6f3f3,#e8f4ef,#eaf5eb,#edf7e6,#eff8e2,#f1f9de,#f3f9dc,#f4fada,#f5fad8,#f5fad8,#f5fad8,#f6fbd6,#f6fbd6,#f7fbd4,#f8fcd2,#f8fcd2,#f9fcd0,#fafdce,#fafdce,#fafdce,#fbfdcc,#fcfecb,#feffc7,#fffdc3,#fefbc0,#fdf7bb,#fdf4b6,#fcf1b2,#fcefaf,#fceead,#fbedab,#fbedab,#fbeaa8,#fae8a5,#fae59f,#f9df99,#f8da93,#f6d28c,#f5cc87,#f5c984,#f4c580,#f4c37e,#f4c17d,#f4c17d,#f4c17d,#f4c17d,#f4c17d,#f4c17d)"></i>
<i style="background:linear-gradient(90deg,#e2f1f7,#e2f1f7,#e2f1f7,#e2f1f7,#e2f1f7,#e2f1f7,#e2f1f7,#e4f2f7,#e5f3f5,#e7f4f1,#e9f5ed,#ebf6e9,#eef7e4,#f0f8e0,#f3f9dc,#f4fada,#f5fad8,#f6fbd6,#f6fbd6,#f6fbd6,#f7fbd4,#f7fbd4,#f8fcd2,#f9fcd0,#f9fcd0,#fafdce,#fbfdcc,#fbfdcc,#fbfdcc,#fbfdcc,#fdfec9,#fffec5,#fefcc2,#fef9bc,#fdf6b9,#fcf3b4,#fcf0b0,#fceead,#fbecaa,#fbecaa,#fbeaa8,#fbe9a6,#fae7a3,#f9e39e,#f8dd97,#f7d892,#f6d28c,#f5cb85,#f5c782,#f4c37e,#f4c17d,#f4c17d,#f4c17d,#f4c17d,#f4c17d,#f4c17d,#f4c17d)"></i>
<i style="background:linear-gradient(90deg,#e4f2f7,#e4f2f7,#e4f2f7,#e4f2f7,#e4f2f7,#e4f2f7,#e4f2f7,#e4f2f7,#e6f3f3,#e8f4ef,#eaf5eb,#ecf6e7,#eef7e4,#f1f9de,#f4fada,#f5fad8,#f6fbd6,#f6fbd6,#f7fbd4,#f7fbd4,#f7fbd4,#f8fcd2,#f9fcd0,#f9fcd0,#fafdce,#fbfdcc,#fbfdcc,#fcfecb,#fcfecb,#fcfecb,#fdfec9,#fffec5,#fefbc0,#fef9bc,#fdf5b7,#fcf1b2,#fcefaf,#fbedab,#fbecaa,#fbeaa8,#fbeaa8,#fae8a5,#fae6a1,#f9e29c,#f8dd97,#f7d690,#f6d08b,#f5cb85,#f4c580,#f4c17d,#f3bf7b,#f3bf7b,#f3bf7b,#f3bf7b,#f3bf7b,#f3bf7b,#f3bf7b)"></i>
<i style="background:linear-gradient(90deg,#e4f2f7,#e4f2f7,#e4f2f7,#e4f2f7,#e4f2f7,#e4f2f7,#e4f2f7,#e5f3f5,#e6f3f3,#e8f4ef,#eaf5eb,#ecf6e7,#eff8e2,#f1f9de,#f4fada,#f6fbd6,#f7fbd4,#f7fbd4,#f7fbd4,#f7fbd4,#f8fcd2,#f8fcd2,#f9fcd0,#fafdce,#fafdce,#fbfdcc,#fbfdcc,#fcfecb,#fcfecb,#fcfecb,#feffc7,#fffdc3,#fefbc0,#fdf7bb,#fdf5b7,#fcf1b2,#fcefaf,#fbedab,#fbeaa8,#fbeaa8,#fbe9a6,#fae8a5,#fae59f,#f9e29c,#f8db95,#f7d690,#f6d08b,#f5cb85,#f4c580,#f4c17d,#f3bf7b,#f3bf7b,#f3bf7b,#f3bf7b,#f3bf7b,#f3bf7b,#f3bf7b)"></i>
<i style="background:linear-gradient(90deg,#e4f2f7,#e4f2f7,#e4f2f7,#e4f2f7,#e4f2f7,#e4f2f7,#e4f2f7,#e5f3f5,#e6f3f3,#e8f4ef,#eaf5eb,#edf7e6,#eff8e2,#f1f9de,#f4fada,#f6fbd6,#f7fbd4,#f7fbd4,#f7fbd4,#f7fbd4,#f8fcd2,#f9fcd0,#f9fcd0,#fafdce,#fafdce,#fbfdcc,#fcfecb,#fcfecb,#fcfecb,#fcfecb,#feffc7,#fffdc3,#fefbc0,#fdf7bb,#fdf5b7,#fcf1b2,#fceead,#fbecaa,#fbeaa8,#fbeaa8,#fbe9a6,#fae8a5,#fae59f,#f9e19a,#f8db95,#f7d690,#f6d08b,#f5cb85,#f4c580,#f4c17d,#f3bf7b,#f3bf7b,#f3bf7b,#f3bf7b,#f3bf7b,#f3bf7b,#f3bf7b)"></i>
<i style="background:linear-gradient(90deg,#e5f3f5,#e5f3f5,#e5f3f5,#e5f3f5,#e5f3f5,#e5f3f5,#e6f3f3,#e6f3f3,#e7f4f1,#e9f5ed,#ebf6e9,#edf7e6,#f0f8e0,#f3f9dc,#f4fada,#f6fbd6,#f7fbd4,#f7fbd4,#f7fbd4,#f8fcd2,#f8fcd2,#f9fcd0,#f9fcd0,#fafdce,#fbfdcc,#fbfdcc,#fcfecb,#fcfecb,#fcfecb,#fdfec9,#feffc7,#fffdc3,#fefbc0,#fdf7bb,#fdf4b6,#fcf1b2,#fceead,#fbecaa,#fbeaa8,#fbe9a6,#fbe9a6,#fae7a3,#fae59f,#f9e19a,#f8db95,#f7d690,#f6ce89,#f5c984,#f4c580,#f4c17d,#f3bf7b,#f3bf7b,#f3bf7b,#f3bf7b,#f3bf7b,#f3bf7b,#f3bf7b)"></i>
<i style="background:linear-gradient(90deg,#e8f4ef,#e8f4ef,#e8f4ef,#e8f4ef,#e8f4ef,#e8f4ef,#e8f4ef,#e8f4ef,#e9f5ed,#ebf6e9,#edf7e6,#eff8e2,#f0f8e0,#f3f9dc,#f5fad8,#f6fbd6,#f7fbd4,#f7fbd4,#f7fbd4,#f8fcd2,#f8fcd2,#f9fcd0,#f9fcd0,#fafdce,#fbfdcc,#fbfdcc,#fcfecb,#fcfecb,#fcfecb,#fdfec9,#feffc7,#fffdc3,#fefabe,#fdf7bb,#fdf4b6,#fcf0b0,#fbedab,#fbeaa8,#fbe9a6,#fae8a5,#fae8a5,#fae6a1,#f9e39e,#f9df99,#f8da93,#f7d48e,#f6ce89,#f5c984,#f4c37e,#f3bf7b,#f3bd79,#f3bd79,#f3bd79,#f3bd79,#f3bd79,#f3bd79,#f3bd79)"></i>
<i style="background:linear-gradient(90deg,#eaf5eb,#eaf5eb,#eaf5eb,#eaf5eb,#eaf5eb,#eaf5eb,#eaf5eb,#ebf6e9,#ecf6e7,#edf7e6,#eff8e2,#f0f8e0,#f3f9dc,#f4fada,#f6fbd6,#f7fbd4,#f7fbd4,#f7fbd4,#f8fcd2,#f8fcd2,#f9fcd0,#f9fcd0,#fafdce,#fafdce,#fbfdcc,#fcfecb,#fcfecb,#fcfecb,#fdfec9,#fdfec9,#fffec5,#fefcc2,#fefabe,#fdf6b9,#fcf3b4,#fcefaf,#fbedab,#fbe9a6,#fae8a5,#fae7a3,#fae7a3,#fae59f,#f9e29c,#f9df99,#f7d892,#f6d28c,#f5cc87,#f5c782,#f4c37e,#f3bf7b,#f3bd79,#f3bd79,#f3bd79,#f3bd79,#f3bd79,#f3bd79,#f3bd79)"></i>
<i style="background:linear-gradient(90deg,#eef7e4,#eef7e4,#eef7e4,#eef7e4,#eef7e4,#eef7e4,#eef7e4,#eef7e4,#eff8e2,#f0f8e0,#f1f9de,#f3f9dc,#f4fada,#f6fbd6,#f6fbd6,#f7fbd4,#f8fcd2,#f8fcd2,#f8fcd2,#f8fcd2,#f9fcd0,#f9fcd0,#fafdce,#fbfdcc,#fbfdcc,#fcfecb,#fdfec9,#fdfec9,#fdfec9,#feffc7,#fffec5,#fefcc2,#fef9bc,#fdf5b7,#fcf1b2,#fceead,#fbeaa8,#fae8a5,#fae7a3,#fae6a1,#fae59f,#f9e39e,#f9e19a,#f8db95,#f7d690,#f6d08b,#f5cb85,#f4c580,#f4c17d,#f3bd79,#f3bc77,#f3bc77,#f3bc77,#f3bc77,#f3bc77,#f3bc77,#f3bc77)"></i>
<i style="background:linear-gradient(90deg,#f3f9dc,#f3f9dc,#f3f9dc,#f3f9dc,#f3f9dc,#f3f9dc,#f3f9dc,#f3f9dc,#f4fada,#f4fada,#f5fad8,#f6fbd6,#f6fbd6,#f7fbd4,#f7fbd4,#f8fcd2,#f8fcd2,#f8fcd2,#f8fcd2,#f9fcd0,#f9fcd0,#fafdce,#fbfdcc,#fbfdcc,#fcfecb,#fcfecb,#fdfec9,#fdfec9,#fdfec9,#feffc7,#fffdc3,#fefbc0,#fdf7bb,#fdf4b6,#fcf0b0,#fbedab,#fbe9a6,#fae7a3,#fae59f,#f9e39e,#f9e39e,#f9e29c,#f9df99,#f8da93,#f7d48e,#f6ce89,#f5c984,#f4c37e,#f3bf7b,#f3bc77,#f3ba76,#f3ba76,#f3ba76,#f3ba76,#f3ba76,#f3ba76,#f3ba76)"></i>
<i style="background:linear-gradient(90deg,#f8fcd2,#f8fcd2,#f8fcd2,#f8fcd2,#f8fcd2,#f8fcd2,#f8fcd2,#f8fcd2,#f8fcd2,#f8fcd2,#f8fcd2,#f8fcd2,#f8fcd2,#f8fcd2,#f9fcd0,#f9fcd0,#f9fcd0,#f9fcd0,#f9fcd0,#f9fcd0,#fafdce,#fafdce,#fbfdcc,#fcfecb,#fcfecb,#fdfec9,#fdfec9,#feffc7,#feffc7,#feffc7,#fffdc3,#fefbc0,#fdf7bb,#fcf3b4,#fcefaf,#fbecaa,#fae8a5,#fae59f,#f9e29c,#f9e29c,#f9e19a,#f9df99,#f8db95,#f7d892,#f6d28c,#f5cc87,#f5c782,#f4c17d,#f3bd79,#f3ba76,#f2b874,#f2b874,#f2b874,#f2b874,#f2b874,#f2b874,#f2b874)"></i>
<i style="background:linear-gradient(90deg,#fdfec9,#fdfec9,#fdfec9,#fdfec9,#fdfec9,#fdfec9,#fdfec9,#fdfec9,#fcfecb,#fcfecb,#fcfecb,#fbfdcc,#fbfdcc,#fafdce,#fafdce,#f9fcd0,#f9fcd0,#f9fcd0,#f9fcd0,#fafdce,#fafdce,#fbfdcc,#fcfecb,#fcfecb,#fdfec9,#fdfec9,#feffc7,#feffc7,#feffc7,#fffec5,#fefcc2,#fefabe,#fdf6b9,#fcf1b2,#fceead,#fbe9a6,#fae6a1,#f9e29c,#f9e19a,#f9df99,#f8dd97,#f8db95,#f7d892,#f7d48e,#f6ce89,#f5c984,#f4c580,#f3bf7b,#f3bc77,#f2b874,#f2b672,#f2b672,#f2b672,#f2b672,#f2b672,#f2b672,#f2b672)"></i>
<i style="background:linear-gradient(90deg,#fefbc0,#fefbc0,#fefbc0,#fefbc0,#fefbc0,#fefbc0,#fefbc0,#fefbc0,#fefcc2,#fffdc3,#fffec5,#feffc7,#fdfec9,#fcfecb,#fbfdcc,#fafdce,#fafdce,#fafdce,#fafdce,#fafdce,#fbfdcc,#fbfdcc,#fcfecb,#fdfec9,#fdfec9,#feffc7,#feffc7,#fffec5,#fffec5,#fffdc3,#fefcc2,#fef9bc,#fdf5b7,#fcf0b0,#fbecaa,#fae8a5,#f9e39e,#f9e19a,#f8dd97,#f8db95,#f8db95,#f7d892,#f7d690,#f6d08b,#f5cc87,#f5c782,#f4c17d,#f3bd79,#f3ba76,#f2b672,#f2b471,#f2b471,#f2b471,#f2b471,#f2b471,#f2b471,#f2b471)"></i>
<i style="background:linear-gradient(90deg,#fdf5b7,#fdf5b7,#fdf5b7,#fdf5b7,#fdf5b7,#fdf5b7,#fdf5b7,#fdf5b7,#fdf6b9,#fef9bc,#fefabe,#fefcc2,#fffec5,#feffc7,#fcfecb,#fbfdcc,#fafdce,#fafdce,#fafdce,#fbfdcc,#fbfdcc,#fcfecb,#fdfec9,#fdfec9,#feffc7,#fffec5,#fffec5,#fffec5,#fffec5,#fffdc3,#fefbc0,#fdf7bb,#fdf4b6,#fcefaf,#fbeaa8,#fae6a1,#f9e29c,#f8dd97,#f8da93,#f7d892,#f7d892,#f7d48e,#f6d28c,#f5cc87,#f5c984,#f4c37e,#f3bf7b,#f3ba76,#f2b672,#f2b471,#f2b26f,#f2b26f,#f2b26f,#f2b26f,#f2b26f,#f2b26f,#f2b26f)"></i>
<i style="background:linear-gradient(90deg,#fceead,#fceead,#fceead,#fceead,#fceead,#fceead,#fceead,#fcefaf,#fcf0b0,#fcf3b4,#fdf5b7,#fef9bc,#fefbc0,#fffdc3,#feffc7,#fcfecb,#fbfdcc,#fbfdcc,#fbfdcc,#fbfdcc,#fcfecb,#fdfec9,#fdfec9,#feffc7,#feffc7,#fffec5,#fffdc3,#fffdc3,#fffdc3,#fefcc2,#fefabe,#fdf6b9,#fcf3b4,#fceead,#fbe9a6,#fae59f,#f9df99,#f8da93,#f7d690,#f7d48e,#f7d48e,#f6d08b,#f6ce89,#f5cb85,#f4c580,#f4c17d,#f3bc77,#f2b874,#f2b471,#f2b26f,#f1b06d,#f1b06d,#f1b06d,#f1b06d,#f1b06d,#f1b06d,#f1b06d)"></i>
<i style="background:linear-gradient(90deg,#fae7a3,#fae7a3,#fae7a3,#fae7a3,#fae7a3,#fae7a3,#fae7a3,#fae8a5,#fbeaa8,#fceead,#fcf0b0,#fdf4b6,#fef9bc,#fefbc0,#fffec5,#fdfec9,#fcfecb,#fbfdcc,#fcfecb,#fcfecb,#fcfecb,#fdfec9,#feffc7,#feffc7,#fffec5,#fffdc3,#fffdc3,#fffdc3,#fefcc2,#fefcc2,#fefabe,#fdf6b9,#fcf1b2,#fbedab,#fae7a3,#f9e29c,#f8db95,#f7d690,#f6d28c,#f6d08b,#f6d08b,#f6ce89,#f5cb85,#f5c782,#f4c37e,#f3bd79,#f3ba76,#f2b672,#f2b26f,#f1b06d,#f1ae6c,#f1ae6c,#f1ae6c,#f1ae6c,#f1ae6c,#f1ae6c,#f1ae6c)"></i>
<i style="background:linear-gradient(90deg,#f9e19a,#f9e19a,#f9e19a,#f9e19a,#f9e19a,#f9e19a,#f9e19a,#f9e29c,#fae6a1,#fae8a5,#fbedab,#fcf0b0,#fdf5b7,#fefabe,#fffdc3,#feffc7,#fcfecb,#fcfecb,#fcfecb,#fcfecb,#fdfec9,#feffc7,#feffc7,#fffec5,#fffdc3,#fffdc3,#fefcc2,#fefcc2,#fefcc2,#fefbc0,#fef9bc,#fdf5b7,#fcf0b0,#fbecaa,#fae6a1,#f9e19a,#f8da93,#f6d28c,#f6ce89,#f5cc87,#f5cc87,#f5cb85,#f5c782,#f4c37e,#f3bf7b,#f3bc77,#f2b874,#f2b471,#f1b06d,#f1ae6c,#f0ab6b,#f0ab6b,#f0ab6b,#f0ab6b,#f0ab6b,#f0ab6b,#f0ab6b)"></i>
<i style="background:linear-gradient(90deg,#f7d892,#f7d892,#f7d892,#f7d892,#f7d892,#f7d892,#f7d892,#f8da93,#f9df99,#f9e39e,#fae8a5,#fbedab,#fcf3b4,#fdf7bb,#fefcc2,#fffec5,#fdfec9,#fcfecb,#fdfec9,#fdfec9,#fdfec9,#feffc7,#fffec5,#fffec5,#fffdc3,#fefcc2,#fefcc2,#fefcc2,#fefbc0,#fefbc0,#fdf7bb,#fdf4b6,#fcefaf,#fbe9a6,#fae59f,#f8dd97,#f7d690,#f6ce89,#f5cb85,#f5c984,#f5c984,#f5c782,#f4c37e,#f4c17d,#f3bd79,#f2b874,#f2b471,#f1b06d,#f1ae6c,#efa96a,#efa96a,#efa96a,#efa96a,#efa96a,#efa96a,#efa96a,#efa96a)"></i>
<i style="background:linear-gradient(90deg,#f6ce89,#f6ce89,#f6ce89,#f6ce89,#f6ce89,#f6ce89,#f6ce89,#f6d28c,#f7d892,#f8dd97,#fae59f,#fbeaa8,#fcf0b0,#fdf5b7,#fefabe,#fffec5,#fdfec9,#fdfec9,#fdfec9,#fdfec9,#feffc7,#fffec5,#fffec5,#fffdc3,#fefcc2,#fefcc2,#fefbc0,#fefbc0,#fefbc0,#fefabe,#fdf7bb,#fcf3b4,#fceead,#fae8a5,#f9e29c,#f8db95,#f6d28c,#f5cc87,#f5c782,#f4c580,#f4c580,#f4c37e,#f4c17d,#f3bd79,#f3ba76,#f2b672,#f2b26f,#f1ae6c,#f0ab6b,#efa768,#efa768,#efa768,#efa768,#efa768,#efa768,#efa768,#efa768)"></i>
<i style="background:linear-gradient(90deg,#f5c782,#f5c782,#f5c782,#f5c782,#f5c782,#f5c782,#f5c782,#f5cb85,#f6d08b,#f7d892,#f9e19a,#fae7a3,#fceead,#fdf4b6,#fef9bc,#fffdc3,#feffc7,#fdfec9,#feffc7,#feffc7,#feffc7,#fffec5,#fffdc3,#fffdc3,#fefcc2,#fefbc0,#fefbc0,#fefbc0,#fefbc0,#fefabe,#fdf6b9,#fcf3b4,#fbedab,#fae8a5,#f9e19a,#f8da93,#f6d08b,#f5c984,#f4c580,#f4c37e,#f4c17d,#f4c17d,#f3bd79,#f3bc77,#f2b874,#f2b471,#f1b06d,#f0ab6b,#efa96a,#efa768,#eea467,#eea467,#eea467,#eea467,#eea467,#eea467,#eea467)"></i>
<i style="background:linear-gradient(90deg,#f3bf7b,#f3bf7b,#f3bf7b,#f3bf7b,#f3bf7b,#f3bf7b,#f3bf7b,#f4c37e,#f5c984,#f6d28c,#f8db95,#fae59f,#fbecaa,#fcf3b4,#fdf7bb,#fefcc2,#feffc7,#feffc7,#feffc7,#feffc7,#fffec5,#fffec5,#fffdc3,#fefcc2,#fefcc2,#fefbc0,#fefbc0,#fefabe,#fefabe,#fef9bc,#fdf6b9,#fcf1b2,#fbedab,#fae7a3,#f9df99,#f7d690,#f6ce89,#f5c782,#f4c17d,#f3bf7b,#f3bf7b,#f3bd79,#f3bc77,#f2b874,#f2b672,#f2b26f,#f1ae6c,#efa96a,#efa768,#eea467,#eea266,#eea266,#eea266,#eea266,#eea266,#eea266,#eea266)"></i>
<i style="background:linear-gradient(90deg,#f3ba76,#f3ba76,#f3ba76,#f3ba76,#f3ba76,#f3ba76,#f3ba76,#f3bd79,#f4c580,#f6ce89,#f7d892,#f9e29c,#fbeaa8,#fcf1b2,#fdf7bb,#fefcc2,#fffec5,#feffc7,#feffc7,#fffec5,#fffec5,#fffdc3,#fffdc3,#fefcc2,#fefbc0,#fefbc0,#fefabe,#fefabe,#fefabe,#fef9bc,#fdf5b7,#fcf1b2,#fbecaa,#fae6a1,#f9df99,#f7d690,#f5cc87,#f4c580,#f3bf7b,#f3bd79,#f3bd79,#f3bc77,#f3ba76,#f2b672,#f2b471,#f1b06d,#f0ab6b,#efa96a,#eea467,#eea266,#eea266,#eea266,#eea266,#eea266,#eea266,#eea266,#eea266)"></i>
<i style="background:linear-gradient(90deg,#f2b672,#f2b672,#f2b672,#f2b672,#f2b672,#f2b672,#f2b672,#f3ba76,#f4c17d,#f5cb85,#f7d690,#f9e19a,#fbe9a6,#fcf0b0,#fdf6b9,#fefbc0,#fffec5,#feffc7,#feffc7,#fffec5,#fffec5,#fffdc3,#fefcc2,#fefcc2,#fefbc0,#fefabe,#fefabe,#fefabe,#fefabe,#fef9bc,#fdf5b7,#fcf0b0,#fbecaa,#fae6a1,#f8dd97,#f7d48e,#f5cb85,#f4c37e,#f3bd79,#f3bc77,#f3bc77,#f3ba76,#f2b874,#f2b672,#f2b26f,#f1ae6c,#f0ab6b,#efa768,#eea467,#eea266,#ed9f65,#ed9f65,#ed9f65,#ed9f65,#ed9f65,#ed9f65,#ed9f65)"></i>
<i style="background:linear-gradient(90deg,#f2b26f,#f2b26f,#f2b26f,#f2b26f,#f2b26f,#f2b26f,#f2b26f,#f2b672,#f3bd79,#f5c782,#f7d48e,#f9df99,#fae8a5,#fcefaf,#fdf6b9,#fefbc0,#fffec5,#feffc7,#fffec5,#fffec5,#fffec5,#fffdc3,#fefcc2,#fefcc2,#fefbc0,#fefabe,#fefabe,#fefabe,#fef9bc,#fdf7bb,#fdf5b7,#fcf0b0,#fbeaa8,#fae59f,#f8dd97,#f6d28c,#f5cb85,#f4c37e,#f3bd79,#f3bc77,#f3ba76,#f3ba76,#f2b874,#f2b471,#f2b26f,#f1ae6c,#efa96a,#efa768,#eea266,#ed9f65,#ed9f65,#ed9f65,#ed9f65,#ed9f65,#ed9f65,#ed9f65,#ed9f65)"></i>
<i style="background:linear-gradient(90deg,#f1b06d,#f1b06d,#f1b06d,#f1b06d,#f1b06d,#f1b06d,#f2b26f,#f2b672,#f3bd79,#f5c782,#f6d28c,#f9df99,#fae8a5,#fcefaf,#fdf6b9,#fefbc0,#fffec5,#fffec5,#fffec5,#fffec5,#fffdc3,#fffdc3,#fefcc2,#fefcc2,#fefbc0,#fefabe,#fefabe,#fef9bc,#fef9bc,#fdf7bb,#fdf5b7,#fcf0b0,#fbeaa8,#fae59f,#f8dd97,#f6d28c,#f5c984,#f4c17d,#f3bd79,#f3ba76,#f3ba76,#f3ba76,#f2b672,#f2b471,#f1b06d,#f1ae6c,#efa96a,#eea467,#eea266,#ed9f65,#ed9f65,#ed9f65,#ed9f65,#ed9f65,#ed9f65,#ed9f65,#ed9f65)"></i>
<i style="background:linear-gradient(90deg,#f1b06d,#f1b06d,#f1b06d,#f1b06d,#f1b06d,#f1b06d,#f2b26f,#f2b672,#f3bd79,#f5c782,#f6d28c,#f9df99,#fae7a3,#fcefaf,#fdf5b7,#fefbc0,#fffdc3,#fffec5,#fffec5,#fffec5,#fffdc3,#fefcc2,#fefcc2,#fefbc0,#fefabe,#fefabe,#fef9bc,#fef9bc,#fef9bc,#fdf7bb,#fdf4b6,#fcf0b0,#fbeaa8,#fae59f,#f8db95,#f6d28c,#f5c984,#f4c17d,#f3bd79,#f3ba76,#f3ba76,#f2b874,#f2b672,#f2b471,#f1b06d,#f1ae6c,#efa96a,#eea467,#eea266,#ed9f65,#ed9f65,#ed9f65,#ed9f65,#ed9f65,#ed9f65,#ed9f65,#ed9f65)"></i>
<i style="background:linear-gradient(90deg,#f2b26f,#f2b26f,#f2b26f,#f2b26f,#f2b26f,#f2b26f,#f2b26f,#f2b672,#f3bd79,#f5c782,#f6d28c,#f8dd97,#fae7a3,#fceead,#fdf4b6,#fef9bc,#fefcc2,#fffdc3,#fefcc2,#fefcc2,#fefcc2,#fefbc0,#fefbc0,#fefabe,#fef9bc,#fef9bc,#fdf7bb,#fdf7bb,#fdf7bb,#fdf6b9,#fcf3b4,#fcefaf,#fbe9a6,#f9e39e,#f8db95,#f6d08b,#f5c984,#f4c17d,#f3bc77,#f3ba76,#f3ba76,#f2b874,#f2b672,#f2b26f,#f1b06d,#f0ab6b,#efa96a,#eea467,#eea266,#ed9f65,#ec9d63,#ec9d63,#ec9d63,#ec9d63,#ec9d63,#ec9d63,#ec9d63)"></i>
<i style="background:linear-gradient(90deg,#f2b471,#f2b471,#f2b471,#f2b471,#f2b471,#f2b471,#f2b471,#f2b874,#f3bd79,#f5c782,#f6d28c,#f8db95,#fae6a1,#fbecaa,#fcf1b2,#fdf6b9,#fefabe,#fefbc0,#fefabe,#fefabe,#fefabe,#fef9bc,#fef9bc,#fdf7bb,#fdf6b9,#fdf6b9,#fdf6b9,#fdf5b7,#fdf5b7,#fdf4b6,#fcf1b2,#fbedab,#fae8a5,#f9e29c,#f7d892,#f6ce89,#f5c782,#f3bf7b,#f3ba76,#f2b874,#f2b874,#f2b672,#f2b471,#f2b26f,#f1ae6c,#f0ab6b,#efa768,#eea467,#ed9f65,#ec9d63,#ec9d63,#ec9d63,#ec9d63,#ec9d63,#ec9d63,#ec9d63,#ec9d63)"></i>
<i style="background:linear-gradient(90deg,#f2b672,#f2b672,#f2b672,#f2b672,#f2b672,#f2b672,#f2b672,#f2b874,#f3bf7b,#f5c782,#f6d08b,#f8db95,#f9e39e,#fbeaa8,#fcefaf,#fdf4b6,#fdf6b9,#fdf7bb,#fdf7bb,#fdf6b9,#fdf6b9,#fdf6b9,#fdf5b7,#fdf5b7,#fdf4b6,#fdf4b6,#fcf3b4,#fcf3b4,#fcf3b4,#fcf1b2,#fcefaf,#fbeaa8,#fae6a1,#f9df99,#f7d690,#f5cc87,#f4c37e,#f3bd79,#f2b874,#f2b672,#f2b672,#f2b471,#f2b26f,#f1b06d,#f0ab6b,#efa96a,#eea467,#eea266,#ed9f65,#ec9d63,#ec9d63,#ec9b62,#ec9b62,#ec9b62,#ec9b62,#ec9b62,#ec9b62)"></i>
<i style="background:linear-gradient(90deg,#f2b874,#f2b874,#f2b874,#f2b874,#f2b874,#f2b874,#f2b874,#f3ba76,#f3bf7b,#f5c782,#f6d08b,#f7d892,#f9e19a,#fae7a3,#fbecaa,#fcf0b0,#fcf3b4,#fcf3b4,#fcf3b4,#fcf3b4,#fcf1b2,#fcf1b2,#fcf1b2,#fcf0b0,#fcf0b0,#fcf0b0,#fcefaf,#fcefaf,#fcefaf,#fceead,#fbecaa,#fae8a5,#f9e29c,#f8db95,#f6d28c,#f5c984,#f4c17d,#f3ba76,#f2b672,#f2b471,#f2b471,#f2b26f,#f1b06d,#f1ae6c,#efa96a,#efa768,#eea467,#ed9f65,#ec9d63,#ec9b62,#ec9b62,#ec9b62,#ec9b62,#ec9b62,#ec9b62,#ec9b62,#ec9b62)"></i>
<i style="background:linear-gradient(90deg,#f3ba76,#f3ba76,#f3ba76,#f3ba76,#f3ba76,#f3ba76,#f3ba76,#f3bc77,#f4c17d,#f5c782,#f6ce89,#f7d690,#f9df99,#fae59f,#fae8a5,#fbecaa,#fceead,#fceead,#fceead,#fceead,#fceead,#fceead,#fbedab,#fbedab,#fbedab,#fbecaa,#fbecaa,#fbecaa,#fbecaa,#fbeaa8,#fae8a5,#fae59f,#f9df99,#f7d690,#f6ce89,#f4c580,#f3bd79,#f2b874,#f2b26f,#f1b06d,#f1b06d,#f1b06d,#f1ae6c,#f0ab6b,#efa768,#eea467,#eea266,#ec9d63,#ec9b62,#ec9b62,#eb9861,#eb9861,#eb9861,#eb9861,#eb9861,#eb9861,#eb9861)"></i>
<i style="background:linear-gradient(90deg,#f3bc77,#f3bc77,#f3bc77,#f3bc77,#f3bc77,#f3bc77,#f3bc77,#f3bf7b,#f4c37e,#f5c782,#f6ce89,#f7d48e,#f8db95,#f9e19a,#fae59f,#fae7a3,#fbe9a6,#fbe9a6,#fbe9a6,#fbe9a6,#fbe9a6,#fae8a5,#fae8a5,#fae8a5,#fae8a5,#fae8a5,#fae8a5,#fae8a5,#fae8a5,#fae7a3,#fae59f,#f9e19a,#f8da93,#f6d28c,#f5c984,#f4c17d,#f3ba76,#f2b471,#f1b06d,#f1ae6c,#f1ae6c,#f0ab6b,#efa96a,#efa768,#eea467,#eea266,#ed9f65,#ec9b62,#eb9861,#eb9861,#eb9660,#eb9660,#eb9660,#eb9660,#eb9660,#eb9660,#eb9660)"></i>
<i style="background:linear-gradient(90deg,#f3bf7b,#f3bf7b,#f3bf7b,#f3bf7b,#f3bf7b,#f3bf7b,#f3bf7b,#f4c17d,#f4c37e,#f5c782,#f5cc87,#f6d08b,#f7d690,#f8db95,#f9df99,#f9e29c,#f9e39e,#f9e39e,#f9e39e,#f9e39e,#f9e39e,#f9e39e,#f9e39e,#f9e39e,#f9e39e,#f9e39e,#f9e39e,#f9e39e,#f9e39e,#f9e29c,#f9df99,#f8da93,#f7d48e,#f5cc87,#f4c580,#f3bd79,#f2b672,#f1b06d,#f0ab6b,#efa96a,#efa96a,#efa768,#efa768,#eea467,#eea266,#ec9d63,#ec9b62,#eb9861,#eb9660,#eb9660,#ea935e,#ea935e,#ea935e,#ea935e,#ea935e,#ea935e,#ea935e)"></i>
<i style="background:linear-gradient(90deg,#f4c37e,#f4c37e,#f4c37e,#f4c37e,#f4c37e,#f4c37e,#f4c37e,#f4c37e,#f4c580,#f5c984,#f5cb85,#f6ce89,#f6d28c,#f7d48e,#f7d892,#f8da93,#f8db95,#f8db95,#f8db95,#f8db95,#f8db95,#f8db95,#f8db95,#f8dd97,#f8dd97,#f8dd97,#f8dd97,#f8dd97,#f8dd97,#f8db95,#f7d892,#f7d48e,#f5cc87,#f5c782,#f3bf7b,#f2b874,#f2b26f,#f0ab6b,#efa768,#eea467,#eea467,#eea467,#eea266,#ed9f65,#ec9d63,#ec9b62,#eb9861,#eb9660,#ea935e,#ea935e,#ea935e,#ea935e,#ea935e,#ea935e,#ea935e,#ea935e,#ea935e)"></i>
<i style="background:linear-gradient(90deg,#f4c580,#f4c580,#f4c580,#f4c580,#f4c580,#f4c580,#f4c580,#f4c580,#f5c782,#f5c984,#f5cb85,#f5cb85,#f5cc87,#f6ce89,#f6d08b,#f6d28c,#f6d28c,#f6d28c,#f6d28c,#f6d28c,#f6d28c,#f7d48e,#f7d48e,#f7d48e,#f7d48e,#f7d690,#f7d690,#f7d690,#f7d690,#f7d48e,#f6d28c,#f5cc87,#f5c782,#f4c17d,#f3ba76,#f2b471,#f1ae6c,#efa768,#eea266,#eea266,#ed9f65,#ed9f65,#ec9d63,#ec9d63,#ec9b62,#eb9861,#eb9660,#ea935e,#ea915d,#ea915d,#ea915d,#ea915d,#ea915d,#ea915d,#ea915d,#ea915d,#ea915d)"></i>
<i style="background:linear-gradient(90deg,#f5c984,#f5c984,#f5c984,#f5c984,#f5c984,#f5c984,#f5c984,#f5c984,#f5c984,#f5c984,#f5c984,#f5c984,#f5c984,#f5c984,#f5c984,#f5c984,#f5c984,#f5c984,#f5c984,#f5c984,#f5c984,#f5cb85,#f5cb85,#f5cb85,#f5cc87,#f5cc87,#f6ce89,#f6ce89,#f6ce89,#f5cc87,#f5cb85,#f4c580,#f4c17d,#f3bc77,#f2b471,#f1ae6c,#efa768,#eea266,#ec9d63,#ec9d63,#ec9b62,#ec9b62,#ec9b62,#eb9861,#eb9660,#ea935e,#ea935e,#ea915d,#e98f5c,#e98f5c,#e98f5c,#e98f5c,#e98f5c,#e98f5c,#e98f5c,#e98f5c,#e98f5c)"></i>
<i style="background:linear-gradient(90deg,#f5cb85,#f5cb85,#f5cb85,#f5cb85,#f5cb85,#f5cb85,#f5cb85,#f5cb85,#f5cb85,#f5c984,#f5c782,#f4c580,#f4c37e,#f4c17d,#f4c17d,#f3bf7b,#f3bf7b,#f3bf7b,#f3bf7b,#f3bf7b,#f3bf7b,#f4c17d,#f4c37e,#f4c37e,#f4c580,#f4c580,#f5c782,#f5c782,#f5c782,#f4c580,#f4c37e,#f3bf7b,#f3ba76,#f2b672,#f1b06d,#efa96a,#eea266,#ec9d63,#eb9861,#eb9861,#eb9861,#eb9660,#eb9660,#ea935e,#ea935e,#ea915d,#ea915d,#e98f5c,#e98c5b,#e98c5b,#e98c5b,#e98c5b,#e98c5b,#e98c5b,#e98c5b,#e98c5b,#e98c5b)"></i>
<i style="background:linear-gradient(90deg,#f6ce89,#f6ce89,#f6ce89,#f6ce89,#f6ce89,#f6ce89,#f6ce89,#f5cc87,#f5cb85,#f5c984,#f4c580,#f4c37e,#f3bf7b,#f3bc77,#f3ba76,#f2b874,#f2b672,#f2b672,#f2b672,#f2b672,#f2b874,#f2b874,#f3ba76,#f3bc77,#f3bd79,#f3bd79,#f3bf7b,#f3bf7b,#f3bf7b,#f3bf7b,#f3bc77,#f2b874,#f2b471,#f1b06d,#efa96a,#eea266,#ec9d63,#eb9861,#eb9660,#ea935e,#ea935e,#ea935e,#ea915d,#ea915d,#e98f5c,#e98f5c,#e98c5b,#e98c5b,#e88a5a,#e88a5a,#e88a5a,#e88a5a,#e88a5a,#e88a5a,#e88a5a,#e88a5a,#e88a5a)"></i>
<i style="background:linear-gradient(90deg,#f6d28c,#f6d28c,#f6d28c,#f6d28c,#f6d28c,#f6d28c,#f6d28c,#f6d08b,#f5cc87,#f5c984,#f4c580,#f3bf7b,#f3bc77,#f2b672,#f2b26f,#f1ae6c,#f0ab6b,#f0ab6b,#f0ab6b,#f0ab6b,#f1ae6c,#f1b06d,#f2b26f,#f2b471,#f2b471,#f2b672,#f2b874,#f2b874,#f2b874,#f2b874,#f2b672,#f2b26f,#f1ae6c,#efa96a,#eea266,#ec9d63,#eb9861,#ea935e,#ea915d,#e98f5c,#e98f5c,#e98f5c,#e98f5c,#e98c5b,#e98c5b,#e98c5b,#e88a5a,#e88a5a,#e78858,#e78858,#e78858,#e78858,#e78858,#e78858,#e78858,#e78858,#e78858)"></i>
<i style="background:linear-gradient(90deg,#f7d48e,#f7d48e,#f7d48e,#f7d48e,#f7d48e,#f7d48e,#f7d48e,#f6d28c,#f6ce89,#f5c984,#f4c37e,#f3bd79,#f2b672,#f1b06d,#efa96a,#eea467,#eea266,#eea266,#eea266,#eea266,#eea467,#efa768,#efa96a,#f0ab6b,#f1ae6c,#f1b06d,#f1b06d,#f2b26f,#f2b26f,#f1b06d,#f1ae6c,#f0ab6b,#efa768,#eea266,#ec9d63,#eb9861,#ea935e,#e98f5c,#e98c5b,#e98c5b,#e98c5b,#e98c5b,#e88a5a,#e88a5a,#e88a5a,#e78858,#e78858,#e78858,#e78858,#e78557,#e78557,#e78557,#e78557,#e78557,#e78557,#e78557,#e78557)"></i>
<i style="background:linear-gradient(90deg,#f7d690,#f7d690,#f7d690,#f7d690,#f7d690,#f7d690,#f7d690,#f7d48e,#f6ce89,#f5c984,#f4c37e,#f3bc77,#f2b471,#f0ab6b,#eea266,#ec9d63,#eb9861,#eb9861,#eb9861,#ec9b62,#ec9b62,#ec9d63,#ed9f65,#eea266,#efa768,#efa768,#efa96a,#f0ab6b,#f0ab6b,#efa96a,#efa96a,#eea467,#eea266,#ec9d63,#eb9861,#ea935e,#e98f5c,#e98c5b,#e88a5a,#e78858,#e78858,#e78858,#e78858,#e78858,#e78858,#e78557,#e78557,#e78557,#e78557,#e78557,#e78557,#e78557,#e78557,#e78557,#e78557,#e78557,#e78557)"></i>
<i style="background:linear-gradient(90deg,#f7d892,#f7d892,#f7d892,#f7d892,#f7d892,#f7d892,#f7d892,#f7d690,#f6d08b,#f5c984,#f4c17d,#f3ba76,#f1b06d,#eea467,#ec9d63,#ea935e,#ea915d,#e98f5c,#e98f5c,#ea915d,#ea935e,#eb9660,#eb9861,#ec9b62,#ec9d63,#ed9f65,#eea266,#eea467,#eea467,#eea467,#eea266,#ed9f65,#ec9b62,#eb9861,#ea935e,#e98f5c,#e98c5b,#e78858,#e78858,#e78557,#e78557,#e78557,#e78557,#e78557,#e78557,#e78557,#e68356,#e68356,#e68356,#e68356,#e68356,#e68356,#e68356,#e68356,#e68356,#e68356,#e68356)"></i>
<i style="background:linear-gradient(90deg,#f8da93,#f8da93,#f8da93,#f8da93,#f8da93,#f8da93,#f8da93,#f7d690,#f6d08b,#f5c984,#f4c17d,#f2b874,#f1ae6c,#eea266,#eb9660,#e98f5c,#e88a5a,#e78858,#e88a5a,#e88a5a,#e98c5b,#ea915d,#ea935e,#eb9660,#eb9861,#ec9b62,#ec9d63,#ed9f65,#ed9f65,#ed9f65,#ec9d63,#ec9b62,#eb9660,#ea935e,#e98f5c,#e98c5b,#e78858,#e78557,#e78557,#e68356,#e68356,#e68356,#e68356,#e68356,#e68356,#e68356,#e68356,#e68356,#e68356,#e68356,#e68356,#e68356,#e68356,#e68356,#e68356,#e68356,#e68356)"></i>
<i style="background:linear-gradient(90deg,#f8db95,#f8db95,#f8db95,#f8db95,#f8db95,#f8db95,#f8db95,#f7d892,#f6d28c,#f5c984,#f3bf7b,#f2b672,#f0ab6b,#ec9d63,#ea935e,#e88a5a,#e78557,#e68356,#e78557,#e78858,#e88a5a,#e98c5b,#e98f5c,#ea915d,#eb9660,#eb9861,#ec9b62,#ec9b62,#ec9b62,#ec9b62,#eb9861,#eb9660,#ea935e,#ea915d,#e98c5b,#e88a5a,#e78858,#e78557,#e68356,#e68155,#e68155,#e68155,#e68155,#e68155,#e68155,#e68155,#e68155,#e68155,#e68155,#e68155,#e68155,#e68155,#e68155,#e68155,#e68155,#e68155,#e68155)"></i>
<i style="background:linear-gradient(90deg,#f8db95,#f8db95,#f8db95,#f8db95,#f8db95,#f8db95,#f8db95,#f7d892,#f6d28c,#f5c984,#f3bf7b,#f2b672,#efa96a,#ec9d63,#ea915d,#e78858,#e68356,#e68155,#e68356,#e68356,#e78557,#e78858,#e98c5b,#e98f5c,#ea915d,#eb9660,#eb9861,#eb9861,#eb9861,#eb9861,#eb9660,#ea935e,#ea915d,#e98f5c,#e98c5b,#e78858,#e78557,#e68356,#e68155,#e68155,#e68155,#e68155,#e68155,#e68155,#e68155,#e68155,#e68155,#e68155,#e68155,#e68155,#e68155,#e68155,#e68155,#e68155,#e68155,#e68155,#e68155)"></i>
<i style="background:linear-gradient(90deg,#f8db95,#f8db95,#f8db95,#f8db95,#f8db95,#f8db95,#f8db95,#f7d892,#f6d28c,#f5c984,#f3bf7b,#f2b672,#efa96a,#ec9b62,#ea915d,#e78858,#e68155,#e68155,#e68155,#e68356,#e78557,#e78858,#e88a5a,#e98f5c,#ea915d,#ea935e,#eb9660,#eb9861,#eb9861,#eb9861,#eb9660,#ea935e,#ea915d,#e98f5c,#e88a5a,#e78858,#e78557,#e68356,#e68155,#e68155,#e68155,#e68155,#e68155,#e68155,#e68155,#e68155,#e68155,#e68155,#e68155,#e68155,#e68155,#e68155,#e68155,#e68155,#e68155,#e68155,#e68155)"></i>
<i style="background:linear-gradient(90deg,#f8db95,#f8db95,#f8db95,#f8db95,#f8db95,#f8db95,#f8db95,#f7d892,#f6d28c,#f5c984,#f3bf7b,#f2b672,#efa96a,#ec9b62,#ea915d,#e78858,#e68155,#e68155,#e68155,#e68356,#e78557,#e78858,#e88a5a,#e98f5c,#ea915d,#ea935e,#eb9660,#eb9861,#eb9861,#eb9861,#eb9660,#ea935e,#ea915d,#e98f5c,#e88a5a,#e78858,#e78557,#e68356,#e68155,#e68155,#e68155,#e68155,#e68155,#e68155,#e68155,#e68155,#e68155,#e68155,#e68155,#e68155,#e68155,#e68155,#e68155,#e68155,#e68155,#e68155,#e68155)"></i>
<i style="background:linear-gradient(90deg,#f8db95,#f8db95,#f8db95,#f8db95,#f8db95,#f8db95,#f8db95,#f7d892,#f6d28c,#f5c984,#f3bf7b,#f2b672,#efa96a,#ec9b62,#ea915d,#e78858,#e68155,#e68155,#e68155,#e68356,#e78557,#e78858,#e88a5a,#e98f5c,#ea915d,#ea935e,#eb9660,#eb9861,#eb9861,#eb9861,#eb9660,#ea935e,#ea915d,#e98f5c,#e88a5a,#e78858,#e78557,#e68356,#e68155,#e68155,#e68155,#e68155,#e68155,#e68155,#e68155,#e68155,#e68155,#e68155,#e68155,#e68155,#e68155,#e68155,#e68155,#e68155,#e68155,#e68155,#e68155)"></i>
<i style="background:linear-gradient(90deg,#f8db95,#f8db95,#f8db95,#f8db95,#f8db95,#f8db95,#f8db95,#f7d892,#f6d28c,#f5c984,#f3bf7b,#f2b672,#efa96a,#ec9b62,#ea915d,#e78858,#e68155,#e68155,#e68155,#e68356,#e78557,#e78858,#e88a5a,#e98f5c,#ea915d,#ea935e,#eb9660,#eb9861,#eb9861,#eb9861,#eb9660,#ea935e,#ea915d,#e98f5c,#e88a5a,#e78858,#e78557,#e68356,#e68155,#e68155,#e68155,#e68155,#e68155,#e68155,#e68155,#e68155,#e68155,#e68155,#e68155,#e68155,#e68155,#e68155,#e68155,#e68155,#e68155,#e68155,#e68155)"></i>
<i style="background:linear-gradient(90deg,#f8db95,#f8db95,#f8db95,#f8db95,#f8db95,#f8db95,#f8db95,#f7d892,#f6d28c,#f5c984,#f3bf7b,#f2b672,#efa96a,#ec9b62,#ea915d,#e78858,#e68155,#e68155,#e68155,#e68356,#e78557,#e78858,#e88a5a,#e98f5c,#ea915d,#ea935e,#eb9660,#eb9861,#eb9861,#eb9861,#eb9660,#ea935e,#ea915d,#e98f5c,#e88a5a,#e78858,#e78557,#e68356,#e68155,#e68155,#e68155,#e68155,#e68155,#e68155,#e68155,#e68155,#e68155,#e68155,#e68155,#e68155,#e68155,#e68155,#e68155,#e68155,#e68155,#e68155,#e68155)"></i>
<i style="background:linear-gradient(90deg,#f8db95,#f8db95,#f8db95,#f8db95,#f8db95,#f8db95,#f8db95,#f7d892,#f6d28c,#f5c984,#f3bf7b,#f2b672,#efa96a,#ec9b62,#ea915d,#e78858,#e68155,#e68155,#e68155,#e68356,#e78557,#e78858,#e88a5a,#e98f5c,#ea915d,#ea935e,#eb9660,#eb9861,#eb9861,#eb9861,#eb9660,#ea935e,#ea915d,#e98f5c,#e88a5a,#e78858,#e78557,#e68356,#e68155,#e68155,#e68155,#e68155,#e68155,#e68155,#e68155,#e68155,#e68155,#e68155,#e68155,#e68155,#e68155,#e68155,#e68155,#e68155,#e68155,#e68155,#e68155)"></i>
<i style="background:linear-gradient(90deg,#f8db95,#f8db95,#f8db95,#f8db95,#f8db95,#f8db95,#f8db95,#f7d892,#f6d28c,#f5c984,#f3bf7b,#f2b672,#efa96a,#ec9b62,#ea915d,#e78858,#e68155,#e68155,#e68155,#e68356,#e78557,#e78858,#e88a5a,#e98f5c,#ea915d,#ea935e,#eb9660,#eb9861,#eb9861,#eb9861,#eb9660,#ea935e,#ea915d,#e98f5c,#e88a5a,#e78858,#e78557,#e68356,#e68155,#e68155,#e68155,#e68155,#e68155,#e68155,#e68155,#e68155,#e68155,#e68155,#e68155,#e68155,#e68155,#e68155,#e68155,#e68155,#e68155,#e68155,#e68155)"></i>
<i style="background:linear-gradient(90deg,#f8db95,#f8db95,#f8db95,#f8db95,#f8db95,#f8db95,#f8db95,#f7d892,#f6d28c,#f5c984,#f3bf7b,#f2b672,#efa96a,#ec9b62,#ea915d,#e78858,#e68155,#e68155,#e68155,#e68356,#e78557,#e78858,#e88a5a,#e98f5c,#ea915d,#ea935e,#eb9660,#eb9861,#eb9861,#eb9861,#eb9660,#ea935e,#ea915d,#e98f5c,#e88a5a,#e78858,#e78557,#e68356,#e68155,#e68155,#e68155,#e68155,#e68155,#e68155,#e68155,#e68155,#e68155,#e68155,#e68155,#e68155,#e68155,#e68155,#e68155,#e68155,#e68155,#e68155,#e68155)"></i>
<i style="background:linear-gradient(90deg,#f8db95,#f8db95,#f8db95,#f8db95,#f8db95,#f8db95,#f8db95,#f7d892,#f6d28c,#f5c984,#f3bf7b,#f2b672,#efa96a,#ec9b62,#ea915d,#e78858,#e68155,#e68155,#e68155,#e68356,#e78557,#e78858,#e88a5a,#e98f5c,#ea915d,#ea935e,#eb9660,#eb9861,#eb9861,#eb9861,#eb9660,#ea935e,#ea915d,#e98f5c,#e88a5a,#e78858,#e78557,#e68356,#e68155,#e68155,#e68155,#e68155,#e68155,#e68155,#e68155,#e68155,#e68155,#e68155,#e68155,#e68155,#e68155,#e68155,#e68155,#e68155,#e68155,#e68155,#e68155)"></i>
<i style="background:linear-gradient(90deg,#f8db95,#f8db95,#f8db95,#f8db95,#f8db95,#f8db95,#f8db95,#f7d892,#f6d28c,#f5c984,#f3bf7b,#f2b672,#efa96a,#ec9b62,#ea915d,#e78858,#e68155,#e68155,#e68155,#e68356,#e78557,#e78858,#e88a5a,#e98f5c,#ea915d,#ea935e,#eb9660,#eb9861,#eb9861,#eb9861,#eb9660,#ea935e,#ea915d,#e98f5c,#e88a5a,#e78858,#e78557,#e68356,#e68155,#e68155,#e68155,#e68155,#e68155,#e68155,#e68155,#e68155,#e68155,#e68155,#e68155,#e68155,#e68155,#e68155,#e68155,#e68155,#e68155,#e68155,#e68155)"></i>
<i style="background:linear-gradient(90deg,#f8db95,#f8db95,#f8db95,#f8db95,#f8db95,#f8db95,#f8db95,#f7d892,#f6d28c,#f5c984,#f3bf7b,#f2b672,#efa96a,#ec9b62,#ea915d,#e78858,#e68155,#e68155,#e68155,#e68356,#e78557,#e78858,#e88a5a,#e98f5c,#ea915d,#ea935e,#eb9660,#eb9861,#eb9861,#eb9861,#eb9660,#ea935e,#ea915d,#e98f5c,#e88a5a,#e78858,#e78557,#e68356,#e68155,#e68155,#e68155,#e68155,#e68155,#e68155,#e68155,#e68155,#e68155,#e68155,#e68155,#e68155,#e68155,#e68155,#e68155,#e68155,#e68155,#e68155,#e68155)"></i>
<i style="background:linear-gradient(90deg,#f8db95,#f8db95,#f8db95,#f8db95,#f8db95,#f8db95,#f8db95,#f7d892,#f6d28c,#f5c984,#f3bf7b,#f2b672,#efa96a,#ec9b62,#ea915d,#e78858,#e68155,#e68155,#e68155,#e68356,#e78557,#e78858,#e88a5a,#e98f5c,#ea915d,#ea935e,#eb9660,#eb9861,#eb9861,#eb9861,#eb9660,#ea935e,#ea915d,#e98f5c,#e88a5a,#e78858,#e78557,#e68356,#e68155,#e68155,#e68155,#e68155,#e68155,#e68155,#e68155,#e68155,#e68155,#e68155,#e68155,#e68155,#e68155,#e68155,#e68155,#e68155,#e68155,#e68155,#e68155)"></i>
<i style="background:linear-gradient(90deg,#f8db95,#f8db95,#f8db95,#f8db95,#f8db95,#f8db95,#f8db95,#f7d892,#f6d28c,#f5c984,#f3bf7b,#f2b672,#efa96a,#ec9b62,#ea915d,#e78858,#e68155,#e68155,#e68155,#e68356,#e78557,#e78858,#e88a5a,#e98f5c,#ea915d,#ea935e,#eb9660,#eb9861,#eb9861,#eb9861,#eb9660,#ea935e,#ea915d,#e98f5c,#e88a5a,#e78858,#e78557,#e68356,#e68155,#e68155,#e68155,#e68155,#e68155,#e68155,#e68155,#e68155,#e68155,#e68155,#e68155,#e68155,#e68155,#e68155,#e68155,#e68155,#e68155,#e68155,#e68155)"></i>
</div></div>
<div class="cb" style="left:1594px;top:628px;width:21px;height:415px;background:linear-gradient(180deg,#323690,#364094,#3b4999,#40539e,#455da3,#4966a8,#4e70ad,#5579b2,#5c82b7,#648bbc,#6c93c0,#739cc5,#7ba5ca,#83adcf,#8bb4d2,#93bbd6,#9bc2da,#a3c9de,#abd0e3,#b3d7e7,#bbdbe9,#c2e0ec,#c9e4ee,#d1e8f1,#d8ecf3,#e0f0f6,#e6f3f3,#eaf5eb,#eef7e4,#f3f9dc,#f7fbd4,#fbfdcc,#feffc7,#fefbc0,#fdf6b9,#fcf1b2,#fbedab,#fae8a5,#f9e39e,#f8dd97,#f7d690,#f6ce89,#f5c782,#f3bf7b,#f2b874,#f1b06d,#efa768,#ec9d63,#ea935e,#e88a5a,#e68155,#e47750,#e06e4b,#db6647,#d65d42,#d2553e,#cd4c39,#c94535,#c33e32,#bc3730,#b4312f,#ad2c2e,#a6272d,#9e222c,#971d2b)"></div>
<svg width="2120" height="1252" viewBox="0 0 2120 1252">
<defs><filter id="vb" x="0" y="0" width="1" height="1" color-interpolation-filters="sRGB"><feGaussianBlur stdDeviation="0 1.6"/></filter></defs>
<rect x="438.1" y="102.1" width="447.9" height="415.6" stroke="#222" stroke-width="1.35" fill="none"/>
<rect x="914" y="102.1" width="20.4" height="415.6" stroke="#222" stroke-width="1.35" fill="none"/>
<rect x="1121" y="102.3" width="446.1" height="415.1" stroke="#222" stroke-width="1.35" fill="none"/>
<rect x="1595.6" y="102.3" width="20" height="415.1" stroke="#222" stroke-width="1.35" fill="none"/>
<rect x="439.8" y="628.2" width="446.9" height="415.8" stroke="#222" stroke-width="1.35" fill="none"/>
<rect x="915.1" y="628.5" width="20" height="415.5" stroke="#222" stroke-width="1.35" fill="none"/>
<rect x="1119" y="627.7" width="447.3" height="415.3" stroke="#222" stroke-width="1.35" fill="none"/>
<rect x="1594.3" y="627.8" width="20.3" height="415.2" stroke="#222" stroke-width="1.35" fill="none"/>
<line x1="432.8" y1="153.5" x2="438.1" y2="153.5" stroke="#222" stroke-width="1.2"/>
<line x1="432.8" y1="257.6" x2="438.1" y2="257.6" stroke="#222" stroke-width="1.2"/>
<line x1="432.8" y1="362" x2="438.1" y2="362" stroke="#222" stroke-width="1.2"/>
<line x1="432.8" y1="466" x2="438.1" y2="466" stroke="#222" stroke-width="1.2"/>
<line x1="483.2" y1="517.7" x2="483.2" y2="523" stroke="#222" stroke-width="1.2"/>
<line x1="572.5" y1="517.7" x2="572.5" y2="523" stroke="#222" stroke-width="1.2"/>
<line x1="661.6" y1="517.7" x2="661.6" y2="523" stroke="#222" stroke-width="1.2"/>
<line x1="751.2" y1="517.7" x2="751.2" y2="523" stroke="#222" stroke-width="1.2"/>
<line x1="840.6" y1="517.7" x2="840.6" y2="523" stroke="#222" stroke-width="1.2"/>
<line x1="1115.7" y1="143.7" x2="1121" y2="143.7" stroke="#222" stroke-width="1.2"/>
<line x1="1115.7" y1="226.1" x2="1121" y2="226.1" stroke="#222" stroke-width="1.2"/>
<line x1="1115.7" y1="309.3" x2="1121" y2="309.3" stroke="#222" stroke-width="1.2"/>
<line x1="1115.7" y1="392.6" x2="1121" y2="392.6" stroke="#222" stroke-width="1.2"/>
<line x1="1115.7" y1="475.9" x2="1121" y2="475.9" stroke="#222" stroke-width="1.2"/>
<line x1="1165.3" y1="517.4" x2="1165.3" y2="522.7" stroke="#222" stroke-width="1.2"/>
<line x1="1254.4" y1="517.4" x2="1254.4" y2="522.7" stroke="#222" stroke-width="1.2"/>
<line x1="1343.3" y1="517.4" x2="1343.3" y2="522.7" stroke="#222" stroke-width="1.2"/>
<line x1="1433.1" y1="517.4" x2="1433.1" y2="522.7" stroke="#222" stroke-width="1.2"/>
<line x1="1522" y1="517.4" x2="1522" y2="522.7" stroke="#222" stroke-width="1.2"/>
<line x1="434.5" y1="680.2" x2="439.8" y2="680.2" stroke="#222" stroke-width="1.2"/>
<line x1="434.5" y1="784.1" x2="439.8" y2="784.1" stroke="#222" stroke-width="1.2"/>
<line x1="434.5" y1="888.2" x2="439.8" y2="888.2" stroke="#222" stroke-width="1.2"/>
<line x1="434.5" y1="992.1" x2="439.8" y2="992.1" stroke="#222" stroke-width="1.2"/>
<line x1="484.9" y1="1044" x2="484.9" y2="1049.3" stroke="#222" stroke-width="1.2"/>
<line x1="573.8" y1="1044" x2="573.8" y2="1049.3" stroke="#222" stroke-width="1.2"/>
<line x1="662.8" y1="1044" x2="662.8" y2="1049.3" stroke="#222" stroke-width="1.2"/>
<line x1="752.8" y1="1044" x2="752.8" y2="1049.3" stroke="#222" stroke-width="1.2"/>
<line x1="841.7" y1="1044" x2="841.7" y2="1049.3" stroke="#222" stroke-width="1.2"/>
<line x1="1113.7" y1="669.1" x2="1119" y2="669.1" stroke="#222" stroke-width="1.2"/>
<line x1="1113.7" y1="751.4" x2="1119" y2="751.4" stroke="#222" stroke-width="1.2"/>
<line x1="1113.7" y1="834.6" x2="1119" y2="834.6" stroke="#222" stroke-width="1.2"/>
<line x1="1113.7" y1="918.1" x2="1119" y2="918.1" stroke="#222" stroke-width="1.2"/>
<line x1="1113.7" y1="1001.2" x2="1119" y2="1001.2" stroke="#222" stroke-width="1.2"/>
<line x1="1164.2" y1="1043" x2="1164.2" y2="1048.3" stroke="#222" stroke-width="1.2"/>
<line x1="1253.2" y1="1043" x2="1253.2" y2="1048.3" stroke="#222" stroke-width="1.2"/>
<line x1="1342.1" y1="1043" x2="1342.1" y2="1048.3" stroke="#222" stroke-width="1.2"/>
<line x1="1432" y1="1043" x2="1432" y2="1048.3" stroke="#222" stroke-width="1.2"/>
<line x1="1521.1" y1="1043" x2="1521.1" y2="1048.3" stroke="#222" stroke-width="1.2"/>
<line x1="934.4" y1="517.7" x2="939.2" y2="517.7" stroke="#222" stroke-width="1.2"/>
<line x1="934.4" y1="448.35" x2="939.2" y2="448.35" stroke="#222" stroke-width="1.2"/>
<line x1="934.4" y1="379" x2="939.2" y2="379" stroke="#222" stroke-width="1.2"/>
<line x1="934.4" y1="309.65" x2="939.2" y2="309.65" stroke="#222" stroke-width="1.2"/>
<line x1="934.4" y1="240.3" x2="939.2" y2="240.3" stroke="#222" stroke-width="1.2"/>
<line x1="934.4" y1="170.95" x2="939.2" y2="170.95" stroke="#222" stroke-width="1.2"/>
<line x1="934.4" y1="101.6" x2="939.2" y2="101.6" stroke="#222" stroke-width="1.2"/>
<line x1="1615.6" y1="143.7" x2="1621.5" y2="143.7" stroke="#222" stroke-width="1.2"/>
<line x1="1615.6" y1="226.1" x2="1621.5" y2="226.1" stroke="#222" stroke-width="1.2"/>
<line x1="1615.6" y1="309.3" x2="1621.5" y2="309.3" stroke="#222" stroke-width="1.2"/>
<line x1="1615.6" y1="392.6" x2="1621.5" y2="392.6" stroke="#222" stroke-width="1.2"/>
<line x1="1615.6" y1="475.9" x2="1621.5" y2="475.9" stroke="#222" stroke-width="1.2"/>
<line x1="935.1" y1="628.6" x2="941.3" y2="628.6" stroke="#222" stroke-width="1.2"/>
<line x1="935.1" y1="674.75" x2="941.3" y2="674.75" stroke="#222" stroke-width="1.2"/>
<line x1="935.1" y1="720.9" x2="941.3" y2="720.9" stroke="#222" stroke-width="1.2"/>
<line x1="935.1" y1="767.05" x2="941.3" y2="767.05" stroke="#222" stroke-width="1.2"/>
<line x1="935.1" y1="813.2" x2="941.3" y2="813.2" stroke="#222" stroke-width="1.2"/>
<line x1="935.1" y1="859.35" x2="941.3" y2="859.35" stroke="#222" stroke-width="1.2"/>
<line x1="935.1" y1="905.5" x2="941.3" y2="905.5" stroke="#222" stroke-width="1.2"/>
<line x1="935.1" y1="951.65" x2="941.3" y2="951.65" stroke="#222" stroke-width="1.2"/>
<line x1="935.1" y1="997.8" x2="941.3" y2="997.8" stroke="#222" stroke-width="1.2"/>
<line x1="935.1" y1="1043.95" x2="941.3" y2="1043.95" stroke="#222" stroke-width="1.2"/>
<line x1="1614.6" y1="669.1" x2="1620.2" y2="669.1" stroke="#222" stroke-width="1.2"/>
<line x1="1614.6" y1="751.4" x2="1620.2" y2="751.4" stroke="#222" stroke-width="1.2"/>
<line x1="1614.6" y1="834.6" x2="1620.2" y2="834.6" stroke="#222" stroke-width="1.2"/>
<line x1="1614.6" y1="918.1" x2="1620.2" y2="918.1" stroke="#222" stroke-width="1.2"/>
<line x1="1614.6" y1="1001.2" x2="1620.2" y2="1001.2" stroke="#222" stroke-width="1.2"/>
<text class="sb" x="370.5" y="168.14" font-size="30.6">1.5k</text>
<text class="sb" x="377.67" y="273.09" font-size="30.6">1k</text>
<text class="sb" x="373.59" y="375.62" font-size="30.6">500</text>
<text class="sb" x="371.14" y="480.82" font-size="30.6">100</text>
<text class="sb" x="465.84" y="554.97" font-size="30.6">0.1</text>
<text class="sb" x="545.04" y="554.97" font-size="30.6">0.5</text>
<text class="sb" x="638.79" y="554.97" font-size="30.6">1.0</text>
<text class="sb" x="727.6" y="554.82" font-size="30.6">1.5</text>
<text class="sb" x="818.81" y="554.97" font-size="30.6">2.0</text>
<text class="sb" x="949.1" y="115.87" font-size="30.6">95%</text>
<text class="sb" x="949.16" y="530.02" font-size="30.6">65%</text>
<text class="sb" x="1056.61" y="159.82" font-size="30.6">2.0</text>
<text class="sb" x="1057" y="233.72" font-size="30.6">1.5</text>
<text class="sb" x="1054.04" y="319.87" font-size="30.6">1.0</text>
<text class="sb" x="1057.94" y="416.92" font-size="30.6">0.5</text>
<text class="sb" x="1055.59" y="493.87" font-size="30.6">0.1</text>
<text class="sb" x="1149.49" y="563.72" font-size="30.6">0.1</text>
<text class="sb" x="1228.34" y="563.72" font-size="30.6">0.5</text>
<text class="sb" x="1322.14" y="563.72" font-size="30.6">1.0</text>
<text class="sb" x="1411.2" y="563.57" font-size="30.6">1.5</text>
<text class="sb" x="1502.51" y="563.72" font-size="30.6">2.0</text>
<text class="sb" x="1630.05" y="160.37" font-size="30.6">95%</text>
<text class="sb" x="1630.09" y="485.07" font-size="30.6">85%</text>
<text class="sb" x="371.4" y="693.34" font-size="30.6">1.5k</text>
<text class="sb" x="378.32" y="797.19" font-size="30.6">1k</text>
<text class="sb" x="374.54" y="901.12" font-size="30.6">500</text>
<text class="sb" x="372.19" y="1005.87" font-size="30.6">100</text>
<text class="sb" x="466.94" y="1078.97" font-size="30.6">0.1</text>
<text class="sb" x="545.94" y="1078.97" font-size="30.6">0.5</text>
<text class="sb" x="639.69" y="1078.97" font-size="30.6">1.0</text>
<text class="sb" x="728.6" y="1078.82" font-size="30.6">1.5</text>
<text class="sb" x="819.51" y="1078.97" font-size="30.6">2.0</text>
<text class="sb" x="948.59" y="646.97" font-size="30.6">1.2</text>
<text class="sb" x="947.46" y="1050.88" font-size="30.6">0.3</text>
<text class="sb" x="1058.06" y="679.82" font-size="30.6">2.0</text>
<text class="sb" x="1058.05" y="754.67" font-size="30.6">1.5</text>
<text class="sb" x="1055.29" y="840.82" font-size="30.6">1.0</text>
<text class="sb" x="1058.39" y="936.82" font-size="30.6">0.5</text>
<text class="sb" x="1056.44" y="1014.02" font-size="30.6">0.1</text>
<text class="sb" x="1150.34" y="1083.77" font-size="30.6">0.1</text>
<text class="sb" x="1229.04" y="1083.77" font-size="30.6">0.5</text>
<text class="sb" x="1323.14" y="1083.77" font-size="30.6">1.0</text>
<text class="sb" x="1411.7" y="1083.62" font-size="30.6">1.5</text>
<text class="sb" x="1503.06" y="1083.77" font-size="30.6">2.0</text>
<text class="sb" x="1632.8" y="679.77" font-size="30.6">1.4</text>
<text class="sb" x="1631.46" y="1013.92" font-size="30.6">0.6</text>
<text class="sb" x="382.03" y="108.87" font-size="42">(a)</text>
<text class="sb" x="1060.22" y="105.02" font-size="42">(b)</text>
<text class="sb" x="378.08" y="630.82" font-size="42">(c)</text>
<text class="sb" x="1060.62" y="626.82" font-size="42">(d)</text>
<text class="sb" x="372.72" y="304.18" font-size="33.8" transform="rotate(-90 372.72 304.18)">D</text>
<text class="sb" x="373.72" y="828.28" font-size="33.8" transform="rotate(-90 373.72 828.28)">D</text>
<rect x="947.3" y="204.4" width="47.4" height="196.9" stroke="#3a569b" stroke-width="1.5" fill="#e7e6e6"/>
<text class="sb" x="979.57" y="384.52" font-size="33" transform="rotate(-90 979.57 384.52)">Accuracy</text>
<rect x="1628.3" y="211" width="47.5" height="197.2" stroke="#3a569b" stroke-width="1.5" fill="#e7e6e6"/>
<text class="sb" x="1662.57" y="391.62" font-size="33" transform="rotate(-90 1662.57 391.62)">Accuracy</text>
<rect x="945.5" y="733.4" width="47.6" height="196.7" stroke="#3a569b" stroke-width="1.5" fill="#e7e6e6"/>
<text class="sb" x="980.09" y="919.27" font-size="33" transform="rotate(-90 980.09 919.27)">Separation</text>
<rect x="1623.1" y="734.2" width="47.9" height="196.7" stroke="#3a569b" stroke-width="1.5" fill="#e7e6e6"/>
<text class="sb" x="1657.24" y="922.32" font-size="33" transform="rotate(-90 1657.24 922.32)">Separation</text>
<rect x="926.8" y="1078.7" width="197.3" height="47.4" stroke="#3a569b" stroke-width="1.5" fill="#e7e6e6"/>
<text class="sb" x="960.02" y="1113.8" font-size="31.4">Learning</text>
<text class="mi" x="552" y="590.6" font-size="41">w</text>
<text class="cp" font-size="41" transform="translate(591.31 593.5) scale(1.217 1.04)">=</text>
<text class="mi" x="630.5" y="590.6" font-size="41">w</text>
<text class="mi" x="659.29" y="598.4" font-size="31">x</text>
<text class="cp" font-size="41" transform="translate(686.71 593.5) scale(1.217 1.04)">=</text>
<text class="mi" x="726.4" y="590.6" font-size="41">w</text>
<text class="mi" x="757.5" y="598.4" font-size="31">y</text>
<text class="mi" x="553.2" y="1115" font-size="41">w</text>
<text class="cp" font-size="41" transform="translate(592.51 1117.9) scale(1.217 1.04)">=</text>
<text class="mi" x="631.7" y="1115" font-size="41">w</text>
<text class="mi" x="660.49" y="1122.8" font-size="31">x</text>
<text class="cp" font-size="41" transform="translate(687.91 1117.9) scale(1.217 1.04)">=</text>
<text class="mi" x="727.6" y="1115" font-size="41">w</text>
<text class="mi" x="758.7" y="1122.8" font-size="31">y</text>
<text class="mi" x="1356.4" y="594.5" font-size="41">w</text>
<text class="mi" x="1385.19" y="602.3" font-size="31">x</text>
<text class="mi" x="1357" y="1115" font-size="41">w</text>
<text class="mi" x="1385.79" y="1122.8" font-size="31">x</text>
<text class="mi" x="1010.9" y="338.7" font-size="41">w</text>
<text class="mi" x="1042" y="346.5" font-size="31">y</text>
<text class="mi" x="1014.7" y="860.6" font-size="41">w</text>
<text class="mi" x="1045.8" y="868.4" font-size="31">y</text>
<text class="cp cb2" x="58.56" y="1173" font-size="48" word-spacing="-0.58">Figure 8: The learning accuracy as a (a) function of</text>
<text class="ci cb3" font-size="48" transform="translate(1053.02 1173) scale(1.089 1)">D</text>
<text class="cp cb2" x="1102.07" y="1173" font-size="48">and</text>
<text class="ci cb3" x="1184.18" y="1173" font-size="48">w</text>
<text class="cp cb2" x="1229.09" y="1173" font-size="48" word-spacing="-0.09">(b) function of</text>
<text class="ci cb3" x="1520.81" y="1173" font-size="48">w</text>
<text class="ci cb3" font-size="32.6" transform="translate(1556.01 1180) scale(1.244 1)">x</text>
<text class="cp cb2" x="1588.32" y="1173" font-size="48">and</text>
<text class="ci cb3" x="1670.18" y="1173" font-size="48">w</text>
<text class="ci cb3" x="1708.09" y="1180" font-size="32.6">y</text>
<text class="cp cb2" x="1726.23" y="1173" font-size="48" word-spacing="-0.98">; the learning</text>
<text class="cp cb2" x="59.33" y="1225.5" font-size="48" word-spacing="0.77">separation as a (c) function of</text>
<text class="ci cb3" font-size="48" transform="translate(650.51 1225.5) scale(1.053 1)">D</text>
<text class="cp cb2" x="699.57" y="1225.5" font-size="48">and</text>
<text class="ci cb3" x="782.93" y="1225.5" font-size="48">w</text>
<text class="cp cb2" x="830.34" y="1225.5" font-size="48" word-spacing="0.53">(d) function of</text>
<text class="ci cb3" x="1123.31" y="1225.5" font-size="48">w</text>
<text class="ci cb3" font-size="32.6" transform="translate(1160.52 1232.5) scale(1.278 1)">x</text>
<text class="cp cb2" x="1193.82" y="1225.5" font-size="48">and</text>
<text class="ci cb3" x="1276.31" y="1225.5" font-size="48">w</text>
<text class="ci cb3" x="1315.34" y="1232.5" font-size="32.6">y</text>
</svg>
</body></html>
